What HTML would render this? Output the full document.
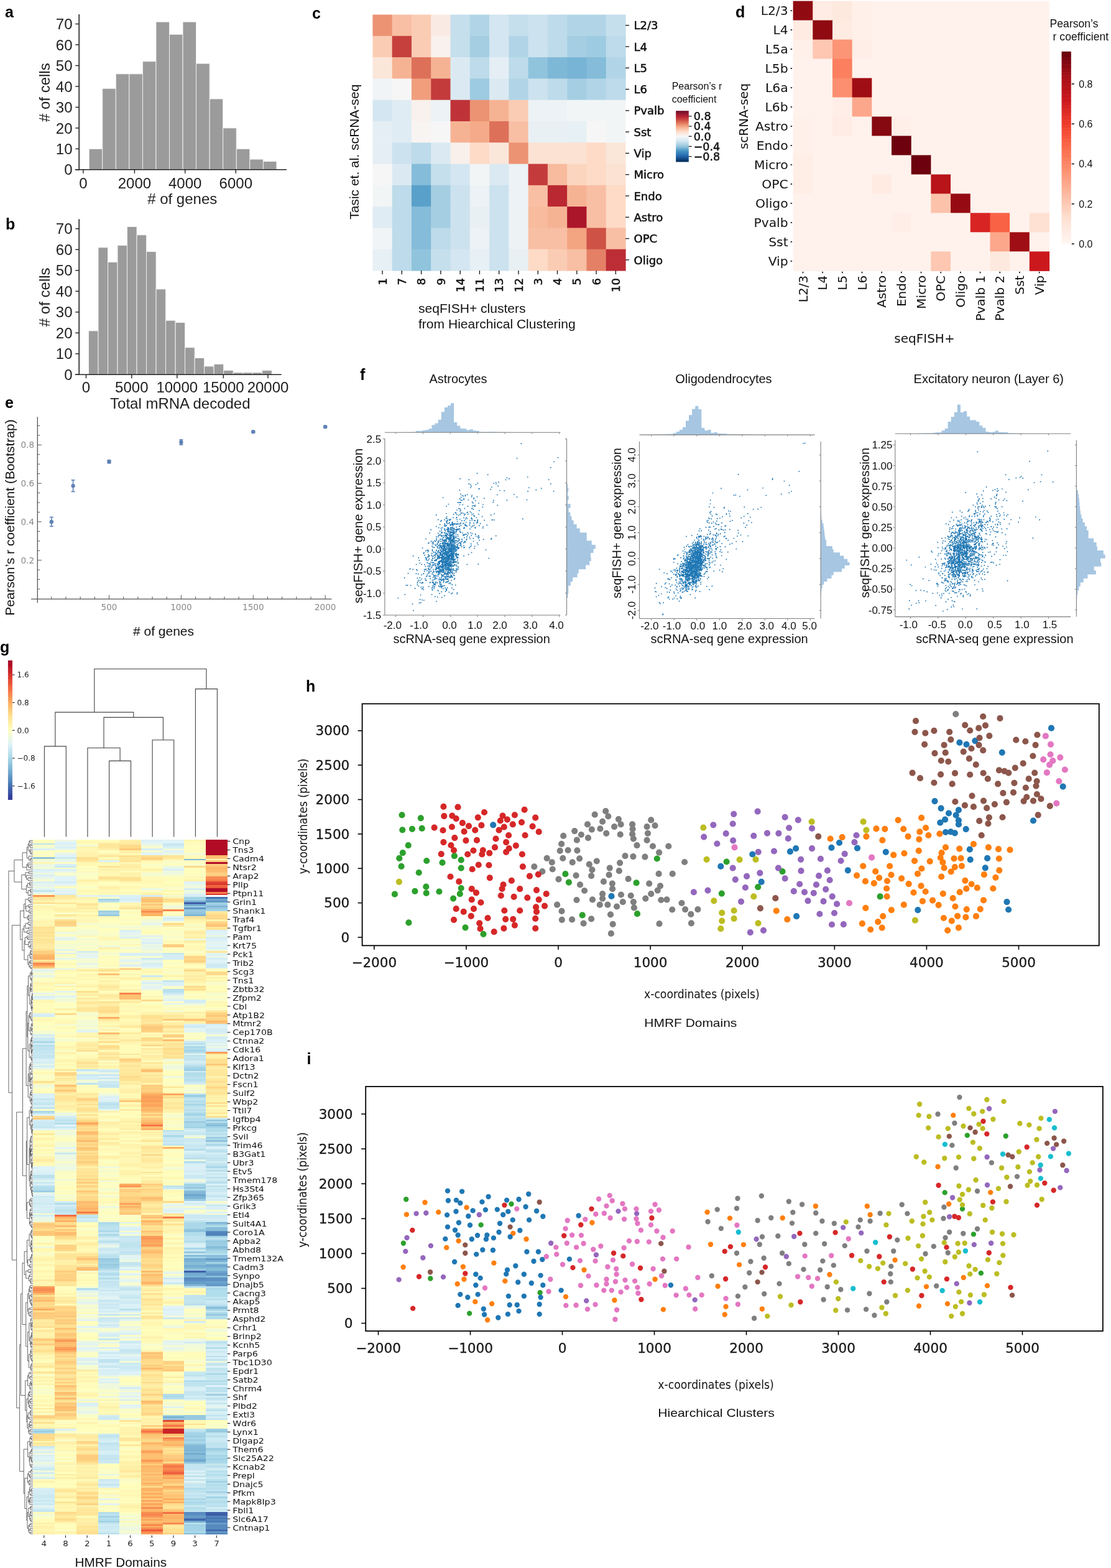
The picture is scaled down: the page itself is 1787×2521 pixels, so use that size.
<!DOCTYPE html>
<html><head><meta charset="utf-8"><title>Figure</title>
<style>html,body{margin:0;padding:0;background:#fff;} svg{display:block;}</style></head>
<body><svg width="1787" height="2521" viewBox="0 0 1787 2521" shape-rendering="auto">
<rect x="0" y="0" width="1787" height="2521" fill="#fff"/>
<text x="8.0" y="27.7" style="font-family:'Liberation Sans',Arial,sans-serif;font-size:25px;font-weight:bold" text-anchor="start" fill="#000">a</text>
<text x="9.0" y="369.0" style="font-family:'Liberation Sans',Arial,sans-serif;font-size:25px;font-weight:bold" text-anchor="start" fill="#000">b</text>
<text x="502.0" y="30.0" style="font-family:'Liberation Sans',Arial,sans-serif;font-size:25px;font-weight:bold" text-anchor="start" fill="#000">c</text>
<text x="1183.0" y="28.0" style="font-family:'Liberation Sans',Arial,sans-serif;font-size:25px;font-weight:bold" text-anchor="start" fill="#000">d</text>
<text x="8.0" y="656.0" style="font-family:'Liberation Sans',Arial,sans-serif;font-size:25px;font-weight:bold" text-anchor="start" fill="#000">e</text>
<text x="579.0" y="611.0" style="font-family:'Liberation Sans',Arial,sans-serif;font-size:25px;font-weight:bold" text-anchor="start" fill="#000">f</text>
<text x="0.0" y="1049.0" style="font-family:'Liberation Sans',Arial,sans-serif;font-size:25px;font-weight:bold" text-anchor="start" fill="#000">g</text>
<text x="492.0" y="1112.0" style="font-family:'Liberation Sans',Arial,sans-serif;font-size:25px;font-weight:bold" text-anchor="start" fill="#000">h</text>
<text x="493.5" y="1711.0" style="font-family:'Liberation Sans',Arial,sans-serif;font-size:25px;font-weight:bold" text-anchor="start" fill="#000">i</text>
<rect x="143.20" y="239.33" width="21.55" height="33.47" fill="#9b9b9b" stroke="#f4f4f4" stroke-width="0.9"/>
<rect x="164.75" y="142.27" width="21.55" height="130.53" fill="#9b9b9b" stroke="#f4f4f4" stroke-width="0.9"/>
<rect x="186.30" y="118.84" width="21.55" height="153.96" fill="#9b9b9b" stroke="#f4f4f4" stroke-width="0.9"/>
<rect x="207.85" y="118.84" width="21.55" height="153.96" fill="#9b9b9b" stroke="#f4f4f4" stroke-width="0.9"/>
<rect x="229.40" y="98.76" width="21.55" height="174.04" fill="#9b9b9b" stroke="#f4f4f4" stroke-width="0.9"/>
<rect x="250.95" y="35.16" width="21.55" height="237.64" fill="#9b9b9b" stroke="#f4f4f4" stroke-width="0.9"/>
<rect x="272.50" y="55.25" width="21.55" height="217.56" fill="#9b9b9b" stroke="#f4f4f4" stroke-width="0.9"/>
<rect x="294.05" y="35.16" width="21.55" height="237.64" fill="#9b9b9b" stroke="#f4f4f4" stroke-width="0.9"/>
<rect x="315.60" y="102.10" width="21.55" height="170.70" fill="#9b9b9b" stroke="#f4f4f4" stroke-width="0.9"/>
<rect x="337.15" y="159.00" width="21.55" height="113.80" fill="#9b9b9b" stroke="#f4f4f4" stroke-width="0.9"/>
<rect x="358.70" y="205.86" width="21.55" height="66.94" fill="#9b9b9b" stroke="#f4f4f4" stroke-width="0.9"/>
<rect x="380.25" y="239.33" width="21.55" height="33.47" fill="#9b9b9b" stroke="#f4f4f4" stroke-width="0.9"/>
<rect x="401.80" y="256.06" width="21.55" height="16.73" fill="#9b9b9b" stroke="#f4f4f4" stroke-width="0.9"/>
<rect x="423.35" y="259.41" width="21.55" height="13.39" fill="#9b9b9b" stroke="#f4f4f4" stroke-width="0.9"/>
<line x1="127.20" y1="23.00" x2="127.20" y2="273.60" stroke="#222" stroke-width="1.6"/>
<line x1="121.00" y1="272.80" x2="460.90" y2="272.80" stroke="#222" stroke-width="1.6"/>
<line x1="121.20" y1="272.80" x2="127.20" y2="272.80" stroke="#222" stroke-width="1.4"/>
<text x="116.5" y="281.4" style="font-family:'Liberation Sans',Arial,sans-serif;font-size:24px;font-weight:normal" text-anchor="end" fill="#1e1e1e">0</text>
<line x1="121.20" y1="239.33" x2="127.20" y2="239.33" stroke="#222" stroke-width="1.4"/>
<text x="116.5" y="247.9" style="font-family:'Liberation Sans',Arial,sans-serif;font-size:24px;font-weight:normal" text-anchor="end" fill="#1e1e1e">10</text>
<line x1="121.20" y1="205.86" x2="127.20" y2="205.86" stroke="#222" stroke-width="1.4"/>
<text x="116.5" y="214.5" style="font-family:'Liberation Sans',Arial,sans-serif;font-size:24px;font-weight:normal" text-anchor="end" fill="#1e1e1e">20</text>
<line x1="121.20" y1="172.39" x2="127.20" y2="172.39" stroke="#222" stroke-width="1.4"/>
<text x="116.5" y="181.0" style="font-family:'Liberation Sans',Arial,sans-serif;font-size:24px;font-weight:normal" text-anchor="end" fill="#1e1e1e">30</text>
<line x1="121.20" y1="138.92" x2="127.20" y2="138.92" stroke="#222" stroke-width="1.4"/>
<text x="116.5" y="147.5" style="font-family:'Liberation Sans',Arial,sans-serif;font-size:24px;font-weight:normal" text-anchor="end" fill="#1e1e1e">40</text>
<line x1="121.20" y1="105.45" x2="127.20" y2="105.45" stroke="#222" stroke-width="1.4"/>
<text x="116.5" y="114.1" style="font-family:'Liberation Sans',Arial,sans-serif;font-size:24px;font-weight:normal" text-anchor="end" fill="#1e1e1e">50</text>
<line x1="121.20" y1="71.98" x2="127.20" y2="71.98" stroke="#222" stroke-width="1.4"/>
<text x="116.5" y="80.6" style="font-family:'Liberation Sans',Arial,sans-serif;font-size:24px;font-weight:normal" text-anchor="end" fill="#1e1e1e">60</text>
<line x1="121.20" y1="38.51" x2="127.20" y2="38.51" stroke="#222" stroke-width="1.4"/>
<text x="116.5" y="47.1" style="font-family:'Liberation Sans',Arial,sans-serif;font-size:24px;font-weight:normal" text-anchor="end" fill="#1e1e1e">70</text>
<line x1="133.90" y1="272.80" x2="133.90" y2="278.80" stroke="#222" stroke-width="1.4"/>
<text x="133.9" y="302.5" style="font-family:'Liberation Sans',Arial,sans-serif;font-size:24px;font-weight:normal" text-anchor="middle" fill="#1e1e1e">0</text>
<line x1="216.40" y1="272.80" x2="216.40" y2="278.80" stroke="#222" stroke-width="1.4"/>
<text x="216.4" y="302.5" style="font-family:'Liberation Sans',Arial,sans-serif;font-size:24px;font-weight:normal" text-anchor="middle" fill="#1e1e1e">2000</text>
<line x1="297.70" y1="272.80" x2="297.70" y2="278.80" stroke="#222" stroke-width="1.4"/>
<text x="297.7" y="302.5" style="font-family:'Liberation Sans',Arial,sans-serif;font-size:24px;font-weight:normal" text-anchor="middle" fill="#1e1e1e">4000</text>
<line x1="379.30" y1="272.80" x2="379.30" y2="278.80" stroke="#222" stroke-width="1.4"/>
<text x="379.3" y="302.5" style="font-family:'Liberation Sans',Arial,sans-serif;font-size:24px;font-weight:normal" text-anchor="middle" fill="#1e1e1e">6000</text>
<text x="80.0" y="148.7" style="font-family:'Liberation Sans',Arial,sans-serif;font-size:24px;font-weight:normal" text-anchor="middle" fill="#1e1e1e" transform="rotate(-90 80.0 148.7)"># of cells</text>
<text x="293.2" y="327.5" style="font-family:'Liberation Sans',Arial,sans-serif;font-size:24px;font-weight:normal" text-anchor="middle" fill="#1e1e1e"># of genes</text>
<rect x="142.50" y="531.93" width="15.51" height="70.37" fill="#9b9b9b" stroke="#f4f4f4" stroke-width="0.9"/>
<rect x="158.01" y="397.89" width="15.51" height="204.41" fill="#9b9b9b" stroke="#f4f4f4" stroke-width="0.9"/>
<rect x="173.52" y="421.35" width="15.51" height="180.95" fill="#9b9b9b" stroke="#f4f4f4" stroke-width="0.9"/>
<rect x="189.03" y="394.54" width="15.51" height="207.76" fill="#9b9b9b" stroke="#f4f4f4" stroke-width="0.9"/>
<rect x="204.54" y="364.38" width="15.51" height="237.92" fill="#9b9b9b" stroke="#f4f4f4" stroke-width="0.9"/>
<rect x="220.05" y="377.78" width="15.51" height="224.52" fill="#9b9b9b" stroke="#f4f4f4" stroke-width="0.9"/>
<rect x="235.56" y="404.59" width="15.51" height="197.71" fill="#9b9b9b" stroke="#f4f4f4" stroke-width="0.9"/>
<rect x="251.07" y="464.91" width="15.51" height="137.39" fill="#9b9b9b" stroke="#f4f4f4" stroke-width="0.9"/>
<rect x="266.58" y="515.17" width="15.51" height="87.13" fill="#9b9b9b" stroke="#f4f4f4" stroke-width="0.9"/>
<rect x="282.09" y="518.52" width="15.51" height="83.78" fill="#9b9b9b" stroke="#f4f4f4" stroke-width="0.9"/>
<rect x="297.60" y="558.74" width="15.51" height="43.56" fill="#9b9b9b" stroke="#f4f4f4" stroke-width="0.9"/>
<rect x="313.11" y="575.49" width="15.51" height="26.81" fill="#9b9b9b" stroke="#f4f4f4" stroke-width="0.9"/>
<rect x="328.62" y="588.90" width="15.51" height="13.40" fill="#9b9b9b" stroke="#f4f4f4" stroke-width="0.9"/>
<rect x="344.13" y="585.54" width="15.51" height="16.75" fill="#9b9b9b" stroke="#f4f4f4" stroke-width="0.9"/>
<rect x="359.64" y="595.60" width="15.51" height="6.70" fill="#9b9b9b" stroke="#f4f4f4" stroke-width="0.9"/>
<rect x="375.15" y="598.95" width="15.51" height="3.35" fill="#9b9b9b" stroke="#f4f4f4" stroke-width="0.9"/>
<rect x="390.66" y="598.95" width="15.51" height="3.35" fill="#9b9b9b" stroke="#f4f4f4" stroke-width="0.9"/>
<rect x="406.17" y="598.95" width="15.51" height="3.35" fill="#9b9b9b" stroke="#f4f4f4" stroke-width="0.9"/>
<rect x="421.68" y="595.60" width="15.51" height="6.70" fill="#9b9b9b" stroke="#f4f4f4" stroke-width="0.9"/>
<line x1="127.20" y1="352.30" x2="127.20" y2="603.10" stroke="#222" stroke-width="1.6"/>
<line x1="121.00" y1="602.30" x2="452.60" y2="602.30" stroke="#222" stroke-width="1.6"/>
<line x1="121.20" y1="602.30" x2="127.20" y2="602.30" stroke="#222" stroke-width="1.4"/>
<text x="116.5" y="610.9" style="font-family:'Liberation Sans',Arial,sans-serif;font-size:24px;font-weight:normal" text-anchor="end" fill="#1e1e1e">0</text>
<line x1="121.20" y1="568.79" x2="127.20" y2="568.79" stroke="#222" stroke-width="1.4"/>
<text x="116.5" y="577.4" style="font-family:'Liberation Sans',Arial,sans-serif;font-size:24px;font-weight:normal" text-anchor="end" fill="#1e1e1e">10</text>
<line x1="121.20" y1="535.28" x2="127.20" y2="535.28" stroke="#222" stroke-width="1.4"/>
<text x="116.5" y="543.9" style="font-family:'Liberation Sans',Arial,sans-serif;font-size:24px;font-weight:normal" text-anchor="end" fill="#1e1e1e">20</text>
<line x1="121.20" y1="501.77" x2="127.20" y2="501.77" stroke="#222" stroke-width="1.4"/>
<text x="116.5" y="510.4" style="font-family:'Liberation Sans',Arial,sans-serif;font-size:24px;font-weight:normal" text-anchor="end" fill="#1e1e1e">30</text>
<line x1="121.20" y1="468.26" x2="127.20" y2="468.26" stroke="#222" stroke-width="1.4"/>
<text x="116.5" y="476.9" style="font-family:'Liberation Sans',Arial,sans-serif;font-size:24px;font-weight:normal" text-anchor="end" fill="#1e1e1e">40</text>
<line x1="121.20" y1="434.75" x2="127.20" y2="434.75" stroke="#222" stroke-width="1.4"/>
<text x="116.5" y="443.3" style="font-family:'Liberation Sans',Arial,sans-serif;font-size:24px;font-weight:normal" text-anchor="end" fill="#1e1e1e">50</text>
<line x1="121.20" y1="401.24" x2="127.20" y2="401.24" stroke="#222" stroke-width="1.4"/>
<text x="116.5" y="409.8" style="font-family:'Liberation Sans',Arial,sans-serif;font-size:24px;font-weight:normal" text-anchor="end" fill="#1e1e1e">60</text>
<line x1="121.20" y1="367.73" x2="127.20" y2="367.73" stroke="#222" stroke-width="1.4"/>
<text x="116.5" y="376.3" style="font-family:'Liberation Sans',Arial,sans-serif;font-size:24px;font-weight:normal" text-anchor="end" fill="#1e1e1e">70</text>
<line x1="138.50" y1="602.30" x2="138.50" y2="608.30" stroke="#222" stroke-width="1.4"/>
<text x="138.5" y="631.0" style="font-family:'Liberation Sans',Arial,sans-serif;font-size:24px;font-weight:normal" text-anchor="middle" fill="#1e1e1e">0</text>
<line x1="211.80" y1="602.30" x2="211.80" y2="608.30" stroke="#222" stroke-width="1.4"/>
<text x="211.8" y="631.0" style="font-family:'Liberation Sans',Arial,sans-serif;font-size:24px;font-weight:normal" text-anchor="middle" fill="#1e1e1e">5000</text>
<line x1="284.80" y1="602.30" x2="284.80" y2="608.30" stroke="#222" stroke-width="1.4"/>
<text x="284.8" y="631.0" style="font-family:'Liberation Sans',Arial,sans-serif;font-size:24px;font-weight:normal" text-anchor="middle" fill="#1e1e1e">10000</text>
<line x1="359.30" y1="602.30" x2="359.30" y2="608.30" stroke="#222" stroke-width="1.4"/>
<text x="359.3" y="631.0" style="font-family:'Liberation Sans',Arial,sans-serif;font-size:24px;font-weight:normal" text-anchor="middle" fill="#1e1e1e">15000</text>
<line x1="431.00" y1="602.30" x2="431.00" y2="608.30" stroke="#222" stroke-width="1.4"/>
<text x="431.0" y="631.0" style="font-family:'Liberation Sans',Arial,sans-serif;font-size:24px;font-weight:normal" text-anchor="middle" fill="#1e1e1e">20000</text>
<text x="80.0" y="477.8" style="font-family:'Liberation Sans',Arial,sans-serif;font-size:24px;font-weight:normal" text-anchor="middle" fill="#1e1e1e" transform="rotate(-90 80.0 477.8)"># of cells</text>
<text x="289.8" y="657.0" style="font-family:'Liberation Sans',Arial,sans-serif;font-size:24px;font-weight:normal" text-anchor="middle" fill="#1e1e1e">Total mRNA decoded</text>
<rect x="599.40" y="23.50" width="31.88" height="34.89" fill="#ec9374"/>
<rect x="630.68" y="23.50" width="31.88" height="34.89" fill="#f8bfa4"/>
<rect x="661.95" y="23.50" width="31.88" height="34.89" fill="#fbccb4"/>
<rect x="693.23" y="23.50" width="31.88" height="34.89" fill="#f9ebe3"/>
<rect x="724.51" y="23.50" width="31.88" height="34.89" fill="#c5dfec"/>
<rect x="755.78" y="23.50" width="31.88" height="34.89" fill="#b1d5e7"/>
<rect x="787.06" y="23.50" width="31.88" height="34.89" fill="#d4e6f1"/>
<rect x="818.34" y="23.50" width="31.88" height="34.89" fill="#c5dfec"/>
<rect x="849.62" y="23.50" width="31.88" height="34.89" fill="#cce2ef"/>
<rect x="880.89" y="23.50" width="31.88" height="34.89" fill="#bddbea"/>
<rect x="912.17" y="23.50" width="31.88" height="34.89" fill="#b1d5e7"/>
<rect x="943.45" y="23.50" width="31.88" height="34.89" fill="#b1d5e7"/>
<rect x="974.72" y="23.50" width="31.88" height="34.89" fill="#c5dfec"/>
<rect x="599.40" y="57.79" width="31.88" height="34.89" fill="#fbccb4"/>
<rect x="630.68" y="57.79" width="31.88" height="34.89" fill="#c6413e"/>
<rect x="661.95" y="57.79" width="31.88" height="34.89" fill="#fbccb4"/>
<rect x="693.23" y="57.79" width="31.88" height="34.89" fill="#f8f1ed"/>
<rect x="724.51" y="57.79" width="31.88" height="34.89" fill="#c5dfec"/>
<rect x="755.78" y="57.79" width="31.88" height="34.89" fill="#a5cee3"/>
<rect x="787.06" y="57.79" width="31.88" height="34.89" fill="#d4e6f1"/>
<rect x="818.34" y="57.79" width="31.88" height="34.89" fill="#b1d5e7"/>
<rect x="849.62" y="57.79" width="31.88" height="34.89" fill="#cce2ef"/>
<rect x="880.89" y="57.79" width="31.88" height="34.89" fill="#bddbea"/>
<rect x="912.17" y="57.79" width="31.88" height="34.89" fill="#a5cee3"/>
<rect x="943.45" y="57.79" width="31.88" height="34.89" fill="#9dcbe1"/>
<rect x="974.72" y="57.79" width="31.88" height="34.89" fill="#bddbea"/>
<rect x="599.40" y="92.08" width="31.88" height="34.89" fill="#fbe6da"/>
<rect x="630.68" y="92.08" width="31.88" height="34.89" fill="#f6b394"/>
<rect x="661.95" y="92.08" width="31.88" height="34.89" fill="#dd7059"/>
<rect x="693.23" y="92.08" width="31.88" height="34.89" fill="#f6b394"/>
<rect x="724.51" y="92.08" width="31.88" height="34.89" fill="#dbeaf2"/>
<rect x="755.78" y="92.08" width="31.88" height="34.89" fill="#bddbea"/>
<rect x="787.06" y="92.08" width="31.88" height="34.89" fill="#e4eef4"/>
<rect x="818.34" y="92.08" width="31.88" height="34.89" fill="#bddbea"/>
<rect x="849.62" y="92.08" width="31.88" height="34.89" fill="#90c4dd"/>
<rect x="880.89" y="92.08" width="31.88" height="34.89" fill="#7eb8d7"/>
<rect x="912.17" y="92.08" width="31.88" height="34.89" fill="#78b4d5"/>
<rect x="943.45" y="92.08" width="31.88" height="34.89" fill="#84bcd9"/>
<rect x="974.72" y="92.08" width="31.88" height="34.89" fill="#b1d5e7"/>
<rect x="599.40" y="126.38" width="31.88" height="34.89" fill="#f0f4f6"/>
<rect x="630.68" y="126.38" width="31.88" height="34.89" fill="#f7f6f6"/>
<rect x="661.95" y="126.38" width="31.88" height="34.89" fill="#f19e7d"/>
<rect x="693.23" y="126.38" width="31.88" height="34.89" fill="#c43b3c"/>
<rect x="724.51" y="126.38" width="31.88" height="34.89" fill="#dbeaf2"/>
<rect x="755.78" y="126.38" width="31.88" height="34.89" fill="#9dcbe1"/>
<rect x="787.06" y="126.38" width="31.88" height="34.89" fill="#dbeaf2"/>
<rect x="818.34" y="126.38" width="31.88" height="34.89" fill="#b1d5e7"/>
<rect x="849.62" y="126.38" width="31.88" height="34.89" fill="#cce2ef"/>
<rect x="880.89" y="126.38" width="31.88" height="34.89" fill="#bddbea"/>
<rect x="912.17" y="126.38" width="31.88" height="34.89" fill="#a5cee3"/>
<rect x="943.45" y="126.38" width="31.88" height="34.89" fill="#b1d5e7"/>
<rect x="974.72" y="126.38" width="31.88" height="34.89" fill="#bddbea"/>
<rect x="599.40" y="160.67" width="31.88" height="34.89" fill="#d4e6f1"/>
<rect x="630.68" y="160.67" width="31.88" height="34.89" fill="#e0ecf3"/>
<rect x="661.95" y="160.67" width="31.88" height="34.89" fill="#f8f1ed"/>
<rect x="693.23" y="160.67" width="31.88" height="34.89" fill="#ecf2f5"/>
<rect x="724.51" y="160.67" width="31.88" height="34.89" fill="#bf3338"/>
<rect x="755.78" y="160.67" width="31.88" height="34.89" fill="#ec9374"/>
<rect x="787.06" y="160.67" width="31.88" height="34.89" fill="#f6b394"/>
<rect x="818.34" y="160.67" width="31.88" height="34.89" fill="#fbccb4"/>
<rect x="849.62" y="160.67" width="31.88" height="34.89" fill="#ecf2f5"/>
<rect x="880.89" y="160.67" width="31.88" height="34.89" fill="#ecf2f5"/>
<rect x="912.17" y="160.67" width="31.88" height="34.89" fill="#f2f5f6"/>
<rect x="943.45" y="160.67" width="31.88" height="34.89" fill="#f2f5f6"/>
<rect x="974.72" y="160.67" width="31.88" height="34.89" fill="#f2f5f6"/>
<rect x="599.40" y="194.96" width="31.88" height="34.89" fill="#e4eef4"/>
<rect x="630.68" y="194.96" width="31.88" height="34.89" fill="#e0ecf3"/>
<rect x="661.95" y="194.96" width="31.88" height="34.89" fill="#f8f4f2"/>
<rect x="693.23" y="194.96" width="31.88" height="34.89" fill="#f7f6f6"/>
<rect x="724.51" y="194.96" width="31.88" height="34.89" fill="#f6b394"/>
<rect x="755.78" y="194.96" width="31.88" height="34.89" fill="#f5aa89"/>
<rect x="787.06" y="194.96" width="31.88" height="34.89" fill="#dd7059"/>
<rect x="818.34" y="194.96" width="31.88" height="34.89" fill="#f8bfa4"/>
<rect x="849.62" y="194.96" width="31.88" height="34.89" fill="#e9f0f4"/>
<rect x="880.89" y="194.96" width="31.88" height="34.89" fill="#e9f0f4"/>
<rect x="912.17" y="194.96" width="31.88" height="34.89" fill="#e7f0f4"/>
<rect x="943.45" y="194.96" width="31.88" height="34.89" fill="#f7f6f6"/>
<rect x="974.72" y="194.96" width="31.88" height="34.89" fill="#f2f5f6"/>
<rect x="599.40" y="229.25" width="31.88" height="34.89" fill="#e4eef4"/>
<rect x="630.68" y="229.25" width="31.88" height="34.89" fill="#cce2ef"/>
<rect x="661.95" y="229.25" width="31.88" height="34.89" fill="#bddbea"/>
<rect x="693.23" y="229.25" width="31.88" height="34.89" fill="#dbeaf2"/>
<rect x="724.51" y="229.25" width="31.88" height="34.89" fill="#f9f0eb"/>
<rect x="755.78" y="229.25" width="31.88" height="34.89" fill="#fddbc7"/>
<rect x="787.06" y="229.25" width="31.88" height="34.89" fill="#fbe6da"/>
<rect x="818.34" y="229.25" width="31.88" height="34.89" fill="#ec9374"/>
<rect x="849.62" y="229.25" width="31.88" height="34.89" fill="#fce2d2"/>
<rect x="880.89" y="229.25" width="31.88" height="34.89" fill="#fce2d2"/>
<rect x="912.17" y="229.25" width="31.88" height="34.89" fill="#fce2d2"/>
<rect x="943.45" y="229.25" width="31.88" height="34.89" fill="#fddbc7"/>
<rect x="974.72" y="229.25" width="31.88" height="34.89" fill="#fbe6da"/>
<rect x="599.40" y="263.54" width="31.88" height="34.89" fill="#f7f6f6"/>
<rect x="630.68" y="263.54" width="31.88" height="34.89" fill="#dbeaf2"/>
<rect x="661.95" y="263.54" width="31.88" height="34.89" fill="#84bcd9"/>
<rect x="693.23" y="263.54" width="31.88" height="34.89" fill="#c5dfec"/>
<rect x="724.51" y="263.54" width="31.88" height="34.89" fill="#d4e6f1"/>
<rect x="755.78" y="263.54" width="31.88" height="34.89" fill="#f2f5f6"/>
<rect x="787.06" y="263.54" width="31.88" height="34.89" fill="#dbeaf2"/>
<rect x="818.34" y="263.54" width="31.88" height="34.89" fill="#ecf2f5"/>
<rect x="849.62" y="263.54" width="31.88" height="34.89" fill="#c43b3c"/>
<rect x="880.89" y="263.54" width="31.88" height="34.89" fill="#f8bb9e"/>
<rect x="912.17" y="263.54" width="31.88" height="34.89" fill="#fcd5bf"/>
<rect x="943.45" y="263.54" width="31.88" height="34.89" fill="#fddbc7"/>
<rect x="974.72" y="263.54" width="31.88" height="34.89" fill="#fce2d2"/>
<rect x="599.40" y="297.83" width="31.88" height="34.89" fill="#f2f5f6"/>
<rect x="630.68" y="297.83" width="31.88" height="34.89" fill="#bddbea"/>
<rect x="661.95" y="297.83" width="31.88" height="34.89" fill="#59a1ca"/>
<rect x="693.23" y="297.83" width="31.88" height="34.89" fill="#a5cee3"/>
<rect x="724.51" y="297.83" width="31.88" height="34.89" fill="#cce2ef"/>
<rect x="755.78" y="297.83" width="31.88" height="34.89" fill="#ecf2f5"/>
<rect x="787.06" y="297.83" width="31.88" height="34.89" fill="#cce2ef"/>
<rect x="818.34" y="297.83" width="31.88" height="34.89" fill="#ecf2f5"/>
<rect x="849.62" y="297.83" width="31.88" height="34.89" fill="#f8bfa4"/>
<rect x="880.89" y="297.83" width="31.88" height="34.89" fill="#ba2832"/>
<rect x="912.17" y="297.83" width="31.88" height="34.89" fill="#f6b394"/>
<rect x="943.45" y="297.83" width="31.88" height="34.89" fill="#f8bfa4"/>
<rect x="974.72" y="297.83" width="31.88" height="34.89" fill="#fddbc7"/>
<rect x="599.40" y="332.12" width="31.88" height="34.89" fill="#e0ecf3"/>
<rect x="630.68" y="332.12" width="31.88" height="34.89" fill="#bddbea"/>
<rect x="661.95" y="332.12" width="31.88" height="34.89" fill="#84bcd9"/>
<rect x="693.23" y="332.12" width="31.88" height="34.89" fill="#a5cee3"/>
<rect x="724.51" y="332.12" width="31.88" height="34.89" fill="#cce2ef"/>
<rect x="755.78" y="332.12" width="31.88" height="34.89" fill="#e9f0f4"/>
<rect x="787.06" y="332.12" width="31.88" height="34.89" fill="#cce2ef"/>
<rect x="818.34" y="332.12" width="31.88" height="34.89" fill="#edf2f5"/>
<rect x="849.62" y="332.12" width="31.88" height="34.89" fill="#f8bb9e"/>
<rect x="880.89" y="332.12" width="31.88" height="34.89" fill="#f6b394"/>
<rect x="912.17" y="332.12" width="31.88" height="34.89" fill="#ab162a"/>
<rect x="943.45" y="332.12" width="31.88" height="34.89" fill="#f8bfa4"/>
<rect x="974.72" y="332.12" width="31.88" height="34.89" fill="#fddbc7"/>
<rect x="599.40" y="366.42" width="31.88" height="34.89" fill="#f0f4f6"/>
<rect x="630.68" y="366.42" width="31.88" height="34.89" fill="#bddbea"/>
<rect x="661.95" y="366.42" width="31.88" height="34.89" fill="#84bcd9"/>
<rect x="693.23" y="366.42" width="31.88" height="34.89" fill="#bddbea"/>
<rect x="724.51" y="366.42" width="31.88" height="34.89" fill="#cce2ef"/>
<rect x="755.78" y="366.42" width="31.88" height="34.89" fill="#ecf2f5"/>
<rect x="787.06" y="366.42" width="31.88" height="34.89" fill="#cce2ef"/>
<rect x="818.34" y="366.42" width="31.88" height="34.89" fill="#edf2f5"/>
<rect x="849.62" y="366.42" width="31.88" height="34.89" fill="#f8bfa4"/>
<rect x="880.89" y="366.42" width="31.88" height="34.89" fill="#f8bfa4"/>
<rect x="912.17" y="366.42" width="31.88" height="34.89" fill="#f3a481"/>
<rect x="943.45" y="366.42" width="31.88" height="34.89" fill="#cf5246"/>
<rect x="974.72" y="366.42" width="31.88" height="34.89" fill="#f8bfa4"/>
<rect x="599.40" y="400.71" width="31.88" height="34.89" fill="#e7f0f4"/>
<rect x="630.68" y="400.71" width="31.88" height="34.89" fill="#bddbea"/>
<rect x="661.95" y="400.71" width="31.88" height="34.89" fill="#90c4dd"/>
<rect x="693.23" y="400.71" width="31.88" height="34.89" fill="#c5dfec"/>
<rect x="724.51" y="400.71" width="31.88" height="34.89" fill="#d4e6f1"/>
<rect x="755.78" y="400.71" width="31.88" height="34.89" fill="#e7f0f4"/>
<rect x="787.06" y="400.71" width="31.88" height="34.89" fill="#cce2ef"/>
<rect x="818.34" y="400.71" width="31.88" height="34.89" fill="#e9f0f4"/>
<rect x="849.62" y="400.71" width="31.88" height="34.89" fill="#fddbc7"/>
<rect x="880.89" y="400.71" width="31.88" height="34.89" fill="#fbccb4"/>
<rect x="912.17" y="400.71" width="31.88" height="34.89" fill="#f8bfa4"/>
<rect x="943.45" y="400.71" width="31.88" height="34.89" fill="#e48066"/>
<rect x="974.72" y="400.71" width="31.88" height="34.89" fill="#bd2d35"/>
<line x1="1006.00" y1="40.65" x2="1012.00" y2="40.65" stroke="#111" stroke-width="1.3"/>
<text x="1019.5" y="47.2" style="font-family:'DejaVu Sans','Liberation Sans',sans-serif;font-size:18px;font-weight:normal" text-anchor="start" fill="#111" stroke="#111" stroke-width="0.55">L2/3</text>
<line x1="1006.00" y1="74.94" x2="1012.00" y2="74.94" stroke="#111" stroke-width="1.3"/>
<text x="1019.5" y="81.5" style="font-family:'DejaVu Sans','Liberation Sans',sans-serif;font-size:18px;font-weight:normal" text-anchor="start" fill="#111" stroke="#111" stroke-width="0.55">L4</text>
<line x1="1006.00" y1="109.23" x2="1012.00" y2="109.23" stroke="#111" stroke-width="1.3"/>
<text x="1019.5" y="115.8" style="font-family:'DejaVu Sans','Liberation Sans',sans-serif;font-size:18px;font-weight:normal" text-anchor="start" fill="#111" stroke="#111" stroke-width="0.55">L5</text>
<line x1="1006.00" y1="143.52" x2="1012.00" y2="143.52" stroke="#111" stroke-width="1.3"/>
<text x="1019.5" y="150.1" style="font-family:'DejaVu Sans','Liberation Sans',sans-serif;font-size:18px;font-weight:normal" text-anchor="start" fill="#111" stroke="#111" stroke-width="0.55">L6</text>
<line x1="1006.00" y1="177.81" x2="1012.00" y2="177.81" stroke="#111" stroke-width="1.3"/>
<text x="1019.5" y="184.4" style="font-family:'DejaVu Sans','Liberation Sans',sans-serif;font-size:18px;font-weight:normal" text-anchor="start" fill="#111" stroke="#111" stroke-width="0.55">Pvalb</text>
<line x1="1006.00" y1="212.10" x2="1012.00" y2="212.10" stroke="#111" stroke-width="1.3"/>
<text x="1019.5" y="218.7" style="font-family:'DejaVu Sans','Liberation Sans',sans-serif;font-size:18px;font-weight:normal" text-anchor="start" fill="#111" stroke="#111" stroke-width="0.55">Sst</text>
<line x1="1006.00" y1="246.40" x2="1012.00" y2="246.40" stroke="#111" stroke-width="1.3"/>
<text x="1019.5" y="253.0" style="font-family:'DejaVu Sans','Liberation Sans',sans-serif;font-size:18px;font-weight:normal" text-anchor="start" fill="#111" stroke="#111" stroke-width="0.55">Vip</text>
<line x1="1006.00" y1="280.69" x2="1012.00" y2="280.69" stroke="#111" stroke-width="1.3"/>
<text x="1019.5" y="287.3" style="font-family:'DejaVu Sans','Liberation Sans',sans-serif;font-size:18px;font-weight:normal" text-anchor="start" fill="#111" stroke="#111" stroke-width="0.55">Micro</text>
<line x1="1006.00" y1="314.98" x2="1012.00" y2="314.98" stroke="#111" stroke-width="1.3"/>
<text x="1019.5" y="321.6" style="font-family:'DejaVu Sans','Liberation Sans',sans-serif;font-size:18px;font-weight:normal" text-anchor="start" fill="#111" stroke="#111" stroke-width="0.55">Endo</text>
<line x1="1006.00" y1="349.27" x2="1012.00" y2="349.27" stroke="#111" stroke-width="1.3"/>
<text x="1019.5" y="355.9" style="font-family:'DejaVu Sans','Liberation Sans',sans-serif;font-size:18px;font-weight:normal" text-anchor="start" fill="#111" stroke="#111" stroke-width="0.55">Astro</text>
<line x1="1006.00" y1="383.56" x2="1012.00" y2="383.56" stroke="#111" stroke-width="1.3"/>
<text x="1019.5" y="390.2" style="font-family:'DejaVu Sans','Liberation Sans',sans-serif;font-size:18px;font-weight:normal" text-anchor="start" fill="#111" stroke="#111" stroke-width="0.55">OPC</text>
<line x1="1006.00" y1="417.85" x2="1012.00" y2="417.85" stroke="#111" stroke-width="1.3"/>
<text x="1019.5" y="424.5" style="font-family:'DejaVu Sans','Liberation Sans',sans-serif;font-size:18px;font-weight:normal" text-anchor="start" fill="#111" stroke="#111" stroke-width="0.55">Oligo</text>
<line x1="615.04" y1="435.00" x2="615.04" y2="441.00" stroke="#111" stroke-width="1.3"/>
<text x="621.6" y="447.0" style="font-family:'DejaVu Sans','Liberation Sans',sans-serif;font-size:18px;font-weight:normal" text-anchor="end" fill="#111" transform="rotate(-90 621.6 447.0)" stroke="#111" stroke-width="0.55">1</text>
<line x1="646.32" y1="435.00" x2="646.32" y2="441.00" stroke="#111" stroke-width="1.3"/>
<text x="652.9" y="447.0" style="font-family:'DejaVu Sans','Liberation Sans',sans-serif;font-size:18px;font-weight:normal" text-anchor="end" fill="#111" transform="rotate(-90 652.9 447.0)" stroke="#111" stroke-width="0.55">7</text>
<line x1="677.59" y1="435.00" x2="677.59" y2="441.00" stroke="#111" stroke-width="1.3"/>
<text x="684.2" y="447.0" style="font-family:'DejaVu Sans','Liberation Sans',sans-serif;font-size:18px;font-weight:normal" text-anchor="end" fill="#111" transform="rotate(-90 684.2 447.0)" stroke="#111" stroke-width="0.55">8</text>
<line x1="708.87" y1="435.00" x2="708.87" y2="441.00" stroke="#111" stroke-width="1.3"/>
<text x="715.5" y="447.0" style="font-family:'DejaVu Sans','Liberation Sans',sans-serif;font-size:18px;font-weight:normal" text-anchor="end" fill="#111" transform="rotate(-90 715.5 447.0)" stroke="#111" stroke-width="0.55">9</text>
<line x1="740.15" y1="435.00" x2="740.15" y2="441.00" stroke="#111" stroke-width="1.3"/>
<text x="746.7" y="447.0" style="font-family:'DejaVu Sans','Liberation Sans',sans-serif;font-size:18px;font-weight:normal" text-anchor="end" fill="#111" transform="rotate(-90 746.7 447.0)" stroke="#111" stroke-width="0.55">14</text>
<line x1="771.42" y1="435.00" x2="771.42" y2="441.00" stroke="#111" stroke-width="1.3"/>
<text x="778.0" y="447.0" style="font-family:'DejaVu Sans','Liberation Sans',sans-serif;font-size:18px;font-weight:normal" text-anchor="end" fill="#111" transform="rotate(-90 778.0 447.0)" stroke="#111" stroke-width="0.55">11</text>
<line x1="802.70" y1="435.00" x2="802.70" y2="441.00" stroke="#111" stroke-width="1.3"/>
<text x="809.3" y="447.0" style="font-family:'DejaVu Sans','Liberation Sans',sans-serif;font-size:18px;font-weight:normal" text-anchor="end" fill="#111" transform="rotate(-90 809.3 447.0)" stroke="#111" stroke-width="0.55">13</text>
<line x1="833.98" y1="435.00" x2="833.98" y2="441.00" stroke="#111" stroke-width="1.3"/>
<text x="840.6" y="447.0" style="font-family:'DejaVu Sans','Liberation Sans',sans-serif;font-size:18px;font-weight:normal" text-anchor="end" fill="#111" transform="rotate(-90 840.6 447.0)" stroke="#111" stroke-width="0.55">12</text>
<line x1="865.25" y1="435.00" x2="865.25" y2="441.00" stroke="#111" stroke-width="1.3"/>
<text x="871.9" y="447.0" style="font-family:'DejaVu Sans','Liberation Sans',sans-serif;font-size:18px;font-weight:normal" text-anchor="end" fill="#111" transform="rotate(-90 871.9 447.0)" stroke="#111" stroke-width="0.55">3</text>
<line x1="896.53" y1="435.00" x2="896.53" y2="441.00" stroke="#111" stroke-width="1.3"/>
<text x="903.1" y="447.0" style="font-family:'DejaVu Sans','Liberation Sans',sans-serif;font-size:18px;font-weight:normal" text-anchor="end" fill="#111" transform="rotate(-90 903.1 447.0)" stroke="#111" stroke-width="0.55">4</text>
<line x1="927.81" y1="435.00" x2="927.81" y2="441.00" stroke="#111" stroke-width="1.3"/>
<text x="934.4" y="447.0" style="font-family:'DejaVu Sans','Liberation Sans',sans-serif;font-size:18px;font-weight:normal" text-anchor="end" fill="#111" transform="rotate(-90 934.4 447.0)" stroke="#111" stroke-width="0.55">5</text>
<line x1="959.08" y1="435.00" x2="959.08" y2="441.00" stroke="#111" stroke-width="1.3"/>
<text x="965.7" y="447.0" style="font-family:'DejaVu Sans','Liberation Sans',sans-serif;font-size:18px;font-weight:normal" text-anchor="end" fill="#111" transform="rotate(-90 965.7 447.0)" stroke="#111" stroke-width="0.55">6</text>
<line x1="990.36" y1="435.00" x2="990.36" y2="441.00" stroke="#111" stroke-width="1.3"/>
<text x="997.0" y="447.0" style="font-family:'DejaVu Sans','Liberation Sans',sans-serif;font-size:18px;font-weight:normal" text-anchor="end" fill="#111" transform="rotate(-90 997.0 447.0)" stroke="#111" stroke-width="0.55">10</text>
<text x="673.0" y="503.0" style="font-family:'Liberation Sans',Arial,sans-serif;font-size:20.5px;font-weight:normal" text-anchor="start" fill="#111" textLength="172.6" lengthAdjust="spacingAndGlyphs">seqFISH+ clusters</text>
<text x="673.0" y="528.0" style="font-family:'Liberation Sans',Arial,sans-serif;font-size:20.5px;font-weight:normal" text-anchor="start" fill="#111" textLength="252.7" lengthAdjust="spacingAndGlyphs">from Hiearchical Clustering</text>
<text x="577.0" y="244.2" style="font-family:'Liberation Sans',Arial,sans-serif;font-size:21px;font-weight:normal" text-anchor="middle" fill="#111" transform="rotate(-90 577.0 244.2)">Tasic et. al. scRNA-seq</text>
<rect x="1087.20" y="178.20" width="20.50" height="1.52" fill="#67001f"/>
<rect x="1087.20" y="179.22" width="20.50" height="1.52" fill="#700320"/>
<rect x="1087.20" y="180.24" width="20.50" height="1.52" fill="#790622"/>
<rect x="1087.20" y="181.26" width="20.50" height="1.52" fill="#810823"/>
<rect x="1087.20" y="182.28" width="20.50" height="1.52" fill="#8a0b25"/>
<rect x="1087.20" y="183.31" width="20.50" height="1.52" fill="#960f27"/>
<rect x="1087.20" y="184.33" width="20.50" height="1.52" fill="#9f1228"/>
<rect x="1087.20" y="185.35" width="20.50" height="1.52" fill="#a81529"/>
<rect x="1087.20" y="186.37" width="20.50" height="1.52" fill="#b1182b"/>
<rect x="1087.20" y="187.39" width="20.50" height="1.52" fill="#b72230"/>
<rect x="1087.20" y="188.41" width="20.50" height="1.52" fill="#bb2a34"/>
<rect x="1087.20" y="189.43" width="20.50" height="1.52" fill="#bf3338"/>
<rect x="1087.20" y="190.45" width="20.50" height="1.52" fill="#c43b3c"/>
<rect x="1087.20" y="191.48" width="20.50" height="1.52" fill="#c94741"/>
<rect x="1087.20" y="192.50" width="20.50" height="1.52" fill="#ce4f45"/>
<rect x="1087.20" y="193.52" width="20.50" height="1.52" fill="#d25849"/>
<rect x="1087.20" y="194.54" width="20.50" height="1.52" fill="#d6604d"/>
<rect x="1087.20" y="195.56" width="20.50" height="1.52" fill="#db6b55"/>
<rect x="1087.20" y="196.58" width="20.50" height="1.52" fill="#de735c"/>
<rect x="1087.20" y="197.60" width="20.50" height="1.52" fill="#e27b62"/>
<rect x="1087.20" y="198.62" width="20.50" height="1.52" fill="#e58368"/>
<rect x="1087.20" y="199.65" width="20.50" height="1.52" fill="#ea8e70"/>
<rect x="1087.20" y="200.67" width="20.50" height="1.52" fill="#ee9677"/>
<rect x="1087.20" y="201.69" width="20.50" height="1.52" fill="#f19e7d"/>
<rect x="1087.20" y="202.71" width="20.50" height="1.52" fill="#f4a683"/>
<rect x="1087.20" y="203.73" width="20.50" height="1.52" fill="#f6af8e"/>
<rect x="1087.20" y="204.75" width="20.50" height="1.52" fill="#f7b596"/>
<rect x="1087.20" y="205.77" width="20.50" height="1.52" fill="#f8bb9e"/>
<rect x="1087.20" y="206.79" width="20.50" height="1.52" fill="#f9c2a7"/>
<rect x="1087.20" y="207.82" width="20.50" height="1.52" fill="#fac8af"/>
<rect x="1087.20" y="208.84" width="20.50" height="1.52" fill="#fbd0b9"/>
<rect x="1087.20" y="209.86" width="20.50" height="1.52" fill="#fcd7c2"/>
<rect x="1087.20" y="210.88" width="20.50" height="1.52" fill="#fddcc9"/>
<rect x="1087.20" y="211.90" width="20.50" height="1.52" fill="#fcdfcf"/>
<rect x="1087.20" y="212.92" width="20.50" height="1.52" fill="#fbe4d6"/>
<rect x="1087.20" y="213.94" width="20.50" height="1.52" fill="#fae7dc"/>
<rect x="1087.20" y="214.96" width="20.50" height="1.52" fill="#faeae1"/>
<rect x="1087.20" y="215.99" width="20.50" height="1.52" fill="#f9eee7"/>
<rect x="1087.20" y="217.01" width="20.50" height="1.52" fill="#f8f2ef"/>
<rect x="1087.20" y="218.03" width="20.50" height="1.52" fill="#f7f5f4"/>
<rect x="1087.20" y="219.05" width="20.50" height="1.52" fill="#f5f6f7"/>
<rect x="1087.20" y="220.07" width="20.50" height="1.52" fill="#f0f4f6"/>
<rect x="1087.20" y="221.09" width="20.50" height="1.52" fill="#eaf1f5"/>
<rect x="1087.20" y="222.11" width="20.50" height="1.52" fill="#e6eff4"/>
<rect x="1087.20" y="223.13" width="20.50" height="1.52" fill="#e1edf3"/>
<rect x="1087.20" y="224.16" width="20.50" height="1.52" fill="#ddebf2"/>
<rect x="1087.20" y="225.18" width="20.50" height="1.52" fill="#d7e8f1"/>
<rect x="1087.20" y="226.20" width="20.50" height="1.52" fill="#d2e6f0"/>
<rect x="1087.20" y="227.22" width="20.50" height="1.52" fill="#cce2ef"/>
<rect x="1087.20" y="228.24" width="20.50" height="1.52" fill="#c5dfec"/>
<rect x="1087.20" y="229.26" width="20.50" height="1.52" fill="#bbdaea"/>
<rect x="1087.20" y="230.28" width="20.50" height="1.52" fill="#b3d6e8"/>
<rect x="1087.20" y="231.30" width="20.50" height="1.52" fill="#acd2e5"/>
<rect x="1087.20" y="232.33" width="20.50" height="1.52" fill="#a5cee3"/>
<rect x="1087.20" y="233.35" width="20.50" height="1.52" fill="#9dcbe1"/>
<rect x="1087.20" y="234.37" width="20.50" height="1.52" fill="#93c6de"/>
<rect x="1087.20" y="235.39" width="20.50" height="1.52" fill="#8ac0db"/>
<rect x="1087.20" y="236.41" width="20.50" height="1.52" fill="#81bad8"/>
<rect x="1087.20" y="237.43" width="20.50" height="1.52" fill="#78b4d5"/>
<rect x="1087.20" y="238.45" width="20.50" height="1.52" fill="#6bacd1"/>
<rect x="1087.20" y="239.47" width="20.50" height="1.52" fill="#62a7ce"/>
<rect x="1087.20" y="240.50" width="20.50" height="1.52" fill="#59a1ca"/>
<rect x="1087.20" y="241.52" width="20.50" height="1.52" fill="#4f9bc7"/>
<rect x="1087.20" y="242.54" width="20.50" height="1.52" fill="#4393c3"/>
<rect x="1087.20" y="243.56" width="20.50" height="1.52" fill="#3f8ec0"/>
<rect x="1087.20" y="244.58" width="20.50" height="1.52" fill="#3b88be"/>
<rect x="1087.20" y="245.60" width="20.50" height="1.52" fill="#3783bb"/>
<rect x="1087.20" y="246.62" width="20.50" height="1.52" fill="#327cb7"/>
<rect x="1087.20" y="247.64" width="20.50" height="1.52" fill="#2e77b5"/>
<rect x="1087.20" y="248.67" width="20.50" height="1.52" fill="#2a71b2"/>
<rect x="1087.20" y="249.69" width="20.50" height="1.52" fill="#266caf"/>
<rect x="1087.20" y="250.71" width="20.50" height="1.52" fill="#2065ab"/>
<rect x="1087.20" y="251.73" width="20.50" height="1.52" fill="#1d5fa2"/>
<rect x="1087.20" y="252.75" width="20.50" height="1.52" fill="#1a5899"/>
<rect x="1087.20" y="253.77" width="20.50" height="1.52" fill="#175290"/>
<rect x="1087.20" y="254.79" width="20.50" height="1.52" fill="#124984"/>
<rect x="1087.20" y="255.81" width="20.50" height="1.52" fill="#0f437b"/>
<rect x="1087.20" y="256.84" width="20.50" height="1.52" fill="#0c3d73"/>
<rect x="1087.20" y="257.86" width="20.50" height="1.52" fill="#08366a"/>
<rect x="1087.20" y="258.88" width="20.50" height="1.52" fill="#053061"/>
<line x1="1107.70" y1="186.80" x2="1112.70" y2="186.80" stroke="#111" stroke-width="1.2"/>
<text x="1115.7" y="193.2" style="font-family:'DejaVu Sans','Liberation Sans',sans-serif;font-size:17.5px;font-weight:normal" text-anchor="start" fill="#111" stroke="#111" stroke-width="0.5">0.8</text>
<line x1="1107.70" y1="203.00" x2="1112.70" y2="203.00" stroke="#111" stroke-width="1.2"/>
<text x="1115.7" y="209.4" style="font-family:'DejaVu Sans','Liberation Sans',sans-serif;font-size:17.5px;font-weight:normal" text-anchor="start" fill="#111" stroke="#111" stroke-width="0.5">0.4</text>
<line x1="1107.70" y1="219.20" x2="1112.70" y2="219.20" stroke="#111" stroke-width="1.2"/>
<text x="1115.7" y="225.6" style="font-family:'DejaVu Sans','Liberation Sans',sans-serif;font-size:17.5px;font-weight:normal" text-anchor="start" fill="#111" stroke="#111" stroke-width="0.5">0.0</text>
<line x1="1107.70" y1="235.40" x2="1112.70" y2="235.40" stroke="#111" stroke-width="1.2"/>
<text x="1115.7" y="241.8" style="font-family:'DejaVu Sans','Liberation Sans',sans-serif;font-size:17.5px;font-weight:normal" text-anchor="start" fill="#111" stroke="#111" stroke-width="0.5">−0.4</text>
<line x1="1107.70" y1="251.60" x2="1112.70" y2="251.60" stroke="#111" stroke-width="1.2"/>
<text x="1115.7" y="258.0" style="font-family:'DejaVu Sans','Liberation Sans',sans-serif;font-size:17.5px;font-weight:normal" text-anchor="start" fill="#111" stroke="#111" stroke-width="0.5">−0.8</text>
<text x="1080.7" y="143.8" style="font-family:'Liberation Sans',Arial,sans-serif;font-size:16px;font-weight:normal" text-anchor="start" fill="#111">Pearson’s r</text>
<text x="1080.7" y="164.9" style="font-family:'Liberation Sans',Arial,sans-serif;font-size:16px;font-weight:normal" text-anchor="start" fill="#111">coefficient</text>
<rect x="1275.60" y="1.60" width="32.28" height="31.58" fill="#900a12"/>
<rect x="1307.28" y="1.60" width="32.28" height="31.58" fill="#ffece4"/>
<rect x="1338.97" y="1.60" width="32.28" height="31.58" fill="#fee9df"/>
<rect x="1370.65" y="1.60" width="32.28" height="31.58" fill="#fff0e9"/>
<rect x="1402.34" y="1.60" width="32.28" height="31.58" fill="#fff2ec"/>
<rect x="1434.02" y="1.60" width="32.28" height="31.58" fill="#fff2ec"/>
<rect x="1465.71" y="1.60" width="32.28" height="31.58" fill="#fff2ec"/>
<rect x="1497.39" y="1.60" width="32.28" height="31.58" fill="#fff2ec"/>
<rect x="1529.08" y="1.60" width="32.28" height="31.58" fill="#fff2ec"/>
<rect x="1560.76" y="1.60" width="32.28" height="31.58" fill="#fff2ec"/>
<rect x="1592.45" y="1.60" width="32.28" height="31.58" fill="#fff2ec"/>
<rect x="1624.13" y="1.60" width="32.28" height="31.58" fill="#fff2ec"/>
<rect x="1655.82" y="1.60" width="32.28" height="31.58" fill="#fff2ec"/>
<rect x="1275.60" y="32.58" width="32.28" height="31.58" fill="#ffebe2"/>
<rect x="1307.28" y="32.58" width="32.28" height="31.58" fill="#900a12"/>
<rect x="1338.97" y="32.58" width="32.28" height="31.58" fill="#ffebe2"/>
<rect x="1370.65" y="32.58" width="32.28" height="31.58" fill="#fff0e9"/>
<rect x="1402.34" y="32.58" width="32.28" height="31.58" fill="#fff2ec"/>
<rect x="1434.02" y="32.58" width="32.28" height="31.58" fill="#fff2ec"/>
<rect x="1465.71" y="32.58" width="32.28" height="31.58" fill="#fff2ec"/>
<rect x="1497.39" y="32.58" width="32.28" height="31.58" fill="#fff2ec"/>
<rect x="1529.08" y="32.58" width="32.28" height="31.58" fill="#fff2ec"/>
<rect x="1560.76" y="32.58" width="32.28" height="31.58" fill="#fff2ec"/>
<rect x="1592.45" y="32.58" width="32.28" height="31.58" fill="#fff2ec"/>
<rect x="1624.13" y="32.58" width="32.28" height="31.58" fill="#fff2ec"/>
<rect x="1655.82" y="32.58" width="32.28" height="31.58" fill="#fff2ec"/>
<rect x="1275.60" y="63.56" width="32.28" height="31.58" fill="#fff0e9"/>
<rect x="1307.28" y="63.56" width="32.28" height="31.58" fill="#fdc7b2"/>
<rect x="1338.97" y="63.56" width="32.28" height="31.58" fill="#fc9576"/>
<rect x="1370.65" y="63.56" width="32.28" height="31.58" fill="#ffeee7"/>
<rect x="1402.34" y="63.56" width="32.28" height="31.58" fill="#fff2ec"/>
<rect x="1434.02" y="63.56" width="32.28" height="31.58" fill="#fff2ec"/>
<rect x="1465.71" y="63.56" width="32.28" height="31.58" fill="#fff2ec"/>
<rect x="1497.39" y="63.56" width="32.28" height="31.58" fill="#fff2ec"/>
<rect x="1529.08" y="63.56" width="32.28" height="31.58" fill="#fff2ec"/>
<rect x="1560.76" y="63.56" width="32.28" height="31.58" fill="#fff2ec"/>
<rect x="1592.45" y="63.56" width="32.28" height="31.58" fill="#fff2ec"/>
<rect x="1624.13" y="63.56" width="32.28" height="31.58" fill="#fff2ec"/>
<rect x="1655.82" y="63.56" width="32.28" height="31.58" fill="#fff2ec"/>
<rect x="1275.60" y="94.54" width="32.28" height="31.58" fill="#fff2ec"/>
<rect x="1307.28" y="94.54" width="32.28" height="31.58" fill="#fff2ec"/>
<rect x="1338.97" y="94.54" width="32.28" height="31.58" fill="#fc7f5f"/>
<rect x="1370.65" y="94.54" width="32.28" height="31.58" fill="#fff2ec"/>
<rect x="1402.34" y="94.54" width="32.28" height="31.58" fill="#fff2ec"/>
<rect x="1434.02" y="94.54" width="32.28" height="31.58" fill="#fff2ec"/>
<rect x="1465.71" y="94.54" width="32.28" height="31.58" fill="#fff2ec"/>
<rect x="1497.39" y="94.54" width="32.28" height="31.58" fill="#fff2ec"/>
<rect x="1529.08" y="94.54" width="32.28" height="31.58" fill="#fff2ec"/>
<rect x="1560.76" y="94.54" width="32.28" height="31.58" fill="#fff2ec"/>
<rect x="1592.45" y="94.54" width="32.28" height="31.58" fill="#fff2ec"/>
<rect x="1624.13" y="94.54" width="32.28" height="31.58" fill="#fff2ec"/>
<rect x="1655.82" y="94.54" width="32.28" height="31.58" fill="#fff2ec"/>
<rect x="1275.60" y="125.51" width="32.28" height="31.58" fill="#fff2ec"/>
<rect x="1307.28" y="125.51" width="32.28" height="31.58" fill="#fff2ec"/>
<rect x="1338.97" y="125.51" width="32.28" height="31.58" fill="#fc8f6f"/>
<rect x="1370.65" y="125.51" width="32.28" height="31.58" fill="#9f0e14"/>
<rect x="1402.34" y="125.51" width="32.28" height="31.58" fill="#fff2ec"/>
<rect x="1434.02" y="125.51" width="32.28" height="31.58" fill="#fff2ec"/>
<rect x="1465.71" y="125.51" width="32.28" height="31.58" fill="#fff2ec"/>
<rect x="1497.39" y="125.51" width="32.28" height="31.58" fill="#fff2ec"/>
<rect x="1529.08" y="125.51" width="32.28" height="31.58" fill="#fff2ec"/>
<rect x="1560.76" y="125.51" width="32.28" height="31.58" fill="#fff2ec"/>
<rect x="1592.45" y="125.51" width="32.28" height="31.58" fill="#fff2ec"/>
<rect x="1624.13" y="125.51" width="32.28" height="31.58" fill="#fff2ec"/>
<rect x="1655.82" y="125.51" width="32.28" height="31.58" fill="#fff2ec"/>
<rect x="1275.60" y="156.49" width="32.28" height="31.58" fill="#fff2ec"/>
<rect x="1307.28" y="156.49" width="32.28" height="31.58" fill="#fff2ec"/>
<rect x="1338.97" y="156.49" width="32.28" height="31.58" fill="#ffeee7"/>
<rect x="1370.65" y="156.49" width="32.28" height="31.58" fill="#fca78b"/>
<rect x="1402.34" y="156.49" width="32.28" height="31.58" fill="#fff2ec"/>
<rect x="1434.02" y="156.49" width="32.28" height="31.58" fill="#fff2ec"/>
<rect x="1465.71" y="156.49" width="32.28" height="31.58" fill="#fff2ec"/>
<rect x="1497.39" y="156.49" width="32.28" height="31.58" fill="#fff2ec"/>
<rect x="1529.08" y="156.49" width="32.28" height="31.58" fill="#fff2ec"/>
<rect x="1560.76" y="156.49" width="32.28" height="31.58" fill="#fff2ec"/>
<rect x="1592.45" y="156.49" width="32.28" height="31.58" fill="#fff2ec"/>
<rect x="1624.13" y="156.49" width="32.28" height="31.58" fill="#fff2ec"/>
<rect x="1655.82" y="156.49" width="32.28" height="31.58" fill="#fff2ec"/>
<rect x="1275.60" y="187.47" width="32.28" height="31.58" fill="#fff0e9"/>
<rect x="1307.28" y="187.47" width="32.28" height="31.58" fill="#fff2ec"/>
<rect x="1338.97" y="187.47" width="32.28" height="31.58" fill="#ffece4"/>
<rect x="1370.65" y="187.47" width="32.28" height="31.58" fill="#fff2ec"/>
<rect x="1402.34" y="187.47" width="32.28" height="31.58" fill="#860811"/>
<rect x="1434.02" y="187.47" width="32.28" height="31.58" fill="#ffefe8"/>
<rect x="1465.71" y="187.47" width="32.28" height="31.58" fill="#fff2ec"/>
<rect x="1497.39" y="187.47" width="32.28" height="31.58" fill="#fff2ec"/>
<rect x="1529.08" y="187.47" width="32.28" height="31.58" fill="#fff2ec"/>
<rect x="1560.76" y="187.47" width="32.28" height="31.58" fill="#fff2ec"/>
<rect x="1592.45" y="187.47" width="32.28" height="31.58" fill="#fff2ec"/>
<rect x="1624.13" y="187.47" width="32.28" height="31.58" fill="#fff2ec"/>
<rect x="1655.82" y="187.47" width="32.28" height="31.58" fill="#fff2ec"/>
<rect x="1275.60" y="218.45" width="32.28" height="31.58" fill="#fff0e9"/>
<rect x="1307.28" y="218.45" width="32.28" height="31.58" fill="#fff2ec"/>
<rect x="1338.97" y="218.45" width="32.28" height="31.58" fill="#fff2ec"/>
<rect x="1370.65" y="218.45" width="32.28" height="31.58" fill="#fff2ec"/>
<rect x="1402.34" y="218.45" width="32.28" height="31.58" fill="#fff2ec"/>
<rect x="1434.02" y="218.45" width="32.28" height="31.58" fill="#6d010e"/>
<rect x="1465.71" y="218.45" width="32.28" height="31.58" fill="#fff2ec"/>
<rect x="1497.39" y="218.45" width="32.28" height="31.58" fill="#fff2ec"/>
<rect x="1529.08" y="218.45" width="32.28" height="31.58" fill="#fff2ec"/>
<rect x="1560.76" y="218.45" width="32.28" height="31.58" fill="#fff2ec"/>
<rect x="1592.45" y="218.45" width="32.28" height="31.58" fill="#fff2ec"/>
<rect x="1624.13" y="218.45" width="32.28" height="31.58" fill="#fff2ec"/>
<rect x="1655.82" y="218.45" width="32.28" height="31.58" fill="#fff2ec"/>
<rect x="1275.60" y="249.43" width="32.28" height="31.58" fill="#ffeee6"/>
<rect x="1307.28" y="249.43" width="32.28" height="31.58" fill="#fff2ec"/>
<rect x="1338.97" y="249.43" width="32.28" height="31.58" fill="#fff2ec"/>
<rect x="1370.65" y="249.43" width="32.28" height="31.58" fill="#fff2ec"/>
<rect x="1402.34" y="249.43" width="32.28" height="31.58" fill="#fff2ec"/>
<rect x="1434.02" y="249.43" width="32.28" height="31.58" fill="#fff2ec"/>
<rect x="1465.71" y="249.43" width="32.28" height="31.58" fill="#6d010e"/>
<rect x="1497.39" y="249.43" width="32.28" height="31.58" fill="#fff2ec"/>
<rect x="1529.08" y="249.43" width="32.28" height="31.58" fill="#fff2ec"/>
<rect x="1560.76" y="249.43" width="32.28" height="31.58" fill="#fff2ec"/>
<rect x="1592.45" y="249.43" width="32.28" height="31.58" fill="#fff2ec"/>
<rect x="1624.13" y="249.43" width="32.28" height="31.58" fill="#fff2ec"/>
<rect x="1655.82" y="249.43" width="32.28" height="31.58" fill="#fff2ec"/>
<rect x="1275.60" y="280.41" width="32.28" height="31.58" fill="#ffeee6"/>
<rect x="1307.28" y="280.41" width="32.28" height="31.58" fill="#fff2ec"/>
<rect x="1338.97" y="280.41" width="32.28" height="31.58" fill="#fff2ec"/>
<rect x="1370.65" y="280.41" width="32.28" height="31.58" fill="#fff2ec"/>
<rect x="1402.34" y="280.41" width="32.28" height="31.58" fill="#ffebe2"/>
<rect x="1434.02" y="280.41" width="32.28" height="31.58" fill="#fff2ec"/>
<rect x="1465.71" y="280.41" width="32.28" height="31.58" fill="#fff2ec"/>
<rect x="1497.39" y="280.41" width="32.28" height="31.58" fill="#b81419"/>
<rect x="1529.08" y="280.41" width="32.28" height="31.58" fill="#fff2ec"/>
<rect x="1560.76" y="280.41" width="32.28" height="31.58" fill="#fff2ec"/>
<rect x="1592.45" y="280.41" width="32.28" height="31.58" fill="#fff2ec"/>
<rect x="1624.13" y="280.41" width="32.28" height="31.58" fill="#fff2ec"/>
<rect x="1655.82" y="280.41" width="32.28" height="31.58" fill="#fff2ec"/>
<rect x="1275.60" y="311.39" width="32.28" height="31.58" fill="#fff2ec"/>
<rect x="1307.28" y="311.39" width="32.28" height="31.58" fill="#fff2ec"/>
<rect x="1338.97" y="311.39" width="32.28" height="31.58" fill="#fff2ec"/>
<rect x="1370.65" y="311.39" width="32.28" height="31.58" fill="#fff2ec"/>
<rect x="1402.34" y="311.39" width="32.28" height="31.58" fill="#fff2ec"/>
<rect x="1434.02" y="311.39" width="32.28" height="31.58" fill="#fff2ec"/>
<rect x="1465.71" y="311.39" width="32.28" height="31.58" fill="#fff2ec"/>
<rect x="1497.39" y="311.39" width="32.28" height="31.58" fill="#fcc2aa"/>
<rect x="1529.08" y="311.39" width="32.28" height="31.58" fill="#960b13"/>
<rect x="1560.76" y="311.39" width="32.28" height="31.58" fill="#fff2ec"/>
<rect x="1592.45" y="311.39" width="32.28" height="31.58" fill="#fff2ec"/>
<rect x="1624.13" y="311.39" width="32.28" height="31.58" fill="#fff2ec"/>
<rect x="1655.82" y="311.39" width="32.28" height="31.58" fill="#fff2ec"/>
<rect x="1275.60" y="342.36" width="32.28" height="31.58" fill="#fff2ec"/>
<rect x="1307.28" y="342.36" width="32.28" height="31.58" fill="#fff2ec"/>
<rect x="1338.97" y="342.36" width="32.28" height="31.58" fill="#fff2ec"/>
<rect x="1370.65" y="342.36" width="32.28" height="31.58" fill="#fff2ec"/>
<rect x="1402.34" y="342.36" width="32.28" height="31.58" fill="#fff2ec"/>
<rect x="1434.02" y="342.36" width="32.28" height="31.58" fill="#ffeee7"/>
<rect x="1465.71" y="342.36" width="32.28" height="31.58" fill="#fff2ec"/>
<rect x="1497.39" y="342.36" width="32.28" height="31.58" fill="#fff2ec"/>
<rect x="1529.08" y="342.36" width="32.28" height="31.58" fill="#fff2ec"/>
<rect x="1560.76" y="342.36" width="32.28" height="31.58" fill="#d82422"/>
<rect x="1592.45" y="342.36" width="32.28" height="31.58" fill="#f96245"/>
<rect x="1624.13" y="342.36" width="32.28" height="31.58" fill="#fff2ec"/>
<rect x="1655.82" y="342.36" width="32.28" height="31.58" fill="#fee1d3"/>
<rect x="1275.60" y="373.34" width="32.28" height="31.58" fill="#fff2ec"/>
<rect x="1307.28" y="373.34" width="32.28" height="31.58" fill="#fff2ec"/>
<rect x="1338.97" y="373.34" width="32.28" height="31.58" fill="#fff2ec"/>
<rect x="1370.65" y="373.34" width="32.28" height="31.58" fill="#fff2ec"/>
<rect x="1402.34" y="373.34" width="32.28" height="31.58" fill="#fff2ec"/>
<rect x="1434.02" y="373.34" width="32.28" height="31.58" fill="#fff2ec"/>
<rect x="1465.71" y="373.34" width="32.28" height="31.58" fill="#fff2ec"/>
<rect x="1497.39" y="373.34" width="32.28" height="31.58" fill="#fff2ec"/>
<rect x="1529.08" y="373.34" width="32.28" height="31.58" fill="#fff2ec"/>
<rect x="1560.76" y="373.34" width="32.28" height="31.58" fill="#fff2ec"/>
<rect x="1592.45" y="373.34" width="32.28" height="31.58" fill="#fca78b"/>
<rect x="1624.13" y="373.34" width="32.28" height="31.58" fill="#9f0e14"/>
<rect x="1655.82" y="373.34" width="32.28" height="31.58" fill="#fff2ec"/>
<rect x="1275.60" y="404.32" width="32.28" height="31.58" fill="#fff2ec"/>
<rect x="1307.28" y="404.32" width="32.28" height="31.58" fill="#fff2ec"/>
<rect x="1338.97" y="404.32" width="32.28" height="31.58" fill="#fff2ec"/>
<rect x="1370.65" y="404.32" width="32.28" height="31.58" fill="#fff2ec"/>
<rect x="1402.34" y="404.32" width="32.28" height="31.58" fill="#fff2ec"/>
<rect x="1434.02" y="404.32" width="32.28" height="31.58" fill="#fff2ec"/>
<rect x="1465.71" y="404.32" width="32.28" height="31.58" fill="#fff2ec"/>
<rect x="1497.39" y="404.32" width="32.28" height="31.58" fill="#fdc7b2"/>
<rect x="1529.08" y="404.32" width="32.28" height="31.58" fill="#fff2ec"/>
<rect x="1560.76" y="404.32" width="32.28" height="31.58" fill="#fff2ec"/>
<rect x="1592.45" y="404.32" width="32.28" height="31.58" fill="#fee9df"/>
<rect x="1624.13" y="404.32" width="32.28" height="31.58" fill="#fff2ec"/>
<rect x="1655.82" y="404.32" width="32.28" height="31.58" fill="#cb181d"/>
<line x1="1271.60" y1="17.09" x2="1274.10" y2="17.09" stroke="#111" stroke-width="1.6"/>
<text x="1267.6" y="24.3" style="font-family:'DejaVu Sans','Liberation Sans',sans-serif;font-size:20.3px;font-weight:normal" text-anchor="end" fill="#111">L2/3</text>
<line x1="1271.60" y1="48.07" x2="1274.10" y2="48.07" stroke="#111" stroke-width="1.6"/>
<text x="1267.6" y="55.3" style="font-family:'DejaVu Sans','Liberation Sans',sans-serif;font-size:20.3px;font-weight:normal" text-anchor="end" fill="#111">L4</text>
<line x1="1271.60" y1="79.05" x2="1274.10" y2="79.05" stroke="#111" stroke-width="1.6"/>
<text x="1267.6" y="86.2" style="font-family:'DejaVu Sans','Liberation Sans',sans-serif;font-size:20.3px;font-weight:normal" text-anchor="end" fill="#111">L5a</text>
<line x1="1271.60" y1="110.02" x2="1274.10" y2="110.02" stroke="#111" stroke-width="1.6"/>
<text x="1267.6" y="117.2" style="font-family:'DejaVu Sans','Liberation Sans',sans-serif;font-size:20.3px;font-weight:normal" text-anchor="end" fill="#111">L5b</text>
<line x1="1271.60" y1="141.00" x2="1274.10" y2="141.00" stroke="#111" stroke-width="1.6"/>
<text x="1267.6" y="148.2" style="font-family:'DejaVu Sans','Liberation Sans',sans-serif;font-size:20.3px;font-weight:normal" text-anchor="end" fill="#111">L6a</text>
<line x1="1271.60" y1="171.98" x2="1274.10" y2="171.98" stroke="#111" stroke-width="1.6"/>
<text x="1267.6" y="179.2" style="font-family:'DejaVu Sans','Liberation Sans',sans-serif;font-size:20.3px;font-weight:normal" text-anchor="end" fill="#111">L6b</text>
<line x1="1271.60" y1="202.96" x2="1274.10" y2="202.96" stroke="#111" stroke-width="1.6"/>
<text x="1267.6" y="210.2" style="font-family:'DejaVu Sans','Liberation Sans',sans-serif;font-size:20.3px;font-weight:normal" text-anchor="end" fill="#111">Astro</text>
<line x1="1271.60" y1="233.94" x2="1274.10" y2="233.94" stroke="#111" stroke-width="1.6"/>
<text x="1267.6" y="241.1" style="font-family:'DejaVu Sans','Liberation Sans',sans-serif;font-size:20.3px;font-weight:normal" text-anchor="end" fill="#111">Endo</text>
<line x1="1271.60" y1="264.92" x2="1274.10" y2="264.92" stroke="#111" stroke-width="1.6"/>
<text x="1267.6" y="272.1" style="font-family:'DejaVu Sans','Liberation Sans',sans-serif;font-size:20.3px;font-weight:normal" text-anchor="end" fill="#111">Micro</text>
<line x1="1271.60" y1="295.90" x2="1274.10" y2="295.90" stroke="#111" stroke-width="1.6"/>
<text x="1267.6" y="303.1" style="font-family:'DejaVu Sans','Liberation Sans',sans-serif;font-size:20.3px;font-weight:normal" text-anchor="end" fill="#111">OPC</text>
<line x1="1271.60" y1="326.88" x2="1274.10" y2="326.88" stroke="#111" stroke-width="1.6"/>
<text x="1267.6" y="334.1" style="font-family:'DejaVu Sans','Liberation Sans',sans-serif;font-size:20.3px;font-weight:normal" text-anchor="end" fill="#111">Oligo</text>
<line x1="1271.60" y1="357.85" x2="1274.10" y2="357.85" stroke="#111" stroke-width="1.6"/>
<text x="1267.6" y="365.1" style="font-family:'DejaVu Sans','Liberation Sans',sans-serif;font-size:20.3px;font-weight:normal" text-anchor="end" fill="#111">Pvalb</text>
<line x1="1271.60" y1="388.83" x2="1274.10" y2="388.83" stroke="#111" stroke-width="1.6"/>
<text x="1267.6" y="396.0" style="font-family:'DejaVu Sans','Liberation Sans',sans-serif;font-size:20.3px;font-weight:normal" text-anchor="end" fill="#111">Sst</text>
<line x1="1271.60" y1="419.81" x2="1274.10" y2="419.81" stroke="#111" stroke-width="1.6"/>
<text x="1267.6" y="427.0" style="font-family:'DejaVu Sans','Liberation Sans',sans-serif;font-size:20.3px;font-weight:normal" text-anchor="end" fill="#111">Vip</text>
<line x1="1291.44" y1="436.80" x2="1291.44" y2="439.30" stroke="#111" stroke-width="1.6"/>
<text x="1298.6" y="442.8" style="font-family:'DejaVu Sans','Liberation Sans',sans-serif;font-size:20px;font-weight:normal" text-anchor="end" fill="#111" transform="rotate(-90 1298.6 442.8)">L2/3</text>
<line x1="1323.13" y1="436.80" x2="1323.13" y2="439.30" stroke="#111" stroke-width="1.6"/>
<text x="1330.3" y="442.8" style="font-family:'DejaVu Sans','Liberation Sans',sans-serif;font-size:20px;font-weight:normal" text-anchor="end" fill="#111" transform="rotate(-90 1330.3 442.8)">L4</text>
<line x1="1354.81" y1="436.80" x2="1354.81" y2="439.30" stroke="#111" stroke-width="1.6"/>
<text x="1362.0" y="442.8" style="font-family:'DejaVu Sans','Liberation Sans',sans-serif;font-size:20px;font-weight:normal" text-anchor="end" fill="#111" transform="rotate(-90 1362.0 442.8)">L5</text>
<line x1="1386.50" y1="436.80" x2="1386.50" y2="439.30" stroke="#111" stroke-width="1.6"/>
<text x="1393.7" y="442.8" style="font-family:'DejaVu Sans','Liberation Sans',sans-serif;font-size:20px;font-weight:normal" text-anchor="end" fill="#111" transform="rotate(-90 1393.7 442.8)">L6</text>
<line x1="1418.18" y1="436.80" x2="1418.18" y2="439.30" stroke="#111" stroke-width="1.6"/>
<text x="1425.4" y="442.8" style="font-family:'DejaVu Sans','Liberation Sans',sans-serif;font-size:20px;font-weight:normal" text-anchor="end" fill="#111" transform="rotate(-90 1425.4 442.8)">Astro</text>
<line x1="1449.87" y1="436.80" x2="1449.87" y2="439.30" stroke="#111" stroke-width="1.6"/>
<text x="1457.1" y="442.8" style="font-family:'DejaVu Sans','Liberation Sans',sans-serif;font-size:20px;font-weight:normal" text-anchor="end" fill="#111" transform="rotate(-90 1457.1 442.8)">Endo</text>
<line x1="1481.55" y1="436.80" x2="1481.55" y2="439.30" stroke="#111" stroke-width="1.6"/>
<text x="1488.8" y="442.8" style="font-family:'DejaVu Sans','Liberation Sans',sans-serif;font-size:20px;font-weight:normal" text-anchor="end" fill="#111" transform="rotate(-90 1488.8 442.8)">Micro</text>
<line x1="1513.23" y1="436.80" x2="1513.23" y2="439.30" stroke="#111" stroke-width="1.6"/>
<text x="1520.4" y="442.8" style="font-family:'DejaVu Sans','Liberation Sans',sans-serif;font-size:20px;font-weight:normal" text-anchor="end" fill="#111" transform="rotate(-90 1520.4 442.8)">OPC</text>
<line x1="1544.92" y1="436.80" x2="1544.92" y2="439.30" stroke="#111" stroke-width="1.6"/>
<text x="1552.1" y="442.8" style="font-family:'DejaVu Sans','Liberation Sans',sans-serif;font-size:20px;font-weight:normal" text-anchor="end" fill="#111" transform="rotate(-90 1552.1 442.8)">Oligo</text>
<line x1="1576.60" y1="436.80" x2="1576.60" y2="439.30" stroke="#111" stroke-width="1.6"/>
<text x="1583.8" y="442.8" style="font-family:'DejaVu Sans','Liberation Sans',sans-serif;font-size:20px;font-weight:normal" text-anchor="end" fill="#111" transform="rotate(-90 1583.8 442.8)">Pvalb 1</text>
<line x1="1608.29" y1="436.80" x2="1608.29" y2="439.30" stroke="#111" stroke-width="1.6"/>
<text x="1615.5" y="442.8" style="font-family:'DejaVu Sans','Liberation Sans',sans-serif;font-size:20px;font-weight:normal" text-anchor="end" fill="#111" transform="rotate(-90 1615.5 442.8)">Pvalb 2</text>
<line x1="1639.97" y1="436.80" x2="1639.97" y2="439.30" stroke="#111" stroke-width="1.6"/>
<text x="1647.2" y="442.8" style="font-family:'DejaVu Sans','Liberation Sans',sans-serif;font-size:20px;font-weight:normal" text-anchor="end" fill="#111" transform="rotate(-90 1647.2 442.8)">Sst</text>
<line x1="1671.66" y1="436.80" x2="1671.66" y2="439.30" stroke="#111" stroke-width="1.6"/>
<text x="1678.9" y="442.8" style="font-family:'DejaVu Sans','Liberation Sans',sans-serif;font-size:20px;font-weight:normal" text-anchor="end" fill="#111" transform="rotate(-90 1678.9 442.8)">Vip</text>
<text x="1487.0" y="551.0" style="font-family:'DejaVu Sans','Liberation Sans',sans-serif;font-size:20px;font-weight:normal" text-anchor="middle" fill="#111">seqFISH+</text>
<text x="1203.0" y="187.0" style="font-family:'DejaVu Sans','Liberation Sans',sans-serif;font-size:20px;font-weight:normal" text-anchor="middle" fill="#111" transform="rotate(-90 1203.0 187.0)">scRNA-seq</text>
<rect x="1707.60" y="82.80" width="15.20" height="3.07" fill="#67000d"/>
<rect x="1707.60" y="85.37" width="15.20" height="3.07" fill="#6b010e"/>
<rect x="1707.60" y="87.94" width="15.20" height="3.07" fill="#6f020e"/>
<rect x="1707.60" y="90.51" width="15.20" height="3.07" fill="#73030f"/>
<rect x="1707.60" y="93.08" width="15.20" height="3.07" fill="#77040f"/>
<rect x="1707.60" y="95.65" width="15.20" height="3.07" fill="#7a0510"/>
<rect x="1707.60" y="98.22" width="15.20" height="3.07" fill="#7e0610"/>
<rect x="1707.60" y="100.80" width="15.20" height="3.07" fill="#840711"/>
<rect x="1707.60" y="103.37" width="15.20" height="3.07" fill="#880811"/>
<rect x="1707.60" y="105.94" width="15.20" height="3.07" fill="#8c0912"/>
<rect x="1707.60" y="108.51" width="15.20" height="3.07" fill="#900a12"/>
<rect x="1707.60" y="111.08" width="15.20" height="3.07" fill="#940b13"/>
<rect x="1707.60" y="113.65" width="15.20" height="3.07" fill="#980c13"/>
<rect x="1707.60" y="116.22" width="15.20" height="3.07" fill="#9c0d14"/>
<rect x="1707.60" y="118.79" width="15.20" height="3.07" fill="#a10e15"/>
<rect x="1707.60" y="121.36" width="15.20" height="3.07" fill="#a50f15"/>
<rect x="1707.60" y="123.93" width="15.20" height="3.07" fill="#a81016"/>
<rect x="1707.60" y="126.50" width="15.20" height="3.07" fill="#aa1016"/>
<rect x="1707.60" y="129.07" width="15.20" height="3.07" fill="#ac1117"/>
<rect x="1707.60" y="131.65" width="15.20" height="3.07" fill="#af1117"/>
<rect x="1707.60" y="134.22" width="15.20" height="3.07" fill="#b21218"/>
<rect x="1707.60" y="136.79" width="15.20" height="3.07" fill="#b51318"/>
<rect x="1707.60" y="139.36" width="15.20" height="3.07" fill="#b71319"/>
<rect x="1707.60" y="141.93" width="15.20" height="3.07" fill="#b91419"/>
<rect x="1707.60" y="144.50" width="15.20" height="3.07" fill="#bc141a"/>
<rect x="1707.60" y="147.07" width="15.20" height="3.07" fill="#be151a"/>
<rect x="1707.60" y="149.64" width="15.20" height="3.07" fill="#c1161b"/>
<rect x="1707.60" y="152.21" width="15.20" height="3.07" fill="#c4161c"/>
<rect x="1707.60" y="154.78" width="15.20" height="3.07" fill="#c7171c"/>
<rect x="1707.60" y="157.35" width="15.20" height="3.07" fill="#c9181d"/>
<rect x="1707.60" y="159.93" width="15.20" height="3.07" fill="#cb181d"/>
<rect x="1707.60" y="162.50" width="15.20" height="3.07" fill="#ce1a1e"/>
<rect x="1707.60" y="165.07" width="15.20" height="3.07" fill="#d01d1f"/>
<rect x="1707.60" y="167.64" width="15.20" height="3.07" fill="#d21f20"/>
<rect x="1707.60" y="170.21" width="15.20" height="3.07" fill="#d52221"/>
<rect x="1707.60" y="172.78" width="15.20" height="3.07" fill="#d82422"/>
<rect x="1707.60" y="175.35" width="15.20" height="3.07" fill="#da2723"/>
<rect x="1707.60" y="177.92" width="15.20" height="3.07" fill="#dc2924"/>
<rect x="1707.60" y="180.49" width="15.20" height="3.07" fill="#de2b25"/>
<rect x="1707.60" y="183.06" width="15.20" height="3.07" fill="#e12d26"/>
<rect x="1707.60" y="185.63" width="15.20" height="3.07" fill="#e43027"/>
<rect x="1707.60" y="188.20" width="15.20" height="3.07" fill="#e63328"/>
<rect x="1707.60" y="190.77" width="15.20" height="3.07" fill="#e93529"/>
<rect x="1707.60" y="193.35" width="15.20" height="3.07" fill="#eb372a"/>
<rect x="1707.60" y="195.92" width="15.20" height="3.07" fill="#ed392b"/>
<rect x="1707.60" y="198.49" width="15.20" height="3.07" fill="#ef3c2c"/>
<rect x="1707.60" y="201.06" width="15.20" height="3.07" fill="#f03f2e"/>
<rect x="1707.60" y="203.63" width="15.20" height="3.07" fill="#f14331"/>
<rect x="1707.60" y="206.20" width="15.20" height="3.07" fill="#f24633"/>
<rect x="1707.60" y="208.77" width="15.20" height="3.07" fill="#f34935"/>
<rect x="1707.60" y="211.34" width="15.20" height="3.07" fill="#f34c37"/>
<rect x="1707.60" y="213.91" width="15.20" height="3.07" fill="#f44f39"/>
<rect x="1707.60" y="216.48" width="15.20" height="3.07" fill="#f5523a"/>
<rect x="1707.60" y="219.05" width="15.20" height="3.07" fill="#f6563d"/>
<rect x="1707.60" y="221.62" width="15.20" height="3.07" fill="#f7593f"/>
<rect x="1707.60" y="224.20" width="15.20" height="3.07" fill="#f75c41"/>
<rect x="1707.60" y="226.77" width="15.20" height="3.07" fill="#f85f43"/>
<rect x="1707.60" y="229.34" width="15.20" height="3.07" fill="#f96245"/>
<rect x="1707.60" y="231.91" width="15.20" height="3.07" fill="#fa6547"/>
<rect x="1707.60" y="234.48" width="15.20" height="3.07" fill="#fa6849"/>
<rect x="1707.60" y="237.05" width="15.20" height="3.07" fill="#fb6c4c"/>
<rect x="1707.60" y="239.62" width="15.20" height="3.07" fill="#fb6e4e"/>
<rect x="1707.60" y="242.19" width="15.20" height="3.07" fill="#fb7151"/>
<rect x="1707.60" y="244.76" width="15.20" height="3.07" fill="#fb7353"/>
<rect x="1707.60" y="247.33" width="15.20" height="3.07" fill="#fb7656"/>
<rect x="1707.60" y="249.90" width="15.20" height="3.07" fill="#fb7858"/>
<rect x="1707.60" y="252.48" width="15.20" height="3.07" fill="#fb7b5b"/>
<rect x="1707.60" y="255.05" width="15.20" height="3.07" fill="#fc7f5f"/>
<rect x="1707.60" y="257.62" width="15.20" height="3.07" fill="#fc8161"/>
<rect x="1707.60" y="260.19" width="15.20" height="3.07" fill="#fc8464"/>
<rect x="1707.60" y="262.76" width="15.20" height="3.07" fill="#fc8666"/>
<rect x="1707.60" y="265.33" width="15.20" height="3.07" fill="#fc8969"/>
<rect x="1707.60" y="267.90" width="15.20" height="3.07" fill="#fc8b6b"/>
<rect x="1707.60" y="270.47" width="15.20" height="3.07" fill="#fc8f6f"/>
<rect x="1707.60" y="273.04" width="15.20" height="3.07" fill="#fc9272"/>
<rect x="1707.60" y="275.61" width="15.20" height="3.07" fill="#fc9474"/>
<rect x="1707.60" y="278.18" width="15.20" height="3.07" fill="#fc9777"/>
<rect x="1707.60" y="280.75" width="15.20" height="3.07" fill="#fc997a"/>
<rect x="1707.60" y="283.32" width="15.20" height="3.07" fill="#fc9c7d"/>
<rect x="1707.60" y="285.90" width="15.20" height="3.07" fill="#fc9e80"/>
<rect x="1707.60" y="288.47" width="15.20" height="3.07" fill="#fca285"/>
<rect x="1707.60" y="291.04" width="15.20" height="3.07" fill="#fca588"/>
<rect x="1707.60" y="293.61" width="15.20" height="3.07" fill="#fca78b"/>
<rect x="1707.60" y="296.18" width="15.20" height="3.07" fill="#fcaa8d"/>
<rect x="1707.60" y="298.75" width="15.20" height="3.07" fill="#fcad90"/>
<rect x="1707.60" y="301.32" width="15.20" height="3.07" fill="#fcaf93"/>
<rect x="1707.60" y="303.89" width="15.20" height="3.07" fill="#fcb398"/>
<rect x="1707.60" y="306.46" width="15.20" height="3.07" fill="#fcb69b"/>
<rect x="1707.60" y="309.03" width="15.20" height="3.07" fill="#fcb89e"/>
<rect x="1707.60" y="311.60" width="15.20" height="3.07" fill="#fcbba1"/>
<rect x="1707.60" y="314.18" width="15.20" height="3.07" fill="#fcbda4"/>
<rect x="1707.60" y="316.75" width="15.20" height="3.07" fill="#fcbfa7"/>
<rect x="1707.60" y="319.32" width="15.20" height="3.07" fill="#fcc2aa"/>
<rect x="1707.60" y="321.89" width="15.20" height="3.07" fill="#fdc5ae"/>
<rect x="1707.60" y="324.46" width="15.20" height="3.07" fill="#fdc7b2"/>
<rect x="1707.60" y="327.03" width="15.20" height="3.07" fill="#fdcab5"/>
<rect x="1707.60" y="329.60" width="15.20" height="3.07" fill="#fdccb8"/>
<rect x="1707.60" y="332.17" width="15.20" height="3.07" fill="#fdcebb"/>
<rect x="1707.60" y="334.74" width="15.20" height="3.07" fill="#fdd1be"/>
<rect x="1707.60" y="337.31" width="15.20" height="3.07" fill="#fdd3c1"/>
<rect x="1707.60" y="339.88" width="15.20" height="3.07" fill="#fdd7c6"/>
<rect x="1707.60" y="342.45" width="15.20" height="3.07" fill="#fed9c9"/>
<rect x="1707.60" y="345.03" width="15.20" height="3.07" fill="#fedbcc"/>
<rect x="1707.60" y="347.60" width="15.20" height="3.07" fill="#fedecf"/>
<rect x="1707.60" y="350.17" width="15.20" height="3.07" fill="#fee0d2"/>
<rect x="1707.60" y="352.74" width="15.20" height="3.07" fill="#fee1d4"/>
<rect x="1707.60" y="355.31" width="15.20" height="3.07" fill="#fee3d7"/>
<rect x="1707.60" y="357.88" width="15.20" height="3.07" fill="#fee5d8"/>
<rect x="1707.60" y="360.45" width="15.20" height="3.07" fill="#fee6da"/>
<rect x="1707.60" y="363.02" width="15.20" height="3.07" fill="#fee7dc"/>
<rect x="1707.60" y="365.59" width="15.20" height="3.07" fill="#fee8de"/>
<rect x="1707.60" y="368.16" width="15.20" height="3.07" fill="#feeae0"/>
<rect x="1707.60" y="370.73" width="15.20" height="3.07" fill="#ffebe2"/>
<rect x="1707.60" y="373.30" width="15.20" height="3.07" fill="#ffede5"/>
<rect x="1707.60" y="375.88" width="15.20" height="3.07" fill="#ffeee7"/>
<rect x="1707.60" y="378.45" width="15.20" height="3.07" fill="#fff0e8"/>
<rect x="1707.60" y="381.02" width="15.20" height="3.07" fill="#fff1ea"/>
<rect x="1707.60" y="383.59" width="15.20" height="3.07" fill="#fff2ec"/>
<rect x="1707.60" y="386.16" width="15.20" height="3.07" fill="#fff4ee"/>
<rect x="1707.60" y="388.73" width="15.20" height="3.07" fill="#fff5f0"/>
<line x1="1723.80" y1="392.10" x2="1727.80" y2="392.10" stroke="#111" stroke-width="1.6"/>
<text x="1735.2" y="397.9" style="font-family:'Liberation Sans',Arial,sans-serif;font-size:16px;font-weight:normal" text-anchor="start" fill="#111">0.0</text>
<line x1="1723.80" y1="327.80" x2="1727.80" y2="327.80" stroke="#111" stroke-width="1.6"/>
<text x="1735.2" y="333.6" style="font-family:'Liberation Sans',Arial,sans-serif;font-size:16px;font-weight:normal" text-anchor="start" fill="#111">0.2</text>
<line x1="1723.80" y1="263.50" x2="1727.80" y2="263.50" stroke="#111" stroke-width="1.6"/>
<text x="1735.2" y="269.3" style="font-family:'Liberation Sans',Arial,sans-serif;font-size:16px;font-weight:normal" text-anchor="start" fill="#111">0.4</text>
<line x1="1723.80" y1="199.20" x2="1727.80" y2="199.20" stroke="#111" stroke-width="1.6"/>
<text x="1735.2" y="205.0" style="font-family:'Liberation Sans',Arial,sans-serif;font-size:16px;font-weight:normal" text-anchor="start" fill="#111">0.6</text>
<line x1="1723.80" y1="134.90" x2="1727.80" y2="134.90" stroke="#111" stroke-width="1.6"/>
<text x="1735.2" y="140.7" style="font-family:'Liberation Sans',Arial,sans-serif;font-size:16px;font-weight:normal" text-anchor="start" fill="#111">0.8</text>
<text x="1688.6" y="43.7" style="font-family:'Liberation Sans',Arial,sans-serif;font-size:17.6px;font-weight:normal" text-anchor="start" fill="#111">Pearson’s</text>
<text x="1693.6" y="65.2" style="font-family:'Liberation Sans',Arial,sans-serif;font-size:17.6px;font-weight:normal" text-anchor="start" fill="#111">r coefficient</text>
<line x1="60.30" y1="670.30" x2="60.30" y2="969.30" stroke="#555" stroke-width="1.3"/>
<line x1="50.00" y1="963.10" x2="533.40" y2="963.10" stroke="#555" stroke-width="1.3"/>
<line x1="82.78" y1="963.10" x2="82.78" y2="959.10" stroke="#555" stroke-width="1.0"/>
<line x1="105.96" y1="963.10" x2="105.96" y2="959.10" stroke="#555" stroke-width="1.0"/>
<line x1="129.14" y1="963.10" x2="129.14" y2="959.10" stroke="#555" stroke-width="1.0"/>
<line x1="152.32" y1="963.10" x2="152.32" y2="959.10" stroke="#555" stroke-width="1.0"/>
<line x1="175.50" y1="963.10" x2="175.50" y2="956.60" stroke="#555" stroke-width="1.0"/>
<line x1="198.68" y1="963.10" x2="198.68" y2="959.10" stroke="#555" stroke-width="1.0"/>
<line x1="221.86" y1="963.10" x2="221.86" y2="959.10" stroke="#555" stroke-width="1.0"/>
<line x1="245.04" y1="963.10" x2="245.04" y2="959.10" stroke="#555" stroke-width="1.0"/>
<line x1="268.22" y1="963.10" x2="268.22" y2="959.10" stroke="#555" stroke-width="1.0"/>
<line x1="291.40" y1="963.10" x2="291.40" y2="956.60" stroke="#555" stroke-width="1.0"/>
<line x1="314.58" y1="963.10" x2="314.58" y2="959.10" stroke="#555" stroke-width="1.0"/>
<line x1="337.76" y1="963.10" x2="337.76" y2="959.10" stroke="#555" stroke-width="1.0"/>
<line x1="360.94" y1="963.10" x2="360.94" y2="959.10" stroke="#555" stroke-width="1.0"/>
<line x1="384.12" y1="963.10" x2="384.12" y2="959.10" stroke="#555" stroke-width="1.0"/>
<line x1="407.30" y1="963.10" x2="407.30" y2="956.60" stroke="#555" stroke-width="1.0"/>
<line x1="430.48" y1="963.10" x2="430.48" y2="959.10" stroke="#555" stroke-width="1.0"/>
<line x1="453.66" y1="963.10" x2="453.66" y2="959.10" stroke="#555" stroke-width="1.0"/>
<line x1="476.84" y1="963.10" x2="476.84" y2="959.10" stroke="#555" stroke-width="1.0"/>
<line x1="500.02" y1="963.10" x2="500.02" y2="959.10" stroke="#555" stroke-width="1.0"/>
<line x1="523.20" y1="963.10" x2="523.20" y2="956.60" stroke="#555" stroke-width="1.0"/>
<text x="175.5" y="981.0" style="font-family:'DejaVu Sans','Liberation Sans',sans-serif;font-size:13.5px;font-weight:normal" text-anchor="middle" fill="#8a8a8a">500</text>
<text x="291.4" y="981.0" style="font-family:'DejaVu Sans','Liberation Sans',sans-serif;font-size:13.5px;font-weight:normal" text-anchor="middle" fill="#8a8a8a">1000</text>
<text x="407.3" y="981.0" style="font-family:'DejaVu Sans','Liberation Sans',sans-serif;font-size:13.5px;font-weight:normal" text-anchor="middle" fill="#8a8a8a">1500</text>
<text x="523.2" y="981.0" style="font-family:'DejaVu Sans','Liberation Sans',sans-serif;font-size:13.5px;font-weight:normal" text-anchor="middle" fill="#8a8a8a">2000</text>
<line x1="60.30" y1="947.05" x2="64.30" y2="947.05" stroke="#555" stroke-width="1.0"/>
<line x1="60.30" y1="931.60" x2="64.30" y2="931.60" stroke="#555" stroke-width="1.0"/>
<line x1="60.30" y1="916.15" x2="64.30" y2="916.15" stroke="#555" stroke-width="1.0"/>
<line x1="60.30" y1="900.70" x2="66.80" y2="900.70" stroke="#555" stroke-width="1.0"/>
<line x1="60.30" y1="885.25" x2="64.30" y2="885.25" stroke="#555" stroke-width="1.0"/>
<line x1="60.30" y1="869.80" x2="64.30" y2="869.80" stroke="#555" stroke-width="1.0"/>
<line x1="60.30" y1="854.35" x2="64.30" y2="854.35" stroke="#555" stroke-width="1.0"/>
<line x1="60.30" y1="838.90" x2="66.80" y2="838.90" stroke="#555" stroke-width="1.0"/>
<line x1="60.30" y1="823.45" x2="64.30" y2="823.45" stroke="#555" stroke-width="1.0"/>
<line x1="60.30" y1="808.00" x2="64.30" y2="808.00" stroke="#555" stroke-width="1.0"/>
<line x1="60.30" y1="792.55" x2="64.30" y2="792.55" stroke="#555" stroke-width="1.0"/>
<line x1="60.30" y1="777.10" x2="66.80" y2="777.10" stroke="#555" stroke-width="1.0"/>
<line x1="60.30" y1="761.65" x2="64.30" y2="761.65" stroke="#555" stroke-width="1.0"/>
<line x1="60.30" y1="746.20" x2="64.30" y2="746.20" stroke="#555" stroke-width="1.0"/>
<line x1="60.30" y1="730.75" x2="64.30" y2="730.75" stroke="#555" stroke-width="1.0"/>
<line x1="60.30" y1="715.30" x2="66.80" y2="715.30" stroke="#555" stroke-width="1.0"/>
<line x1="60.30" y1="699.85" x2="64.30" y2="699.85" stroke="#555" stroke-width="1.0"/>
<line x1="60.30" y1="684.40" x2="64.30" y2="684.40" stroke="#555" stroke-width="1.0"/>
<text x="55.0" y="905.7" style="font-family:'DejaVu Sans','Liberation Sans',sans-serif;font-size:13.5px;font-weight:normal" text-anchor="end" fill="#8a8a8a">0.2</text>
<text x="55.0" y="843.9" style="font-family:'DejaVu Sans','Liberation Sans',sans-serif;font-size:13.5px;font-weight:normal" text-anchor="end" fill="#8a8a8a">0.4</text>
<text x="55.0" y="782.1" style="font-family:'DejaVu Sans','Liberation Sans',sans-serif;font-size:13.5px;font-weight:normal" text-anchor="end" fill="#8a8a8a">0.6</text>
<text x="55.0" y="720.3" style="font-family:'DejaVu Sans','Liberation Sans',sans-serif;font-size:13.5px;font-weight:normal" text-anchor="end" fill="#8a8a8a">0.8</text>
<line x1="82.78" y1="831.48" x2="82.78" y2="846.32" stroke="#5e81b5" stroke-width="1.6"/>
<line x1="79.78" y1="831.48" x2="85.78" y2="831.48" stroke="#5e81b5" stroke-width="1.6"/>
<line x1="79.78" y1="846.32" x2="85.78" y2="846.32" stroke="#5e81b5" stroke-width="1.6"/>
<circle cx="82.8" cy="838.9" r="3.2" fill="#5e81b5"/>
<line x1="117.55" y1="771.85" x2="117.55" y2="790.39" stroke="#5e81b5" stroke-width="1.6"/>
<line x1="114.55" y1="771.85" x2="120.55" y2="771.85" stroke="#5e81b5" stroke-width="1.6"/>
<line x1="114.55" y1="790.39" x2="120.55" y2="790.39" stroke="#5e81b5" stroke-width="1.6"/>
<circle cx="117.6" cy="781.1" r="3.2" fill="#5e81b5"/>
<line x1="175.50" y1="739.71" x2="175.50" y2="744.66" stroke="#5e81b5" stroke-width="1.6"/>
<line x1="172.50" y1="739.71" x2="178.50" y2="739.71" stroke="#5e81b5" stroke-width="1.6"/>
<line x1="172.50" y1="744.66" x2="178.50" y2="744.66" stroke="#5e81b5" stroke-width="1.6"/>
<circle cx="175.5" cy="742.2" r="3.2" fill="#5e81b5"/>
<line x1="291.40" y1="706.96" x2="291.40" y2="714.99" stroke="#5e81b5" stroke-width="1.6"/>
<line x1="288.40" y1="706.96" x2="294.40" y2="706.96" stroke="#5e81b5" stroke-width="1.6"/>
<line x1="288.40" y1="714.99" x2="294.40" y2="714.99" stroke="#5e81b5" stroke-width="1.6"/>
<circle cx="291.4" cy="711.0" r="3.2" fill="#5e81b5"/>
<line x1="407.30" y1="693.05" x2="407.30" y2="695.52" stroke="#5e81b5" stroke-width="1.6"/>
<line x1="404.30" y1="693.05" x2="410.30" y2="693.05" stroke="#5e81b5" stroke-width="1.6"/>
<line x1="404.30" y1="695.52" x2="410.30" y2="695.52" stroke="#5e81b5" stroke-width="1.6"/>
<circle cx="407.3" cy="694.3" r="3.2" fill="#5e81b5"/>
<line x1="523.20" y1="685.02" x2="523.20" y2="687.49" stroke="#5e81b5" stroke-width="1.6"/>
<line x1="520.20" y1="685.02" x2="526.20" y2="685.02" stroke="#5e81b5" stroke-width="1.6"/>
<line x1="520.20" y1="687.49" x2="526.20" y2="687.49" stroke="#5e81b5" stroke-width="1.6"/>
<circle cx="523.2" cy="686.3" r="3.2" fill="#5e81b5"/>
<text x="22.5" y="832.0" style="font-family:'Liberation Sans',Arial,sans-serif;font-size:21px;font-weight:normal" text-anchor="middle" fill="#111" transform="rotate(-90 22.5 832.0)">Pearson’s r coefficient (Bootstrap)</text>
<text x="263.0" y="1022.0" style="font-family:'Liberation Sans',Arial,sans-serif;font-size:21px;font-weight:normal" text-anchor="middle" fill="#111"># of genes</text>
<path d="M638.4,695.2V694.9H643.5V695.2ZM643.5,695.2V694.9H648.6V695.2ZM648.6,695.2V694.8H653.7V695.2ZM653.7,695.2V694.8H658.8V695.2ZM658.8,695.2V694.7H663.9V695.2ZM663.9,695.2V694.6H669.0V695.2ZM669.0,695.2V692.7H674.1V695.2ZM674.1,695.2V693.0H679.2V695.2ZM679.2,695.2V692.1H684.3V695.2ZM684.3,695.2V691.2H689.4V695.2ZM689.4,695.2V689.3H694.5V695.2ZM694.5,695.2V683.3H699.6V695.2ZM699.6,695.2V680.6H704.7V695.2ZM704.7,695.2V674.7H709.8V695.2ZM709.8,695.2V662.3H714.9V695.2ZM714.9,695.2V655.0H720.0V695.2ZM720.0,695.2V651.9H725.0V695.2ZM725.0,695.2V648.2H730.1V695.2ZM730.1,695.2V678.9H735.2V695.2ZM735.2,695.2V684.4H740.3V695.2ZM740.3,695.2V689.0H745.4V695.2ZM745.4,695.2V689.3H750.5V695.2ZM750.5,695.2V691.5H755.6V695.2ZM755.6,695.2V690.3H760.7V695.2ZM760.7,695.2V692.3H765.8V695.2ZM765.8,695.2V692.7H770.9V695.2ZM770.9,695.2V694.3H776.0V695.2ZM776.0,695.2V694.4H781.1V695.2ZM781.1,695.2V694.6H786.2V695.2ZM786.2,695.2V694.3H791.3V695.2ZM791.3,695.2V694.3H796.4V695.2ZM796.4,695.2V694.4H801.5V695.2ZM801.5,695.2V694.6H806.6V695.2ZM806.6,695.2V694.8H811.7V695.2ZM811.7,695.2V694.8H816.8V695.2ZM816.8,695.2V694.8H821.9V695.2ZM821.9,695.2V694.9H827.0V695.2ZM827.0,695.2V694.9H832.1V695.2ZM832.1,695.2V694.9H837.2V695.2ZM837.2,695.2V695.0H842.3V695.2ZM842.3,695.2V695.0H847.4V695.2ZM847.4,695.2V694.8H852.5V695.2ZM852.5,695.2V694.9H857.6V695.2ZM857.6,695.2V695.0H862.7V695.2ZM862.7,695.2V695.0H867.8V695.2ZM867.8,695.2V695.0H872.9V695.2ZM872.9,695.2V695.0H878.0V695.2ZM878.0,695.2V695.1H883.1V695.2ZM883.1,695.2V695.1H888.2V695.2ZM888.2,695.2V695.1H893.3V695.2ZM893.3,695.2V695.1H898.4V695.2Z" fill="#a6c6e2"/>
<line x1="618.90" y1="695.20" x2="901.40" y2="695.20" stroke="#808080" stroke-width="1.1"/>
<line x1="636.60" y1="695.20" x2="636.60" y2="697.70" stroke="#808080" stroke-width="1.0"/>
<line x1="680.45" y1="695.20" x2="680.45" y2="697.70" stroke="#808080" stroke-width="1.0"/>
<line x1="724.30" y1="695.20" x2="724.30" y2="697.70" stroke="#808080" stroke-width="1.0"/>
<line x1="768.15" y1="695.20" x2="768.15" y2="697.70" stroke="#808080" stroke-width="1.0"/>
<line x1="812.00" y1="695.20" x2="812.00" y2="697.70" stroke="#808080" stroke-width="1.0"/>
<line x1="855.85" y1="695.20" x2="855.85" y2="697.70" stroke="#808080" stroke-width="1.0"/>
<line x1="899.70" y1="695.20" x2="899.70" y2="697.70" stroke="#808080" stroke-width="1.0"/>
<path d="M911.5,777.5H913.0V784.0H911.5ZM911.5,784.0H914.3V790.6H911.5ZM911.5,790.6H913.0V797.2H911.5ZM911.5,797.2H914.7V803.7H911.5ZM911.5,803.7H913.0V810.3H911.5ZM911.5,810.3H917.7V816.8H911.5ZM911.5,816.8H914.7V823.4H911.5ZM911.5,823.4H917.3V830.0H911.5ZM911.5,830.0H919.5V836.5H911.5ZM911.5,836.5H922.7V843.1H911.5ZM911.5,843.1H927.6V849.6H911.5ZM911.5,849.6H932.7V856.2H911.5ZM911.5,856.2H943.7V862.7H911.5ZM911.5,862.7H943.7V869.3H911.5ZM911.5,869.3H951.7V875.9H911.5ZM911.5,875.9H957.8V882.4H911.5ZM911.5,882.4H954.6V889.0H911.5ZM911.5,889.0H950.1V895.5H911.5ZM911.5,895.5H950.8V902.1H911.5ZM911.5,902.1H948.2V908.6H911.5ZM911.5,908.6H942.1V915.2H911.5ZM911.5,915.2H930.8V921.8H911.5ZM911.5,921.8H928.6V928.3H911.5ZM911.5,928.3H921.2V934.9H911.5ZM911.5,934.9H917.9V941.4H911.5ZM911.5,941.4H914.3V948.0H911.5ZM911.5,948.0H914.3V954.6H911.5ZM911.5,954.6H913.4V961.1H911.5Z" fill="#a6c6e2"/>
<line x1="911.50" y1="705.00" x2="911.50" y2="989.00" stroke="#808080" stroke-width="1.1"/>
<line x1="909.00" y1="989.05" x2="911.50" y2="989.05" stroke="#808080" stroke-width="1.0"/>
<line x1="909.00" y1="953.60" x2="911.50" y2="953.60" stroke="#808080" stroke-width="1.0"/>
<line x1="909.00" y1="918.15" x2="911.50" y2="918.15" stroke="#808080" stroke-width="1.0"/>
<line x1="909.00" y1="882.70" x2="911.50" y2="882.70" stroke="#808080" stroke-width="1.0"/>
<line x1="909.00" y1="847.25" x2="911.50" y2="847.25" stroke="#808080" stroke-width="1.0"/>
<line x1="909.00" y1="811.80" x2="911.50" y2="811.80" stroke="#808080" stroke-width="1.0"/>
<line x1="909.00" y1="776.35" x2="911.50" y2="776.35" stroke="#808080" stroke-width="1.0"/>
<line x1="909.00" y1="740.90" x2="911.50" y2="740.90" stroke="#808080" stroke-width="1.0"/>
<line x1="909.00" y1="705.45" x2="911.50" y2="705.45" stroke="#808080" stroke-width="1.0"/>
<path d="M725.0,869.2h0M763.1,881.6h0M703.7,959.9h0M763.2,830.0h0M714.0,877.1h0M715.4,856.6h0M732.3,903.0h0M718.8,876.8h0M725.0,861.0h0M681.8,965.1h0M725.4,859.5h0M723.8,851.8h0M713.1,881.1h0M730.9,867.6h0M710.8,879.0h0M717.4,898.0h0M700.4,940.3h0M719.5,912.4h0M709.7,902.2h0M713.6,915.3h0M729.4,857.1h0M711.4,906.4h0M720.5,891.9h0M800.2,812.5h0M769.9,861.3h0M728.6,899.7h0M720.9,852.3h0M709.9,939.5h0M707.5,891.8h0M776.8,811.1h0M721.5,897.2h0M702.0,862.9h0M721.2,865.4h0M729.8,902.3h0M721.6,854.5h0M748.3,845.2h0M689.2,895.2h0M723.4,928.9h0M716.8,899.9h0M693.2,918.3h0M726.0,892.6h0M735.8,915.3h0M720.1,935.3h0M713.2,895.5h0M733.5,864.0h0M723.4,886.0h0M723.4,895.1h0M728.0,919.5h0M704.4,908.7h0M732.5,892.9h0M725.7,902.3h0M731.4,876.0h0M706.7,896.1h0M733.3,869.1h0M706.5,906.7h0M696.7,928.5h0M736.7,880.8h0M739.0,850.1h0M739.6,802.0h0M716.6,900.7h0M713.8,934.7h0M664.9,981.8h0M730.0,901.4h0M726.9,899.6h0M733.5,861.9h0M712.8,902.9h0M705.1,888.9h0M728.0,848.3h0M730.4,878.3h0M768.3,840.1h0M702.3,920.6h0M724.8,865.9h0M741.3,873.4h0M715.1,892.0h0M723.1,914.3h0M680.7,943.9h0M727.9,899.5h0M751.9,861.0h0M733.7,852.3h0M741.0,873.7h0M727.7,892.3h0M713.7,902.2h0M729.6,827.0h0M706.3,905.5h0M732.9,892.2h0M694.2,892.6h0M730.9,907.7h0M708.9,885.6h0M718.6,931.2h0M714.7,845.2h0M727.5,884.7h0M707.0,910.6h0M717.6,923.3h0M660.6,941.4h0M710.0,895.8h0M717.8,909.2h0M696.4,880.0h0M727.6,891.5h0M718.4,888.7h0M727.1,877.1h0M725.9,852.1h0M719.1,899.6h0M740.1,807.8h0M726.2,877.5h0M733.3,864.1h0M716.8,936.5h0M723.5,859.0h0M704.9,904.7h0M862.3,787.7h0M714.1,895.0h0M710.5,943.6h0M697.7,926.0h0M711.4,891.9h0M726.1,851.8h0M729.4,883.9h0M703.4,893.3h0M717.8,898.3h0M718.0,870.3h0M729.5,891.4h0M716.6,881.1h0M722.5,895.5h0M731.3,903.6h0M727.4,907.4h0M715.7,908.4h0M716.6,864.1h0M718.1,813.9h0M701.0,909.6h0M708.0,916.9h0M713.8,881.5h0M713.0,883.2h0M712.1,908.4h0M721.9,841.4h0M776.4,815.2h0M729.0,859.2h0M735.0,875.5h0M726.3,880.9h0M723.5,862.8h0M748.5,843.0h0M729.2,901.1h0M723.4,884.2h0M695.5,944.2h0M720.6,848.9h0M706.4,915.1h0M700.5,915.2h0M723.0,878.8h0M725.5,848.2h0M713.2,895.6h0M729.1,900.2h0M720.2,911.4h0M704.1,896.3h0M770.0,809.1h0M715.1,835.8h0M712.5,864.7h0M735.4,953.0h0M702.0,926.0h0M725.5,876.1h0M707.6,843.2h0M715.2,941.5h0M710.2,907.6h0M740.2,855.5h0M719.0,906.6h0M789.7,866.9h0M729.1,893.7h0M726.1,867.9h0M720.5,915.1h0M711.4,895.4h0M718.7,925.1h0M759.5,834.4h0M708.3,883.9h0M819.0,769.8h0M727.6,881.9h0M718.6,889.5h0M728.0,891.4h0M716.0,888.5h0M717.2,882.4h0M724.7,886.9h0M679.0,936.5h0M720.3,898.5h0M776.7,849.1h0M710.0,886.1h0M727.6,879.1h0M719.4,841.9h0M707.3,903.5h0M747.1,880.3h0M678.5,937.7h0M711.0,893.9h0M885.9,777.7h0M714.3,914.4h0M739.7,850.9h0M720.6,850.1h0M731.7,900.4h0M727.1,899.0h0M718.8,890.9h0M728.6,876.0h0M681.9,888.5h0M716.8,907.3h0M716.3,895.4h0M717.8,910.0h0M703.7,923.4h0M706.4,911.5h0M721.4,915.0h0M714.9,882.6h0M730.7,855.3h0M720.6,901.3h0M737.5,892.2h0M729.0,850.2h0M722.0,893.0h0M710.5,861.4h0M725.9,954.5h0M714.6,897.9h0M697.6,932.2h0M767.4,798.7h0M724.3,866.7h0M729.9,855.6h0M722.7,891.6h0M722.3,865.2h0M681.1,948.1h0M706.6,894.0h0M729.5,885.7h0M723.6,927.8h0M704.2,880.7h0M760.9,808.8h0M700.2,895.2h0M722.6,906.0h0M702.5,899.5h0M727.2,869.0h0M712.4,895.8h0M704.1,913.9h0M687.1,901.6h0M706.0,895.8h0M707.2,910.0h0M721.5,887.3h0M718.1,893.1h0M763.7,878.4h0M764.4,812.5h0M735.1,835.4h0M727.6,895.6h0M735.4,879.8h0M758.2,861.0h0M676.6,956.6h0M703.6,875.4h0M719.6,905.9h0M695.3,901.2h0M724.5,918.4h0M710.6,912.4h0M712.8,883.8h0M709.8,886.2h0M698.8,900.9h0M727.2,873.8h0M726.2,879.2h0M724.8,861.4h0M679.6,881.1h0M716.6,878.5h0M727.4,886.1h0M700.9,929.6h0M716.7,903.8h0M678.4,930.9h0M695.5,874.6h0M707.5,936.8h0M715.9,911.9h0M718.0,915.9h0M741.6,876.5h0M711.4,913.2h0M676.7,968.7h0M731.4,929.8h0M693.1,903.9h0M695.6,948.7h0M770.1,785.9h0M728.6,857.1h0M710.4,924.8h0M702.2,912.3h0M715.2,893.2h0M710.6,933.4h0M736.8,906.0h0M718.5,906.4h0M697.6,908.9h0M753.3,858.2h0M720.9,934.6h0M701.1,899.6h0M703.1,906.5h0M717.4,898.6h0M696.1,920.5h0M725.4,861.0h0M720.2,852.3h0M683.9,930.4h0M732.3,884.3h0M734.7,916.5h0M746.7,859.9h0M728.1,867.1h0M726.4,887.4h0M709.2,890.3h0M675.2,929.0h0M692.1,910.2h0M770.8,820.7h0M728.8,864.4h0M758.5,888.4h0M716.7,897.6h0M727.8,953.5h0M689.4,914.0h0M705.3,914.6h0M711.2,910.9h0M720.2,851.7h0M721.2,879.8h0M722.1,860.4h0M719.2,874.8h0M724.6,844.9h0M771.1,785.9h0M717.2,897.6h0M733.6,880.4h0M693.2,851.8h0M715.7,903.1h0M720.0,888.5h0M721.2,855.0h0M711.4,873.8h0M715.8,904.4h0M756.8,783.9h0M728.4,870.6h0M721.1,853.3h0M690.3,898.4h0M690.7,893.9h0M707.0,917.4h0M700.6,870.5h0M804.1,788.6h0M653.3,941.1h0M719.0,863.6h0M693.2,918.9h0M729.9,878.2h0M689.0,913.9h0M692.2,907.7h0M698.0,892.6h0M711.5,932.0h0M722.7,899.5h0M734.8,827.2h0M712.3,942.3h0M711.9,910.9h0M733.5,858.8h0M727.4,927.4h0M700.0,925.9h0M732.1,898.6h0M730.8,842.5h0M709.3,918.6h0M728.8,866.6h0M706.9,914.8h0M710.1,896.8h0M720.5,915.9h0M721.3,923.4h0M722.6,898.2h0M720.5,921.8h0M706.5,904.2h0M726.0,881.3h0M710.3,887.0h0M746.1,803.2h0M720.6,854.4h0M714.0,920.5h0M705.6,918.8h0M720.5,847.9h0M719.1,891.1h0M724.9,894.4h0M723.7,860.2h0M684.6,932.7h0M730.8,857.8h0M690.1,920.5h0M730.6,849.2h0M732.6,882.4h0M750.8,863.3h0M729.1,856.1h0M706.7,860.8h0M715.8,911.6h0M715.3,902.1h0M728.0,916.8h0M718.8,931.5h0M728.0,894.5h0M705.9,896.6h0M718.9,859.7h0M722.6,897.0h0M717.8,844.7h0M704.2,897.4h0M769.3,907.3h0M725.6,890.7h0M733.7,908.3h0M716.3,853.8h0M759.7,807.1h0M733.0,851.7h0M794.1,777.1h0M705.4,886.8h0M715.0,897.0h0M719.8,897.6h0M720.1,892.6h0M710.0,880.7h0M696.8,937.0h0M719.6,912.9h0M727.8,859.1h0M719.9,906.9h0M815.4,768.1h0M719.0,922.5h0M713.9,899.3h0M735.0,850.6h0M719.8,887.4h0M711.4,891.2h0M713.4,904.1h0M758.2,833.7h0M770.8,868.5h0M728.1,922.2h0M711.8,886.1h0M725.2,927.8h0M708.4,867.3h0M709.8,877.2h0M723.3,915.8h0M716.2,945.2h0M718.3,949.3h0M791.3,836.1h0M706.4,902.8h0M722.8,854.8h0M687.1,904.8h0M695.3,871.9h0M708.4,877.8h0M840.8,834.3h0M729.0,886.8h0M736.4,896.7h0M689.7,921.7h0M727.1,896.4h0M715.4,898.9h0M716.3,859.9h0M725.1,898.8h0M711.8,925.1h0M721.8,903.5h0M711.4,908.2h0M716.8,906.3h0M720.2,893.6h0M701.8,914.8h0M713.1,868.4h0M716.5,870.4h0M717.7,909.8h0M734.2,854.3h0M727.7,849.5h0M724.7,885.6h0M739.2,868.1h0M707.5,889.0h0M694.9,911.6h0M717.2,883.5h0M699.7,931.4h0M724.8,834.9h0M720.2,893.9h0M700.6,892.2h0M726.0,898.8h0M724.3,882.0h0M719.5,944.9h0M749.2,859.2h0M739.6,818.0h0M706.0,876.6h0M709.2,931.3h0M746.0,893.7h0M701.1,877.1h0M729.4,893.2h0M713.3,898.4h0M719.6,863.3h0M724.3,873.5h0M751.6,795.3h0M650.7,929.0h0M709.7,944.1h0M728.6,850.6h0M718.9,857.5h0M710.2,852.0h0M770.7,863.8h0M712.6,915.2h0M725.8,897.5h0M768.8,875.6h0M729.7,867.1h0M727.8,839.4h0M730.1,869.4h0M734.9,891.9h0M712.3,926.0h0M730.0,894.1h0M734.1,843.3h0M741.6,871.3h0M746.0,880.4h0M745.6,841.4h0M697.1,873.8h0M718.7,830.7h0M715.5,861.8h0M741.4,844.8h0M719.8,931.6h0M713.9,902.4h0M675.7,933.3h0M714.6,889.5h0M727.5,904.8h0M675.3,905.4h0M706.4,869.2h0M711.1,893.0h0M723.5,892.6h0M716.8,886.5h0M743.3,804.6h0M707.8,879.2h0M722.5,907.3h0M727.4,847.7h0M752.3,823.4h0M736.4,879.5h0M700.0,888.1h0M733.7,894.4h0M725.1,863.3h0M718.6,838.0h0M683.0,908.0h0M708.8,892.8h0M728.3,893.5h0M699.3,869.4h0M711.7,868.1h0M712.1,931.7h0M726.5,860.0h0M714.9,909.1h0M696.7,936.2h0M717.4,892.8h0M712.1,911.4h0M725.2,856.7h0M710.6,927.1h0M726.4,915.0h0M722.0,910.3h0M741.4,804.0h0M726.9,869.2h0M716.3,918.4h0M720.5,906.2h0M719.3,927.6h0M738.3,880.7h0M704.6,926.3h0M717.9,838.5h0M723.1,840.2h0M716.7,914.3h0M724.1,882.6h0M722.3,877.2h0M719.0,903.2h0M727.4,892.7h0M713.5,879.0h0M723.3,893.1h0M727.1,890.8h0M700.0,906.2h0M710.9,866.8h0M757.9,877.4h0M768.3,835.9h0M838.3,713.2h0M685.6,899.8h0M731.8,884.4h0M758.4,832.6h0M745.9,877.4h0M727.1,877.8h0M728.5,879.0h0M729.3,887.9h0M722.6,881.8h0M735.0,820.1h0M723.7,867.2h0M708.7,942.6h0M695.1,877.9h0M748.0,870.7h0M725.2,909.5h0M708.1,866.5h0M731.8,881.6h0M714.2,869.3h0M725.7,899.4h0M715.2,867.6h0M706.7,906.8h0M705.5,877.9h0M697.3,887.8h0M696.7,935.8h0M694.6,900.9h0M695.7,897.5h0M730.9,881.8h0M720.9,931.5h0M704.6,894.9h0M722.9,894.6h0M723.9,857.2h0M721.9,913.3h0M705.6,877.2h0M716.6,888.7h0M738.8,872.3h0M717.0,916.0h0M720.0,866.2h0M753.4,803.6h0M712.4,918.3h0M728.5,856.4h0M720.1,874.6h0M734.7,852.1h0M717.2,930.3h0M721.8,916.7h0M716.3,878.0h0M739.6,853.7h0M746.8,870.7h0M726.6,843.6h0M801.0,781.5h0M727.4,882.3h0M730.4,880.0h0M741.0,840.8h0M713.6,895.1h0M813.4,771.4h0M716.4,881.6h0M721.5,895.9h0M709.6,910.0h0M732.6,886.0h0M714.3,908.4h0M729.1,883.6h0M708.7,885.2h0M718.8,840.4h0M716.4,931.2h0M714.0,927.1h0M686.8,917.5h0M725.9,883.5h0M762.0,828.9h0M707.4,854.1h0M707.1,943.4h0M719.9,892.8h0M697.6,937.8h0M728.2,889.7h0M715.1,880.6h0M720.3,923.6h0M747.0,864.5h0M737.5,850.6h0M755.3,863.7h0M755.9,850.4h0M723.6,902.9h0M723.1,904.4h0M685.5,896.9h0M699.1,943.5h0M721.9,882.3h0M739.5,811.6h0M716.2,898.1h0M656.5,921.8h0M708.6,914.9h0M729.5,871.4h0M701.4,912.1h0M705.7,848.5h0M713.1,901.4h0M723.2,893.6h0M730.4,870.9h0M707.7,911.7h0M724.8,889.9h0M721.2,879.9h0M718.0,869.5h0M724.6,899.6h0M732.1,877.8h0M708.8,902.2h0M724.5,868.5h0M694.7,889.7h0M721.4,878.1h0M731.4,873.4h0M882.7,771.3h0M717.9,911.7h0M710.4,857.3h0M721.9,874.5h0M716.2,929.0h0M704.6,898.3h0M724.4,919.5h0M734.5,880.3h0M740.9,842.1h0M793.3,807.5h0M717.1,910.4h0M711.4,856.1h0M704.1,919.3h0M717.2,889.9h0M734.0,910.3h0M712.7,897.9h0M737.3,873.9h0M725.5,872.3h0M709.0,838.3h0M727.5,843.1h0M730.5,861.5h0M758.1,781.7h0M704.9,907.9h0M731.8,886.7h0M729.6,901.6h0M711.5,879.4h0M711.4,896.9h0M762.3,800.7h0M717.8,896.4h0M712.3,885.8h0M727.0,840.4h0M703.9,892.9h0M722.3,864.1h0M719.1,909.4h0M722.0,890.1h0M721.7,895.9h0M725.9,871.1h0M715.2,884.7h0M743.3,870.0h0M732.0,869.7h0M756.4,879.0h0M717.5,927.4h0M728.7,881.2h0M718.1,860.4h0M709.8,917.0h0M726.9,855.4h0M759.1,827.6h0M732.2,873.2h0M712.0,882.8h0M708.7,915.6h0M725.8,865.2h0M725.9,916.4h0M739.2,846.2h0M704.2,886.6h0M736.1,900.4h0M715.1,842.3h0M713.9,883.5h0M717.7,866.7h0M848.7,767.1h0M761.0,826.1h0M697.3,904.3h0M710.5,882.7h0M729.6,878.6h0M688.9,873.6h0M688.0,887.4h0M689.3,905.9h0M736.8,842.2h0M710.4,892.4h0M713.0,873.2h0M731.4,873.2h0M713.3,898.2h0M725.4,904.6h0M716.6,906.5h0M713.1,890.8h0M719.6,876.5h0M705.1,950.1h0M696.8,915.4h0M740.1,827.4h0M735.5,878.1h0M717.2,915.8h0M728.9,904.2h0M737.7,817.5h0M719.2,926.2h0M727.1,889.4h0M726.6,861.9h0M694.6,955.9h0M702.1,885.5h0M730.0,916.7h0M729.7,855.2h0M704.7,835.5h0M730.3,909.2h0M730.4,880.6h0M714.1,883.3h0M711.6,907.9h0M701.0,889.6h0M718.6,905.7h0M701.3,916.2h0M721.9,905.6h0M723.5,885.8h0M724.5,872.4h0M695.4,883.9h0M721.0,889.3h0M726.1,908.4h0M704.4,911.8h0M722.8,897.7h0M734.3,885.4h0M705.6,885.1h0M749.9,832.3h0M777.6,867.2h0M728.2,879.8h0M736.4,876.6h0M712.4,905.3h0M728.9,863.0h0M751.4,907.5h0M689.2,915.5h0M734.5,903.2h0M713.3,910.3h0M734.0,891.1h0M726.5,869.1h0M730.6,921.7h0M716.5,873.3h0M715.5,888.8h0M752.3,856.1h0M698.4,926.3h0M700.4,891.9h0M781.5,883.9h0M749.6,845.0h0M704.3,917.7h0M783.2,844.2h0M710.8,897.5h0M744.9,859.7h0M745.7,849.3h0M675.8,936.7h0M673.1,933.0h0M713.5,863.8h0M759.5,858.1h0M732.6,890.2h0M718.4,888.8h0M736.8,906.1h0M714.2,931.7h0M718.9,890.1h0M709.5,911.3h0M769.8,826.8h0M733.9,855.2h0M715.8,875.6h0M712.7,889.3h0M766.2,832.1h0M719.5,894.0h0M708.7,911.9h0M717.6,870.2h0M729.3,916.1h0M729.5,874.7h0M696.3,907.7h0M759.1,796.4h0M725.7,869.5h0M689.6,921.8h0M734.1,832.5h0M777.2,846.9h0M732.2,880.5h0M671.4,937.3h0M719.7,905.7h0M723.9,903.2h0M743.1,824.7h0M724.1,920.3h0M695.7,885.2h0M756.1,866.1h0M762.0,813.0h0M723.0,868.5h0M691.1,857.0h0M735.2,869.6h0M727.9,841.2h0M778.9,801.2h0M667.6,946.0h0M717.5,866.9h0M710.6,942.8h0M695.5,885.7h0M727.4,883.1h0M716.1,903.7h0M685.3,915.0h0M701.4,901.3h0M734.2,847.4h0M724.4,865.2h0M706.0,895.5h0M726.1,889.4h0M699.7,928.2h0M725.1,880.1h0M726.9,945.5h0M659.7,914.4h0M722.5,887.0h0M725.7,924.4h0M728.2,868.7h0M727.9,904.1h0M745.0,797.5h0M729.2,924.6h0M751.2,824.2h0M717.6,887.1h0M681.0,922.6h0M704.9,894.3h0M712.6,912.7h0M689.2,900.4h0M695.2,944.8h0M720.0,902.9h0M710.8,960.5h0M711.9,903.1h0M726.4,897.2h0M738.8,846.0h0M736.6,862.1h0M719.2,858.3h0M725.7,913.1h0M736.0,882.1h0M704.5,949.1h0M705.0,857.4h0M728.9,850.8h0M710.2,886.1h0M705.5,871.8h0M718.0,870.2h0M673.2,942.4h0M718.0,873.5h0M689.3,885.7h0M714.8,873.9h0M705.4,903.0h0M712.1,904.7h0M701.9,846.4h0M715.8,885.9h0M728.4,869.0h0M714.2,927.5h0M754.3,778.0h0M739.3,788.3h0M711.1,917.0h0M687.1,884.5h0M726.0,884.3h0M713.6,878.5h0M714.5,882.4h0M722.5,903.9h0M885.8,751.7h0M713.5,860.9h0M719.4,916.1h0M725.5,909.5h0M728.9,903.8h0M709.2,879.9h0M721.0,899.3h0M721.5,880.8h0M727.4,855.5h0M702.6,930.2h0M701.9,868.2h0M789.2,786.8h0M732.1,883.5h0M732.3,842.2h0M757.2,856.6h0M769.2,865.0h0M719.6,890.8h0M730.1,899.5h0M727.0,877.0h0M720.2,900.2h0M728.3,890.5h0M714.6,870.3h0M740.1,769.8h0M718.4,883.6h0M701.5,909.7h0M669.4,922.2h0M727.4,940.2h0M713.1,917.6h0M764.4,837.2h0M708.0,858.9h0M713.8,924.4h0M802.1,775.3h0M722.6,891.6h0M752.9,826.7h0M727.6,897.7h0M701.9,901.6h0M707.7,938.4h0M715.4,852.0h0M740.4,877.0h0M712.0,892.5h0M717.9,825.6h0M722.1,900.9h0M712.4,925.1h0M732.2,903.0h0M693.5,870.2h0M708.8,902.7h0M730.9,899.1h0M723.1,887.4h0M722.6,888.1h0M715.1,868.7h0M700.0,887.8h0M719.0,880.7h0M815.4,804.3h0M720.8,907.8h0M722.9,917.0h0M831.6,736.8h0M743.0,837.0h0M891.3,742.4h0M764.2,847.8h0M727.8,867.5h0M714.2,921.1h0M726.4,892.0h0M716.0,913.1h0M730.7,925.2h0M701.8,890.8h0M716.5,897.3h0M737.8,865.7h0M715.7,877.2h0M722.4,908.8h0M697.0,871.2h0M711.3,888.7h0M764.8,859.3h0M727.6,842.0h0M717.9,902.2h0M724.8,899.9h0M729.5,877.0h0M733.4,851.4h0M730.2,853.2h0M713.0,942.1h0M711.3,861.4h0M726.3,894.6h0M723.0,874.7h0M720.8,920.2h0M708.4,919.7h0M713.7,885.3h0M725.8,927.4h0M715.6,873.1h0M729.8,894.1h0M684.4,911.1h0M764.8,804.8h0M708.5,911.7h0M723.5,854.5h0M750.7,866.4h0M714.6,878.2h0M705.7,941.9h0M811.1,789.0h0M748.0,826.8h0M721.6,865.8h0M690.2,911.6h0M720.0,837.3h0M710.9,879.6h0M705.2,886.5h0M755.7,842.1h0M723.3,907.8h0M719.8,891.2h0M692.0,906.8h0M719.0,878.2h0M740.2,873.3h0M710.2,903.7h0M711.9,894.4h0M722.1,898.5h0M711.0,920.1h0M723.6,907.0h0M727.9,870.8h0M710.6,879.1h0M719.7,894.5h0M720.6,891.9h0M715.1,879.8h0M708.5,901.6h0M701.7,828.0h0M723.3,883.3h0M755.8,837.1h0M674.5,969.5h0M736.7,870.4h0M767.5,760.9h0M722.6,888.2h0M772.6,841.8h0M726.2,898.3h0M724.8,887.6h0M715.5,897.1h0M717.4,909.2h0M726.2,919.7h0M713.9,916.9h0M728.2,928.2h0M723.1,868.2h0M727.3,887.3h0M758.0,847.4h0M714.8,907.1h0M717.0,868.5h0M713.1,915.0h0M689.8,872.8h0M722.6,860.7h0M728.9,898.7h0M890.6,789.7h0M723.7,870.9h0M718.2,860.3h0M746.0,872.7h0M671.4,940.3h0M709.9,836.8h0M725.5,862.4h0M708.1,877.0h0M716.0,845.7h0M735.5,865.7h0M717.2,902.2h0M713.3,936.1h0M741.8,799.8h0M695.4,936.2h0M736.4,859.6h0M709.9,944.8h0M704.9,912.7h0M722.3,887.6h0M721.0,918.3h0M768.0,838.5h0M729.7,901.2h0M719.0,886.7h0M724.2,916.0h0M714.5,899.8h0M799.8,795.5h0M717.1,857.6h0M740.7,873.4h0M728.7,871.9h0M746.0,801.7h0M716.4,884.0h0M716.3,874.9h0M719.6,882.6h0M734.6,842.3h0M762.0,802.0h0M732.1,884.3h0M717.3,927.8h0M730.4,890.8h0M725.1,855.0h0M722.9,885.4h0M707.2,881.3h0M713.0,884.4h0M729.5,858.1h0M705.4,921.0h0M724.5,872.5h0M731.2,863.6h0M729.8,853.2h0M720.8,854.8h0M711.8,907.6h0M703.3,937.0h0M680.2,936.7h0M684.8,885.5h0M711.1,920.1h0M721.7,920.8h0M719.4,921.1h0M705.9,931.7h0M713.2,877.1h0M719.1,908.2h0M730.2,895.8h0M726.4,856.2h0M688.9,891.6h0M722.9,865.4h0M705.5,919.2h0M737.8,881.9h0M742.4,866.9h0M724.2,843.3h0M729.1,890.2h0M726.7,890.1h0M735.2,955.1h0M710.0,855.3h0M714.4,898.4h0M725.5,926.5h0M768.7,862.5h0M711.9,909.9h0M724.1,870.5h0M722.4,835.2h0M716.3,911.4h0M728.7,878.2h0M701.5,913.2h0M717.0,907.4h0M719.0,878.7h0M762.6,844.2h0M727.8,872.1h0M729.2,891.9h0M897.6,735.7h0M708.1,892.9h0M723.6,866.5h0M694.9,922.6h0M707.4,895.9h0M728.1,842.8h0M730.9,879.8h0M729.6,857.7h0M723.4,886.5h0M730.7,878.7h0M761.4,819.0h0M751.1,845.8h0M730.9,851.3h0M717.9,862.3h0M725.5,856.6h0M711.8,920.2h0M746.9,837.0h0M713.1,899.0h0M795.0,826.1h0M713.0,916.4h0M712.8,874.8h0M712.6,946.5h0M723.9,907.6h0M707.2,901.9h0M710.8,898.8h0M740.9,794.4h0M758.7,798.7h0M703.7,880.4h0M718.5,947.3h0M718.5,880.3h0M734.1,914.2h0M725.5,902.2h0M719.2,891.5h0M730.3,842.0h0M722.8,908.8h0M706.8,934.7h0M730.8,856.8h0M717.8,892.9h0M740.9,874.6h0M725.3,871.3h0M703.2,878.5h0M729.6,877.5h0M722.2,938.2h0M724.1,890.8h0M719.7,888.8h0M728.8,909.9h0M691.5,936.8h0M724.8,869.8h0M756.9,779.3h0M705.9,922.4h0M703.0,889.2h0M719.1,886.6h0M721.3,919.2h0M716.5,898.6h0M720.1,920.7h0M725.5,905.5h0M731.8,872.2h0M689.8,943.0h0M715.0,923.2h0M723.9,876.8h0M678.6,946.9h0M761.4,865.5h0M726.8,889.7h0M720.0,892.9h0M717.0,882.3h0M700.2,915.6h0M692.2,930.2h0M728.5,893.3h0M754.2,771.2h0M730.7,857.9h0M678.1,924.2h0M688.5,884.7h0M721.3,870.8h0M724.9,911.0h0M721.7,851.1h0M736.6,808.0h0M741.2,855.7h0M826.9,795.1h0M714.8,857.0h0M718.8,875.2h0M849.0,790.0h0M726.0,933.3h0M693.5,912.9h0M749.6,839.6h0M723.5,893.8h0M704.7,911.5h0M715.3,869.6h0M722.9,896.9h0M725.3,874.3h0M719.0,935.9h0M730.0,904.8h0M724.9,885.2h0M790.5,865.7h0M735.4,875.6h0M700.1,906.2h0M699.4,901.0h0M738.0,868.7h0M720.5,873.1h0M786.3,897.6h0M715.4,902.3h0M709.1,860.9h0M685.8,926.7h0M728.9,844.7h0M699.2,897.3h0M726.9,889.1h0M724.7,883.0h0M729.5,842.6h0M756.3,822.7h0M710.4,923.5h0M724.5,873.1h0M729.3,864.0h0M708.9,877.2h0M697.9,943.6h0M704.4,891.9h0M757.8,874.5h0M734.3,883.3h0M708.6,909.6h0M671.2,917.1h0M726.5,885.3h0M710.3,897.9h0M709.5,849.2h0M708.8,896.6h0M718.6,918.1h0M716.1,914.4h0M759.8,813.5h0M721.0,927.2h0M748.7,871.9h0M751.4,833.6h0M747.8,843.6h0M723.1,864.7h0M723.6,904.3h0M724.6,901.9h0M678.9,964.6h0M759.5,817.0h0M699.8,875.7h0M721.9,857.1h0M728.8,869.3h0M734.6,883.8h0M720.1,860.0h0M727.1,841.4h0M734.9,895.5h0M729.8,874.7h0M729.6,882.6h0M736.0,891.6h0M696.1,936.8h0M724.7,905.4h0M683.8,915.6h0M704.5,895.4h0M682.7,915.8h0M738.9,842.4h0M711.0,912.9h0M723.6,916.5h0M731.5,908.2h0M729.3,871.9h0M753.6,891.5h0M721.4,927.7h0M725.8,862.0h0M735.9,842.4h0M695.2,904.7h0M719.5,873.9h0M696.3,941.8h0M722.8,920.8h0M710.5,892.8h0M734.7,872.1h0M719.9,893.7h0M707.3,906.3h0M740.1,821.7h0M719.8,854.4h0M677.5,944.0h0M710.5,899.9h0M718.2,865.4h0M680.1,945.9h0M704.1,898.4h0M714.3,896.4h0M710.7,881.7h0M716.7,950.7h0M713.2,901.6h0M711.0,915.2h0M719.1,863.4h0M717.4,892.4h0M728.4,895.8h0M727.4,861.7h0M678.2,907.4h0M708.7,873.6h0M698.6,880.2h0M716.7,873.1h0M716.7,905.5h0M726.3,876.7h0M729.6,874.1h0M740.9,819.9h0M726.9,875.3h0M720.1,886.7h0M850.8,784.1h0M729.9,882.7h0M717.6,914.6h0M709.9,918.8h0M686.1,899.0h0M759.0,817.6h0M725.9,882.0h0M717.5,904.0h0M737.0,914.6h0M725.3,894.4h0M718.8,851.0h0M762.2,841.0h0M741.3,824.9h0M718.2,873.8h0M717.1,903.0h0M701.2,919.0h0M695.0,946.9h0M719.9,930.5h0M707.7,889.0h0M696.7,904.5h0M728.0,881.6h0M768.2,836.9h0M729.1,892.8h0M749.9,858.7h0M736.8,896.4h0M729.8,901.9h0M721.5,905.9h0M718.1,867.3h0M724.8,868.2h0M713.3,918.7h0M704.9,908.9h0M723.1,883.6h0M729.4,900.9h0M720.2,872.6h0M726.1,903.1h0M711.8,903.8h0M640.3,961.6h0M709.7,942.0h0M710.2,939.2h0M720.9,909.2h0M718.1,862.1h0M725.6,870.6h0M707.8,888.1h0M718.1,905.8h0M651.4,955.9h0M727.2,882.2h0M737.6,828.5h0M737.1,912.0h0M737.2,892.4h0M706.4,918.6h0M798.0,778.1h0M720.8,901.6h0M707.5,919.0h0M697.5,887.7h0M697.2,918.2h0M727.6,860.6h0M729.2,905.1h0M734.8,831.8h0M725.4,886.9h0M722.0,884.2h0M707.0,905.4h0M725.6,885.9h0M655.4,941.0h0M727.2,891.4h0M704.9,871.6h0M706.9,954.2h0M746.0,832.4h0M752.6,814.0h0M726.1,887.5h0M710.3,862.4h0M715.2,879.8h0M717.5,891.3h0M699.6,925.1h0M711.8,848.5h0M689.7,892.8h0M784.7,763.3h0M713.1,930.7h0M715.6,851.2h0M711.6,898.3h0M728.7,902.6h0M720.6,885.5h0M729.2,878.8h0M672.3,935.2h0M709.5,932.6h0M723.0,895.1h0M720.2,919.9h0M732.2,877.1h0M698.0,939.7h0M717.2,886.1h0M716.7,901.7h0M721.2,865.1h0M718.4,909.4h0M725.8,917.1h0M698.3,940.6h0M690.8,906.5h0M712.7,800.1h0M699.2,939.4h0M717.9,906.1h0M724.4,848.7h0M694.9,893.9h0M717.5,860.9h0M723.3,879.4h0M720.8,877.2h0M682.7,918.5h0M728.4,909.7h0M727.4,878.6h0M713.8,918.2h0M714.9,878.8h0M729.8,947.7h0M730.6,931.5h0M713.7,898.8h0M725.8,883.4h0M714.9,850.1h0M763.8,813.9h0M743.1,867.1h0M718.6,935.5h0M719.2,834.3h0M722.3,952.1h0M768.5,776.7h0M702.5,914.3h0M721.7,934.1h0M729.1,898.0h0M728.9,863.3h0M690.2,919.6h0M723.5,909.7h0M715.9,891.2h0M711.2,899.6h0M779.0,836.5h0M696.7,894.8h0M728.0,897.4h0M705.9,922.6h0M764.6,858.6h0M720.5,895.9h0M714.9,890.4h0M710.8,924.9h0M722.5,887.6h0M739.6,853.8h0M696.2,898.3h0M725.5,881.8h0M704.6,911.1h0M708.1,940.3h0M736.7,852.0h0M695.6,932.9h0M725.8,899.5h0M689.9,919.0h0M723.6,879.8h0M720.5,905.3h0M703.0,918.9h0M732.2,917.2h0M707.9,877.2h0M716.7,907.1h0M710.3,911.6h0M725.1,938.6h0M714.0,911.6h0M714.0,876.1h0M669.6,907.6h0M746.9,848.5h0M681.5,922.1h0M714.5,881.6h0M726.9,921.1h0M712.6,907.4h0M720.0,875.2h0M715.2,869.7h0M744.1,856.9h0M707.3,929.2h0M674.4,901.0h0M698.1,919.6h0M721.0,882.7h0M724.5,916.6h0M735.2,851.8h0M765.6,779.0h0M715.8,861.5h0M733.2,904.3h0M719.3,906.0h0M718.0,923.3h0M699.9,938.4h0M736.6,911.3h0M713.2,894.2h0M727.0,909.8h0M720.8,893.5h0M870.7,785.2h0M714.1,890.1h0M723.4,871.2h0M731.5,865.3h0M705.6,884.6h0M730.7,888.7h0M721.4,875.8h0M697.5,918.4h0M775.6,830.5h0M716.2,926.9h0M718.7,896.0h0M729.9,879.2h0M767.7,873.0h0M713.7,910.1h0M704.6,870.3h0M726.3,925.9h0M727.8,889.1h0M719.3,837.0h0M725.8,896.4h0M756.0,840.3h0M738.5,867.7h0M723.0,836.4h0M750.1,868.3h0M748.8,834.6h0M729.7,895.7h0M702.2,966.9h0M723.1,894.3h0M724.1,851.5h0M742.5,879.0h0M722.0,864.5h0M723.5,874.3h0M725.4,849.6h0M696.8,923.7h0M690.1,909.6h0M681.5,890.0h0M694.5,900.3h0M710.0,882.4h0M687.0,925.7h0M721.5,894.6h0M723.5,902.6h0M717.7,890.3h0M671.4,929.7h0M724.3,893.9h0M699.8,959.3h0M663.5,971.1h0M730.6,884.3h0M745.7,860.9h0M699.4,929.3h0M725.9,899.3h0M691.7,915.1h0M721.8,866.3h0M721.3,849.8h0M722.6,882.3h0M831.5,799.3h0M722.1,908.7h0M707.9,891.5h0M760.5,845.7h0M712.0,893.9h0M721.6,911.4h0M717.3,867.0h0M734.2,889.5h0M698.0,946.2h0M719.8,892.2h0M716.6,920.8h0M724.7,874.4h0M747.4,817.5h0M709.8,886.1h0M718.1,896.3h0M729.8,903.2h0M705.9,914.2h0M724.5,835.8h0M714.0,870.0h0M721.6,914.1h0M723.9,910.4h0M726.7,876.2h0M718.0,889.8h0M712.3,894.0h0M670.0,915.8h0M722.1,914.6h0M706.7,920.4h0M659.2,914.9h0M719.3,882.8h0M711.3,903.0h0M726.7,886.8h0M714.6,878.6h0M716.9,885.0h0M727.1,900.2h0M729.3,910.3h0M706.4,881.5h0M724.8,915.1h0M758.1,824.6h0M747.4,848.9h0M736.9,890.9h0M711.3,870.4h0M770.8,845.3h0M707.1,898.3h0M715.2,957.7h0M699.9,908.8h0M723.9,936.9h0M729.6,893.9h0M729.9,861.1h0M664.2,915.5h0M797.7,775.6h0M714.0,888.4h0M729.2,867.0h0M754.8,880.7h0M725.9,893.7h0M723.8,857.3h0M723.7,874.8h0M704.2,873.1h0M717.1,882.0h0M733.5,869.2h0M726.1,864.5h0M728.8,865.0h0M725.1,843.9h0M719.2,875.6h0M794.8,835.9h0M711.4,905.8h0M705.7,923.8h0M727.5,877.8h0M708.4,915.6h0M791.0,783.1h0M724.9,869.9h0M702.3,868.1h0M675.6,963.8h0M720.6,865.6h0M688.0,910.1h0M692.4,936.4h0M716.0,909.3h0M717.6,896.0h0M732.2,824.3h0M703.6,896.9h0M735.7,838.6h0M715.8,907.2h0M736.2,850.7h0M702.0,884.4h0M685.9,933.1h0M717.9,905.0h0M707.1,887.9h0M721.7,926.0h0M733.6,878.9h0M743.3,796.6h0M695.1,909.4h0M711.7,885.8h0M712.8,878.4h0M707.8,889.6h0M717.2,896.1h0M690.3,926.2h0M708.9,918.8h0M692.0,926.5h0M718.1,901.1h0M760.1,845.7h0M699.8,901.4h0M741.0,807.8h0M713.5,932.9h0M725.6,868.6h0M735.3,895.2h0M724.9,925.6h0M725.3,907.4h0M729.4,890.1h0M755.5,844.7h0M727.0,878.7h0M718.0,844.9h0M710.3,929.0h0M704.6,863.2h0M724.5,881.8h0M711.2,904.2h0M710.1,951.5h0M744.3,811.4h0M730.1,865.6h0M720.7,914.3h0M739.8,834.6h0M724.3,917.6h0M715.9,888.8h0M726.0,883.9h0M721.0,850.3h0M706.1,912.5h0M711.9,876.8h0M721.0,918.3h0M706.3,906.2h0M748.4,796.3h0M687.3,923.1h0M740.3,807.9h0M792.1,835.6h0M724.5,908.8h0M705.9,914.3h0M731.2,908.0h0M719.4,901.5h0M728.0,847.9h0M713.3,900.7h0M709.2,892.3h0M764.6,849.1h0M698.3,906.6h0M691.1,916.5h0M726.7,895.9h0M727.6,856.4h0M711.7,874.1h0M715.8,843.2h0M728.8,832.3h0M723.9,922.2h0M729.7,862.9h0M718.2,839.5h0M794.0,804.5h0M701.4,900.0h0M727.1,910.9h0M708.8,870.2h0M713.5,918.5h0M710.3,892.4h0M733.2,886.2h0M724.5,873.9h0M714.1,904.0h0M721.9,897.3h0M719.1,864.5h0M724.3,886.1h0M712.9,872.4h0M719.3,905.3h0M715.6,856.4h0M699.2,892.7h0M673.3,896.8h0M722.0,868.2h0M708.7,935.8h0M732.7,940.6h0M683.2,892.8h0M706.3,911.4h0M728.4,891.7h0M699.9,925.2h0M719.9,902.4h0M713.4,886.9h0M714.4,872.0h0M713.1,901.5h0M789.7,828.0h0M714.3,879.1h0M704.6,894.2h0M747.3,859.1h0M701.1,935.6h0M728.9,914.2h0M727.5,852.7h0M730.1,895.7h0M727.9,853.5h0M705.2,907.0h0M684.5,896.5h0M718.7,912.5h0M716.6,922.3h0M711.2,901.0h0M733.6,920.0h0M700.8,937.0h0M721.9,876.3h0M721.9,849.7h0M672.9,922.8h0M733.8,917.8h0M719.5,914.2h0M716.3,887.8h0M709.7,900.8h0M717.6,833.0h0M716.7,846.0h0M724.7,892.4h0M685.2,866.4h0M719.8,912.2h0M720.1,911.9h0M761.6,870.1h0M722.7,912.1h0M726.4,897.3h0M718.6,851.3h0M723.0,896.5h0M797.7,861.5h0M717.1,874.0h0M847.5,803.6h0M724.6,869.5h0M745.7,825.4h0M721.6,867.4h0M734.8,897.2h0M732.8,855.5h0M717.6,947.5h0M713.1,902.1h0M759.2,836.6h0M711.4,873.1h0M725.7,851.1h0M707.8,931.7h0M722.3,900.8h0M718.0,893.9h0M714.6,905.2h0M712.7,886.2h0M766.9,840.8h0M726.8,867.2h0M719.3,898.2h0M721.3,810.6h0M736.8,903.9h0M729.9,886.2h0M702.0,865.8h0M708.1,878.6h0M745.1,841.7h0M724.3,854.5h0M720.1,893.1h0M707.2,896.3h0M703.0,874.7h0M705.4,860.7h0M710.7,926.9h0M723.9,897.6h0M718.6,888.9h0M730.1,857.8h0M715.1,921.8h0M720.2,864.7h0M765.8,862.1h0M687.8,895.5h0M725.5,877.0h0M728.4,844.8h0M707.9,922.4h0M738.7,808.1h0M703.8,907.8h0M733.9,893.5h0M707.5,874.8h0M716.8,913.8h0M715.9,873.2h0M725.0,908.9h0M727.3,910.6h0M685.6,898.9h0M733.5,824.8h0M723.4,873.9h0M748.5,797.4h0M709.1,888.8h0M717.9,897.2h0M762.7,836.6h0M725.5,878.7h0M720.6,874.9h0M717.4,870.8h0M746.8,828.1h0M664.6,893.7h0" stroke="#1f77b4" stroke-width="1.9" stroke-linecap="round" fill="none"/>
<line x1="618.90" y1="705.00" x2="618.90" y2="989.00" stroke="#808080" stroke-width="1.1"/>
<line x1="618.90" y1="989.00" x2="901.40" y2="989.00" stroke="#808080" stroke-width="1.1"/>
<line x1="636.60" y1="989.00" x2="636.60" y2="992.00" stroke="#808080" stroke-width="1.0"/>
<text x="631.3" y="1011.0" style="font-family:'Liberation Sans',Arial,sans-serif;font-size:17px;font-weight:normal" text-anchor="middle" fill="#111">-2.0</text>
<line x1="680.45" y1="989.00" x2="680.45" y2="992.00" stroke="#808080" stroke-width="1.0"/>
<text x="673.9" y="1011.0" style="font-family:'Liberation Sans',Arial,sans-serif;font-size:17px;font-weight:normal" text-anchor="middle" fill="#111">-1.0</text>
<line x1="724.30" y1="989.00" x2="724.30" y2="992.00" stroke="#808080" stroke-width="1.0"/>
<text x="723.0" y="1011.0" style="font-family:'Liberation Sans',Arial,sans-serif;font-size:17px;font-weight:normal" text-anchor="middle" fill="#111">0.0</text>
<line x1="768.15" y1="989.00" x2="768.15" y2="992.00" stroke="#808080" stroke-width="1.0"/>
<text x="764.0" y="1011.0" style="font-family:'Liberation Sans',Arial,sans-serif;font-size:17px;font-weight:normal" text-anchor="middle" fill="#111">1.0</text>
<line x1="812.00" y1="989.00" x2="812.00" y2="992.00" stroke="#808080" stroke-width="1.0"/>
<text x="804.0" y="1011.0" style="font-family:'Liberation Sans',Arial,sans-serif;font-size:17px;font-weight:normal" text-anchor="middle" fill="#111">2.0</text>
<line x1="855.85" y1="989.00" x2="855.85" y2="992.00" stroke="#808080" stroke-width="1.0"/>
<text x="853.0" y="1011.0" style="font-family:'Liberation Sans',Arial,sans-serif;font-size:17px;font-weight:normal" text-anchor="middle" fill="#111">3.0</text>
<line x1="899.70" y1="989.00" x2="899.70" y2="992.00" stroke="#808080" stroke-width="1.0"/>
<text x="895.0" y="1011.0" style="font-family:'Liberation Sans',Arial,sans-serif;font-size:17px;font-weight:normal" text-anchor="middle" fill="#111">4.0</text>
<line x1="615.90" y1="989.05" x2="618.90" y2="989.05" stroke="#808080" stroke-width="1.0"/>
<text x="613.2" y="995.1" style="font-family:'Liberation Sans',Arial,sans-serif;font-size:17px;font-weight:normal" text-anchor="end" fill="#111">-1.5</text>
<line x1="615.90" y1="953.60" x2="618.90" y2="953.60" stroke="#808080" stroke-width="1.0"/>
<text x="613.2" y="959.6" style="font-family:'Liberation Sans',Arial,sans-serif;font-size:17px;font-weight:normal" text-anchor="end" fill="#111">-1.0</text>
<line x1="615.90" y1="918.15" x2="618.90" y2="918.15" stroke="#808080" stroke-width="1.0"/>
<text x="613.2" y="924.2" style="font-family:'Liberation Sans',Arial,sans-serif;font-size:17px;font-weight:normal" text-anchor="end" fill="#111">-0.5</text>
<line x1="615.90" y1="882.70" x2="618.90" y2="882.70" stroke="#808080" stroke-width="1.0"/>
<text x="613.2" y="888.7" style="font-family:'Liberation Sans',Arial,sans-serif;font-size:17px;font-weight:normal" text-anchor="end" fill="#111">0.0</text>
<line x1="615.90" y1="847.25" x2="618.90" y2="847.25" stroke="#808080" stroke-width="1.0"/>
<text x="613.2" y="853.2" style="font-family:'Liberation Sans',Arial,sans-serif;font-size:17px;font-weight:normal" text-anchor="end" fill="#111">0.5</text>
<line x1="615.90" y1="811.80" x2="618.90" y2="811.80" stroke="#808080" stroke-width="1.0"/>
<text x="613.2" y="817.8" style="font-family:'Liberation Sans',Arial,sans-serif;font-size:17px;font-weight:normal" text-anchor="end" fill="#111">1.0</text>
<line x1="615.90" y1="776.35" x2="618.90" y2="776.35" stroke="#808080" stroke-width="1.0"/>
<text x="613.2" y="782.4" style="font-family:'Liberation Sans',Arial,sans-serif;font-size:17px;font-weight:normal" text-anchor="end" fill="#111">1.5</text>
<line x1="615.90" y1="740.90" x2="618.90" y2="740.90" stroke="#808080" stroke-width="1.0"/>
<text x="613.2" y="746.9" style="font-family:'Liberation Sans',Arial,sans-serif;font-size:17px;font-weight:normal" text-anchor="end" fill="#111">2.0</text>
<line x1="615.90" y1="705.45" x2="618.90" y2="705.45" stroke="#808080" stroke-width="1.0"/>
<text x="613.2" y="711.5" style="font-family:'Liberation Sans',Arial,sans-serif;font-size:17px;font-weight:normal" text-anchor="end" fill="#111">2.5</text>
<text x="737.0" y="616.3" style="font-family:'Liberation Sans',Arial,sans-serif;font-size:20px;font-weight:normal" text-anchor="middle" fill="#111" textLength="92.9" lengthAdjust="spacingAndGlyphs">Astrocytes</text>
<text x="758.6" y="1034.3" style="font-family:'Liberation Sans',Arial,sans-serif;font-size:20.5px;font-weight:normal" text-anchor="middle" fill="#111" textLength="252.2" lengthAdjust="spacingAndGlyphs">scRNA-seq gene expression</text>
<text x="582.6" y="845.4" style="font-family:'Liberation Sans',Arial,sans-serif;font-size:20.5px;font-weight:normal" text-anchor="middle" fill="#111" transform="rotate(-90 582.6 845.4)" textLength="249.0" lengthAdjust="spacingAndGlyphs">seqFISH+ gene expression</text>
<path d="M1042.1,699.1V698.9H1047.1V699.1ZM1047.1,699.1V698.9H1052.2V699.1ZM1052.2,699.1V698.7H1057.3V699.1ZM1057.3,699.1V698.6H1062.4V699.1ZM1062.4,699.1V698.5H1067.4V699.1ZM1067.4,699.1V698.2H1072.5V699.1ZM1072.5,699.1V698.1H1077.6V699.1ZM1077.6,699.1V697.7H1082.7V699.1ZM1082.7,699.1V696.2H1087.7V699.1ZM1087.7,699.1V694.0H1092.8V699.1ZM1092.8,699.1V691.0H1097.9V699.1ZM1097.9,699.1V687.1H1103.0V699.1ZM1103.0,699.1V676.4H1108.0V699.1ZM1108.0,699.1V667.2H1113.1V699.1ZM1113.1,699.1V657.4H1118.2V699.1ZM1118.2,699.1V652.8H1123.3V699.1ZM1123.3,699.1V658.1H1128.3V699.1ZM1128.3,699.1V688.0H1133.4V699.1ZM1133.4,699.1V692.2H1138.5V699.1ZM1138.5,699.1V691.0H1143.6V699.1ZM1143.6,699.1V695.9H1148.6V699.1ZM1148.6,699.1V694.9H1153.7V699.1ZM1153.7,699.1V697.1H1158.8V699.1ZM1158.8,699.1V697.2H1163.9V699.1ZM1163.9,699.1V697.2H1169.0V699.1ZM1169.0,699.1V698.2H1174.0V699.1ZM1174.0,699.1V698.2H1179.1V699.1ZM1179.1,699.1V698.2H1184.2V699.1ZM1184.2,699.1V698.5H1189.3V699.1ZM1189.3,699.1V698.6H1194.3V699.1ZM1194.3,699.1V698.6H1199.4V699.1ZM1199.4,699.1V698.7H1204.5V699.1ZM1204.5,699.1V698.8H1209.6V699.1ZM1209.6,699.1V698.8H1214.6V699.1ZM1214.6,699.1V698.9H1219.7V699.1ZM1219.7,699.1V698.9H1224.8V699.1ZM1224.8,699.1V698.9H1229.9V699.1ZM1229.9,699.1V698.9H1234.9V699.1ZM1234.9,699.1V698.9H1240.0V699.1ZM1240.0,699.1V698.9H1245.1V699.1ZM1245.1,699.1V699.0H1250.2V699.1ZM1250.2,699.1V699.0H1255.2V699.1ZM1255.2,699.1V699.0H1260.3V699.1ZM1260.3,699.1V699.0H1265.4V699.1ZM1265.4,699.1V699.0H1270.5V699.1ZM1270.5,699.1V699.0H1275.5V699.1ZM1275.5,699.1V699.0H1280.6V699.1ZM1280.6,699.1V699.0H1285.7V699.1ZM1285.7,699.1V699.0H1290.8V699.1ZM1290.8,699.1V699.0H1295.8V699.1Z" fill="#a6c6e2"/>
<line x1="1028.50" y1="699.10" x2="1310.40" y2="699.10" stroke="#808080" stroke-width="1.1"/>
<line x1="1047.62" y1="699.10" x2="1047.62" y2="701.60" stroke="#808080" stroke-width="1.0"/>
<line x1="1084.16" y1="699.10" x2="1084.16" y2="701.60" stroke="#808080" stroke-width="1.0"/>
<line x1="1120.70" y1="699.10" x2="1120.70" y2="701.60" stroke="#808080" stroke-width="1.0"/>
<line x1="1157.24" y1="699.10" x2="1157.24" y2="701.60" stroke="#808080" stroke-width="1.0"/>
<line x1="1193.78" y1="699.10" x2="1193.78" y2="701.60" stroke="#808080" stroke-width="1.0"/>
<line x1="1230.32" y1="699.10" x2="1230.32" y2="701.60" stroke="#808080" stroke-width="1.0"/>
<line x1="1266.86" y1="699.10" x2="1266.86" y2="701.60" stroke="#808080" stroke-width="1.0"/>
<line x1="1303.40" y1="699.10" x2="1303.40" y2="701.60" stroke="#808080" stroke-width="1.0"/>
<path d="M1320.1,820.9H1320.6V826.1H1320.1ZM1320.1,826.1H1320.9V831.3H1320.1ZM1320.1,831.3H1321.4V836.4H1320.1ZM1320.1,836.4H1322.7V841.6H1320.1ZM1320.1,841.6H1324.6V846.8H1320.1ZM1320.1,846.8H1325.2V852.0H1320.1ZM1320.1,852.0H1325.9V857.2H1320.1ZM1320.1,857.2H1326.5V862.4H1320.1ZM1320.1,862.4H1327.2V867.6H1320.1ZM1320.1,867.6H1329.1V872.8H1320.1ZM1320.1,872.8H1329.1V878.0H1320.1ZM1320.1,878.0H1338.8V883.2H1320.1ZM1320.1,883.2H1340.7V888.3H1320.1ZM1320.1,888.3H1351.0V893.5H1320.1ZM1320.1,893.5H1357.4V898.7H1320.1ZM1320.1,898.7H1363.2V903.9H1320.1ZM1320.1,903.9H1366.4V909.1H1320.1ZM1320.1,909.1H1358.7V914.3H1320.1ZM1320.1,914.3H1354.0V919.5H1320.1ZM1320.1,919.5H1340.7V924.7H1320.1ZM1320.1,924.7H1337.5V929.9H1320.1ZM1320.1,929.9H1330.4V935.1H1320.1ZM1320.1,935.1H1325.2V940.2H1320.1ZM1320.1,940.2H1322.7V945.4H1320.1ZM1320.1,945.4H1321.4V950.6H1320.1ZM1320.1,950.6H1320.9V955.8H1320.1Z" fill="#a6c6e2"/>
<line x1="1320.10" y1="709.80" x2="1320.10" y2="994.50" stroke="#808080" stroke-width="1.1"/>
<line x1="1317.60" y1="981.40" x2="1320.10" y2="981.40" stroke="#808080" stroke-width="1.0"/>
<line x1="1317.60" y1="939.75" x2="1320.10" y2="939.75" stroke="#808080" stroke-width="1.0"/>
<line x1="1317.60" y1="898.10" x2="1320.10" y2="898.10" stroke="#808080" stroke-width="1.0"/>
<line x1="1317.60" y1="856.45" x2="1320.10" y2="856.45" stroke="#808080" stroke-width="1.0"/>
<line x1="1317.60" y1="814.80" x2="1320.10" y2="814.80" stroke="#808080" stroke-width="1.0"/>
<line x1="1317.60" y1="773.15" x2="1320.10" y2="773.15" stroke="#808080" stroke-width="1.0"/>
<line x1="1317.60" y1="731.50" x2="1320.10" y2="731.50" stroke="#808080" stroke-width="1.0"/>
<path d="M1111.5,906.5h0M1110.9,914.8h0M1127.0,888.9h0M1100.0,920.8h0M1118.7,929.3h0M1126.9,896.5h0M1107.4,904.9h0M1094.1,931.0h0M1110.4,903.5h0M1122.4,893.5h0M1119.6,941.0h0M1104.6,907.5h0M1114.8,943.1h0M1124.0,923.0h0M1117.7,909.2h0M1121.5,920.1h0M1167.3,845.5h0M1127.2,880.5h0M1117.5,925.3h0M1105.6,897.8h0M1118.0,876.5h0M1118.2,883.4h0M1139.7,878.4h0M1124.2,927.4h0M1111.1,912.0h0M1147.4,876.1h0M1117.4,911.3h0M1128.3,907.8h0M1102.6,922.4h0M1100.3,909.8h0M1105.5,898.0h0M1136.1,918.4h0M1123.3,904.9h0M1130.7,887.8h0M1121.8,903.4h0M1113.4,918.0h0M1119.6,935.3h0M1118.9,904.4h0M1128.8,908.0h0M1114.8,913.9h0M1140.7,875.7h0M1118.8,921.3h0M1131.7,886.3h0M1121.5,886.4h0M1128.3,889.6h0M1116.7,919.2h0M1118.3,904.1h0M1108.7,903.5h0M1102.6,922.1h0M1088.5,920.8h0M1124.3,925.4h0M1115.5,913.0h0M1142.6,855.0h0M1130.7,879.7h0M1113.2,913.3h0M1170.8,887.6h0M1123.1,866.9h0M1124.4,883.4h0M1116.6,920.0h0M1104.5,913.4h0M1103.2,927.2h0M1104.8,928.2h0M1120.6,924.9h0M1102.3,908.5h0M1083.6,899.3h0M1132.8,879.9h0M1098.6,945.2h0M1114.7,900.8h0M1115.3,933.5h0M1123.1,898.7h0M1120.1,887.4h0M1150.3,869.9h0M1123.5,900.0h0M1119.4,900.1h0M1121.4,903.5h0M1121.9,906.2h0M1166.0,861.9h0M1112.8,927.0h0M1123.4,928.5h0M1121.4,874.5h0M1089.7,893.1h0M1110.6,939.5h0M1145.2,871.1h0M1124.0,888.1h0M1073.3,951.9h0M1108.5,930.6h0M1070.3,944.7h0M1133.3,899.1h0M1098.6,909.6h0M1097.3,934.9h0M1187.6,762.7h0M1114.6,920.1h0M1108.8,887.3h0M1088.7,916.9h0M1118.1,887.6h0M1116.1,914.7h0M1123.2,906.0h0M1063.7,954.6h0M1103.6,899.1h0M1105.8,928.1h0M1113.6,923.5h0M1110.4,916.8h0M1120.8,898.3h0M1112.9,912.3h0M1142.1,905.5h0M1158.8,908.6h0M1093.0,938.3h0M1103.0,937.3h0M1121.0,886.6h0M1126.2,900.3h0M1095.7,914.4h0M1107.4,937.6h0M1114.2,910.5h0M1126.0,893.6h0M1142.9,857.9h0M1137.0,837.6h0M1125.1,909.2h0M1093.1,925.5h0M1174.4,838.2h0M1123.1,926.0h0M1098.6,917.8h0M1108.2,911.5h0M1122.2,898.2h0M1116.0,922.9h0M1115.4,910.1h0M1126.6,878.0h0M1129.6,877.7h0M1120.1,915.1h0M1124.7,874.3h0M1113.9,917.2h0M1177.5,873.7h0M1120.1,886.2h0M1165.9,856.2h0M1090.7,891.9h0M1136.7,887.4h0M1122.1,900.9h0M1126.8,887.0h0M1104.4,913.9h0M1118.6,912.9h0M1111.1,912.5h0M1098.9,923.4h0M1059.3,957.2h0M1142.9,872.3h0M1123.6,927.6h0M1104.8,903.1h0M1109.1,924.6h0M1115.6,912.8h0M1125.9,913.1h0M1099.2,926.2h0M1168.6,865.8h0M1151.5,890.2h0M1108.7,909.2h0M1122.2,900.4h0M1116.5,916.6h0M1125.2,905.1h0M1101.8,916.6h0M1117.0,910.1h0M1119.9,921.5h0M1122.8,901.5h0M1126.6,916.7h0M1138.8,836.6h0M1109.0,909.3h0M1103.1,928.9h0M1116.4,900.3h0M1118.8,918.4h0M1161.1,840.8h0M1125.8,874.2h0M1123.6,880.4h0M1174.0,874.9h0M1112.8,929.7h0M1113.1,919.4h0M1114.9,871.7h0M1109.5,912.9h0M1118.9,901.6h0M1158.8,858.3h0M1106.9,894.0h0M1118.9,889.8h0M1123.3,930.9h0M1122.4,917.0h0M1139.9,852.3h0M1125.1,919.9h0M1137.4,912.3h0M1102.0,942.6h0M1105.7,927.8h0M1097.2,912.9h0M1130.7,877.0h0M1161.0,887.7h0M1075.7,930.7h0M1125.9,922.5h0M1124.6,876.4h0M1142.3,872.4h0M1111.5,914.7h0M1124.1,891.9h0M1110.9,906.8h0M1095.4,962.1h0M1126.1,882.8h0M1090.6,922.1h0M1126.8,926.2h0M1110.3,920.2h0M1115.8,889.3h0M1143.0,879.2h0M1108.3,937.9h0M1116.9,917.2h0M1113.4,922.1h0M1103.1,916.9h0M1117.6,918.9h0M1103.6,918.2h0M1123.6,904.8h0M1122.3,927.7h0M1109.7,907.0h0M1171.2,868.7h0M1116.1,919.8h0M1125.8,887.7h0M1127.0,860.9h0M1110.2,939.8h0M1076.5,938.6h0M1140.2,898.7h0M1154.3,871.6h0M1106.9,925.9h0M1107.8,878.8h0M1117.4,915.6h0M1118.6,908.4h0M1206.8,831.6h0M1162.1,830.8h0M1202.4,787.6h0M1112.2,926.6h0M1123.2,909.9h0M1116.3,902.9h0M1112.5,905.7h0M1094.6,910.2h0M1105.6,919.4h0M1117.7,919.3h0M1099.0,924.1h0M1105.9,931.7h0M1090.9,938.8h0M1119.7,913.3h0M1122.0,898.2h0M1111.9,898.1h0M1121.3,922.3h0M1114.2,919.9h0M1119.5,905.9h0M1146.4,865.0h0M1114.3,914.2h0M1121.8,893.9h0M1111.8,915.7h0M1149.1,874.4h0M1121.4,881.9h0M1106.5,937.4h0M1111.4,885.1h0M1107.0,911.8h0M1106.4,911.2h0M1108.9,939.0h0M1129.8,892.2h0M1116.6,911.4h0M1112.1,925.8h0M1114.3,900.8h0M1110.3,900.8h0M1123.9,881.9h0M1096.5,945.5h0M1112.2,924.7h0M1108.3,891.9h0M1107.2,907.2h0M1124.7,887.4h0M1104.8,926.6h0M1110.1,907.5h0M1097.4,910.7h0M1125.1,920.7h0M1117.2,918.5h0M1123.2,897.9h0M1111.6,889.2h0M1086.1,940.8h0M1111.5,901.0h0M1126.1,913.3h0M1128.5,917.1h0M1115.1,898.5h0M1130.1,912.9h0M1093.7,926.4h0M1121.8,912.3h0M1109.0,905.6h0M1114.1,930.5h0M1108.5,937.5h0M1140.2,873.8h0M1110.2,916.3h0M1153.4,827.4h0M1098.4,909.7h0M1116.9,904.2h0M1114.3,911.9h0M1127.5,878.3h0M1115.1,910.6h0M1121.4,886.5h0M1096.1,902.9h0M1112.0,900.5h0M1127.7,891.8h0M1100.7,914.9h0M1115.8,909.8h0M1109.9,908.9h0M1105.1,932.1h0M1102.5,933.7h0M1124.7,875.2h0M1126.4,901.5h0M1114.9,937.1h0M1117.3,885.0h0M1125.1,878.4h0M1119.2,898.2h0M1140.6,840.8h0M1141.2,897.8h0M1114.0,892.3h0M1118.5,886.0h0M1119.7,909.2h0M1108.4,908.0h0M1117.1,911.9h0M1125.0,904.6h0M1121.6,922.7h0M1122.6,915.6h0M1115.9,916.9h0M1158.2,887.0h0M1125.9,883.8h0M1103.3,910.2h0M1125.8,929.6h0M1140.4,847.5h0M1125.1,925.4h0M1115.5,900.9h0M1117.5,910.4h0M1112.0,910.9h0M1096.7,932.9h0M1114.0,927.5h0M1132.1,868.2h0M1127.1,939.2h0M1119.3,920.3h0M1133.2,872.3h0M1120.2,905.3h0M1112.4,911.5h0M1125.8,914.4h0M1115.5,927.7h0M1141.9,824.2h0M1111.9,915.0h0M1099.2,917.5h0M1126.8,886.9h0M1098.5,951.9h0M1134.6,909.9h0M1115.0,920.6h0M1123.3,898.8h0M1097.1,913.5h0M1120.7,921.8h0M1124.2,905.3h0M1106.1,919.0h0M1119.6,907.5h0M1103.8,893.5h0M1109.9,926.3h0M1114.3,907.6h0M1119.4,944.1h0M1107.6,917.8h0M1103.3,917.7h0M1125.9,888.7h0M1126.0,908.7h0M1115.8,918.2h0M1113.0,931.4h0M1123.4,910.8h0M1117.1,868.6h0M1108.4,943.6h0M1133.9,921.7h0M1105.1,916.6h0M1126.0,915.9h0M1121.0,884.0h0M1119.7,930.5h0M1128.2,871.1h0M1127.6,906.2h0M1136.4,879.6h0M1143.3,826.6h0M1109.5,929.3h0M1107.5,926.8h0M1140.6,908.2h0M1103.0,941.2h0M1112.7,861.0h0M1124.5,887.6h0M1164.5,862.9h0M1129.4,906.5h0M1121.9,859.0h0M1116.8,920.7h0M1208.9,840.1h0M1124.5,876.9h0M1119.3,921.3h0M1077.3,932.0h0M1104.2,926.9h0M1073.0,922.2h0M1142.5,810.1h0M1109.0,905.4h0M1106.2,914.2h0M1119.6,925.6h0M1106.4,875.9h0M1120.2,879.6h0M1157.9,833.1h0M1134.7,867.5h0M1108.2,914.7h0M1140.3,890.2h0M1113.4,894.9h0M1119.3,921.5h0M1109.2,922.9h0M1292.0,713.1h0M1109.0,940.4h0M1124.9,900.3h0M1121.6,908.4h0M1123.6,921.1h0M1102.0,940.5h0M1118.9,909.5h0M1269.3,792.4h0M1121.8,900.7h0M1105.5,942.2h0M1095.1,924.8h0M1108.4,935.9h0M1128.0,911.5h0M1085.9,917.9h0M1088.9,942.8h0M1119.1,914.0h0M1138.1,893.4h0M1116.2,908.3h0M1122.4,889.0h0M1112.0,917.6h0M1108.2,903.9h0M1117.6,928.8h0M1111.4,904.6h0M1115.6,910.5h0M1105.6,916.0h0M1146.2,897.6h0M1122.6,913.0h0M1099.3,917.5h0M1103.3,938.9h0M1129.2,884.2h0M1116.7,915.1h0M1110.1,905.9h0M1084.7,953.9h0M1128.0,925.2h0M1120.8,893.6h0M1128.7,886.1h0M1104.8,918.7h0M1125.5,889.3h0M1133.3,893.8h0M1129.0,886.3h0M1126.9,896.6h0M1117.1,923.6h0M1088.4,913.5h0M1123.0,918.4h0M1084.1,898.0h0M1098.3,926.0h0M1117.9,922.2h0M1102.8,923.2h0M1115.7,907.5h0M1129.5,894.4h0M1103.2,909.9h0M1128.0,907.9h0M1273.0,790.1h0M1092.7,942.3h0M1116.2,900.8h0M1127.2,880.0h0M1125.5,933.2h0M1110.0,911.5h0M1126.3,880.7h0M1113.3,933.8h0M1105.0,889.0h0M1121.5,916.2h0M1119.3,907.2h0M1129.2,905.0h0M1119.9,874.9h0M1099.4,907.3h0M1122.0,900.6h0M1113.7,915.9h0M1127.6,926.2h0M1088.4,936.5h0M1119.3,915.3h0M1125.8,901.7h0M1089.4,962.8h0M1079.1,918.4h0M1138.7,863.3h0M1138.9,893.9h0M1107.2,925.4h0M1148.6,815.8h0M1117.9,926.9h0M1120.8,889.1h0M1114.1,913.4h0M1115.4,880.5h0M1136.6,865.6h0M1120.5,891.3h0M1146.9,869.4h0M1120.5,928.8h0M1147.4,860.0h0M1122.6,929.3h0M1116.9,902.2h0M1121.5,893.3h0M1067.2,969.0h0M1126.6,909.4h0M1103.3,921.7h0M1153.7,872.2h0M1092.5,923.2h0M1124.2,900.4h0M1124.3,915.6h0M1123.0,897.3h0M1100.4,879.8h0M1127.4,907.9h0M1112.0,884.8h0M1112.4,931.1h0M1125.3,910.9h0M1173.2,826.1h0M1100.7,907.0h0M1115.0,882.0h0M1125.4,890.0h0M1112.7,921.2h0M1145.3,866.1h0M1122.7,909.9h0M1096.4,907.4h0M1104.7,907.6h0M1103.4,898.1h0M1117.4,918.5h0M1138.9,880.6h0M1102.7,926.8h0M1104.5,924.2h0M1107.8,917.9h0M1118.3,884.9h0M1113.4,908.0h0M1117.6,887.1h0M1104.0,915.1h0M1129.4,926.6h0M1115.6,931.8h0M1136.1,912.8h0M1083.6,916.5h0M1117.6,906.8h0M1113.6,935.0h0M1129.0,895.1h0M1128.2,902.0h0M1120.5,894.6h0M1103.4,905.2h0M1123.8,896.9h0M1140.1,887.4h0M1125.1,917.8h0M1168.4,825.9h0M1120.2,906.0h0M1110.1,907.3h0M1110.4,920.7h0M1125.0,911.3h0M1125.4,892.1h0M1122.8,888.8h0M1127.7,893.6h0M1116.0,925.5h0M1128.9,902.5h0M1127.0,862.7h0M1109.8,931.5h0M1122.6,908.7h0M1121.7,888.1h0M1105.8,933.1h0M1150.1,901.6h0M1126.2,878.1h0M1107.8,899.0h0M1111.7,941.9h0M1054.1,951.1h0M1152.0,865.1h0M1104.4,941.3h0M1129.8,878.8h0M1121.7,912.2h0M1097.3,925.0h0M1106.6,930.6h0M1109.6,900.5h0M1124.4,886.0h0M1117.1,894.0h0M1104.2,878.2h0M1152.4,862.4h0M1122.1,907.9h0M1092.8,918.5h0M1174.0,829.8h0M1128.3,884.6h0M1114.1,948.1h0M1104.8,902.2h0M1128.0,862.8h0M1099.3,906.2h0M1150.7,841.3h0M1123.9,863.5h0M1127.6,883.0h0M1125.3,863.2h0M1138.1,930.4h0M1118.1,908.1h0M1126.0,923.4h0M1099.7,916.8h0M1123.7,888.9h0M1127.3,901.2h0M1107.9,933.1h0M1098.1,905.5h0M1142.6,878.9h0M1139.7,888.1h0M1100.2,926.7h0M1120.0,894.3h0M1105.8,918.1h0M1104.7,907.0h0M1148.2,918.1h0M1118.4,937.2h0M1126.3,906.7h0M1111.4,917.5h0M1128.1,903.8h0M1126.3,896.8h0M1115.3,886.0h0M1119.2,918.6h0M1109.6,900.9h0M1122.3,905.8h0M1103.0,927.3h0M1117.6,928.2h0M1132.6,903.4h0M1120.6,919.2h0M1122.4,891.9h0M1099.2,894.0h0M1129.3,884.7h0M1122.0,887.6h0M1152.3,882.0h0M1150.4,890.6h0M1147.2,902.4h0M1118.8,918.0h0M1123.5,894.5h0M1102.1,927.8h0M1090.2,916.9h0M1127.1,893.3h0M1126.0,901.2h0M1151.0,867.2h0M1112.7,904.9h0M1123.0,895.0h0M1125.7,895.6h0M1119.9,883.2h0M1130.1,902.7h0M1117.2,927.1h0M1130.0,915.1h0M1130.7,908.8h0M1138.7,897.7h0M1114.3,909.0h0M1142.9,873.8h0M1112.7,924.8h0M1123.2,913.0h0M1180.4,865.6h0M1121.2,917.2h0M1121.0,913.6h0M1117.5,892.3h0M1120.3,880.5h0M1117.7,915.6h0M1124.7,899.1h0M1120.2,886.5h0M1109.1,905.9h0M1103.6,919.0h0M1202.8,825.8h0M1122.1,901.8h0M1105.2,925.7h0M1117.1,896.0h0M1121.2,911.4h0M1112.2,916.9h0M1140.7,903.9h0M1119.7,921.3h0M1126.8,884.6h0M1119.3,914.6h0M1106.8,929.4h0M1147.6,867.1h0M1129.5,883.3h0M1106.4,898.2h0M1120.8,879.7h0M1122.6,916.3h0M1108.4,916.4h0M1114.1,925.0h0M1109.5,923.5h0M1122.4,886.3h0M1114.3,902.3h0M1099.5,915.7h0M1110.7,903.8h0M1107.1,920.4h0M1122.1,880.3h0M1118.6,920.1h0M1115.2,895.9h0M1122.8,909.9h0M1120.3,917.4h0M1109.1,879.4h0M1093.5,931.6h0M1160.9,851.0h0M1106.2,927.5h0M1112.9,921.0h0M1127.8,876.9h0M1199.0,848.0h0M1098.7,920.1h0M1113.8,900.8h0M1130.0,884.5h0M1101.4,905.1h0M1110.4,903.4h0M1122.6,889.8h0M1131.2,888.5h0M1102.9,915.5h0M1116.4,888.1h0M1120.2,938.6h0M1120.5,889.4h0M1122.3,900.9h0M1232.2,796.5h0M1191.5,860.4h0M1103.8,928.7h0M1112.0,900.5h0M1115.5,926.7h0M1098.6,938.0h0M1105.3,932.4h0M1121.6,875.8h0M1203.5,861.6h0M1112.9,910.5h0M1104.0,940.7h0M1121.0,902.1h0M1109.5,899.5h0M1074.4,961.0h0M1100.8,919.7h0M1136.9,875.5h0M1098.0,913.4h0M1118.7,889.8h0M1117.2,874.9h0M1125.2,900.3h0M1118.4,905.7h0M1110.7,923.1h0M1105.2,901.8h0M1109.6,914.3h0M1112.7,903.4h0M1112.1,900.2h0M1110.5,915.4h0M1122.3,905.8h0M1122.8,899.9h0M1094.2,924.6h0M1113.9,909.2h0M1145.5,829.5h0M1151.7,826.5h0M1112.7,891.5h0M1106.8,925.9h0M1111.6,910.6h0M1105.3,917.2h0M1111.5,894.8h0M1145.3,884.5h0M1133.5,897.0h0M1113.9,918.1h0M1120.5,891.3h0M1125.2,890.0h0M1127.8,891.0h0M1127.1,896.3h0M1127.1,862.3h0M1119.5,900.1h0M1106.5,947.2h0M1124.3,924.5h0M1127.0,921.2h0M1103.6,925.7h0M1103.9,943.0h0M1118.6,905.9h0M1115.6,931.7h0M1126.1,900.5h0M1112.6,921.5h0M1119.8,897.0h0M1119.8,903.1h0M1099.1,938.4h0M1111.8,883.0h0M1114.6,927.8h0M1111.6,920.8h0M1100.9,943.9h0M1110.1,897.7h0M1119.9,889.9h0M1112.2,913.3h0M1122.9,942.3h0M1114.7,897.0h0M1116.1,879.5h0M1107.6,929.9h0M1124.4,893.7h0M1093.3,913.3h0M1152.7,858.5h0M1120.2,923.9h0M1152.2,849.9h0M1123.1,912.9h0M1114.8,900.6h0M1116.3,936.7h0M1145.6,892.2h0M1123.0,901.4h0M1115.1,934.7h0M1105.3,934.1h0M1106.7,907.7h0M1114.4,889.1h0M1117.5,893.3h0M1124.6,853.8h0M1101.6,917.9h0M1117.4,926.9h0M1103.1,919.2h0M1110.3,925.3h0M1120.8,943.7h0M1137.8,839.8h0M1105.4,933.8h0M1106.8,931.7h0M1124.4,872.0h0M1120.6,915.3h0M1101.5,935.0h0M1124.0,888.0h0M1159.6,850.8h0M1123.7,932.8h0M1261.4,773.6h0M1124.5,911.7h0M1109.8,901.2h0M1126.0,896.1h0M1118.7,887.7h0M1099.6,946.7h0M1114.4,912.0h0M1151.9,883.8h0M1121.3,934.3h0M1117.1,890.0h0M1127.2,912.8h0M1124.8,896.6h0M1106.5,934.2h0M1115.0,899.2h0M1125.6,887.7h0M1101.3,923.8h0M1120.3,877.9h0M1102.2,936.9h0M1108.4,899.1h0M1128.0,917.2h0M1115.6,893.2h0M1131.6,881.5h0M1123.7,913.9h0M1120.1,879.1h0M1103.3,920.2h0M1117.6,929.8h0M1135.1,897.5h0M1123.1,887.5h0M1097.1,923.9h0M1119.4,890.5h0M1113.1,887.5h0M1114.0,896.4h0M1113.5,901.6h0M1128.0,894.6h0M1119.1,897.8h0M1132.6,870.1h0M1154.2,880.2h0M1141.1,884.6h0M1123.6,888.7h0M1084.0,951.8h0M1053.5,945.2h0M1105.0,917.1h0M1121.7,895.1h0M1112.9,920.8h0M1107.5,918.9h0M1145.4,942.2h0M1116.7,925.4h0M1106.5,899.5h0M1123.1,883.6h0M1186.0,861.9h0M1126.8,931.0h0M1145.7,876.5h0M1102.9,912.8h0M1125.7,882.3h0M1116.9,930.4h0M1113.7,904.0h0M1117.7,902.8h0M1116.8,932.3h0M1124.1,898.3h0M1111.9,924.1h0M1113.9,934.7h0M1116.4,878.3h0M1123.0,914.7h0M1120.6,927.9h0M1090.6,953.3h0M1132.3,862.4h0M1118.8,889.6h0M1103.5,909.8h0M1119.0,919.4h0M1143.6,822.1h0M1137.8,915.3h0M1117.3,894.9h0M1111.0,936.5h0M1157.5,916.8h0M1125.9,883.5h0M1122.7,917.3h0M1117.4,922.5h0M1134.3,894.5h0M1105.2,939.7h0M1131.5,899.8h0M1127.7,903.2h0M1119.4,882.7h0M1117.7,923.4h0M1127.6,903.7h0M1114.3,888.0h0M1116.8,936.1h0M1112.8,894.0h0M1128.0,905.7h0M1107.4,906.0h0M1118.9,906.1h0M1117.9,896.2h0M1196.4,841.0h0M1098.6,935.1h0M1118.5,942.4h0M1111.6,917.1h0M1156.4,843.4h0M1100.6,920.5h0M1139.7,928.0h0M1121.5,894.9h0M1106.8,909.4h0M1115.6,898.0h0M1108.7,918.5h0M1113.5,885.2h0M1131.4,883.9h0M1114.1,909.0h0M1194.5,870.7h0M1142.7,804.2h0M1108.2,923.2h0M1105.2,931.9h0M1127.0,922.1h0M1114.1,929.9h0M1108.8,894.7h0M1145.3,904.2h0M1119.9,905.5h0M1108.5,902.6h0M1121.0,906.5h0M1123.2,918.4h0M1127.9,912.2h0M1116.8,915.1h0M1119.7,888.3h0M1107.5,924.5h0M1128.5,907.2h0M1141.2,865.8h0M1055.7,959.6h0M1127.4,897.8h0M1173.8,851.2h0M1131.6,866.9h0M1126.3,905.3h0M1112.0,919.6h0M1219.2,818.5h0M1113.9,925.3h0M1132.5,923.2h0M1127.4,884.5h0M1120.7,912.5h0M1168.3,899.2h0M1163.2,914.4h0M1113.7,929.6h0M1118.0,898.5h0M1140.9,814.9h0M1113.7,896.6h0M1135.3,919.6h0M1113.1,922.6h0M1109.8,895.7h0M1118.0,903.9h0M1110.7,882.5h0M1114.7,909.2h0M1112.3,941.6h0M1104.3,948.8h0M1116.7,893.2h0M1103.3,927.1h0M1114.2,903.7h0M1115.9,927.2h0M1150.3,860.2h0M1113.2,948.0h0M1120.1,898.7h0M1146.9,871.9h0M1116.9,920.7h0M1112.4,903.4h0M1118.7,918.6h0M1132.4,888.8h0M1110.5,921.1h0M1127.0,914.1h0M1115.0,902.1h0M1120.2,936.5h0M1122.7,872.9h0M1116.4,935.1h0M1106.0,950.7h0M1112.1,907.9h0M1089.5,949.1h0M1137.8,897.9h0M1121.8,927.5h0M1152.8,837.7h0M1112.9,890.6h0M1121.7,921.8h0M1121.8,871.1h0M1107.1,924.0h0M1121.4,904.4h0M1122.7,914.3h0M1115.4,905.0h0M1114.4,903.9h0M1109.5,916.7h0M1097.5,919.9h0M1119.7,903.7h0M1103.6,911.6h0M1094.9,948.9h0M1192.3,832.5h0M1142.3,877.4h0M1113.6,912.0h0M1115.5,910.6h0M1107.0,920.0h0M1196.7,830.1h0M1109.4,884.3h0M1133.0,910.6h0M1125.1,892.6h0M1078.3,948.8h0M1090.2,906.5h0M1116.3,888.7h0M1091.4,922.9h0M1141.9,881.9h0M1167.5,865.6h0M1120.4,922.3h0M1111.5,900.0h0M1111.9,912.2h0M1107.1,942.4h0M1121.9,906.8h0M1104.2,940.8h0M1111.6,936.7h0M1127.3,900.4h0M1138.3,864.4h0M1122.6,908.7h0M1153.8,833.8h0M1128.2,916.1h0M1115.2,913.2h0M1115.8,911.4h0M1103.6,927.7h0M1125.1,862.2h0M1118.9,911.5h0M1135.3,890.7h0M1119.5,919.1h0M1134.4,896.3h0M1125.1,900.5h0M1122.6,894.1h0M1125.7,951.0h0M1124.7,884.1h0M1088.1,923.9h0M1124.8,897.4h0M1102.7,937.5h0M1122.9,932.6h0M1117.5,926.6h0M1127.5,887.8h0M1112.5,901.2h0M1123.3,902.8h0M1127.9,886.9h0M1117.5,923.1h0M1119.1,924.4h0M1117.8,886.5h0M1126.6,881.4h0M1134.5,880.0h0M1122.6,884.9h0M1072.8,946.3h0M1141.6,912.5h0M1120.4,909.4h0M1105.8,899.1h0M1127.8,902.7h0M1115.8,897.2h0M1106.9,906.2h0M1113.8,925.5h0M1123.0,894.0h0M1115.3,907.8h0M1103.4,943.3h0M1093.8,909.9h0M1117.8,924.8h0M1123.3,894.6h0M1117.9,898.6h0M1117.1,920.3h0M1124.9,916.2h0M1122.7,895.5h0M1189.8,797.9h0M1132.2,874.7h0M1150.1,850.5h0M1121.9,894.9h0M1123.5,899.2h0M1294.6,712.4h0M1075.4,959.7h0M1117.4,938.4h0M1126.1,891.7h0M1112.2,915.1h0M1094.7,937.2h0M1122.5,875.3h0M1097.5,947.8h0M1103.2,924.2h0M1096.3,910.3h0M1124.8,904.3h0M1092.4,935.7h0M1143.3,895.6h0M1121.6,910.0h0M1114.7,937.9h0M1107.0,938.2h0M1116.7,896.7h0M1108.9,903.6h0M1135.2,911.7h0M1118.6,902.0h0M1079.9,928.9h0M1149.9,908.1h0M1201.2,844.3h0M1227.0,784.6h0M1111.9,913.0h0M1122.3,907.1h0M1124.6,889.9h0M1098.9,942.0h0M1116.3,935.1h0M1111.3,899.2h0M1130.6,877.3h0M1086.8,923.5h0M1144.8,887.8h0M1082.2,963.4h0M1146.4,792.6h0M1116.9,917.8h0M1104.4,890.9h0M1108.4,919.7h0M1152.1,895.9h0M1104.9,930.9h0M1125.6,878.1h0M1137.4,905.9h0M1110.3,886.1h0M1122.2,902.9h0M1119.6,948.7h0M1151.2,878.2h0M1104.9,908.2h0M1114.1,900.4h0M1121.1,896.2h0M1105.5,922.2h0M1111.3,916.9h0M1126.1,897.7h0M1119.7,915.0h0M1119.3,876.9h0M1136.2,881.1h0M1110.6,910.4h0M1139.7,885.4h0M1110.1,937.2h0M1138.7,865.1h0M1123.7,897.2h0M1123.8,912.8h0M1119.2,919.7h0M1126.6,903.5h0M1111.6,885.9h0M1127.3,894.9h0M1100.3,936.7h0M1121.6,901.1h0M1172.0,821.5h0M1164.7,816.7h0M1109.5,906.3h0M1143.1,887.2h0M1118.4,900.6h0M1113.4,908.3h0M1115.9,929.2h0M1115.7,904.1h0M1116.3,889.2h0M1155.8,859.0h0M1126.9,883.2h0M1104.9,927.2h0M1125.8,909.8h0M1121.7,912.9h0M1224.3,815.6h0M1109.1,912.9h0M1125.4,896.5h0M1120.2,920.5h0M1108.4,888.1h0M1102.5,934.9h0M1142.2,911.6h0M1079.5,918.2h0M1109.5,901.1h0M1114.3,929.6h0M1110.3,911.4h0M1119.7,916.7h0M1105.6,890.7h0M1125.9,894.4h0M1121.0,895.9h0M1122.3,898.2h0M1177.9,836.8h0M1103.6,900.7h0M1113.7,873.9h0M1106.1,902.9h0M1110.5,891.3h0M1118.2,893.9h0M1124.8,892.3h0M1103.9,936.4h0M1126.0,904.8h0M1124.4,909.7h0M1117.9,895.5h0M1138.0,887.4h0M1113.2,945.2h0M1187.6,856.9h0M1168.5,826.9h0M1114.7,913.7h0M1158.6,879.0h0M1124.1,887.8h0M1119.0,880.4h0M1118.9,876.4h0M1125.0,889.1h0M1162.0,919.3h0M1142.5,889.6h0M1159.3,884.0h0M1113.4,898.1h0M1068.2,920.9h0M1107.5,904.0h0M1118.2,935.0h0M1101.8,900.2h0M1118.7,871.8h0M1098.6,908.1h0M1110.1,914.6h0M1111.3,923.0h0M1142.0,876.5h0M1116.6,880.5h0M1098.9,924.2h0M1127.6,898.9h0M1152.7,856.9h0M1125.1,899.3h0M1064.1,943.2h0M1128.9,900.3h0M1109.4,904.8h0M1124.4,906.4h0M1130.7,904.9h0M1126.3,924.8h0M1097.5,918.6h0M1115.2,884.3h0M1104.4,904.6h0M1127.6,876.9h0M1093.5,930.2h0M1114.3,918.7h0M1126.7,908.3h0M1131.7,909.6h0M1115.8,891.9h0M1099.5,898.5h0M1134.2,900.8h0M1108.4,904.3h0M1121.6,923.1h0M1055.4,951.6h0M1110.9,896.5h0M1151.6,893.4h0M1127.9,874.6h0M1128.2,901.8h0M1120.2,897.2h0M1104.2,888.1h0M1109.0,936.5h0M1154.7,843.6h0M1102.8,920.8h0M1120.6,877.0h0M1114.1,907.4h0M1124.4,901.0h0M1106.3,905.5h0M1100.3,889.9h0M1121.9,910.0h0M1113.0,923.5h0M1125.0,910.6h0M1285.3,757.9h0M1104.2,945.1h0M1109.3,930.5h0M1107.9,923.4h0M1116.8,920.4h0M1111.8,912.8h0M1122.8,912.3h0M1115.5,939.9h0M1120.6,865.2h0M1129.4,878.0h0M1131.0,896.7h0M1106.0,924.4h0M1111.1,922.2h0M1119.9,933.7h0M1113.9,927.0h0M1089.4,926.5h0M1123.7,895.7h0M1123.5,877.1h0M1113.8,908.8h0M1098.0,932.4h0M1127.7,881.6h0M1093.1,916.5h0M1094.1,946.6h0M1122.7,912.8h0M1114.3,893.8h0M1197.3,815.3h0M1112.4,908.5h0M1105.0,932.6h0M1111.7,893.3h0M1136.9,942.7h0M1124.1,933.8h0M1061.8,970.5h0M1106.4,903.5h0M1154.6,861.1h0M1122.5,902.4h0M1117.2,927.4h0M1097.4,952.0h0M1111.2,917.7h0M1081.4,920.1h0M1129.1,879.1h0M1148.0,846.5h0M1118.8,933.0h0M1125.9,894.6h0M1104.8,911.5h0M1111.2,878.4h0M1123.2,911.5h0M1128.1,872.9h0M1119.5,929.5h0M1101.7,900.5h0M1147.5,839.1h0M1108.1,930.5h0M1127.6,890.5h0M1131.0,901.5h0M1105.6,911.3h0M1114.3,910.5h0M1120.8,916.5h0M1211.7,818.9h0M1123.4,905.3h0M1113.9,920.7h0M1127.9,909.2h0M1119.5,936.3h0M1102.4,941.3h0M1110.6,906.8h0M1121.7,899.2h0M1123.4,903.6h0M1113.5,887.7h0M1108.4,914.1h0M1096.0,924.5h0M1125.0,890.8h0M1103.5,912.4h0M1127.4,878.2h0M1150.4,869.8h0M1131.2,892.7h0M1121.4,902.6h0M1095.7,930.4h0M1125.6,900.3h0M1184.3,882.6h0M1109.2,887.7h0M1132.0,892.7h0M1121.7,901.8h0M1128.2,892.1h0M1123.4,881.6h0M1109.2,902.3h0M1113.8,881.0h0M1102.1,887.2h0M1101.4,899.7h0M1112.3,919.0h0M1124.5,905.0h0M1117.6,911.4h0M1133.7,898.9h0M1118.7,887.3h0M1139.9,832.6h0M1126.9,888.4h0M1116.4,912.7h0M1098.5,935.5h0M1113.7,887.7h0M1122.2,924.5h0M1100.2,897.0h0M1103.5,940.0h0M1184.2,870.6h0M1129.1,890.4h0M1113.8,903.5h0M1087.0,932.3h0M1109.1,923.2h0M1122.9,904.5h0M1166.4,852.0h0M1086.0,915.7h0M1123.7,862.1h0M1159.9,785.3h0M1165.1,815.6h0M1118.8,899.7h0M1125.7,899.8h0M1124.2,875.7h0M1078.6,943.0h0M1109.7,915.7h0M1152.1,843.3h0M1102.7,908.0h0M1104.0,862.4h0M1123.0,905.0h0M1141.3,866.8h0M1113.4,920.3h0M1119.4,889.0h0M1183.3,795.8h0M1128.8,903.6h0M1074.1,930.7h0M1124.9,900.4h0M1098.7,936.0h0M1157.3,869.7h0M1126.1,914.8h0M1139.5,889.3h0M1122.9,870.1h0M1096.3,961.1h0M1107.4,887.7h0M1102.7,949.3h0M1125.2,895.3h0M1135.5,865.8h0M1116.2,911.8h0M1128.6,908.8h0M1112.3,920.9h0M1117.6,920.1h0M1117.0,881.4h0M1115.7,891.2h0M1087.0,957.9h0M1106.6,944.8h0M1102.4,921.8h0M1121.6,926.2h0M1115.3,875.6h0M1242.4,771.0h0M1122.0,892.0h0M1103.7,947.0h0M1102.4,930.9h0M1128.1,880.7h0M1132.9,908.7h0M1105.7,904.2h0M1118.2,904.8h0M1163.3,852.3h0M1139.6,888.9h0M1097.9,924.1h0M1120.6,925.5h0M1138.1,890.8h0M1121.3,917.6h0M1083.9,923.2h0M1113.8,933.4h0M1110.9,897.7h0M1114.9,891.8h0M1174.9,822.1h0M1124.7,925.6h0M1269.7,780.2h0M1126.4,895.9h0M1166.1,845.5h0M1113.9,916.2h0M1150.8,882.1h0M1118.6,923.7h0M1127.1,915.6h0M1106.6,934.1h0M1135.0,901.5h0M1115.5,910.8h0M1151.3,861.2h0M1109.8,929.1h0M1117.9,889.1h0M1120.0,901.6h0M1137.8,859.4h0M1128.2,853.3h0M1110.3,955.9h0M1118.6,895.8h0M1131.9,889.2h0M1135.8,872.3h0M1126.0,917.1h0M1112.9,912.4h0M1144.1,834.2h0M1117.7,891.9h0M1125.5,892.1h0M1124.2,897.8h0M1124.4,900.3h0M1094.2,911.4h0M1110.6,910.7h0M1128.1,894.0h0M1121.7,880.6h0M1131.0,904.1h0M1127.7,892.6h0M1125.7,901.0h0M1134.3,906.5h0M1145.3,867.5h0M1112.9,926.7h0M1132.3,900.4h0M1166.5,879.2h0M1102.7,912.2h0M1114.1,900.1h0M1122.8,875.0h0M1122.8,874.8h0M1135.0,864.8h0M1069.6,938.9h0M1094.0,909.8h0M1123.5,905.7h0M1109.2,930.1h0M1117.7,886.1h0M1103.5,931.7h0M1160.4,847.1h0M1120.3,879.1h0M1093.4,927.2h0M1139.5,879.0h0M1119.6,903.0h0M1111.0,912.7h0M1102.0,907.9h0M1083.7,904.1h0M1135.5,847.7h0M1100.3,915.8h0M1109.9,924.1h0M1121.8,897.4h0M1097.4,914.4h0M1124.5,923.3h0M1119.9,921.3h0M1118.4,890.0h0M1113.3,902.2h0M1111.2,921.8h0M1124.4,899.0h0M1180.5,796.3h0M1123.3,886.0h0M1140.7,901.3h0M1105.8,924.9h0M1125.0,871.9h0M1112.4,916.6h0M1109.1,920.5h0M1089.2,928.0h0M1151.3,871.9h0M1107.8,910.5h0M1110.0,906.3h0M1117.2,919.3h0M1115.4,901.0h0M1126.7,885.1h0M1098.7,920.6h0M1097.2,926.0h0M1111.5,922.7h0M1135.8,882.8h0M1132.8,913.2h0M1139.6,892.0h0M1119.8,907.5h0M1066.5,988.2h0M1122.9,898.4h0M1113.0,936.1h0M1105.6,931.9h0M1112.0,926.7h0M1126.2,906.5h0M1119.6,909.8h0M1128.2,889.5h0M1120.1,923.8h0M1122.4,910.9h0M1118.9,900.7h0M1124.4,912.0h0M1123.4,915.3h0M1124.8,898.4h0M1113.2,901.2h0M1110.5,905.7h0M1126.5,922.3h0M1122.9,901.8h0M1127.4,900.8h0M1112.6,884.7h0M1080.9,940.4h0M1127.5,904.4h0M1104.9,896.3h0M1126.9,912.2h0M1094.7,907.1h0M1101.2,901.5h0M1100.0,924.6h0M1105.8,913.5h0M1126.2,890.1h0M1085.8,898.5h0M1108.5,911.2h0M1118.6,912.5h0M1122.2,891.6h0M1123.3,899.6h0M1120.6,916.6h0M1103.9,917.5h0M1093.6,920.2h0M1125.4,879.8h0M1108.6,904.5h0M1103.4,909.3h0M1111.4,920.4h0M1102.5,902.3h0M1127.4,909.0h0M1112.5,922.5h0M1120.2,911.8h0M1117.2,919.9h0M1118.5,903.9h0M1144.8,841.2h0M1115.3,907.2h0M1105.8,922.8h0M1126.2,895.0h0M1112.9,918.8h0M1112.3,894.8h0M1123.8,877.0h0M1113.0,914.3h0M1110.1,917.7h0M1117.3,890.2h0M1123.6,863.8h0M1128.0,900.7h0M1115.3,885.8h0M1070.9,937.2h0M1060.6,968.8h0M1099.6,921.2h0M1256.8,794.5h0M1113.8,915.7h0M1118.9,873.2h0M1127.2,936.3h0M1121.3,911.6h0M1106.4,924.8h0M1127.9,910.3h0M1103.1,930.3h0M1113.8,909.2h0M1086.7,925.0h0M1122.6,901.2h0M1125.6,889.3h0M1117.5,909.5h0M1097.3,940.9h0M1117.8,917.9h0M1106.9,895.9h0M1112.8,920.5h0M1122.0,910.2h0M1119.2,899.3h0M1119.2,896.1h0M1115.8,909.4h0M1121.4,890.3h0M1113.6,887.0h0M1118.1,879.7h0M1099.0,919.4h0M1137.6,915.2h0M1113.7,927.4h0M1128.4,914.8h0M1135.1,886.9h0M1118.2,886.4h0M1119.1,897.8h0M1118.3,891.4h0M1125.8,850.3h0M1204.3,837.3h0M1055.7,938.0h0M1135.5,863.3h0M1108.8,924.2h0M1106.4,922.7h0M1125.8,904.7h0M1113.1,878.6h0M1121.2,896.7h0M1104.0,895.2h0M1076.6,963.1h0M1117.9,881.2h0M1107.3,907.6h0M1141.1,948.0h0M1087.5,947.2h0M1100.3,911.5h0M1150.1,875.1h0M1109.2,916.7h0M1118.8,904.5h0M1092.7,924.2h0M1127.3,892.1h0M1123.1,914.7h0M1126.6,885.7h0M1125.1,920.4h0M1120.8,919.9h0M1114.9,936.5h0M1118.8,950.7h0M1125.0,871.7h0M1113.5,881.4h0M1127.1,906.7h0M1103.6,926.0h0M1135.4,874.9h0M1120.8,903.7h0M1106.5,917.1h0M1109.5,932.3h0M1117.3,908.6h0M1093.9,950.4h0M1118.1,910.7h0M1123.1,883.5h0M1118.8,894.6h0M1116.1,904.6h0M1104.4,922.9h0M1124.5,868.9h0M1115.0,913.0h0M1065.9,987.1h0M1128.0,903.6h0M1092.6,966.5h0M1120.7,905.2h0M1120.0,908.7h0M1142.3,823.6h0M1143.1,878.8h0M1116.7,912.9h0M1122.8,905.8h0M1103.0,907.4h0M1119.3,922.8h0M1108.3,927.9h0M1117.5,883.0h0M1114.7,926.2h0M1141.7,858.8h0M1120.6,863.7h0M1131.1,901.5h0M1115.1,876.9h0M1113.9,931.6h0M1156.4,852.0h0M1108.7,891.1h0M1089.4,918.5h0M1108.2,913.7h0M1125.1,901.2h0M1115.0,890.6h0M1128.3,866.1h0M1128.0,916.5h0M1141.8,847.4h0M1105.8,900.2h0M1137.8,918.9h0M1107.9,898.3h0M1117.4,921.5h0M1152.9,896.4h0M1110.7,899.1h0M1121.8,897.4h0M1115.0,901.7h0M1099.8,893.8h0M1121.1,921.5h0M1096.1,918.5h0M1088.7,943.9h0M1114.6,922.2h0M1110.0,888.2h0M1131.5,885.8h0M1113.3,905.3h0M1115.3,895.4h0M1112.6,918.1h0M1135.4,881.8h0M1127.0,904.2h0M1120.2,892.5h0M1107.2,912.6h0M1119.7,888.0h0M1095.9,938.6h0M1099.2,908.1h0M1114.0,894.8h0M1095.9,921.7h0M1096.1,931.9h0M1122.5,918.7h0M1124.2,907.0h0M1108.9,907.2h0M1132.3,901.0h0M1103.1,945.6h0M1114.7,897.8h0M1114.8,899.9h0M1124.1,906.8h0M1118.8,926.4h0M1121.6,912.9h0M1094.6,934.3h0M1108.0,925.4h0M1111.0,909.4h0M1124.7,933.4h0M1130.2,895.5h0M1141.0,907.9h0M1132.6,880.0h0M1126.4,914.4h0M1128.9,899.6h0M1122.0,909.2h0M1094.0,960.8h0M1098.6,885.9h0M1096.5,930.2h0M1125.4,892.8h0M1125.5,898.9h0M1107.5,918.6h0M1108.3,916.3h0M1104.7,950.6h0M1129.5,890.8h0M1123.5,911.0h0M1127.0,903.1h0M1121.7,884.8h0M1120.1,904.2h0M1114.4,876.9h0M1105.4,896.3h0M1119.0,894.9h0M1122.1,895.9h0M1118.4,921.9h0M1101.2,883.1h0M1141.1,833.9h0M1124.6,902.2h0M1118.8,903.3h0M1110.2,936.8h0M1121.5,882.0h0M1120.3,898.3h0M1106.8,909.9h0M1118.5,909.6h0M1120.5,905.3h0M1126.8,902.6h0M1118.8,911.9h0M1124.8,907.1h0M1151.8,872.4h0M1121.4,872.3h0M1060.6,915.4h0M1094.4,958.7h0M1115.8,908.8h0M1114.2,920.0h0M1119.3,915.8h0M1114.0,897.8h0M1118.1,961.4h0M1092.9,914.8h0M1132.5,926.7h0M1119.7,902.5h0M1150.3,887.2h0M1142.4,847.6h0M1160.7,893.4h0M1120.1,923.5h0M1095.0,896.7h0M1114.2,939.1h0M1120.3,932.4h0M1112.0,915.3h0M1087.8,933.1h0M1124.5,879.8h0M1123.8,905.0h0M1103.4,939.5h0M1076.8,952.2h0M1126.3,913.5h0M1128.3,904.9h0M1106.9,908.6h0M1103.7,925.0h0M1109.0,926.1h0M1121.6,893.7h0M1130.4,912.6h0M1129.5,898.6h0M1104.9,913.0h0M1109.3,925.9h0M1122.8,885.4h0M1120.4,909.0h0M1108.6,885.6h0M1114.1,914.7h0M1120.5,913.5h0M1122.4,923.1h0M1127.6,897.6h0M1121.2,893.8h0M1084.3,961.6h0M1108.7,946.7h0M1118.3,928.7h0M1112.0,912.9h0M1187.2,852.8h0M1110.0,930.3h0M1135.3,900.4h0M1105.7,919.2h0M1125.4,894.5h0M1123.3,923.3h0M1242.8,769.4h0M1125.8,908.9h0M1144.5,881.9h0M1135.4,879.0h0M1117.9,914.6h0M1121.2,902.6h0M1100.9,950.6h0M1104.6,907.8h0M1135.0,907.0h0M1107.4,947.4h0M1112.6,915.9h0M1106.1,921.2h0M1126.5,883.5h0M1106.0,909.0h0M1120.1,913.2h0M1103.5,905.0h0M1130.6,882.8h0M1105.0,888.1h0M1121.4,916.4h0M1161.1,873.9h0" stroke="#1f77b4" stroke-width="1.9" stroke-linecap="round" fill="none"/>
<line x1="1028.50" y1="709.80" x2="1028.50" y2="994.50" stroke="#808080" stroke-width="1.1"/>
<line x1="1028.50" y1="994.50" x2="1310.40" y2="994.50" stroke="#808080" stroke-width="1.1"/>
<line x1="1047.62" y1="994.50" x2="1047.62" y2="997.50" stroke="#808080" stroke-width="1.0"/>
<text x="1044.8" y="1011.6" style="font-family:'Liberation Sans',Arial,sans-serif;font-size:17px;font-weight:normal" text-anchor="middle" fill="#111">-2.0</text>
<line x1="1084.16" y1="994.50" x2="1084.16" y2="997.50" stroke="#808080" stroke-width="1.0"/>
<text x="1080.5" y="1011.6" style="font-family:'Liberation Sans',Arial,sans-serif;font-size:17px;font-weight:normal" text-anchor="middle" fill="#111">-1.0</text>
<line x1="1120.70" y1="994.50" x2="1120.70" y2="997.50" stroke="#808080" stroke-width="1.0"/>
<text x="1122.3" y="1011.6" style="font-family:'Liberation Sans',Arial,sans-serif;font-size:17px;font-weight:normal" text-anchor="middle" fill="#111">0.0</text>
<line x1="1157.24" y1="994.50" x2="1157.24" y2="997.50" stroke="#808080" stroke-width="1.0"/>
<text x="1157.3" y="1011.6" style="font-family:'Liberation Sans',Arial,sans-serif;font-size:17px;font-weight:normal" text-anchor="middle" fill="#111">1.0</text>
<line x1="1193.78" y1="994.50" x2="1193.78" y2="997.50" stroke="#808080" stroke-width="1.0"/>
<text x="1197.7" y="1011.6" style="font-family:'Liberation Sans',Arial,sans-serif;font-size:17px;font-weight:normal" text-anchor="middle" fill="#111">2.0</text>
<line x1="1230.32" y1="994.50" x2="1230.32" y2="997.50" stroke="#808080" stroke-width="1.0"/>
<text x="1233.2" y="1011.6" style="font-family:'Liberation Sans',Arial,sans-serif;font-size:17px;font-weight:normal" text-anchor="middle" fill="#111">3.0</text>
<line x1="1266.86" y1="994.50" x2="1266.86" y2="997.50" stroke="#808080" stroke-width="1.0"/>
<text x="1268.8" y="1011.6" style="font-family:'Liberation Sans',Arial,sans-serif;font-size:17px;font-weight:normal" text-anchor="middle" fill="#111">4.0</text>
<line x1="1303.40" y1="994.50" x2="1303.40" y2="997.50" stroke="#808080" stroke-width="1.0"/>
<text x="1302.1" y="1011.6" style="font-family:'Liberation Sans',Arial,sans-serif;font-size:17px;font-weight:normal" text-anchor="middle" fill="#111">5.0</text>
<line x1="1025.50" y1="981.40" x2="1028.50" y2="981.40" stroke="#808080" stroke-width="1.0"/>
<text x="1022.0" y="981.4" style="font-family:'Liberation Sans',Arial,sans-serif;font-size:17px;font-weight:normal" text-anchor="middle" fill="#111" transform="rotate(-90 1022.0 981.4)">-2.0</text>
<line x1="1025.50" y1="939.75" x2="1028.50" y2="939.75" stroke="#808080" stroke-width="1.0"/>
<text x="1022.0" y="939.8" style="font-family:'Liberation Sans',Arial,sans-serif;font-size:17px;font-weight:normal" text-anchor="middle" fill="#111" transform="rotate(-90 1022.0 939.8)">-1.0</text>
<line x1="1025.50" y1="898.10" x2="1028.50" y2="898.10" stroke="#808080" stroke-width="1.0"/>
<text x="1022.0" y="898.1" style="font-family:'Liberation Sans',Arial,sans-serif;font-size:17px;font-weight:normal" text-anchor="middle" fill="#111" transform="rotate(-90 1022.0 898.1)">0.0</text>
<line x1="1025.50" y1="856.45" x2="1028.50" y2="856.45" stroke="#808080" stroke-width="1.0"/>
<text x="1022.0" y="856.5" style="font-family:'Liberation Sans',Arial,sans-serif;font-size:17px;font-weight:normal" text-anchor="middle" fill="#111" transform="rotate(-90 1022.0 856.5)">1.0</text>
<line x1="1025.50" y1="814.80" x2="1028.50" y2="814.80" stroke="#808080" stroke-width="1.0"/>
<text x="1022.0" y="814.8" style="font-family:'Liberation Sans',Arial,sans-serif;font-size:17px;font-weight:normal" text-anchor="middle" fill="#111" transform="rotate(-90 1022.0 814.8)">2.0</text>
<line x1="1025.50" y1="773.15" x2="1028.50" y2="773.15" stroke="#808080" stroke-width="1.0"/>
<text x="1022.0" y="773.2" style="font-family:'Liberation Sans',Arial,sans-serif;font-size:17px;font-weight:normal" text-anchor="middle" fill="#111" transform="rotate(-90 1022.0 773.2)">3.0</text>
<line x1="1025.50" y1="731.50" x2="1028.50" y2="731.50" stroke="#808080" stroke-width="1.0"/>
<text x="1022.0" y="731.5" style="font-family:'Liberation Sans',Arial,sans-serif;font-size:17px;font-weight:normal" text-anchor="middle" fill="#111" transform="rotate(-90 1022.0 731.5)">4.0</text>
<text x="1163.9" y="616.3" style="font-family:'Liberation Sans',Arial,sans-serif;font-size:20px;font-weight:normal" text-anchor="middle" fill="#111" textLength="155.3" lengthAdjust="spacingAndGlyphs">Oligodendrocytes</text>
<text x="1173.1" y="1034.3" style="font-family:'Liberation Sans',Arial,sans-serif;font-size:20.5px;font-weight:normal" text-anchor="middle" fill="#111" textLength="253.2" lengthAdjust="spacingAndGlyphs">scRNA-seq gene expression</text>
<text x="999.0" y="841.0" style="font-family:'Liberation Sans',Arial,sans-serif;font-size:20.5px;font-weight:normal" text-anchor="middle" fill="#111" transform="rotate(-90 999.0 841.0)" textLength="242.0" lengthAdjust="spacingAndGlyphs">seqFISH+ gene expression</text>
<path d="M1453.6,697.3V697.1H1458.7V697.3ZM1458.7,697.3V697.1H1463.8V697.3ZM1463.8,697.3V697.0H1468.8V697.3ZM1468.8,697.3V696.9H1473.9V697.3ZM1473.9,697.3V696.8H1479.0V697.3ZM1479.0,697.3V696.7H1484.1V697.3ZM1484.1,697.3V696.6H1489.1V697.3ZM1489.1,697.3V696.6H1494.2V697.3ZM1494.2,697.3V696.4H1499.3V697.3ZM1499.3,697.3V696.1H1504.3V697.3ZM1504.3,697.3V695.3H1509.4V697.3ZM1509.4,697.3V695.3H1514.5V697.3ZM1514.5,697.3V692.2H1519.6V697.3ZM1519.6,697.3V688.9H1524.6V697.3ZM1524.6,697.3V678.1H1529.7V697.3ZM1529.7,697.3V670.2H1534.8V697.3ZM1534.8,697.3V662.7H1539.9V697.3ZM1539.9,697.3V650.5H1544.9V697.3ZM1544.9,697.3V662.9H1550.0V697.3ZM1550.0,697.3V661.0H1555.1V697.3ZM1555.1,697.3V669.7H1560.1V697.3ZM1560.1,697.3V675.5H1565.2V697.3ZM1565.2,697.3V675.5H1570.3V697.3ZM1570.3,697.3V677.9H1575.4V697.3ZM1575.4,697.3V684.3H1580.4V697.3ZM1580.4,697.3V688.0H1585.5V697.3ZM1585.5,697.3V694.0H1590.6V697.3ZM1590.6,697.3V695.0H1595.7V697.3ZM1595.7,697.3V694.5H1600.7V697.3ZM1600.7,697.3V692.6H1605.8V697.3ZM1605.8,697.3V694.7H1610.9V697.3ZM1610.9,697.3V695.0H1615.9V697.3ZM1615.9,697.3V695.0H1621.0V697.3ZM1621.0,697.3V696.4H1626.1V697.3ZM1626.1,697.3V696.6H1631.2V697.3ZM1631.2,697.3V696.7H1636.2V697.3ZM1636.2,697.3V696.8H1641.3V697.3ZM1641.3,697.3V696.8H1646.4V697.3ZM1646.4,697.3V696.9H1651.5V697.3ZM1651.5,697.3V696.9H1656.5V697.3ZM1656.5,697.3V697.0H1661.6V697.3ZM1661.6,697.3V697.1H1666.7V697.3ZM1666.7,697.3V697.1H1671.8V697.3ZM1671.8,697.3V697.1H1676.8V697.3ZM1676.8,697.3V697.2H1681.9V697.3ZM1681.9,697.3V697.2H1687.0V697.3ZM1687.0,697.3V697.2H1692.0V697.3ZM1692.0,697.3V697.2H1697.1V697.3Z" fill="#a6c6e2"/>
<line x1="1439.80" y1="697.30" x2="1722.30" y2="697.30" stroke="#808080" stroke-width="1.1"/>
<line x1="1464.46" y1="697.30" x2="1464.46" y2="699.80" stroke="#808080" stroke-width="1.0"/>
<line x1="1508.88" y1="697.30" x2="1508.88" y2="699.80" stroke="#808080" stroke-width="1.0"/>
<line x1="1553.30" y1="697.30" x2="1553.30" y2="699.80" stroke="#808080" stroke-width="1.0"/>
<line x1="1597.72" y1="697.30" x2="1597.72" y2="699.80" stroke="#808080" stroke-width="1.0"/>
<line x1="1642.14" y1="697.30" x2="1642.14" y2="699.80" stroke="#808080" stroke-width="1.0"/>
<line x1="1686.56" y1="697.30" x2="1686.56" y2="699.80" stroke="#808080" stroke-width="1.0"/>
<path d="M1731.4,788.3H1734.0V794.7H1731.4ZM1731.4,794.7H1735.0V801.2H1731.4ZM1731.4,801.2H1735.9V807.6H1731.4ZM1731.4,807.6H1736.5V814.1H1731.4ZM1731.4,814.1H1737.2V820.5H1731.4ZM1731.4,820.5H1737.8V826.9H1731.4ZM1731.4,826.9H1739.4V833.4H1731.4ZM1731.4,833.4H1741.7V839.8H1731.4ZM1731.4,839.8H1744.9V846.3H1731.4ZM1731.4,846.3H1748.1V852.7H1731.4ZM1731.4,852.7H1750.7V859.2H1731.4ZM1731.4,859.2H1750.7V865.6H1731.4ZM1731.4,865.6H1759.1V872.1H1731.4ZM1731.4,872.1H1763.6V878.5H1731.4ZM1731.4,878.5H1764.9V884.9H1731.4ZM1731.4,884.9H1774.9V891.4H1731.4ZM1731.4,891.4H1777.7V897.8H1731.4ZM1731.4,897.8H1770.0V904.3H1731.4ZM1731.4,904.3H1771.3V910.7H1731.4ZM1731.4,910.7H1759.7V917.2H1731.4ZM1731.4,917.2H1762.9V923.6H1731.4ZM1731.4,923.6H1749.4V930.1H1731.4ZM1731.4,930.1H1742.7V936.5H1731.4ZM1731.4,936.5H1737.8V942.9H1731.4ZM1731.4,942.9H1735.3V949.4H1731.4ZM1731.4,949.4H1733.3V955.8H1731.4ZM1731.4,955.8H1732.4V962.3H1731.4Z" fill="#a6c6e2"/>
<line x1="1731.40" y1="707.60" x2="1731.40" y2="991.60" stroke="#808080" stroke-width="1.1"/>
<line x1="1728.90" y1="980.55" x2="1731.40" y2="980.55" stroke="#808080" stroke-width="1.0"/>
<line x1="1728.90" y1="947.40" x2="1731.40" y2="947.40" stroke="#808080" stroke-width="1.0"/>
<line x1="1728.90" y1="914.25" x2="1731.40" y2="914.25" stroke="#808080" stroke-width="1.0"/>
<line x1="1728.90" y1="881.10" x2="1731.40" y2="881.10" stroke="#808080" stroke-width="1.0"/>
<line x1="1728.90" y1="847.95" x2="1731.40" y2="847.95" stroke="#808080" stroke-width="1.0"/>
<line x1="1728.90" y1="814.80" x2="1731.40" y2="814.80" stroke="#808080" stroke-width="1.0"/>
<line x1="1728.90" y1="781.65" x2="1731.40" y2="781.65" stroke="#808080" stroke-width="1.0"/>
<line x1="1728.90" y1="748.50" x2="1731.40" y2="748.50" stroke="#808080" stroke-width="1.0"/>
<line x1="1728.90" y1="715.35" x2="1731.40" y2="715.35" stroke="#808080" stroke-width="1.0"/>
<path d="M1526.6,895.7h0M1536.0,910.8h0M1565.6,886.4h0M1554.9,894.1h0M1525.9,910.7h0M1549.9,902.4h0M1548.6,896.7h0M1533.8,893.4h0M1560.3,913.5h0M1529.3,935.2h0M1540.3,924.8h0M1554.1,915.9h0M1545.1,876.1h0M1554.8,914.7h0M1560.4,883.7h0M1601.5,863.3h0M1537.1,878.3h0M1556.0,883.9h0M1560.7,853.4h0M1541.7,895.8h0M1464.1,939.7h0M1613.8,804.5h0M1543.6,931.6h0M1542.4,883.4h0M1578.2,892.2h0M1551.3,884.8h0M1547.3,896.9h0M1568.4,825.8h0M1519.2,906.5h0M1562.8,847.3h0M1544.8,955.1h0M1526.7,901.5h0M1558.1,896.5h0M1589.2,910.7h0M1535.3,867.1h0M1559.3,886.3h0M1544.1,898.5h0M1560.7,956.2h0M1563.5,858.6h0M1536.9,862.1h0M1571.2,863.7h0M1556.2,897.1h0M1555.8,875.0h0M1575.0,875.7h0M1549.1,872.0h0M1569.0,820.6h0M1576.3,898.6h0M1528.4,939.1h0M1571.6,948.0h0M1542.4,859.9h0M1545.0,904.0h0M1534.3,898.9h0M1561.9,897.6h0M1543.4,926.3h0M1576.0,839.5h0M1535.8,953.0h0M1553.9,878.8h0M1543.4,880.8h0M1553.1,863.1h0M1536.8,919.5h0M1532.9,917.1h0M1564.8,923.4h0M1564.3,917.8h0M1554.0,862.5h0M1582.7,816.3h0M1537.1,925.5h0M1574.9,883.8h0M1531.1,876.8h0M1603.4,880.3h0M1556.2,869.2h0M1552.3,895.3h0M1607.0,825.4h0M1569.7,851.6h0M1569.8,882.2h0M1521.4,941.6h0M1543.9,871.1h0M1528.7,902.4h0M1539.2,910.7h0M1538.5,917.8h0M1571.4,908.1h0M1532.9,919.3h0M1541.2,891.5h0M1547.3,864.0h0M1570.6,877.8h0M1605.9,788.6h0M1564.8,915.4h0M1537.1,881.3h0M1552.5,872.9h0M1563.4,830.1h0M1519.7,908.5h0M1558.4,859.3h0M1543.5,897.3h0M1550.3,916.7h0M1559.2,905.8h0M1557.7,902.3h0M1552.6,866.3h0M1551.6,908.3h0M1535.1,897.6h0M1546.0,867.5h0M1530.7,868.7h0M1548.9,864.5h0M1553.2,846.9h0M1570.0,905.3h0M1540.8,907.8h0M1508.3,908.2h0M1553.4,856.8h0M1537.1,883.9h0M1563.8,899.7h0M1540.7,899.9h0M1543.6,936.7h0M1581.8,789.2h0M1542.6,941.0h0M1543.2,887.4h0M1541.0,866.1h0M1549.8,864.8h0M1525.2,948.0h0M1554.6,879.9h0M1585.4,850.0h0M1554.1,893.7h0M1562.4,836.7h0M1599.7,891.3h0M1573.5,915.5h0M1565.1,907.1h0M1573.8,819.8h0M1570.9,868.6h0M1537.6,927.1h0M1545.3,936.3h0M1542.5,908.4h0M1535.4,910.2h0M1552.5,865.4h0M1543.9,909.1h0M1555.2,867.6h0M1551.8,855.5h0M1525.0,948.2h0M1546.5,906.8h0M1541.8,853.3h0M1560.2,894.0h0M1526.3,905.4h0M1533.1,874.8h0M1547.3,911.1h0M1540.5,906.6h0M1557.1,928.3h0M1540.0,881.3h0M1535.5,912.0h0M1587.7,880.2h0M1535.6,967.4h0M1532.5,875.6h0M1535.4,881.0h0M1543.8,914.9h0M1539.0,864.5h0M1554.2,952.0h0M1589.4,823.8h0M1532.8,946.2h0M1544.3,821.4h0M1555.7,955.6h0M1575.6,864.2h0M1693.7,774.9h0M1534.6,879.1h0M1552.4,866.5h0M1578.2,846.7h0M1520.9,916.5h0M1552.8,831.6h0M1533.6,920.5h0M1568.1,869.9h0M1585.7,857.9h0M1551.8,922.0h0M1491.1,951.5h0M1520.2,881.2h0M1540.0,885.1h0M1573.9,874.7h0M1534.9,899.8h0M1556.5,835.0h0M1543.0,902.1h0M1538.8,876.7h0M1561.5,879.5h0M1540.2,915.5h0M1544.5,851.4h0M1568.6,852.3h0M1548.8,859.6h0M1568.6,882.2h0M1553.6,885.6h0M1530.1,898.1h0M1545.6,881.8h0M1579.9,871.5h0M1551.5,903.1h0M1603.9,817.8h0M1462.3,979.0h0M1542.5,907.7h0M1565.5,890.5h0M1558.0,899.2h0M1552.4,921.5h0M1556.6,906.9h0M1577.6,870.9h0M1558.0,895.2h0M1550.2,910.5h0M1552.0,845.2h0M1556.1,922.4h0M1542.4,868.5h0M1556.0,877.6h0M1552.2,925.5h0M1567.6,889.9h0M1545.7,904.2h0M1515.7,879.6h0M1552.9,864.6h0M1573.4,865.6h0M1559.8,915.8h0M1558.3,930.6h0M1542.7,900.4h0M1544.8,931.8h0M1565.1,885.6h0M1527.3,911.8h0M1572.7,798.9h0M1580.2,946.7h0M1602.6,854.6h0M1533.9,889.3h0M1525.6,912.0h0M1576.3,860.4h0M1541.3,875.2h0M1537.3,857.1h0M1541.7,859.9h0M1556.1,906.3h0M1530.2,943.2h0M1545.3,877.1h0M1559.7,854.1h0M1564.2,899.4h0M1498.2,885.9h0M1568.4,876.1h0M1547.8,894.9h0M1547.3,883.4h0M1553.5,926.2h0M1537.0,943.7h0M1579.8,895.2h0M1536.0,932.0h0M1552.3,890.3h0M1533.7,902.6h0M1558.0,954.5h0M1579.2,843.5h0M1579.1,795.8h0M1531.6,966.0h0M1557.2,895.9h0M1575.7,844.9h0M1536.7,953.1h0M1544.7,865.9h0M1560.5,856.3h0M1564.8,893.3h0M1549.3,905.8h0M1559.0,849.1h0M1555.9,856.2h0M1544.1,896.3h0M1560.0,862.3h0M1551.7,888.3h0M1560.9,893.2h0M1545.7,878.6h0M1541.2,909.5h0M1546.2,879.1h0M1580.8,888.3h0M1530.8,917.3h0M1531.6,919.8h0M1498.0,915.1h0M1575.3,814.7h0M1626.1,835.4h0M1539.4,922.5h0M1539.3,883.1h0M1539.7,923.0h0M1552.6,920.5h0M1546.9,899.7h0M1571.4,808.5h0M1536.3,883.2h0M1576.7,844.3h0M1546.3,858.1h0M1567.4,857.5h0M1565.6,891.0h0M1581.1,894.1h0M1547.1,900.9h0M1550.1,881.2h0M1554.3,873.2h0M1533.3,904.7h0M1546.2,933.5h0M1584.3,843.2h0M1585.4,892.9h0M1513.4,918.7h0M1556.6,898.0h0M1542.9,925.7h0M1533.4,944.7h0M1534.0,884.2h0M1567.2,858.5h0M1602.0,814.4h0M1552.0,890.7h0M1540.1,845.7h0M1549.3,873.6h0M1573.7,845.9h0M1562.9,860.1h0M1522.4,911.0h0M1539.7,878.9h0M1575.5,881.3h0M1549.5,876.5h0M1556.6,884.3h0M1567.8,890.3h0M1557.3,871.9h0M1561.8,852.7h0M1551.9,913.0h0M1537.7,912.4h0M1531.3,931.4h0M1642.5,765.9h0M1494.2,933.3h0M1556.7,862.0h0M1578.0,867.0h0M1535.0,878.2h0M1519.8,925.3h0M1544.3,905.9h0M1539.9,882.5h0M1545.4,903.2h0M1546.7,907.7h0M1594.0,846.6h0M1533.1,902.9h0M1593.4,855.2h0M1521.7,842.2h0M1592.6,837.9h0M1540.1,905.3h0M1563.8,920.4h0M1478.3,968.9h0M1550.0,873.9h0M1556.5,877.4h0M1557.4,877.4h0M1566.5,866.5h0M1533.4,923.0h0M1543.5,938.3h0M1550.9,860.6h0M1515.6,906.2h0M1574.9,847.2h0M1542.9,895.2h0M1535.7,879.3h0M1536.6,912.4h0M1557.3,884.8h0M1523.2,911.9h0M1539.0,887.1h0M1544.0,856.9h0M1535.4,882.3h0M1560.6,958.3h0M1553.3,890.0h0M1584.0,870.5h0M1560.6,861.2h0M1542.5,890.8h0M1544.0,911.9h0M1533.5,921.1h0M1539.2,905.5h0M1552.8,906.1h0M1562.4,843.7h0M1543.0,878.3h0M1543.5,892.3h0M1566.5,852.9h0M1604.5,842.8h0M1526.5,910.6h0M1529.7,903.7h0M1566.5,886.1h0M1548.9,922.3h0M1549.3,906.3h0M1559.0,907.7h0M1568.5,864.2h0M1529.1,891.5h0M1601.0,843.3h0M1602.6,908.8h0M1544.8,866.7h0M1547.6,916.4h0M1536.6,903.0h0M1551.3,854.5h0M1536.3,866.0h0M1550.1,860.5h0M1584.0,931.4h0M1545.1,864.9h0M1574.1,935.4h0M1529.9,908.2h0M1576.1,837.7h0M1531.9,894.9h0M1535.2,918.5h0M1560.4,898.1h0M1544.8,918.1h0M1534.5,943.5h0M1528.0,838.5h0M1568.8,852.8h0M1505.1,973.4h0M1519.8,897.4h0M1596.9,838.9h0M1567.7,933.0h0M1543.7,898.6h0M1532.0,895.2h0M1577.2,919.6h0M1565.6,849.3h0M1555.9,907.0h0M1552.1,888.6h0M1551.4,870.3h0M1613.0,878.1h0M1553.1,876.4h0M1526.0,902.2h0M1529.5,870.0h0M1552.8,919.8h0M1565.1,917.7h0M1557.5,837.9h0M1563.1,868.7h0M1544.9,862.7h0M1541.7,888.0h0M1538.4,905.7h0M1543.8,904.5h0M1536.0,894.0h0M1572.2,863.8h0M1531.6,902.4h0M1535.4,900.1h0M1561.7,858.7h0M1541.3,873.0h0M1543.9,850.1h0M1615.8,882.0h0M1575.4,873.4h0M1538.0,870.6h0M1533.0,889.8h0M1546.3,954.0h0M1554.2,875.2h0M1541.9,893.1h0M1550.4,899.6h0M1555.3,894.6h0M1573.7,870.8h0M1539.7,863.6h0M1557.9,863.8h0M1524.4,898.6h0M1525.7,874.0h0M1520.6,882.1h0M1529.0,922.5h0M1566.9,902.9h0M1543.3,917.6h0M1547.9,868.3h0M1547.0,889.0h0M1538.4,862.5h0M1523.0,890.8h0M1534.7,901.8h0M1574.8,865.4h0M1543.5,897.4h0M1546.7,830.0h0M1537.9,912.1h0M1561.5,899.8h0M1564.9,881.7h0M1543.2,855.1h0M1545.8,889.8h0M1544.0,918.8h0M1553.9,899.2h0M1554.9,886.2h0M1555.0,880.5h0M1577.9,850.3h0M1596.4,869.1h0M1520.3,870.3h0M1540.0,876.0h0M1515.3,909.8h0M1543.6,911.1h0M1565.2,860.6h0M1557.4,847.5h0M1553.4,862.1h0M1525.6,905.6h0M1568.4,856.1h0M1553.4,889.4h0M1542.6,895.0h0M1565.3,881.7h0M1517.6,905.8h0M1530.2,901.4h0M1565.4,849.3h0M1524.0,903.5h0M1534.0,899.4h0M1549.6,859.3h0M1560.7,861.1h0M1551.6,855.8h0M1515.5,929.3h0M1536.5,861.3h0M1560.8,879.3h0M1542.6,918.7h0M1538.9,898.1h0M1473.7,969.9h0M1538.9,920.0h0M1587.9,837.9h0M1521.4,881.3h0M1551.7,920.5h0M1583.6,847.7h0M1563.6,884.7h0M1536.6,855.8h0M1558.2,876.6h0M1530.4,884.7h0M1545.2,854.0h0M1538.8,923.1h0M1576.3,835.6h0M1574.7,899.9h0M1570.0,895.7h0M1540.9,885.2h0M1566.6,880.7h0M1618.8,829.4h0M1541.3,903.8h0M1550.3,905.4h0M1532.4,903.2h0M1525.3,927.2h0M1563.0,908.1h0M1520.5,949.0h0M1553.3,889.4h0M1528.7,891.5h0M1555.7,916.4h0M1569.9,887.5h0M1594.1,802.0h0M1543.2,924.6h0M1543.2,892.4h0M1541.2,929.0h0M1560.5,871.4h0M1568.7,887.7h0M1526.6,896.2h0M1544.3,908.0h0M1520.7,946.3h0M1538.5,898.3h0M1563.9,862.3h0M1589.2,919.4h0M1619.1,879.6h0M1526.0,924.5h0M1544.7,902.7h0M1576.9,822.4h0M1546.4,893.2h0M1544.2,918.2h0M1569.9,862.7h0M1572.5,908.0h0M1529.8,917.4h0M1552.9,870.5h0M1534.2,975.4h0M1534.5,885.9h0M1551.4,840.5h0M1538.9,890.0h0M1569.1,925.9h0M1544.2,859.1h0M1533.9,836.3h0M1558.4,869.6h0M1537.1,926.0h0M1526.7,922.9h0M1685.3,725.2h0M1531.0,897.7h0M1532.6,871.3h0M1545.4,878.4h0M1565.3,887.2h0M1525.0,910.2h0M1514.9,865.5h0M1606.1,875.7h0M1550.9,924.7h0M1581.2,845.7h0M1579.8,812.1h0M1562.9,928.2h0M1514.7,885.4h0M1556.0,889.1h0M1528.8,882.7h0M1497.4,907.3h0M1571.8,810.6h0M1539.9,860.4h0M1562.0,838.7h0M1551.6,898.9h0M1566.7,880.1h0M1560.0,856.0h0M1615.1,828.1h0M1548.9,905.5h0M1573.3,866.8h0M1574.6,908.3h0M1554.5,899.3h0M1547.9,979.1h0M1547.0,887.8h0M1556.5,837.5h0M1537.5,878.9h0M1546.0,874.1h0M1556.0,880.4h0M1544.0,912.7h0M1535.4,886.1h0M1526.2,903.6h0M1569.8,879.1h0M1578.9,814.2h0M1573.3,889.8h0M1560.5,878.5h0M1550.4,871.9h0M1519.9,883.4h0M1576.2,898.9h0M1545.8,870.6h0M1555.6,880.5h0M1530.1,960.6h0M1564.9,928.8h0M1534.6,904.4h0M1604.1,785.8h0M1563.8,864.9h0M1551.6,921.8h0M1557.3,894.6h0M1536.7,912.0h0M1548.3,909.1h0M1525.8,920.2h0M1536.2,898.8h0M1535.4,896.2h0M1533.0,913.9h0M1544.7,888.0h0M1522.8,893.2h0M1510.1,920.6h0M1541.0,912.6h0M1634.3,768.4h0M1563.0,892.4h0M1546.9,904.6h0M1534.8,896.9h0M1530.3,832.4h0M1541.1,865.6h0M1558.1,882.3h0M1574.0,919.3h0M1549.0,874.0h0M1574.4,916.3h0M1566.4,840.6h0M1574.5,877.4h0M1540.9,836.7h0M1546.3,912.8h0M1531.0,898.5h0M1551.4,908.6h0M1521.6,951.1h0M1548.4,935.2h0M1530.6,849.9h0M1546.0,852.2h0M1532.8,924.9h0M1466.0,973.1h0M1549.9,849.3h0M1545.1,915.9h0M1550.5,875.5h0M1532.2,846.9h0M1545.6,870.9h0M1543.6,853.4h0M1527.0,897.4h0M1542.5,936.7h0M1558.2,903.3h0M1543.3,938.5h0M1562.6,871.0h0M1566.6,910.7h0M1502.7,916.4h0M1535.4,910.7h0M1536.4,915.2h0M1553.1,872.7h0M1546.8,902.5h0M1553.6,907.3h0M1528.5,876.7h0M1538.6,896.9h0M1532.8,938.2h0M1561.8,849.5h0M1557.3,920.1h0M1543.3,886.8h0M1580.0,931.9h0M1534.0,906.0h0M1507.7,938.4h0M1543.5,901.3h0M1555.3,894.1h0M1597.7,853.1h0M1549.7,866.5h0M1533.3,915.5h0M1553.6,905.1h0M1508.8,880.5h0M1571.9,915.6h0M1540.0,935.2h0M1528.0,905.2h0M1531.8,900.6h0M1572.3,726.2h0M1580.9,849.9h0M1530.8,916.1h0M1675.6,763.4h0M1575.1,877.1h0M1540.1,857.3h0M1522.5,909.4h0M1531.1,909.4h0M1548.1,894.9h0M1535.9,889.6h0M1534.4,873.6h0M1536.6,854.0h0M1578.6,816.1h0M1516.6,882.5h0M1584.0,826.5h0M1548.4,887.8h0M1561.8,907.1h0M1545.0,882.3h0M1595.7,903.8h0M1531.1,868.0h0M1538.6,919.8h0M1547.6,892.5h0M1547.3,894.0h0M1540.1,879.4h0M1541.5,928.4h0M1527.3,881.3h0M1548.5,878.0h0M1574.0,862.9h0M1572.2,911.7h0M1543.5,895.6h0M1616.1,802.1h0M1608.1,907.4h0M1543.2,849.3h0M1528.9,913.9h0M1575.1,922.7h0M1594.2,830.0h0M1558.6,859.7h0M1603.0,796.2h0M1547.3,842.4h0M1551.6,871.3h0M1529.3,882.9h0M1541.7,893.7h0M1581.7,830.8h0M1528.8,913.5h0M1532.2,878.4h0M1516.7,907.4h0M1549.6,921.1h0M1550.3,891.1h0M1550.5,868.7h0M1578.2,882.4h0M1555.3,894.9h0M1559.6,881.8h0M1554.9,907.3h0M1546.4,919.3h0M1529.0,900.0h0M1527.0,927.8h0M1557.9,867.6h0M1536.9,877.9h0M1544.4,857.8h0M1556.7,857.8h0M1554.7,891.8h0M1536.5,885.9h0M1536.1,927.1h0M1534.8,886.8h0M1555.5,897.0h0M1560.9,845.0h0M1532.8,917.6h0M1539.6,890.3h0M1534.1,918.5h0M1553.6,869.0h0M1539.9,877.9h0M1575.7,922.7h0M1538.8,844.1h0M1559.1,868.7h0M1560.0,918.3h0M1592.4,859.7h0M1562.9,926.9h0M1586.9,858.4h0M1550.5,891.3h0M1543.4,882.4h0M1560.5,923.7h0M1542.8,902.8h0M1559.4,836.9h0M1528.5,911.8h0M1556.6,884.5h0M1539.9,862.4h0M1596.9,788.6h0M1525.4,890.6h0M1541.8,914.9h0M1567.6,886.2h0M1542.2,889.9h0M1545.7,890.7h0M1541.6,913.9h0M1525.8,898.6h0M1544.2,876.3h0M1579.4,839.3h0M1570.0,873.8h0M1541.9,918.4h0M1559.2,864.2h0M1566.2,855.0h0M1567.0,902.7h0M1521.5,967.7h0M1531.2,906.0h0M1601.8,807.5h0M1539.4,872.8h0M1567.5,907.6h0M1558.7,848.0h0M1576.5,879.9h0M1528.2,879.1h0M1589.0,848.1h0M1579.9,844.2h0M1536.2,884.8h0M1565.0,884.8h0M1488.4,911.6h0M1571.1,923.9h0M1541.9,904.3h0M1562.1,889.2h0M1570.3,897.8h0M1512.9,889.6h0M1576.1,838.7h0M1527.1,904.4h0M1533.6,925.5h0M1545.2,880.2h0M1538.5,889.5h0M1558.5,866.9h0M1533.5,900.6h0M1555.9,891.2h0M1570.0,839.4h0M1602.7,827.4h0M1543.2,898.9h0M1536.0,945.5h0M1550.2,899.2h0M1555.4,898.5h0M1583.3,919.7h0M1554.6,871.3h0M1548.4,906.6h0M1540.1,885.3h0M1560.2,892.7h0M1560.1,894.7h0M1526.8,954.0h0M1544.4,883.1h0M1533.6,884.7h0M1548.6,916.7h0M1544.1,909.8h0M1531.6,950.1h0M1551.6,899.0h0M1555.3,915.9h0M1544.8,884.4h0M1570.7,880.2h0M1529.0,889.4h0M1520.0,933.2h0M1563.2,926.8h0M1554.5,890.4h0M1563.0,898.1h0M1588.5,920.6h0M1547.6,886.9h0M1570.8,840.0h0M1560.0,871.0h0M1548.4,900.9h0M1549.7,931.5h0M1640.6,767.6h0M1541.0,881.2h0M1548.8,890.1h0M1547.7,884.3h0M1556.1,879.2h0M1522.5,944.6h0M1560.0,876.6h0M1514.7,936.0h0M1543.2,897.0h0M1547.0,857.7h0M1552.5,941.3h0M1553.5,895.7h0M1551.0,881.6h0M1509.7,890.2h0M1540.6,895.8h0M1562.1,904.7h0M1543.2,875.3h0M1572.7,824.1h0M1554.0,934.5h0M1551.4,888.5h0M1555.7,931.9h0M1618.9,871.0h0M1477.5,965.7h0M1532.2,927.4h0M1524.9,963.5h0M1537.0,850.6h0M1507.9,953.4h0M1622.9,771.0h0M1534.0,882.3h0M1546.1,835.8h0M1578.8,835.8h0M1547.0,849.8h0M1535.3,929.5h0M1541.2,896.5h0M1545.6,903.0h0M1542.6,920.7h0M1549.2,881.1h0M1543.7,843.4h0M1527.9,848.5h0M1575.6,873.5h0M1608.9,828.1h0M1553.9,907.8h0M1526.2,889.2h0M1582.8,879.6h0M1542.1,879.6h0M1542.4,901.4h0M1535.2,922.9h0M1588.1,874.8h0M1556.4,885.4h0M1542.6,856.7h0M1540.2,913.9h0M1546.5,869.0h0M1540.4,859.6h0M1558.9,830.7h0M1600.4,787.2h0M1523.2,934.0h0M1572.3,903.9h0M1572.5,901.7h0M1537.8,920.0h0M1611.9,786.1h0M1575.5,834.7h0M1564.5,865.8h0M1527.1,876.9h0M1548.6,884.7h0M1567.5,845.9h0M1551.3,880.7h0M1519.7,905.1h0M1568.3,825.5h0M1542.6,924.1h0M1534.8,884.4h0M1540.6,936.7h0M1529.4,862.7h0M1543.5,898.9h0M1500.4,953.9h0M1673.6,774.5h0M1533.1,905.8h0M1544.1,840.4h0M1540.5,881.9h0M1548.3,931.2h0M1542.8,947.7h0M1579.0,918.2h0M1530.2,917.3h0M1663.5,775.9h0M1543.1,889.8h0M1617.4,859.5h0M1542.7,851.8h0M1526.8,909.8h0M1573.1,805.5h0M1534.0,881.7h0M1564.0,901.1h0M1575.9,891.9h0M1538.2,892.2h0M1540.1,869.5h0M1551.7,906.7h0M1579.1,879.7h0M1574.2,893.5h0M1549.9,876.7h0M1551.4,927.3h0M1567.9,898.7h0M1533.0,896.0h0M1589.5,839.3h0M1574.7,891.5h0M1536.4,879.2h0M1555.9,851.9h0M1561.4,883.6h0M1558.9,881.0h0M1525.0,902.8h0M1520.8,880.4h0M1539.0,905.3h0M1529.5,860.9h0M1547.2,910.7h0M1564.1,853.0h0M1552.0,880.7h0M1581.8,914.9h0M1547.8,848.2h0M1545.5,865.9h0M1532.1,906.0h0M1604.1,789.5h0M1559.9,860.2h0M1620.4,886.9h0M1586.6,783.0h0M1526.8,928.7h0M1550.3,886.0h0M1545.2,915.3h0M1570.2,880.7h0M1520.5,864.8h0M1556.9,838.1h0M1553.7,899.3h0M1541.0,902.4h0M1531.8,946.0h0M1555.7,877.3h0M1523.6,876.6h0M1541.6,917.4h0M1515.3,936.7h0M1541.4,885.3h0M1537.7,912.5h0M1557.3,879.1h0M1556.6,843.2h0M1561.6,868.8h0M1541.6,876.5h0M1567.6,826.8h0M1556.9,877.7h0M1553.4,868.1h0M1567.0,875.7h0M1606.3,839.1h0M1545.3,849.1h0M1602.6,881.4h0M1560.0,879.8h0M1542.0,925.0h0M1546.9,912.8h0M1555.3,919.6h0M1542.3,900.8h0M1580.6,880.3h0M1541.0,860.1h0M1556.1,934.9h0M1572.0,902.6h0M1571.1,919.1h0M1556.0,901.3h0M1560.2,885.0h0M1567.6,871.6h0M1551.3,890.7h0M1549.2,889.2h0M1579.3,815.4h0M1532.0,897.9h0M1534.3,890.2h0M1541.5,924.8h0M1535.1,869.6h0M1615.2,835.0h0M1554.9,887.9h0M1575.6,857.2h0M1552.0,889.8h0M1534.9,923.5h0M1578.7,836.6h0M1579.5,870.0h0M1530.2,912.1h0M1568.9,875.6h0M1552.7,867.7h0M1530.5,857.7h0M1541.1,845.2h0M1561.2,897.9h0M1530.8,920.3h0M1552.7,866.7h0M1550.3,911.7h0M1554.6,855.5h0M1531.6,873.0h0M1572.3,829.8h0M1553.7,865.7h0M1555.5,846.2h0M1556.1,871.7h0M1543.3,899.9h0M1563.5,883.1h0M1542.3,880.3h0M1584.1,881.5h0M1548.1,879.9h0M1538.4,901.6h0M1549.2,907.7h0M1543.5,917.7h0M1600.0,814.6h0M1542.1,916.7h0M1579.5,884.1h0M1513.2,961.1h0M1529.8,906.3h0M1542.5,889.6h0M1564.7,868.3h0M1552.3,861.1h0M1541.7,879.2h0M1541.7,878.3h0M1574.4,802.2h0M1536.6,923.8h0M1566.3,907.2h0M1543.3,912.1h0M1565.1,870.8h0M1573.4,900.3h0M1545.1,881.5h0M1535.3,891.9h0M1536.3,876.6h0M1538.5,903.8h0M1529.2,896.7h0M1548.8,891.0h0M1555.6,878.1h0M1543.3,897.6h0M1604.7,844.0h0M1592.9,835.4h0M1566.3,897.8h0M1567.9,829.9h0M1542.1,855.1h0M1567.0,892.5h0M1519.7,930.5h0M1505.7,916.8h0M1528.4,941.5h0M1541.5,860.6h0M1563.5,880.1h0M1516.6,922.6h0M1541.0,866.3h0M1553.8,851.6h0M1575.0,837.6h0M1553.7,859.0h0M1538.6,939.4h0M1526.7,923.7h0M1549.3,910.7h0M1570.2,917.2h0M1573.3,862.4h0M1558.8,819.2h0M1530.3,936.1h0M1525.0,919.9h0M1522.9,878.5h0M1536.6,905.1h0M1551.5,887.7h0M1532.8,921.1h0M1555.3,876.2h0M1542.7,918.9h0M1568.8,856.1h0M1553.7,872.3h0M1565.3,868.4h0M1535.1,918.6h0M1554.0,891.5h0M1579.8,854.4h0M1508.9,939.7h0M1588.3,843.7h0M1551.7,947.1h0M1665.8,831.1h0M1536.6,901.6h0M1549.7,864.0h0M1557.7,915.2h0M1550.1,926.7h0M1555.2,853.6h0M1574.8,839.2h0M1531.3,931.2h0M1561.1,894.4h0M1545.3,939.8h0M1582.1,828.8h0M1600.4,854.5h0M1545.0,871.5h0M1543.9,920.6h0M1577.3,839.4h0M1594.5,846.8h0M1569.5,867.4h0M1585.0,892.6h0M1596.6,850.2h0M1548.6,856.6h0M1540.6,886.5h0M1520.6,898.9h0M1546.0,881.0h0M1539.7,872.6h0M1564.7,889.7h0M1553.8,890.5h0M1586.5,852.9h0M1555.7,850.2h0M1538.6,891.9h0M1542.6,878.6h0M1549.1,898.7h0M1553.5,921.6h0M1592.4,833.4h0M1557.8,870.7h0M1543.9,900.6h0M1537.1,912.0h0M1550.2,898.0h0M1526.8,890.4h0M1548.7,878.0h0M1578.3,929.5h0M1584.6,903.8h0M1553.7,903.7h0M1553.1,791.9h0M1543.5,897.2h0M1551.2,871.4h0M1545.8,883.2h0M1555.7,920.7h0M1602.9,797.0h0M1567.4,874.6h0M1531.1,924.5h0M1533.8,879.5h0M1556.2,899.1h0M1611.1,850.4h0M1552.3,921.6h0M1572.2,828.2h0M1534.9,881.2h0M1537.1,910.0h0M1618.3,874.1h0M1579.9,917.5h0M1548.2,872.2h0M1571.5,867.5h0M1559.9,918.3h0M1569.5,855.4h0M1554.6,882.7h0M1557.0,885.3h0M1591.8,836.8h0M1549.3,879.0h0M1564.3,857.6h0M1604.1,789.8h0M1515.0,958.1h0M1536.9,881.2h0M1540.5,938.4h0M1554.8,840.7h0M1546.2,903.0h0M1595.0,894.5h0M1533.5,891.3h0M1542.6,910.5h0M1528.3,872.1h0M1531.2,895.5h0M1550.3,832.9h0M1523.7,888.8h0M1592.7,887.5h0M1565.4,812.2h0M1526.8,867.3h0M1568.8,874.9h0M1533.7,919.7h0M1554.0,834.6h0M1535.8,865.0h0M1529.8,869.0h0M1554.6,892.8h0M1577.8,841.7h0M1525.8,927.0h0M1535.4,867.2h0M1549.2,892.0h0M1601.2,810.6h0M1544.1,948.4h0M1578.9,852.3h0M1551.0,905.7h0M1549.4,959.4h0M1569.9,908.1h0M1535.3,887.0h0M1552.5,846.3h0M1517.0,982.6h0M1552.1,922.9h0M1661.4,865.3h0M1526.9,945.0h0M1528.1,914.8h0M1554.6,912.9h0M1590.0,888.1h0M1553.0,926.1h0M1605.5,854.7h0M1542.1,916.9h0M1640.0,832.5h0M1535.1,901.2h0M1567.2,851.3h0M1541.5,888.9h0M1573.2,907.8h0M1514.8,955.2h0M1540.5,902.4h0M1583.2,909.0h0M1570.1,872.8h0M1549.6,959.0h0M1542.6,885.5h0M1591.7,813.1h0M1538.4,831.7h0M1531.2,904.4h0M1520.7,890.6h0M1557.6,909.1h0M1580.8,839.7h0M1530.3,976.0h0M1569.2,903.0h0M1566.7,887.8h0M1535.3,941.2h0M1552.5,861.1h0M1551.0,887.7h0M1524.6,861.9h0M1598.1,847.5h0M1533.1,922.2h0M1534.2,882.0h0M1562.6,893.7h0M1548.5,867.6h0M1567.5,859.7h0M1559.3,902.3h0M1527.2,900.7h0M1547.2,876.2h0M1620.6,933.8h0M1542.1,899.3h0M1531.3,914.0h0M1579.8,866.7h0M1527.6,877.3h0M1543.2,838.0h0M1653.9,787.4h0M1572.7,863.4h0M1534.0,903.5h0M1525.1,866.3h0M1549.7,911.4h0M1558.1,820.8h0M1569.0,814.7h0M1539.9,958.6h0M1548.8,870.8h0M1545.1,875.3h0M1544.0,903.3h0M1559.1,931.5h0M1554.8,877.4h0M1541.2,904.3h0M1569.4,843.3h0M1543.8,876.7h0M1553.1,910.7h0M1569.2,822.4h0M1541.1,844.4h0M1516.8,869.7h0M1466.7,941.6h0M1570.0,848.8h0M1573.9,905.5h0M1560.4,894.6h0M1513.7,961.4h0M1538.6,887.2h0M1599.8,799.2h0M1554.0,865.2h0M1548.4,924.4h0M1608.7,840.3h0M1606.5,803.8h0M1537.5,925.9h0M1564.5,904.8h0M1575.2,802.3h0M1571.2,794.3h0M1583.9,923.8h0M1561.7,886.3h0M1527.7,879.9h0M1541.6,924.0h0M1535.8,937.4h0M1558.1,905.8h0M1551.8,858.4h0M1607.9,829.9h0M1539.2,891.8h0M1533.0,896.1h0M1515.8,922.2h0M1536.2,863.8h0M1578.1,839.2h0M1550.4,910.9h0M1539.0,923.2h0M1553.7,886.9h0M1555.5,909.3h0M1540.3,895.2h0M1504.7,899.2h0M1562.6,878.5h0M1551.2,882.6h0M1527.0,917.4h0M1547.5,912.0h0M1533.9,927.0h0M1542.5,858.7h0M1560.4,902.4h0M1551.5,885.5h0M1544.0,889.8h0M1569.2,863.8h0M1538.9,905.2h0M1558.7,926.2h0M1540.9,838.5h0M1556.4,913.3h0M1551.8,871.3h0M1551.2,917.0h0M1573.2,814.9h0M1566.6,906.4h0M1619.7,850.3h0M1535.0,886.2h0M1619.4,805.0h0M1556.3,838.9h0M1533.9,950.7h0M1473.4,949.4h0M1537.6,867.0h0M1545.1,902.6h0M1555.4,850.4h0M1579.1,845.6h0M1571.6,851.2h0M1583.1,896.6h0M1579.5,867.0h0M1579.5,847.8h0M1621.0,827.2h0M1563.3,886.9h0M1531.5,938.7h0M1552.7,907.0h0M1547.3,823.7h0M1557.0,822.2h0M1539.9,938.2h0M1584.9,814.0h0M1536.7,864.3h0M1549.8,896.8h0M1534.7,880.9h0M1582.8,820.6h0M1578.4,868.1h0M1598.1,904.9h0M1537.6,899.3h0M1543.8,897.8h0M1584.2,903.2h0M1575.7,873.7h0M1524.7,934.2h0M1548.0,905.4h0M1521.0,912.7h0M1574.3,897.8h0M1570.4,824.5h0M1591.9,851.5h0M1568.2,907.0h0M1548.8,908.2h0M1541.8,880.9h0M1557.7,924.0h0M1546.8,884.9h0M1602.2,816.0h0M1546.8,913.6h0M1548.5,879.0h0M1614.0,893.1h0M1535.3,871.4h0M1542.9,926.5h0M1529.0,875.6h0M1582.5,835.6h0M1554.2,877.7h0M1548.7,877.9h0M1577.8,845.7h0M1580.9,806.5h0M1537.6,874.0h0M1531.2,856.0h0M1580.3,922.8h0M1605.0,821.8h0M1552.8,861.4h0M1563.7,917.6h0M1508.3,871.9h0M1549.7,878.7h0M1528.1,863.5h0M1531.8,908.4h0M1520.4,932.1h0M1554.1,889.5h0M1550.5,879.6h0M1545.1,916.9h0M1564.1,853.7h0M1528.4,895.3h0M1536.8,926.0h0M1534.0,885.8h0M1549.5,892.4h0M1567.3,875.3h0M1529.9,912.2h0M1576.1,836.0h0M1542.1,926.4h0M1536.1,893.9h0M1535.4,896.2h0M1567.2,862.7h0M1486.3,949.7h0M1548.4,876.6h0M1544.0,868.5h0M1553.0,917.3h0M1544.9,885.5h0M1525.8,843.4h0M1532.3,913.3h0M1602.4,887.1h0M1551.9,887.8h0M1580.9,950.2h0M1603.5,794.8h0M1553.2,888.2h0M1581.3,882.6h0M1545.5,912.6h0M1540.3,879.9h0M1567.6,879.0h0M1544.5,903.1h0M1534.9,907.1h0M1545.1,848.4h0M1544.0,892.5h0M1602.4,801.3h0M1578.0,865.4h0M1563.9,881.8h0M1576.8,882.1h0M1539.7,922.7h0M1536.7,879.4h0M1542.3,951.2h0M1555.0,881.1h0M1512.2,925.5h0M1525.7,924.2h0M1536.1,868.5h0M1528.9,882.6h0M1536.7,874.1h0M1526.4,863.6h0M1539.9,880.9h0M1545.0,876.2h0M1550.7,889.6h0M1566.7,826.2h0M1544.9,867.8h0M1542.5,914.6h0M1575.6,891.2h0M1507.0,937.6h0M1546.4,911.0h0M1534.2,864.3h0M1504.3,911.2h0M1578.1,851.9h0M1558.9,903.3h0M1546.7,911.7h0M1566.2,844.8h0M1604.1,872.7h0M1550.4,920.9h0M1547.5,947.6h0M1462.8,965.7h0M1596.6,873.7h0M1568.9,897.0h0M1525.8,876.9h0M1548.5,845.6h0M1535.9,916.4h0M1598.0,876.5h0M1541.8,885.5h0M1530.1,884.2h0M1578.6,910.2h0M1540.2,917.5h0M1532.9,856.0h0M1522.0,929.7h0M1534.0,889.6h0M1547.2,863.0h0M1535.1,908.0h0M1556.8,889.1h0M1578.9,876.9h0M1530.2,920.0h0M1515.4,928.6h0M1565.8,922.5h0M1559.1,896.4h0M1576.7,851.3h0M1530.4,882.9h0M1563.5,891.3h0M1536.1,916.1h0M1532.7,849.6h0M1543.8,893.5h0M1573.5,841.0h0M1574.4,896.1h0M1571.5,851.6h0M1538.5,920.0h0M1548.0,904.1h0M1531.7,924.3h0M1538.1,929.7h0M1573.5,861.0h0M1525.4,942.6h0M1581.8,814.3h0M1603.5,830.5h0M1546.0,844.3h0M1552.3,878.8h0M1602.6,836.1h0M1562.9,841.1h0M1566.1,922.4h0M1563.3,835.8h0M1523.3,893.5h0M1567.7,889.8h0M1561.8,900.9h0M1540.9,885.1h0M1523.9,949.1h0M1544.6,844.0h0M1554.0,890.0h0M1541.5,872.8h0M1554.1,881.9h0M1541.9,904.6h0M1561.3,890.3h0M1587.8,821.8h0M1499.3,887.8h0M1555.5,884.0h0M1568.1,861.3h0M1514.2,898.7h0M1549.8,869.1h0M1568.7,862.5h0M1556.5,848.7h0M1539.9,910.9h0M1544.0,917.6h0M1514.7,913.7h0M1548.8,896.5h0M1574.1,804.8h0M1570.8,841.4h0M1563.9,851.5h0M1547.5,873.1h0M1536.3,916.6h0M1538.8,880.4h0M1531.0,894.4h0M1543.1,871.0h0M1484.7,930.5h0M1549.6,897.3h0M1568.9,870.3h0M1542.1,911.0h0M1570.9,896.0h0M1555.1,876.9h0M1567.6,874.5h0M1656.1,741.7h0M1529.6,896.1h0M1542.8,922.5h0M1532.0,862.1h0M1531.1,855.9h0M1562.5,907.3h0M1481.1,948.9h0M1550.6,860.1h0M1581.4,822.9h0M1549.1,926.4h0M1559.6,850.2h0M1532.1,896.4h0M1570.3,864.6h0M1568.3,843.5h0M1551.6,903.5h0M1584.1,880.9h0M1553.5,867.3h0M1553.9,859.9h0M1509.3,911.5h0M1571.8,872.0h0M1540.8,882.3h0M1563.1,849.6h0M1546.6,911.2h0M1532.7,904.5h0M1549.1,859.9h0M1586.9,867.6h0M1558.1,903.1h0M1529.0,898.1h0M1554.1,892.1h0M1580.9,901.4h0M1511.1,957.1h0M1465.8,908.4h0M1573.4,835.0h0M1552.3,848.8h0M1561.9,903.2h0M1541.9,891.5h0M1553.2,889.9h0M1530.0,898.9h0M1526.9,945.0h0M1554.6,852.7h0M1573.4,868.5h0M1553.8,879.9h0M1508.3,942.3h0M1478.5,895.8h0M1565.6,917.9h0M1540.2,845.1h0M1535.6,908.7h0M1536.3,906.9h0M1580.7,801.5h0M1548.1,853.0h0M1533.6,922.2h0M1533.6,922.7h0M1521.9,932.5h0M1597.9,873.8h0M1546.3,877.0h0M1549.8,907.9h0M1523.7,892.9h0M1538.9,855.7h0M1567.8,858.5h0M1570.7,864.8h0M1545.5,918.6h0M1535.2,857.8h0M1605.5,834.7h0M1540.4,932.8h0M1537.5,916.8h0M1533.3,972.8h0M1549.1,876.2h0M1573.0,817.2h0M1553.3,893.9h0M1572.3,896.3h0M1544.1,930.8h0M1555.6,863.0h0M1530.6,910.6h0M1546.5,920.6h0M1543.0,860.5h0M1541.5,884.7h0M1565.6,897.5h0M1539.2,883.3h0M1545.4,908.7h0M1541.1,918.7h0M1580.1,892.4h0M1538.5,871.5h0M1543.0,936.8h0M1563.7,915.3h0M1541.4,872.7h0M1563.7,917.9h0M1617.7,763.2h0M1541.8,903.9h0M1553.2,922.2h0M1506.7,939.1h0M1569.8,880.4h0M1541.3,898.4h0M1551.2,872.9h0M1538.5,892.3h0M1555.3,862.7h0M1545.9,887.6h0M1645.1,805.8h0M1595.8,876.1h0M1550.5,878.2h0M1533.3,878.7h0M1536.7,903.1h0M1550.2,893.5h0M1566.0,882.6h0M1579.1,853.0h0M1577.2,866.6h0M1568.5,895.1h0M1549.5,910.4h0M1555.0,896.3h0M1538.4,843.0h0M1551.8,909.6h0M1543.2,855.0h0M1554.7,942.1h0M1518.8,918.5h0M1527.1,854.8h0M1559.8,878.6h0M1549.5,880.2h0M1536.9,913.5h0M1608.5,899.7h0M1506.4,905.4h0M1591.6,832.8h0M1574.9,902.9h0M1458.1,900.6h0M1576.0,826.5h0M1561.1,867.9h0M1538.8,953.0h0M1555.3,894.6h0M1586.9,839.6h0M1527.4,870.7h0M1543.1,844.9h0M1534.1,857.1h0M1576.8,809.2h0M1531.2,905.1h0M1525.4,907.4h0M1526.1,906.2h0M1573.9,848.8h0M1536.7,866.6h0M1608.9,842.9h0M1517.9,954.2h0M1548.0,921.7h0M1531.8,823.5h0M1532.2,865.2h0M1534.1,912.6h0M1551.8,894.5h0M1535.8,879.2h0M1541.0,886.8h0M1571.8,898.1h0M1550.8,940.2h0M1489.0,966.1h0M1535.5,894.6h0M1554.0,867.5h0M1542.8,885.1h0M1529.7,860.6h0M1526.0,903.3h0M1544.3,885.6h0M1555.7,883.0h0M1546.2,865.3h0M1537.1,913.2h0M1534.1,845.3h0M1543.0,921.4h0M1579.3,900.4h0M1527.2,884.7h0M1524.9,863.3h0M1525.3,934.8h0M1551.5,911.4h0M1510.1,922.8h0M1544.7,872.9h0M1542.6,870.8h0M1549.3,957.2h0M1549.9,896.9h0M1575.1,858.0h0M1540.4,885.9h0M1529.9,892.6h0M1568.8,879.8h0M1536.5,894.8h0M1532.1,950.4h0M1508.8,893.4h0M1604.0,856.0h0M1559.1,887.6h0M1558.8,907.5h0M1527.0,895.9h0M1572.1,918.8h0M1522.9,884.4h0M1564.8,870.4h0M1574.6,882.3h0M1549.2,861.5h0M1531.1,872.1h0M1611.8,856.5h0M1523.1,886.2h0M1537.3,885.4h0M1555.0,866.1h0M1556.0,881.6h0M1534.7,967.1h0M1539.6,903.5h0M1539.9,897.2h0M1611.8,814.8h0M1645.2,768.8h0M1527.5,901.2h0M1571.2,978.9h0M1544.1,876.8h0M1538.7,864.6h0M1547.5,891.5h0M1521.6,886.7h0M1564.7,911.4h0M1561.8,908.5h0M1538.0,906.5h0M1517.5,937.2h0M1561.0,881.4h0M1614.5,824.6h0M1531.2,860.8h0M1618.0,791.4h0M1551.3,855.9h0M1535.8,926.0h0M1568.9,883.2h0M1565.6,857.5h0M1542.8,885.9h0M1553.4,951.3h0M1538.7,898.5h0M1551.4,876.5h0M1535.1,939.2h0M1542.9,906.3h0M1565.5,887.3h0M1569.9,865.8h0M1555.1,852.9h0M1584.6,867.1h0M1567.6,901.2h0M1552.2,847.0h0M1556.9,853.6h0M1529.8,858.1h0M1522.7,908.3h0M1537.3,871.0h0M1568.0,940.1h0M1623.5,842.2h0M1539.1,921.7h0M1618.0,892.8h0M1574.8,913.8h0M1529.8,876.6h0M1551.9,849.0h0M1537.6,910.4h0M1560.2,891.7h0M1542.6,863.3h0M1540.6,913.2h0M1555.0,879.2h0M1543.9,877.1h0M1568.3,845.6h0M1553.5,894.0h0M1523.8,980.0h0M1553.3,892.2h0M1549.8,871.1h0M1585.8,840.2h0M1603.7,848.0h0M1519.8,934.3h0M1567.1,866.3h0M1558.2,879.3h0M1548.3,883.0h0M1525.0,905.8h0M1578.6,864.0h0M1558.3,874.8h0M1555.1,887.4h0M1601.3,809.1h0M1532.1,911.7h0M1544.1,893.1h0M1516.3,873.0h0M1538.4,884.2h0M1672.2,835.7h0M1544.2,873.1h0M1573.8,874.8h0M1571.3,888.2h0M1550.5,876.4h0M1573.4,909.7h0M1539.1,893.4h0M1527.5,851.2h0M1534.8,873.4h0M1526.1,888.3h0M1527.0,881.3h0M1519.6,890.6h0M1524.8,936.0h0M1526.8,916.1h0M1550.7,906.1h0M1543.9,880.4h0M1638.2,839.5h0M1559.4,829.0h0M1587.5,914.4h0M1561.9,909.9h0M1579.0,904.3h0M1593.7,904.2h0" stroke="#1f77b4" stroke-width="1.9" stroke-linecap="round" fill="none"/>
<line x1="1439.80" y1="707.60" x2="1439.80" y2="991.60" stroke="#808080" stroke-width="1.1"/>
<line x1="1439.80" y1="991.60" x2="1722.30" y2="991.60" stroke="#808080" stroke-width="1.1"/>
<line x1="1464.46" y1="991.60" x2="1464.46" y2="994.60" stroke="#808080" stroke-width="1.0"/>
<text x="1461.3" y="1009.6" style="font-family:'Liberation Sans',Arial,sans-serif;font-size:17px;font-weight:normal" text-anchor="middle" fill="#111">-1.0</text>
<line x1="1508.88" y1="991.60" x2="1508.88" y2="994.60" stroke="#808080" stroke-width="1.0"/>
<text x="1507.3" y="1009.6" style="font-family:'Liberation Sans',Arial,sans-serif;font-size:17px;font-weight:normal" text-anchor="middle" fill="#111">-0.5</text>
<line x1="1553.30" y1="991.60" x2="1553.30" y2="994.60" stroke="#808080" stroke-width="1.0"/>
<text x="1552.6" y="1009.6" style="font-family:'Liberation Sans',Arial,sans-serif;font-size:17px;font-weight:normal" text-anchor="middle" fill="#111">0.0</text>
<line x1="1597.72" y1="991.60" x2="1597.72" y2="994.60" stroke="#808080" stroke-width="1.0"/>
<text x="1600.0" y="1009.6" style="font-family:'Liberation Sans',Arial,sans-serif;font-size:17px;font-weight:normal" text-anchor="middle" fill="#111">0.5</text>
<line x1="1642.14" y1="991.60" x2="1642.14" y2="994.60" stroke="#808080" stroke-width="1.0"/>
<text x="1643.8" y="1009.6" style="font-family:'Liberation Sans',Arial,sans-serif;font-size:17px;font-weight:normal" text-anchor="middle" fill="#111">1.0</text>
<line x1="1686.56" y1="991.60" x2="1686.56" y2="994.60" stroke="#808080" stroke-width="1.0"/>
<text x="1688.5" y="1009.6" style="font-family:'Liberation Sans',Arial,sans-serif;font-size:17px;font-weight:normal" text-anchor="middle" fill="#111">1.5</text>
<line x1="1436.80" y1="980.55" x2="1439.80" y2="980.55" stroke="#808080" stroke-width="1.0"/>
<text x="1435.5" y="986.5" style="font-family:'Liberation Sans',Arial,sans-serif;font-size:17px;font-weight:normal" text-anchor="end" fill="#111">-0.75</text>
<line x1="1436.80" y1="947.40" x2="1439.80" y2="947.40" stroke="#808080" stroke-width="1.0"/>
<text x="1435.5" y="953.4" style="font-family:'Liberation Sans',Arial,sans-serif;font-size:17px;font-weight:normal" text-anchor="end" fill="#111">-0.50</text>
<line x1="1436.80" y1="914.25" x2="1439.80" y2="914.25" stroke="#808080" stroke-width="1.0"/>
<text x="1435.5" y="920.2" style="font-family:'Liberation Sans',Arial,sans-serif;font-size:17px;font-weight:normal" text-anchor="end" fill="#111">-0.25</text>
<line x1="1436.80" y1="881.10" x2="1439.80" y2="881.10" stroke="#808080" stroke-width="1.0"/>
<text x="1435.5" y="887.1" style="font-family:'Liberation Sans',Arial,sans-serif;font-size:17px;font-weight:normal" text-anchor="end" fill="#111">0.00</text>
<line x1="1436.80" y1="847.95" x2="1439.80" y2="847.95" stroke="#808080" stroke-width="1.0"/>
<text x="1435.5" y="854.0" style="font-family:'Liberation Sans',Arial,sans-serif;font-size:17px;font-weight:normal" text-anchor="end" fill="#111">0.25</text>
<line x1="1436.80" y1="814.80" x2="1439.80" y2="814.80" stroke="#808080" stroke-width="1.0"/>
<text x="1435.5" y="820.8" style="font-family:'Liberation Sans',Arial,sans-serif;font-size:17px;font-weight:normal" text-anchor="end" fill="#111">0.50</text>
<line x1="1436.80" y1="781.65" x2="1439.80" y2="781.65" stroke="#808080" stroke-width="1.0"/>
<text x="1435.5" y="787.7" style="font-family:'Liberation Sans',Arial,sans-serif;font-size:17px;font-weight:normal" text-anchor="end" fill="#111">0.75</text>
<line x1="1436.80" y1="748.50" x2="1439.80" y2="748.50" stroke="#808080" stroke-width="1.0"/>
<text x="1435.5" y="754.5" style="font-family:'Liberation Sans',Arial,sans-serif;font-size:17px;font-weight:normal" text-anchor="end" fill="#111">1.00</text>
<line x1="1436.80" y1="715.35" x2="1439.80" y2="715.35" stroke="#808080" stroke-width="1.0"/>
<text x="1435.5" y="721.4" style="font-family:'Liberation Sans',Arial,sans-serif;font-size:17px;font-weight:normal" text-anchor="end" fill="#111">1.25</text>
<text x="1590.3" y="616.3" style="font-family:'Liberation Sans',Arial,sans-serif;font-size:20px;font-weight:normal" text-anchor="middle" fill="#111" textLength="241.4" lengthAdjust="spacingAndGlyphs">Excitatory neuron (Layer 6)</text>
<text x="1599.9" y="1034.3" style="font-family:'Liberation Sans',Arial,sans-serif;font-size:20.5px;font-weight:normal" text-anchor="middle" fill="#111" textLength="253.2" lengthAdjust="spacingAndGlyphs">scRNA-seq gene expression</text>
<text x="1398.0" y="840.6" style="font-family:'Liberation Sans',Arial,sans-serif;font-size:20.5px;font-weight:normal" text-anchor="middle" fill="#111" transform="rotate(-90 1398.0 840.6)" textLength="241.3" lengthAdjust="spacingAndGlyphs">seqFISH+ gene expression</text>
<g shape-rendering="crispEdges">
<path fill="#fffebe" d="M53.4 1349.9h34.7v5.6h-34.7zM53.4 1369.5h34.7v2.8h-34.7zM53.4 1375.0h34.7v2.8h-34.7zM53.4 1464.4h34.7v2.8h-34.7zM53.4 1472.8h34.7v2.8h-34.7zM53.4 1573.4h34.7v2.8h-34.7zM53.4 1612.5h34.7v2.8h-34.7zM53.4 1618.1h34.7v2.8h-34.7zM53.4 1643.2h34.7v5.6h-34.7zM53.4 1654.4h34.7v2.8h-34.7zM53.4 1721.5h34.7v2.8h-34.7zM53.4 1752.2h34.7v2.8h-34.7zM53.4 1824.8h34.7v2.8h-34.7zM53.4 1986.9h34.7v5.6h-34.7zM53.4 2000.8h34.7v2.8h-34.7zM53.4 2037.2h34.7v2.8h-34.7zM53.4 2188.0h34.7v2.8h-34.7zM53.4 2202.0h34.7v2.8h-34.7zM53.4 2221.6h34.7v2.8h-34.7zM53.4 2229.9h34.7v2.8h-34.7zM53.4 2241.1h34.7v2.8h-34.7zM53.4 2246.7h34.7v2.8h-34.7zM53.4 2255.1h34.7v2.8h-34.7zM53.4 2260.7h34.7v2.8h-34.7zM53.4 2266.2h34.7v2.8h-34.7zM53.4 2383.6h34.7v8.4h-34.7zM88.1 1366.7h34.7v2.8h-34.7zM88.1 1425.3h34.7v2.8h-34.7zM88.1 1492.4h34.7v2.8h-34.7zM88.1 1545.5h34.7v2.8h-34.7zM88.1 1553.8h34.7v2.8h-34.7zM88.1 1565.0h34.7v5.6h-34.7zM88.1 1587.4h34.7v2.8h-34.7zM88.1 1612.5h34.7v5.6h-34.7zM88.1 1623.7h34.7v2.8h-34.7zM88.1 1634.9h34.7v2.8h-34.7zM88.1 1654.4h34.7v5.6h-34.7zM88.1 1699.1h34.7v2.8h-34.7zM88.1 1707.5h34.7v2.8h-34.7zM88.1 1830.4h34.7v2.8h-34.7zM88.1 1891.9h34.7v2.8h-34.7zM88.1 1900.3h34.7v2.8h-34.7zM88.1 1905.9h34.7v2.8h-34.7zM88.1 1911.4h34.7v2.8h-34.7zM88.1 1917.0h34.7v2.8h-34.7zM88.1 2067.9h34.7v5.6h-34.7zM88.1 2283.0h34.7v2.8h-34.7zM88.1 2291.4h34.7v2.8h-34.7zM88.1 2336.1h34.7v2.8h-34.7zM88.1 2366.8h34.7v2.8h-34.7zM88.1 2380.8h34.7v2.8h-34.7zM88.1 2389.2h34.7v2.8h-34.7zM88.1 2450.6h34.7v5.6h-34.7zM122.8 1355.5h34.7v2.8h-34.7zM122.8 1391.8h34.7v2.8h-34.7zM122.8 1408.6h34.7v2.8h-34.7zM122.8 1422.5h34.7v2.8h-34.7zM122.8 1428.1h34.7v2.8h-34.7zM122.8 1467.2h34.7v2.8h-34.7zM122.8 1486.8h34.7v5.6h-34.7zM122.8 1525.9h34.7v2.8h-34.7zM122.8 1562.2h34.7v2.8h-34.7zM122.8 1576.2h34.7v2.8h-34.7zM122.8 1590.2h34.7v2.8h-34.7zM122.8 1634.9h34.7v2.8h-34.7zM122.8 1651.6h34.7v2.8h-34.7zM122.8 1743.8h34.7v2.8h-34.7zM122.8 1964.5h34.7v5.6h-34.7zM122.8 1992.5h34.7v2.8h-34.7zM122.8 2048.3h34.7v5.6h-34.7zM122.8 2059.5h34.7v2.8h-34.7zM122.8 2065.1h34.7v2.8h-34.7zM122.8 2084.7h34.7v2.8h-34.7zM122.8 2109.8h34.7v2.8h-34.7zM122.8 2123.8h34.7v5.6h-34.7zM122.8 2143.3h34.7v5.6h-34.7zM122.8 2151.7h34.7v2.8h-34.7zM122.8 2179.6h34.7v2.8h-34.7zM122.8 2224.3h34.7v2.8h-34.7zM122.8 2229.9h34.7v5.6h-34.7zM122.8 2246.7h34.7v2.8h-34.7zM122.8 2294.2h34.7v8.4h-34.7zM157.5 1349.9h34.7v2.8h-34.7zM157.5 1366.7h34.7v5.6h-34.7zM157.5 1417.0h34.7v5.6h-34.7zM157.5 1450.5h34.7v5.6h-34.7zM157.5 1475.6h34.7v8.4h-34.7zM157.5 1492.4h34.7v5.6h-34.7zM157.5 1517.5h34.7v2.8h-34.7zM157.5 1528.7h34.7v2.8h-34.7zM157.5 1539.9h34.7v5.6h-34.7zM157.5 1548.3h34.7v2.8h-34.7zM157.5 1593.0h34.7v2.8h-34.7zM157.5 1657.2h34.7v2.8h-34.7zM157.5 1752.2h34.7v2.8h-34.7zM157.5 1791.3h34.7v2.8h-34.7zM157.5 1813.7h34.7v2.8h-34.7zM157.5 1852.8h34.7v5.6h-34.7zM157.5 1864.0h34.7v2.8h-34.7zM157.5 1891.9h34.7v2.8h-34.7zM157.5 1900.3h34.7v2.8h-34.7zM157.5 1905.9h34.7v2.8h-34.7zM157.5 1936.6h34.7v2.8h-34.7zM157.5 1947.8h34.7v5.6h-34.7zM157.5 1958.9h34.7v2.8h-34.7zM157.5 2154.5h34.7v2.8h-34.7zM157.5 2241.1h34.7v2.8h-34.7zM157.5 2283.0h34.7v2.8h-34.7zM157.5 2294.2h34.7v5.6h-34.7zM157.5 2302.6h34.7v2.8h-34.7zM157.5 2352.9h34.7v5.6h-34.7zM157.5 2375.2h34.7v2.8h-34.7zM157.5 2397.6h34.7v2.8h-34.7zM157.5 2405.9h34.7v2.8h-34.7zM157.5 2411.5h34.7v2.8h-34.7zM192.2 1419.7h34.7v2.8h-34.7zM192.2 1430.9h34.7v2.8h-34.7zM192.2 1472.8h34.7v2.8h-34.7zM192.2 1481.2h34.7v2.8h-34.7zM192.2 1509.1h34.7v2.8h-34.7zM192.2 1525.9h34.7v2.8h-34.7zM192.2 1562.2h34.7v2.8h-34.7zM192.2 1576.2h34.7v5.6h-34.7zM192.2 1587.4h34.7v2.8h-34.7zM192.2 1612.5h34.7v2.8h-34.7zM192.2 1654.4h34.7v2.8h-34.7zM192.2 1780.1h34.7v2.8h-34.7zM192.2 1785.7h34.7v2.8h-34.7zM192.2 1794.1h34.7v2.8h-34.7zM192.2 1816.5h34.7v2.8h-34.7zM192.2 1830.4h34.7v2.8h-34.7zM192.2 1836.0h34.7v2.8h-34.7zM192.2 1897.5h34.7v5.6h-34.7zM192.2 1967.3h34.7v2.8h-34.7zM192.2 2042.8h34.7v2.8h-34.7zM192.2 2129.4h34.7v2.8h-34.7zM192.2 2213.2h34.7v5.6h-34.7zM192.2 2224.3h34.7v2.8h-34.7zM192.2 2271.8h34.7v2.8h-34.7zM192.2 2277.4h34.7v2.8h-34.7zM192.2 2291.4h34.7v2.8h-34.7zM192.2 2319.3h34.7v2.8h-34.7zM192.2 2336.1h34.7v2.8h-34.7zM192.2 2344.5h34.7v2.8h-34.7zM192.2 2383.6h34.7v5.6h-34.7zM192.2 2392.0h34.7v2.8h-34.7zM192.2 2408.7h34.7v2.8h-34.7zM192.2 2414.3h34.7v2.8h-34.7zM192.2 2431.1h34.7v2.8h-34.7zM226.9 1391.8h34.7v2.8h-34.7zM226.9 1422.5h34.7v2.8h-34.7zM226.9 1472.8h34.7v2.8h-34.7zM226.9 1565.0h34.7v2.8h-34.7zM226.9 1593.0h34.7v5.6h-34.7zM226.9 1612.5h34.7v2.8h-34.7zM226.9 1827.6h34.7v2.8h-34.7zM226.9 1950.6h34.7v2.8h-34.7zM226.9 2112.6h34.7v2.8h-34.7zM226.9 2137.7h34.7v2.8h-34.7zM226.9 2165.7h34.7v2.8h-34.7zM261.6 1389.0h34.7v2.8h-34.7zM261.6 1408.6h34.7v2.8h-34.7zM261.6 1417.0h34.7v2.8h-34.7zM261.6 1433.7h34.7v2.8h-34.7zM261.6 1492.4h34.7v2.8h-34.7zM261.6 1500.8h34.7v2.8h-34.7zM261.6 1523.1h34.7v2.8h-34.7zM261.6 1528.7h34.7v2.8h-34.7zM261.6 1542.7h34.7v5.6h-34.7zM261.6 1551.1h34.7v2.8h-34.7zM261.6 1570.6h34.7v5.6h-34.7zM261.6 1640.5h34.7v2.8h-34.7zM261.6 1721.5h34.7v5.6h-34.7zM261.6 1735.4h34.7v5.6h-34.7zM261.6 1752.2h34.7v2.8h-34.7zM261.6 1788.5h34.7v2.8h-34.7zM261.6 1841.6h34.7v2.8h-34.7zM261.6 1847.2h34.7v2.8h-34.7zM261.6 1852.8h34.7v2.8h-34.7zM261.6 1858.4h34.7v2.8h-34.7zM261.6 1864.0h34.7v5.6h-34.7zM261.6 1886.3h34.7v5.6h-34.7zM261.6 1903.1h34.7v2.8h-34.7zM261.6 1925.4h34.7v2.8h-34.7zM261.6 1986.9h34.7v2.8h-34.7zM261.6 1992.5h34.7v5.6h-34.7zM261.6 2017.6h34.7v2.8h-34.7zM261.6 2028.8h34.7v11.2h-34.7zM261.6 2067.9h34.7v2.8h-34.7zM261.6 2076.3h34.7v2.8h-34.7zM261.6 2081.9h34.7v2.8h-34.7zM261.6 2095.8h34.7v2.8h-34.7zM261.6 2123.8h34.7v5.6h-34.7zM261.6 2146.1h34.7v8.4h-34.7zM261.6 2174.1h34.7v8.4h-34.7zM261.6 2185.2h34.7v2.8h-34.7zM261.6 2207.6h34.7v2.8h-34.7zM261.6 2216.0h34.7v2.8h-34.7zM261.6 2227.1h34.7v2.8h-34.7zM261.6 2249.5h34.7v2.8h-34.7zM261.6 2263.5h34.7v2.8h-34.7zM296.3 1358.3h34.7v8.4h-34.7zM296.3 1386.2h34.7v2.8h-34.7zM296.3 1394.6h34.7v11.2h-34.7zM296.3 1517.5h34.7v2.8h-34.7zM296.3 1551.1h34.7v5.6h-34.7zM296.3 1595.8h34.7v2.8h-34.7zM296.3 1604.1h34.7v2.8h-34.7zM296.3 1623.7h34.7v2.8h-34.7zM296.3 1668.4h34.7v2.8h-34.7zM296.3 1743.8h34.7v2.8h-34.7zM296.3 2104.2h34.7v2.8h-34.7zM296.3 2140.5h34.7v2.8h-34.7zM296.3 2190.8h34.7v2.8h-34.7zM296.3 2199.2h34.7v5.6h-34.7zM296.3 2252.3h34.7v5.6h-34.7zM296.3 2266.2h34.7v2.8h-34.7zM296.3 2271.8h34.7v2.8h-34.7zM331.0 1556.6h34.7v5.6h-34.7zM331.0 1590.2h34.7v2.8h-34.7zM331.0 1601.3h34.7v2.8h-34.7zM331.0 1618.1h34.7v2.8h-34.7zM331.0 2123.8h34.7v2.8h-34.7zM331.0 2140.5h34.7v2.8h-34.7zM331.0 2148.9h34.7v2.8h-34.7zM331.0 2283.0h34.7v5.6h-34.7z"/>
<path fill="#bfe3ef" d="M53.4 1355.5h34.7v2.8h-34.7zM53.4 1430.9h34.7v2.8h-34.7zM53.4 1682.4h34.7v5.6h-34.7zM53.4 1780.1h34.7v2.8h-34.7zM53.4 1788.5h34.7v2.8h-34.7zM53.4 1891.9h34.7v2.8h-34.7zM88.1 1799.7h34.7v2.8h-34.7zM122.8 1741.0h34.7v2.8h-34.7zM122.8 1956.1h34.7v2.8h-34.7zM157.5 1771.8h34.7v2.8h-34.7zM157.5 1972.9h34.7v2.8h-34.7zM157.5 2059.5h34.7v2.8h-34.7zM157.5 2112.6h34.7v2.8h-34.7zM157.5 2185.2h34.7v5.6h-34.7zM157.5 2308.2h34.7v2.8h-34.7zM157.5 2319.3h34.7v2.8h-34.7zM157.5 2344.5h34.7v2.8h-34.7zM157.5 2433.9h34.7v2.8h-34.7zM192.2 1998.1h34.7v8.4h-34.7zM192.2 2012.0h34.7v2.8h-34.7zM192.2 2031.6h34.7v2.8h-34.7zM192.2 2070.7h34.7v2.8h-34.7zM261.6 1838.8h34.7v2.8h-34.7zM261.6 1905.9h34.7v2.8h-34.7zM296.3 1696.3h34.7v2.8h-34.7zM296.3 1701.9h34.7v2.8h-34.7zM296.3 1732.6h34.7v2.8h-34.7zM296.3 1785.7h34.7v2.8h-34.7zM296.3 1794.1h34.7v2.8h-34.7zM296.3 1961.7h34.7v2.8h-34.7zM296.3 1986.9h34.7v8.4h-34.7zM296.3 2081.9h34.7v8.4h-34.7zM296.3 2093.0h34.7v2.8h-34.7zM296.3 2210.4h34.7v2.8h-34.7zM296.3 2221.6h34.7v5.6h-34.7zM296.3 2352.9h34.7v2.8h-34.7zM296.3 2372.4h34.7v2.8h-34.7zM296.3 2394.8h34.7v5.6h-34.7zM296.3 2403.1h34.7v2.8h-34.7zM296.3 2411.5h34.7v2.8h-34.7zM296.3 2428.3h34.7v2.8h-34.7zM331.0 1802.5h34.7v2.8h-34.7zM331.0 1819.2h34.7v2.8h-34.7zM331.0 1861.2h34.7v2.8h-34.7zM331.0 1872.3h34.7v2.8h-34.7zM331.0 1891.9h34.7v2.8h-34.7zM331.0 1905.9h34.7v2.8h-34.7zM331.0 1922.6h34.7v2.8h-34.7zM331.0 1989.7h34.7v2.8h-34.7zM331.0 2095.8h34.7v2.8h-34.7zM331.0 2185.2h34.7v2.8h-34.7zM331.0 2199.2h34.7v2.8h-34.7zM331.0 2232.7h34.7v2.8h-34.7zM331.0 2246.7h34.7v2.8h-34.7zM331.0 2266.2h34.7v2.8h-34.7zM331.0 2274.6h34.7v2.8h-34.7zM331.0 2302.6h34.7v2.8h-34.7zM331.0 2319.3h34.7v8.4h-34.7zM331.0 2366.8h34.7v2.8h-34.7zM331.0 2372.4h34.7v2.8h-34.7zM331.0 2383.6h34.7v2.8h-34.7zM331.0 2394.8h34.7v2.8h-34.7zM331.0 2400.4h34.7v2.8h-34.7zM331.0 2408.7h34.7v2.8h-34.7zM331.0 2417.1h34.7v2.8h-34.7zM331.0 2425.5h34.7v2.8h-34.7z"/>
<path fill="#fbfdc7" d="M53.4 1358.3h34.7v2.8h-34.7zM53.4 1366.7h34.7v2.8h-34.7zM53.4 1372.2h34.7v2.8h-34.7zM53.4 1380.6h34.7v2.8h-34.7zM53.4 1453.3h34.7v2.8h-34.7zM53.4 1475.6h34.7v2.8h-34.7zM53.4 1576.2h34.7v2.8h-34.7zM53.4 1593.0h34.7v2.8h-34.7zM53.4 1648.8h34.7v5.6h-34.7zM53.4 1718.7h34.7v2.8h-34.7zM53.4 1727.1h34.7v8.4h-34.7zM53.4 1749.4h34.7v2.8h-34.7zM53.4 1782.9h34.7v2.8h-34.7zM53.4 1844.4h34.7v2.8h-34.7zM53.4 1992.5h34.7v5.6h-34.7zM53.4 2210.4h34.7v2.8h-34.7zM53.4 2227.1h34.7v2.8h-34.7zM53.4 2235.5h34.7v2.8h-34.7zM53.4 2271.8h34.7v2.8h-34.7zM53.4 2436.7h34.7v5.6h-34.7zM88.1 1386.2h34.7v2.8h-34.7zM88.1 1394.6h34.7v2.8h-34.7zM88.1 1403.0h34.7v2.8h-34.7zM88.1 1467.2h34.7v2.8h-34.7zM88.1 1500.8h34.7v5.6h-34.7zM88.1 1511.9h34.7v5.6h-34.7zM88.1 1528.7h34.7v2.8h-34.7zM88.1 1542.7h34.7v2.8h-34.7zM88.1 1551.1h34.7v2.8h-34.7zM88.1 1609.7h34.7v2.8h-34.7zM88.1 1618.1h34.7v2.8h-34.7zM88.1 1632.1h34.7v2.8h-34.7zM88.1 1660.0h34.7v2.8h-34.7zM88.1 1668.4h34.7v2.8h-34.7zM88.1 1687.9h34.7v2.8h-34.7zM88.1 1816.5h34.7v2.8h-34.7zM88.1 1827.6h34.7v2.8h-34.7zM88.1 1833.2h34.7v2.8h-34.7zM88.1 1866.7h34.7v2.8h-34.7zM88.1 1886.3h34.7v5.6h-34.7zM88.1 1903.1h34.7v2.8h-34.7zM88.1 1914.2h34.7v2.8h-34.7zM88.1 1922.6h34.7v2.8h-34.7zM88.1 2285.8h34.7v2.8h-34.7zM88.1 2302.6h34.7v2.8h-34.7zM88.1 2333.3h34.7v2.8h-34.7zM88.1 2341.7h34.7v2.8h-34.7zM88.1 2347.3h34.7v2.8h-34.7zM88.1 2355.7h34.7v2.8h-34.7zM88.1 2459.0h34.7v2.8h-34.7zM122.8 1397.4h34.7v2.8h-34.7zM122.8 1405.8h34.7v2.8h-34.7zM122.8 1411.4h34.7v2.8h-34.7zM122.8 1425.3h34.7v2.8h-34.7zM122.8 1492.4h34.7v2.8h-34.7zM122.8 1506.4h34.7v2.8h-34.7zM122.8 1511.9h34.7v2.8h-34.7zM122.8 1520.3h34.7v2.8h-34.7zM122.8 1545.5h34.7v2.8h-34.7zM122.8 1668.4h34.7v5.6h-34.7zM122.8 1690.7h34.7v2.8h-34.7zM122.8 1972.9h34.7v5.6h-34.7zM122.8 1984.1h34.7v2.8h-34.7zM122.8 2098.6h34.7v2.8h-34.7zM122.8 2104.2h34.7v2.8h-34.7zM122.8 2129.4h34.7v2.8h-34.7zM122.8 2140.5h34.7v2.8h-34.7zM122.8 2174.1h34.7v5.6h-34.7zM122.8 2235.5h34.7v2.8h-34.7zM122.8 2274.6h34.7v5.6h-34.7zM122.8 2283.0h34.7v2.8h-34.7zM157.5 1456.1h34.7v2.8h-34.7zM157.5 1461.7h34.7v2.8h-34.7zM157.5 1484.0h34.7v2.8h-34.7zM157.5 1498.0h34.7v8.4h-34.7zM157.5 1511.9h34.7v5.6h-34.7zM157.5 1534.3h34.7v2.8h-34.7zM157.5 1553.8h34.7v2.8h-34.7zM157.5 1704.7h34.7v2.8h-34.7zM157.5 1749.4h34.7v2.8h-34.7zM157.5 1755.0h34.7v2.8h-34.7zM157.5 1788.5h34.7v2.8h-34.7zM157.5 1799.7h34.7v2.8h-34.7zM157.5 1866.7h34.7v2.8h-34.7zM157.5 1877.9h34.7v2.8h-34.7zM157.5 1886.3h34.7v2.8h-34.7zM157.5 1903.1h34.7v2.8h-34.7zM157.5 1908.7h34.7v2.8h-34.7zM157.5 1914.2h34.7v2.8h-34.7zM157.5 1919.8h34.7v2.8h-34.7zM157.5 1933.8h34.7v2.8h-34.7zM157.5 1942.2h34.7v5.6h-34.7zM157.5 1953.4h34.7v5.6h-34.7zM157.5 2162.9h34.7v2.8h-34.7zM157.5 2168.5h34.7v2.8h-34.7zM157.5 2235.5h34.7v2.8h-34.7zM157.5 2246.7h34.7v2.8h-34.7zM157.5 2252.3h34.7v2.8h-34.7zM157.5 2285.8h34.7v2.8h-34.7zM157.5 2361.2h34.7v8.4h-34.7zM157.5 2372.4h34.7v2.8h-34.7zM157.5 2394.8h34.7v2.8h-34.7zM157.5 2414.3h34.7v2.8h-34.7zM157.5 2422.7h34.7v5.6h-34.7zM192.2 1436.5h34.7v2.8h-34.7zM192.2 1461.7h34.7v2.8h-34.7zM192.2 1470.0h34.7v2.8h-34.7zM192.2 1478.4h34.7v2.8h-34.7zM192.2 1492.4h34.7v2.8h-34.7zM192.2 1511.9h34.7v5.6h-34.7zM192.2 1520.3h34.7v2.8h-34.7zM192.2 1528.7h34.7v2.8h-34.7zM192.2 1553.8h34.7v2.8h-34.7zM192.2 1953.4h34.7v8.4h-34.7zM192.2 1978.5h34.7v2.8h-34.7zM192.2 2051.1h34.7v2.8h-34.7zM192.2 2123.8h34.7v2.8h-34.7zM192.2 2146.1h34.7v2.8h-34.7zM192.2 2151.7h34.7v2.8h-34.7zM192.2 2221.6h34.7v2.8h-34.7zM192.2 2235.5h34.7v2.8h-34.7zM192.2 2252.3h34.7v5.6h-34.7zM192.2 2266.2h34.7v2.8h-34.7zM192.2 2327.7h34.7v2.8h-34.7zM192.2 2378.0h34.7v5.6h-34.7zM226.9 1389.0h34.7v2.8h-34.7zM226.9 1430.9h34.7v2.8h-34.7zM226.9 1489.6h34.7v5.6h-34.7zM226.9 1500.8h34.7v2.8h-34.7zM226.9 1598.5h34.7v2.8h-34.7zM226.9 1609.7h34.7v2.8h-34.7zM226.9 2162.9h34.7v2.8h-34.7zM261.6 1383.4h34.7v5.6h-34.7zM261.6 1425.3h34.7v5.6h-34.7zM261.6 1453.3h34.7v2.8h-34.7zM261.6 1467.2h34.7v2.8h-34.7zM261.6 1481.2h34.7v2.8h-34.7zM261.6 1489.6h34.7v2.8h-34.7zM261.6 1495.2h34.7v5.6h-34.7zM261.6 1506.4h34.7v5.6h-34.7zM261.6 1525.9h34.7v2.8h-34.7zM261.6 1548.3h34.7v2.8h-34.7zM261.6 1556.6h34.7v2.8h-34.7zM261.6 1587.4h34.7v2.8h-34.7zM261.6 1609.7h34.7v2.8h-34.7zM261.6 1615.3h34.7v5.6h-34.7zM261.6 1732.6h34.7v2.8h-34.7zM261.6 1741.0h34.7v2.8h-34.7zM261.6 1799.7h34.7v2.8h-34.7zM261.6 1805.3h34.7v2.8h-34.7zM261.6 1810.9h34.7v2.8h-34.7zM261.6 1850.0h34.7v2.8h-34.7zM261.6 1861.2h34.7v2.8h-34.7zM261.6 1869.5h34.7v2.8h-34.7zM261.6 1922.6h34.7v2.8h-34.7zM261.6 1984.1h34.7v2.8h-34.7zM261.6 2000.8h34.7v2.8h-34.7zM261.6 2048.3h34.7v2.8h-34.7zM261.6 2121.0h34.7v2.8h-34.7zM261.6 2143.3h34.7v2.8h-34.7zM261.6 2229.9h34.7v5.6h-34.7zM261.6 2252.3h34.7v2.8h-34.7zM261.6 2271.8h34.7v2.8h-34.7zM296.3 1369.5h34.7v2.8h-34.7zM296.3 1383.4h34.7v2.8h-34.7zM296.3 1405.8h34.7v2.8h-34.7zM296.3 1492.4h34.7v2.8h-34.7zM296.3 1528.7h34.7v2.8h-34.7zM296.3 1598.5h34.7v2.8h-34.7zM296.3 1620.9h34.7v2.8h-34.7zM296.3 1660.0h34.7v8.4h-34.7zM296.3 1755.0h34.7v2.8h-34.7zM296.3 1945.0h34.7v2.8h-34.7zM296.3 2107.0h34.7v5.6h-34.7zM296.3 2115.4h34.7v2.8h-34.7zM296.3 2137.7h34.7v2.8h-34.7zM296.3 2185.2h34.7v2.8h-34.7zM296.3 2257.9h34.7v2.8h-34.7zM331.0 1581.8h34.7v2.8h-34.7zM331.0 1606.9h34.7v2.8h-34.7zM331.0 1620.9h34.7v2.8h-34.7zM331.0 1931.0h34.7v2.8h-34.7zM331.0 2121.0h34.7v2.8h-34.7zM331.0 2129.4h34.7v2.8h-34.7zM331.0 2143.3h34.7v2.8h-34.7zM331.0 2288.6h34.7v8.4h-34.7z"/>
<path fill="#f3fbd4" d="M53.4 1361.1h34.7v2.8h-34.7zM53.4 1657.2h34.7v5.6h-34.7zM53.4 1746.6h34.7v2.8h-34.7zM53.4 2369.6h34.7v2.8h-34.7zM88.1 1517.5h34.7v5.6h-34.7zM88.1 1598.5h34.7v2.8h-34.7zM88.1 1604.1h34.7v2.8h-34.7zM88.1 1671.2h34.7v2.8h-34.7zM88.1 1836.0h34.7v5.6h-34.7zM88.1 1847.2h34.7v2.8h-34.7zM88.1 1880.7h34.7v2.8h-34.7zM88.1 1894.7h34.7v2.8h-34.7zM88.1 1925.4h34.7v2.8h-34.7zM88.1 2299.8h34.7v2.8h-34.7zM122.8 1358.3h34.7v2.8h-34.7zM122.8 1484.0h34.7v2.8h-34.7zM122.8 1495.2h34.7v8.4h-34.7zM122.8 1509.1h34.7v2.8h-34.7zM122.8 1517.5h34.7v2.8h-34.7zM122.8 1542.7h34.7v2.8h-34.7zM122.8 1551.1h34.7v2.8h-34.7zM122.8 1646.0h34.7v2.8h-34.7zM122.8 1724.3h34.7v2.8h-34.7zM122.8 1735.4h34.7v2.8h-34.7zM122.8 2067.9h34.7v2.8h-34.7zM122.8 2079.1h34.7v2.8h-34.7zM122.8 2199.2h34.7v2.8h-34.7zM122.8 2271.8h34.7v2.8h-34.7zM157.5 1880.7h34.7v2.8h-34.7zM157.5 1911.4h34.7v2.8h-34.7zM157.5 2238.3h34.7v2.8h-34.7zM157.5 2403.1h34.7v2.8h-34.7zM192.2 1489.6h34.7v2.8h-34.7zM192.2 1984.1h34.7v2.8h-34.7zM192.2 2115.4h34.7v2.8h-34.7zM192.2 2134.9h34.7v2.8h-34.7zM192.2 2188.0h34.7v2.8h-34.7zM192.2 2263.5h34.7v2.8h-34.7zM192.2 2436.7h34.7v2.8h-34.7zM192.2 2447.8h34.7v2.8h-34.7zM226.9 1403.0h34.7v2.8h-34.7zM226.9 1478.4h34.7v2.8h-34.7zM226.9 1486.8h34.7v2.8h-34.7zM261.6 1439.3h34.7v2.8h-34.7zM261.6 1623.7h34.7v2.8h-34.7zM261.6 1877.9h34.7v2.8h-34.7zM261.6 2162.9h34.7v2.8h-34.7zM261.6 2171.3h34.7v2.8h-34.7zM261.6 2255.1h34.7v2.8h-34.7zM261.6 2266.2h34.7v2.8h-34.7zM296.3 1615.3h34.7v2.8h-34.7zM296.3 2165.7h34.7v5.6h-34.7zM296.3 2269.0h34.7v2.8h-34.7zM331.0 1950.6h34.7v2.8h-34.7z"/>
<path fill="#daf0f6" d="M53.4 1363.9h34.7v2.8h-34.7zM53.4 1397.4h34.7v2.8h-34.7zM53.4 1405.8h34.7v2.8h-34.7zM53.4 1417.0h34.7v2.8h-34.7zM53.4 1601.3h34.7v2.8h-34.7zM53.4 1629.3h34.7v2.8h-34.7zM53.4 1701.9h34.7v5.6h-34.7zM53.4 1757.8h34.7v8.4h-34.7zM53.4 1777.3h34.7v2.8h-34.7zM53.4 1883.5h34.7v5.6h-34.7zM53.4 1903.1h34.7v2.8h-34.7zM53.4 1936.6h34.7v2.8h-34.7zM53.4 1942.2h34.7v2.8h-34.7zM53.4 2327.7h34.7v2.8h-34.7zM53.4 2333.3h34.7v2.8h-34.7zM53.4 2338.9h34.7v2.8h-34.7zM53.4 2347.3h34.7v2.8h-34.7zM53.4 2392.0h34.7v2.8h-34.7zM53.4 2422.7h34.7v2.8h-34.7zM88.1 1355.5h34.7v2.8h-34.7zM88.1 1361.1h34.7v2.8h-34.7zM88.1 1389.0h34.7v2.8h-34.7zM88.1 1397.4h34.7v2.8h-34.7zM88.1 1531.5h34.7v2.8h-34.7zM88.1 1936.6h34.7v2.8h-34.7zM88.1 2297.0h34.7v2.8h-34.7zM122.8 2073.5h34.7v2.8h-34.7zM122.8 2185.2h34.7v2.8h-34.7zM122.8 2190.8h34.7v2.8h-34.7zM122.8 2255.1h34.7v5.6h-34.7zM157.5 1383.4h34.7v2.8h-34.7zM157.5 1439.3h34.7v2.8h-34.7zM157.5 1763.4h34.7v2.8h-34.7zM157.5 1769.0h34.7v2.8h-34.7zM157.5 1989.7h34.7v2.8h-34.7zM157.5 2076.3h34.7v2.8h-34.7zM157.5 2081.9h34.7v2.8h-34.7zM157.5 2087.5h34.7v2.8h-34.7zM157.5 2104.2h34.7v2.8h-34.7zM157.5 2132.2h34.7v2.8h-34.7zM157.5 2143.3h34.7v2.8h-34.7zM157.5 2165.7h34.7v2.8h-34.7zM157.5 2190.8h34.7v2.8h-34.7zM157.5 2204.8h34.7v2.8h-34.7zM157.5 2221.6h34.7v2.8h-34.7zM157.5 2316.5h34.7v2.8h-34.7zM157.5 2333.3h34.7v2.8h-34.7zM157.5 2389.2h34.7v2.8h-34.7zM192.2 1439.3h34.7v5.6h-34.7zM192.2 1495.2h34.7v2.8h-34.7zM192.2 1506.4h34.7v2.8h-34.7zM192.2 1531.5h34.7v5.6h-34.7zM192.2 1551.1h34.7v2.8h-34.7zM192.2 1964.5h34.7v2.8h-34.7zM192.2 1972.9h34.7v5.6h-34.7zM192.2 2040.0h34.7v2.8h-34.7zM192.2 2076.3h34.7v2.8h-34.7zM192.2 2087.5h34.7v2.8h-34.7zM192.2 2095.8h34.7v8.4h-34.7zM192.2 2107.0h34.7v2.8h-34.7zM192.2 2143.3h34.7v2.8h-34.7zM192.2 2154.5h34.7v2.8h-34.7zM192.2 2162.9h34.7v5.6h-34.7zM192.2 2182.4h34.7v2.8h-34.7zM192.2 2207.6h34.7v2.8h-34.7zM226.9 1349.9h34.7v2.8h-34.7zM226.9 1503.6h34.7v2.8h-34.7zM226.9 1514.7h34.7v2.8h-34.7zM226.9 1531.5h34.7v5.6h-34.7zM226.9 1551.1h34.7v2.8h-34.7zM226.9 1579.0h34.7v2.8h-34.7zM261.6 1361.1h34.7v2.8h-34.7zM261.6 1397.4h34.7v2.8h-34.7zM261.6 1579.0h34.7v5.6h-34.7zM261.6 1945.0h34.7v2.8h-34.7zM261.6 2104.2h34.7v2.8h-34.7zM296.3 1436.5h34.7v2.8h-34.7zM296.3 1646.0h34.7v2.8h-34.7zM296.3 1816.5h34.7v2.8h-34.7zM296.3 1850.0h34.7v2.8h-34.7zM296.3 1872.3h34.7v8.4h-34.7zM296.3 1886.3h34.7v2.8h-34.7zM296.3 2000.8h34.7v2.8h-34.7zM296.3 2216.0h34.7v2.8h-34.7zM296.3 2229.9h34.7v5.6h-34.7zM296.3 2364.0h34.7v2.8h-34.7zM331.0 1495.2h34.7v2.8h-34.7zM331.0 1509.1h34.7v2.8h-34.7zM331.0 1523.1h34.7v2.8h-34.7zM331.0 1651.6h34.7v2.8h-34.7zM331.0 1660.0h34.7v2.8h-34.7zM331.0 1671.2h34.7v5.6h-34.7zM331.0 1679.6h34.7v2.8h-34.7zM331.0 1687.9h34.7v2.8h-34.7zM331.0 1883.5h34.7v2.8h-34.7zM331.0 1903.1h34.7v2.8h-34.7zM331.0 1917.0h34.7v2.8h-34.7zM331.0 1925.4h34.7v2.8h-34.7zM331.0 1939.4h34.7v5.6h-34.7zM331.0 2176.9h34.7v2.8h-34.7zM331.0 2182.4h34.7v2.8h-34.7zM331.0 2252.3h34.7v2.8h-34.7zM331.0 2269.0h34.7v2.8h-34.7z"/>
<path fill="#90c3dd" d="M53.4 1377.8h34.7v2.8h-34.7zM296.3 1467.2h34.7v2.8h-34.7zM296.3 1760.6h34.7v2.8h-34.7zM296.3 1908.7h34.7v2.8h-34.7zM296.3 1975.7h34.7v5.6h-34.7zM296.3 2350.1h34.7v2.8h-34.7zM331.0 1833.2h34.7v2.8h-34.7zM331.0 2006.4h34.7v2.8h-34.7zM331.0 2020.4h34.7v2.8h-34.7zM331.0 2112.6h34.7v2.8h-34.7z"/>
<path fill="#f0f9db" d="M53.4 1383.4h34.7v2.8h-34.7zM53.4 1556.6h34.7v2.8h-34.7zM53.4 1562.2h34.7v2.8h-34.7zM53.4 1743.8h34.7v2.8h-34.7zM53.4 1961.7h34.7v2.8h-34.7zM53.4 2330.5h34.7v2.8h-34.7zM53.4 2336.1h34.7v2.8h-34.7zM53.4 2364.0h34.7v2.8h-34.7zM53.4 2433.9h34.7v2.8h-34.7zM88.1 1369.5h34.7v2.8h-34.7zM88.1 1405.8h34.7v2.8h-34.7zM88.1 1606.9h34.7v2.8h-34.7zM88.1 1819.2h34.7v5.6h-34.7zM88.1 1850.0h34.7v2.8h-34.7zM88.1 1864.0h34.7v2.8h-34.7zM88.1 1869.5h34.7v5.6h-34.7zM122.8 1539.9h34.7v2.8h-34.7zM122.8 1553.8h34.7v2.8h-34.7zM122.8 1640.5h34.7v2.8h-34.7zM122.8 1648.8h34.7v2.8h-34.7zM122.8 1738.2h34.7v2.8h-34.7zM122.8 2095.8h34.7v2.8h-34.7zM122.8 2101.4h34.7v2.8h-34.7zM122.8 2118.2h34.7v2.8h-34.7zM122.8 2154.5h34.7v2.8h-34.7zM122.8 2162.9h34.7v2.8h-34.7zM122.8 2193.6h34.7v2.8h-34.7zM122.8 2263.5h34.7v5.6h-34.7zM157.5 1531.5h34.7v2.8h-34.7zM157.5 1757.8h34.7v2.8h-34.7zM157.5 1875.1h34.7v2.8h-34.7zM157.5 1922.6h34.7v2.8h-34.7zM157.5 2115.4h34.7v2.8h-34.7zM157.5 2224.3h34.7v2.8h-34.7zM157.5 2229.9h34.7v2.8h-34.7zM192.2 1523.1h34.7v2.8h-34.7zM192.2 1539.9h34.7v2.8h-34.7zM192.2 1545.5h34.7v5.6h-34.7zM192.2 2053.9h34.7v2.8h-34.7zM192.2 2065.1h34.7v2.8h-34.7zM192.2 2109.8h34.7v2.8h-34.7zM192.2 2126.6h34.7v2.8h-34.7zM192.2 2227.1h34.7v2.8h-34.7zM192.2 2246.7h34.7v2.8h-34.7zM192.2 2453.4h34.7v2.8h-34.7zM192.2 2459.0h34.7v2.8h-34.7zM226.9 1358.3h34.7v2.8h-34.7zM226.9 1481.2h34.7v2.8h-34.7zM226.9 1506.4h34.7v2.8h-34.7zM226.9 1590.2h34.7v2.8h-34.7zM261.6 1363.9h34.7v2.8h-34.7zM261.6 1400.2h34.7v2.8h-34.7zM261.6 1456.1h34.7v2.8h-34.7zM261.6 1601.3h34.7v2.8h-34.7zM261.6 1701.9h34.7v2.8h-34.7zM261.6 1715.9h34.7v2.8h-34.7zM261.6 1933.8h34.7v2.8h-34.7zM261.6 1939.4h34.7v2.8h-34.7zM261.6 2042.8h34.7v2.8h-34.7zM261.6 2084.7h34.7v2.8h-34.7zM261.6 2115.4h34.7v2.8h-34.7zM261.6 2168.5h34.7v2.8h-34.7zM261.6 2224.3h34.7v2.8h-34.7zM296.3 1372.2h34.7v2.8h-34.7zM296.3 1425.3h34.7v2.8h-34.7zM296.3 1430.9h34.7v2.8h-34.7zM296.3 1752.2h34.7v2.8h-34.7zM296.3 2160.1h34.7v5.6h-34.7zM331.0 1503.6h34.7v2.8h-34.7zM331.0 2188.0h34.7v2.8h-34.7z"/>
<path fill="#fff7b3" d="M53.4 1386.2h34.7v2.8h-34.7zM53.4 1458.9h34.7v5.6h-34.7zM53.4 1478.4h34.7v2.8h-34.7zM53.4 1484.0h34.7v2.8h-34.7zM53.4 1581.8h34.7v2.8h-34.7zM53.4 1590.2h34.7v2.8h-34.7zM53.4 1606.9h34.7v5.6h-34.7zM53.4 1626.5h34.7v2.8h-34.7zM53.4 1637.7h34.7v2.8h-34.7zM53.4 1724.3h34.7v2.8h-34.7zM53.4 1741.0h34.7v2.8h-34.7zM53.4 1827.6h34.7v2.8h-34.7zM53.4 1838.8h34.7v2.8h-34.7zM53.4 1847.2h34.7v2.8h-34.7zM53.4 1858.4h34.7v2.8h-34.7zM53.4 2006.4h34.7v5.6h-34.7zM53.4 2020.4h34.7v2.8h-34.7zM53.4 2026.0h34.7v2.8h-34.7zM53.4 2034.4h34.7v2.8h-34.7zM53.4 2051.1h34.7v2.8h-34.7zM53.4 2059.5h34.7v5.6h-34.7zM53.4 2134.9h34.7v2.8h-34.7zM53.4 2207.6h34.7v2.8h-34.7zM53.4 2249.5h34.7v5.6h-34.7zM53.4 2283.0h34.7v2.8h-34.7zM53.4 2288.6h34.7v5.6h-34.7zM53.4 2459.0h34.7v2.8h-34.7zM88.1 1453.3h34.7v2.8h-34.7zM88.1 1464.4h34.7v2.8h-34.7zM88.1 1472.8h34.7v2.8h-34.7zM88.1 1548.3h34.7v2.8h-34.7zM88.1 1559.4h34.7v2.8h-34.7zM88.1 1640.5h34.7v5.6h-34.7zM88.1 1651.6h34.7v2.8h-34.7zM88.1 1665.6h34.7v2.8h-34.7zM88.1 1685.2h34.7v2.8h-34.7zM88.1 1693.5h34.7v2.8h-34.7zM88.1 1701.9h34.7v2.8h-34.7zM88.1 1710.3h34.7v2.8h-34.7zM88.1 1998.1h34.7v2.8h-34.7zM88.1 2012.0h34.7v2.8h-34.7zM88.1 2288.6h34.7v2.8h-34.7zM88.1 2322.1h34.7v5.6h-34.7zM88.1 2344.5h34.7v2.8h-34.7zM88.1 2350.1h34.7v2.8h-34.7zM88.1 2358.4h34.7v8.4h-34.7zM88.1 2400.4h34.7v2.8h-34.7zM88.1 2419.9h34.7v2.8h-34.7zM88.1 2464.6h34.7v2.8h-34.7zM122.8 1352.7h34.7v2.8h-34.7zM122.8 1363.9h34.7v5.6h-34.7zM122.8 1386.2h34.7v5.6h-34.7zM122.8 1417.0h34.7v2.8h-34.7zM122.8 1430.9h34.7v2.8h-34.7zM122.8 1444.9h34.7v2.8h-34.7zM122.8 1461.7h34.7v2.8h-34.7zM122.8 1472.8h34.7v2.8h-34.7zM122.8 1478.4h34.7v5.6h-34.7zM122.8 1503.6h34.7v2.8h-34.7zM122.8 1556.6h34.7v2.8h-34.7zM122.8 1565.0h34.7v5.6h-34.7zM122.8 1573.4h34.7v2.8h-34.7zM122.8 1581.8h34.7v2.8h-34.7zM122.8 1660.0h34.7v5.6h-34.7zM122.8 1699.1h34.7v2.8h-34.7zM122.8 1755.0h34.7v2.8h-34.7zM122.8 1970.1h34.7v2.8h-34.7zM122.8 1995.3h34.7v2.8h-34.7zM122.8 2003.6h34.7v5.6h-34.7zM122.8 2056.7h34.7v2.8h-34.7zM122.8 2207.6h34.7v2.8h-34.7zM122.8 2238.3h34.7v2.8h-34.7zM122.8 2243.9h34.7v2.8h-34.7zM122.8 2280.2h34.7v2.8h-34.7zM122.8 2355.7h34.7v2.8h-34.7zM157.5 1352.7h34.7v2.8h-34.7zM157.5 1386.2h34.7v2.8h-34.7zM157.5 1394.6h34.7v2.8h-34.7zM157.5 1400.2h34.7v8.4h-34.7zM157.5 1433.7h34.7v2.8h-34.7zM157.5 1472.8h34.7v2.8h-34.7zM157.5 1506.4h34.7v5.6h-34.7zM157.5 1562.2h34.7v2.8h-34.7zM157.5 1567.8h34.7v2.8h-34.7zM157.5 1579.0h34.7v2.8h-34.7zM157.5 1595.8h34.7v2.8h-34.7zM157.5 1643.2h34.7v2.8h-34.7zM157.5 1715.9h34.7v2.8h-34.7zM157.5 1794.1h34.7v2.8h-34.7zM157.5 1810.9h34.7v2.8h-34.7zM157.5 1824.8h34.7v2.8h-34.7zM157.5 1847.2h34.7v2.8h-34.7zM157.5 1894.7h34.7v2.8h-34.7zM157.5 1917.0h34.7v2.8h-34.7zM157.5 1931.0h34.7v2.8h-34.7zM157.5 2255.1h34.7v5.6h-34.7zM157.5 2263.5h34.7v5.6h-34.7zM157.5 2271.8h34.7v2.8h-34.7zM157.5 2291.4h34.7v2.8h-34.7zM157.5 2392.0h34.7v2.8h-34.7zM157.5 2400.4h34.7v2.8h-34.7zM192.2 1386.2h34.7v2.8h-34.7zM192.2 1417.0h34.7v2.8h-34.7zM192.2 1425.3h34.7v2.8h-34.7zM192.2 1433.7h34.7v2.8h-34.7zM192.2 1450.5h34.7v5.6h-34.7zM192.2 1517.5h34.7v2.8h-34.7zM192.2 1559.4h34.7v2.8h-34.7zM192.2 1565.0h34.7v2.8h-34.7zM192.2 1584.6h34.7v2.8h-34.7zM192.2 1615.3h34.7v5.6h-34.7zM192.2 1623.7h34.7v2.8h-34.7zM192.2 1640.5h34.7v5.6h-34.7zM192.2 1651.6h34.7v2.8h-34.7zM192.2 1662.8h34.7v2.8h-34.7zM192.2 1668.4h34.7v2.8h-34.7zM192.2 1676.8h34.7v2.8h-34.7zM192.2 1743.8h34.7v5.6h-34.7zM192.2 1760.6h34.7v2.8h-34.7zM192.2 1796.9h34.7v2.8h-34.7zM192.2 1805.3h34.7v2.8h-34.7zM192.2 1822.0h34.7v2.8h-34.7zM192.2 1827.6h34.7v2.8h-34.7zM192.2 1850.0h34.7v2.8h-34.7zM192.2 1861.2h34.7v8.4h-34.7zM192.2 1875.1h34.7v2.8h-34.7zM192.2 1889.1h34.7v2.8h-34.7zM192.2 2285.8h34.7v2.8h-34.7zM192.2 2316.5h34.7v2.8h-34.7zM192.2 2333.3h34.7v2.8h-34.7zM192.2 2338.9h34.7v2.8h-34.7zM192.2 2347.3h34.7v2.8h-34.7zM192.2 2369.6h34.7v2.8h-34.7zM192.2 2375.2h34.7v2.8h-34.7zM192.2 2394.8h34.7v5.6h-34.7zM192.2 2403.1h34.7v2.8h-34.7zM192.2 2417.1h34.7v2.8h-34.7zM192.2 2428.3h34.7v2.8h-34.7zM226.9 1383.4h34.7v2.8h-34.7zM226.9 1414.2h34.7v5.6h-34.7zM226.9 1433.7h34.7v2.8h-34.7zM226.9 1559.4h34.7v5.6h-34.7zM226.9 1570.6h34.7v2.8h-34.7zM226.9 1601.3h34.7v2.8h-34.7zM226.9 1618.1h34.7v2.8h-34.7zM226.9 1662.8h34.7v5.6h-34.7zM226.9 1816.5h34.7v2.8h-34.7zM226.9 1838.8h34.7v2.8h-34.7zM226.9 1877.9h34.7v2.8h-34.7zM226.9 1886.3h34.7v2.8h-34.7zM226.9 1894.7h34.7v2.8h-34.7zM226.9 2076.3h34.7v2.8h-34.7zM226.9 2123.8h34.7v2.8h-34.7zM226.9 2129.4h34.7v2.8h-34.7zM226.9 2140.5h34.7v2.8h-34.7zM226.9 2154.5h34.7v2.8h-34.7zM226.9 2277.4h34.7v2.8h-34.7zM226.9 2288.6h34.7v2.8h-34.7zM261.6 1422.5h34.7v2.8h-34.7zM261.6 1430.9h34.7v2.8h-34.7zM261.6 1464.4h34.7v2.8h-34.7zM261.6 1511.9h34.7v2.8h-34.7zM261.6 1660.0h34.7v2.8h-34.7zM261.6 1668.4h34.7v2.8h-34.7zM261.6 1707.5h34.7v2.8h-34.7zM261.6 1755.0h34.7v2.8h-34.7zM261.6 1872.3h34.7v2.8h-34.7zM261.6 1891.9h34.7v2.8h-34.7zM261.6 1914.2h34.7v2.8h-34.7zM261.6 1972.9h34.7v2.8h-34.7zM261.6 1981.3h34.7v2.8h-34.7zM261.6 2003.6h34.7v2.8h-34.7zM261.6 2009.2h34.7v8.4h-34.7zM261.6 2020.4h34.7v2.8h-34.7zM261.6 2079.1h34.7v2.8h-34.7zM261.6 2090.2h34.7v2.8h-34.7zM261.6 2134.9h34.7v2.8h-34.7zM261.6 2218.8h34.7v2.8h-34.7zM296.3 1349.9h34.7v2.8h-34.7zM296.3 1408.6h34.7v2.8h-34.7zM296.3 1481.2h34.7v2.8h-34.7zM296.3 1489.6h34.7v2.8h-34.7zM296.3 1514.7h34.7v2.8h-34.7zM296.3 1520.3h34.7v8.4h-34.7zM296.3 1534.3h34.7v2.8h-34.7zM296.3 1579.0h34.7v2.8h-34.7zM296.3 1629.3h34.7v2.8h-34.7zM296.3 2073.5h34.7v2.8h-34.7zM296.3 2129.4h34.7v8.4h-34.7zM296.3 2143.3h34.7v2.8h-34.7zM296.3 2148.9h34.7v2.8h-34.7zM296.3 2263.5h34.7v2.8h-34.7zM296.3 2283.0h34.7v5.6h-34.7zM296.3 2294.2h34.7v2.8h-34.7zM331.0 1380.6h34.7v2.8h-34.7zM331.0 1576.2h34.7v2.8h-34.7zM331.0 1593.0h34.7v2.8h-34.7zM331.0 1609.7h34.7v2.8h-34.7zM331.0 1615.3h34.7v2.8h-34.7zM331.0 1774.6h34.7v2.8h-34.7zM331.0 2132.2h34.7v2.8h-34.7z"/>
<path fill="#ecf8e2" d="M53.4 1389.0h34.7v5.6h-34.7zM53.4 1403.0h34.7v2.8h-34.7zM53.4 1411.4h34.7v2.8h-34.7zM53.4 1425.3h34.7v2.8h-34.7zM53.4 1958.9h34.7v2.8h-34.7zM53.4 2003.6h34.7v2.8h-34.7zM53.4 2350.1h34.7v2.8h-34.7zM53.4 2372.4h34.7v2.8h-34.7zM88.1 1349.9h34.7v2.8h-34.7zM88.1 1380.6h34.7v2.8h-34.7zM88.1 1422.5h34.7v2.8h-34.7zM88.1 1498.0h34.7v2.8h-34.7zM88.1 1791.3h34.7v2.8h-34.7zM88.1 1855.6h34.7v8.4h-34.7zM88.1 1875.1h34.7v5.6h-34.7zM122.8 1531.5h34.7v2.8h-34.7zM122.8 1654.4h34.7v2.8h-34.7zM122.8 2087.5h34.7v5.6h-34.7zM122.8 2112.6h34.7v2.8h-34.7zM122.8 2171.3h34.7v2.8h-34.7zM122.8 2188.0h34.7v2.8h-34.7zM122.8 2260.7h34.7v2.8h-34.7zM157.5 1520.3h34.7v2.8h-34.7zM157.5 1724.3h34.7v2.8h-34.7zM157.5 1897.5h34.7v2.8h-34.7zM157.5 1939.4h34.7v2.8h-34.7zM157.5 2148.9h34.7v2.8h-34.7zM157.5 2227.1h34.7v2.8h-34.7zM157.5 2243.9h34.7v2.8h-34.7zM192.2 1503.6h34.7v2.8h-34.7zM192.2 1970.1h34.7v2.8h-34.7zM192.2 2026.0h34.7v2.8h-34.7zM192.2 2045.5h34.7v2.8h-34.7zM192.2 2210.4h34.7v2.8h-34.7zM192.2 2241.1h34.7v2.8h-34.7zM192.2 2280.2h34.7v2.8h-34.7zM192.2 2442.3h34.7v2.8h-34.7zM192.2 2456.2h34.7v2.8h-34.7zM226.9 1428.1h34.7v2.8h-34.7zM226.9 1517.5h34.7v2.8h-34.7zM226.9 1523.1h34.7v5.6h-34.7zM226.9 1545.5h34.7v2.8h-34.7zM226.9 1581.8h34.7v2.8h-34.7zM261.6 1372.2h34.7v2.8h-34.7zM261.6 1391.8h34.7v2.8h-34.7zM261.6 1403.0h34.7v2.8h-34.7zM261.6 1713.1h34.7v2.8h-34.7zM261.6 1729.9h34.7v2.8h-34.7zM261.6 2051.1h34.7v2.8h-34.7zM261.6 2132.2h34.7v2.8h-34.7zM296.3 1422.5h34.7v2.8h-34.7zM296.3 1509.1h34.7v2.8h-34.7zM296.3 1612.5h34.7v2.8h-34.7zM296.3 1671.2h34.7v2.8h-34.7zM296.3 1824.8h34.7v2.8h-34.7zM296.3 1864.0h34.7v2.8h-34.7zM296.3 2098.6h34.7v5.6h-34.7zM296.3 2151.7h34.7v2.8h-34.7zM331.0 1525.9h34.7v2.8h-34.7zM331.0 1682.4h34.7v2.8h-34.7zM331.0 2137.7h34.7v2.8h-34.7z"/>
<path fill="#f7fcce" d="M53.4 1394.6h34.7v2.8h-34.7zM53.4 1414.2h34.7v2.8h-34.7zM53.4 1436.5h34.7v2.8h-34.7zM53.4 1565.0h34.7v2.8h-34.7zM53.4 1570.6h34.7v2.8h-34.7zM53.4 1598.5h34.7v2.8h-34.7zM53.4 1855.6h34.7v2.8h-34.7zM53.4 1950.6h34.7v2.8h-34.7zM53.4 2014.8h34.7v2.8h-34.7zM53.4 2232.7h34.7v2.8h-34.7zM53.4 2238.3h34.7v2.8h-34.7zM88.1 1475.6h34.7v2.8h-34.7zM88.1 1489.6h34.7v2.8h-34.7zM88.1 1523.1h34.7v2.8h-34.7zM88.1 1537.1h34.7v2.8h-34.7zM88.1 1581.8h34.7v2.8h-34.7zM88.1 1595.8h34.7v2.8h-34.7zM88.1 1646.0h34.7v2.8h-34.7zM88.1 1824.8h34.7v2.8h-34.7zM88.1 1841.6h34.7v2.8h-34.7zM88.1 1897.5h34.7v2.8h-34.7zM88.1 1919.8h34.7v2.8h-34.7zM88.1 2313.7h34.7v2.8h-34.7zM122.8 1403.0h34.7v2.8h-34.7zM122.8 1514.7h34.7v2.8h-34.7zM122.8 1523.1h34.7v2.8h-34.7zM122.8 1626.5h34.7v8.4h-34.7zM122.8 1637.7h34.7v2.8h-34.7zM122.8 1643.2h34.7v2.8h-34.7zM122.8 2042.8h34.7v2.8h-34.7zM122.8 2107.0h34.7v2.8h-34.7zM122.8 2115.4h34.7v2.8h-34.7zM122.8 2134.9h34.7v2.8h-34.7zM122.8 2196.4h34.7v2.8h-34.7zM122.8 2302.6h34.7v2.8h-34.7zM157.5 1442.1h34.7v2.8h-34.7zM157.5 1486.8h34.7v5.6h-34.7zM157.5 1651.6h34.7v2.8h-34.7zM157.5 1889.1h34.7v2.8h-34.7zM157.5 1961.7h34.7v2.8h-34.7zM157.5 2134.9h34.7v5.6h-34.7zM157.5 2160.1h34.7v2.8h-34.7zM157.5 2213.2h34.7v2.8h-34.7zM157.5 2232.7h34.7v2.8h-34.7zM192.2 1486.8h34.7v2.8h-34.7zM192.2 1537.1h34.7v2.8h-34.7zM192.2 2062.3h34.7v2.8h-34.7zM192.2 2269.0h34.7v2.8h-34.7zM192.2 2433.9h34.7v2.8h-34.7zM192.2 2450.6h34.7v2.8h-34.7zM192.2 2461.8h34.7v2.8h-34.7zM226.9 1361.1h34.7v2.8h-34.7zM226.9 1366.7h34.7v2.8h-34.7zM226.9 1405.8h34.7v2.8h-34.7zM226.9 1528.7h34.7v2.8h-34.7zM226.9 1537.1h34.7v2.8h-34.7zM226.9 2160.1h34.7v2.8h-34.7zM226.9 2168.5h34.7v2.8h-34.7zM261.6 1405.8h34.7v2.8h-34.7zM261.6 1458.9h34.7v2.8h-34.7zM261.6 1503.6h34.7v2.8h-34.7zM261.6 1562.2h34.7v2.8h-34.7zM261.6 1584.6h34.7v2.8h-34.7zM261.6 1704.7h34.7v2.8h-34.7zM261.6 1710.3h34.7v2.8h-34.7zM261.6 1718.7h34.7v2.8h-34.7zM261.6 1791.3h34.7v5.6h-34.7zM261.6 1808.1h34.7v2.8h-34.7zM261.6 1875.1h34.7v2.8h-34.7zM261.6 1897.5h34.7v2.8h-34.7zM261.6 1911.4h34.7v2.8h-34.7zM261.6 2065.1h34.7v2.8h-34.7zM261.6 2129.4h34.7v2.8h-34.7zM261.6 2257.9h34.7v2.8h-34.7zM261.6 2269.0h34.7v2.8h-34.7zM296.3 1389.0h34.7v2.8h-34.7zM296.3 1486.8h34.7v2.8h-34.7zM296.3 1746.6h34.7v5.6h-34.7zM296.3 1827.6h34.7v2.8h-34.7zM296.3 1897.5h34.7v2.8h-34.7zM296.3 1939.4h34.7v2.8h-34.7zM296.3 1947.8h34.7v2.8h-34.7zM296.3 2112.6h34.7v2.8h-34.7zM296.3 2126.6h34.7v2.8h-34.7zM296.3 2171.3h34.7v2.8h-34.7zM296.3 2188.0h34.7v2.8h-34.7zM296.3 2196.4h34.7v2.8h-34.7zM331.0 1579.0h34.7v2.8h-34.7zM331.0 1595.8h34.7v5.6h-34.7zM331.0 1604.1h34.7v2.8h-34.7zM331.0 1662.8h34.7v2.8h-34.7zM331.0 1945.0h34.7v2.8h-34.7zM331.0 2134.9h34.7v2.8h-34.7zM331.0 2146.1h34.7v2.8h-34.7z"/>
<path fill="#e0f3f8" d="M53.4 1400.2h34.7v2.8h-34.7zM53.4 1604.1h34.7v2.8h-34.7zM53.4 1791.3h34.7v2.8h-34.7zM53.4 1813.7h34.7v2.8h-34.7zM53.4 1875.1h34.7v8.4h-34.7zM53.4 1919.8h34.7v2.8h-34.7zM53.4 2341.7h34.7v2.8h-34.7zM88.1 1352.7h34.7v2.8h-34.7zM88.1 1375.0h34.7v2.8h-34.7zM88.1 1408.6h34.7v8.4h-34.7zM88.1 1419.7h34.7v2.8h-34.7zM88.1 1430.9h34.7v2.8h-34.7zM88.1 1601.3h34.7v2.8h-34.7zM88.1 1808.1h34.7v2.8h-34.7zM88.1 1813.7h34.7v2.8h-34.7zM88.1 1844.4h34.7v2.8h-34.7zM122.8 1657.2h34.7v2.8h-34.7zM122.8 1721.5h34.7v2.8h-34.7zM122.8 2132.2h34.7v2.8h-34.7zM122.8 2165.7h34.7v2.8h-34.7zM122.8 2182.4h34.7v2.8h-34.7zM122.8 2249.5h34.7v2.8h-34.7zM157.5 1729.9h34.7v2.8h-34.7zM157.5 1766.2h34.7v2.8h-34.7zM157.5 2171.3h34.7v2.8h-34.7zM157.5 2176.9h34.7v2.8h-34.7zM157.5 2182.4h34.7v2.8h-34.7zM157.5 2199.2h34.7v2.8h-34.7zM157.5 2216.0h34.7v2.8h-34.7zM157.5 2417.1h34.7v2.8h-34.7zM192.2 1447.7h34.7v2.8h-34.7zM192.2 1542.7h34.7v2.8h-34.7zM192.2 1981.3h34.7v2.8h-34.7zM192.2 2020.4h34.7v2.8h-34.7zM192.2 2048.3h34.7v2.8h-34.7zM192.2 2160.1h34.7v2.8h-34.7zM192.2 2179.6h34.7v2.8h-34.7zM192.2 2204.8h34.7v2.8h-34.7zM192.2 2243.9h34.7v2.8h-34.7zM192.2 2257.9h34.7v2.8h-34.7zM226.9 1352.7h34.7v2.8h-34.7zM226.9 1372.2h34.7v2.8h-34.7zM226.9 1509.1h34.7v2.8h-34.7zM226.9 1584.6h34.7v2.8h-34.7zM261.6 1349.9h34.7v5.6h-34.7zM261.6 1366.7h34.7v2.8h-34.7zM261.6 1472.8h34.7v2.8h-34.7zM261.6 1478.4h34.7v2.8h-34.7zM261.6 1598.5h34.7v2.8h-34.7zM261.6 1606.9h34.7v2.8h-34.7zM261.6 1612.5h34.7v2.8h-34.7zM261.6 1936.6h34.7v2.8h-34.7zM261.6 2045.5h34.7v2.8h-34.7zM261.6 2059.5h34.7v2.8h-34.7zM261.6 2101.4h34.7v2.8h-34.7zM261.6 2107.0h34.7v8.4h-34.7zM261.6 2154.5h34.7v2.8h-34.7zM296.3 1417.0h34.7v2.8h-34.7zM296.3 1651.6h34.7v2.8h-34.7zM296.3 1931.0h34.7v2.8h-34.7zM296.3 1936.6h34.7v2.8h-34.7zM296.3 1942.2h34.7v2.8h-34.7zM296.3 2375.2h34.7v2.8h-34.7zM331.0 1498.0h34.7v5.6h-34.7zM331.0 1511.9h34.7v2.8h-34.7zM331.0 1517.5h34.7v2.8h-34.7zM331.0 1534.3h34.7v2.8h-34.7zM331.0 1542.7h34.7v5.6h-34.7zM331.0 1648.8h34.7v2.8h-34.7zM331.0 1685.2h34.7v2.8h-34.7zM331.0 1844.4h34.7v2.8h-34.7zM331.0 1947.8h34.7v2.8h-34.7zM331.0 2168.5h34.7v2.8h-34.7zM331.0 2196.4h34.7v2.8h-34.7zM331.0 2227.1h34.7v2.8h-34.7z"/>
<path fill="#e4f4f1" d="M53.4 1408.6h34.7v2.8h-34.7zM53.4 1422.5h34.7v2.8h-34.7zM53.4 1428.1h34.7v2.8h-34.7zM53.4 1559.4h34.7v2.8h-34.7zM53.4 2344.5h34.7v2.8h-34.7zM53.4 2355.7h34.7v2.8h-34.7zM53.4 2419.9h34.7v2.8h-34.7zM88.1 1358.3h34.7v2.8h-34.7zM88.1 1372.2h34.7v2.8h-34.7zM88.1 1433.7h34.7v2.8h-34.7zM88.1 1509.1h34.7v2.8h-34.7zM88.1 1525.9h34.7v2.8h-34.7zM88.1 1556.6h34.7v2.8h-34.7zM88.1 1593.0h34.7v2.8h-34.7zM122.8 1439.3h34.7v2.8h-34.7zM122.8 1534.3h34.7v5.6h-34.7zM122.8 1548.3h34.7v2.8h-34.7zM122.8 2093.0h34.7v2.8h-34.7zM122.8 2121.0h34.7v2.8h-34.7zM122.8 2160.1h34.7v2.8h-34.7zM122.8 2168.5h34.7v2.8h-34.7zM122.8 2269.0h34.7v2.8h-34.7zM157.5 2084.7h34.7v2.8h-34.7zM157.5 2109.8h34.7v2.8h-34.7zM157.5 2126.6h34.7v2.8h-34.7zM157.5 2210.4h34.7v2.8h-34.7zM157.5 2408.7h34.7v2.8h-34.7zM192.2 1498.0h34.7v5.6h-34.7zM192.2 2037.2h34.7v2.8h-34.7zM192.2 2056.7h34.7v2.8h-34.7zM192.2 2121.0h34.7v2.8h-34.7zM192.2 2140.5h34.7v2.8h-34.7zM192.2 2260.7h34.7v2.8h-34.7zM226.9 1369.5h34.7v2.8h-34.7zM226.9 1484.0h34.7v2.8h-34.7zM226.9 1511.9h34.7v2.8h-34.7zM226.9 1542.7h34.7v2.8h-34.7zM226.9 1553.8h34.7v2.8h-34.7zM226.9 1587.4h34.7v2.8h-34.7zM261.6 1369.5h34.7v2.8h-34.7zM261.6 1942.2h34.7v2.8h-34.7zM261.6 1947.8h34.7v2.8h-34.7zM261.6 2056.7h34.7v2.8h-34.7zM261.6 2098.6h34.7v2.8h-34.7zM261.6 2157.3h34.7v2.8h-34.7zM261.6 2165.7h34.7v2.8h-34.7zM261.6 2260.7h34.7v2.8h-34.7zM296.3 1654.4h34.7v5.6h-34.7zM296.3 1950.6h34.7v2.8h-34.7zM296.3 2249.5h34.7v2.8h-34.7zM296.3 2369.6h34.7v2.8h-34.7zM296.3 2380.8h34.7v2.8h-34.7zM331.0 1514.7h34.7v2.8h-34.7zM331.0 1520.3h34.7v2.8h-34.7zM331.0 1531.5h34.7v2.8h-34.7zM331.0 2257.9h34.7v5.6h-34.7z"/>
<path fill="#e7f6eb" d="M53.4 1419.7h34.7v2.8h-34.7zM53.4 1433.7h34.7v2.8h-34.7zM53.4 1567.8h34.7v2.8h-34.7zM53.4 1595.8h34.7v2.8h-34.7zM53.4 1665.6h34.7v2.8h-34.7zM53.4 1710.3h34.7v2.8h-34.7zM53.4 1715.9h34.7v2.8h-34.7zM53.4 1897.5h34.7v2.8h-34.7zM53.4 1917.0h34.7v2.8h-34.7zM53.4 1956.1h34.7v2.8h-34.7zM53.4 2352.9h34.7v2.8h-34.7zM88.1 1363.9h34.7v2.8h-34.7zM88.1 1383.4h34.7v2.8h-34.7zM88.1 1400.2h34.7v2.8h-34.7zM88.1 1428.1h34.7v2.8h-34.7zM88.1 1506.4h34.7v2.8h-34.7zM88.1 1539.9h34.7v2.8h-34.7zM88.1 1788.5h34.7v2.8h-34.7zM122.8 2076.3h34.7v2.8h-34.7zM122.8 2081.9h34.7v2.8h-34.7zM122.8 2137.7h34.7v2.8h-34.7zM122.8 2157.3h34.7v2.8h-34.7zM157.5 1735.4h34.7v2.8h-34.7zM157.5 1760.6h34.7v2.8h-34.7zM157.5 1782.9h34.7v2.8h-34.7zM157.5 2000.8h34.7v5.6h-34.7zM157.5 2140.5h34.7v2.8h-34.7zM157.5 2157.3h34.7v2.8h-34.7zM157.5 2218.8h34.7v2.8h-34.7zM157.5 2369.6h34.7v2.8h-34.7zM192.2 2017.6h34.7v2.8h-34.7zM192.2 2023.2h34.7v2.8h-34.7zM192.2 2059.5h34.7v2.8h-34.7zM192.2 2132.2h34.7v2.8h-34.7zM192.2 2137.7h34.7v2.8h-34.7zM192.2 2148.9h34.7v2.8h-34.7zM192.2 2176.9h34.7v2.8h-34.7zM192.2 2232.7h34.7v2.8h-34.7zM192.2 2238.3h34.7v2.8h-34.7zM192.2 2464.6h34.7v2.8h-34.7zM226.9 1355.5h34.7v2.8h-34.7zM226.9 1520.3h34.7v2.8h-34.7zM226.9 1576.2h34.7v2.8h-34.7zM261.6 1394.6h34.7v2.8h-34.7zM261.6 1604.1h34.7v2.8h-34.7zM261.6 2160.1h34.7v2.8h-34.7zM296.3 1419.7h34.7v2.8h-34.7zM296.3 1433.7h34.7v2.8h-34.7zM296.3 1693.5h34.7v2.8h-34.7zM296.3 1894.7h34.7v2.8h-34.7zM296.3 2118.2h34.7v2.8h-34.7zM296.3 2154.5h34.7v2.8h-34.7zM331.0 1537.1h34.7v2.8h-34.7zM331.0 1676.8h34.7v2.8h-34.7zM331.0 1933.8h34.7v2.8h-34.7z"/>
<path fill="#fa9656" d="M53.4 1439.3h34.7v2.8h-34.7zM88.1 2168.5h34.7v2.8h-34.7zM192.2 1905.9h34.7v2.8h-34.7zM226.9 1989.7h34.7v2.8h-34.7zM226.9 2302.6h34.7v2.8h-34.7zM226.9 2347.3h34.7v2.8h-34.7zM226.9 2436.7h34.7v2.8h-34.7zM261.6 2352.9h34.7v2.8h-34.7z"/>
<path fill="#fee496" d="M53.4 1442.1h34.7v2.8h-34.7zM53.4 1492.4h34.7v2.8h-34.7zM53.4 1509.1h34.7v5.6h-34.7zM53.4 2081.9h34.7v2.8h-34.7zM53.4 2168.5h34.7v2.8h-34.7zM53.4 2204.8h34.7v2.8h-34.7zM53.4 2280.2h34.7v2.8h-34.7zM88.1 1755.0h34.7v2.8h-34.7zM88.1 1763.4h34.7v2.8h-34.7zM88.1 1964.5h34.7v2.8h-34.7zM88.1 2014.8h34.7v8.4h-34.7zM88.1 2034.4h34.7v2.8h-34.7zM88.1 2059.5h34.7v2.8h-34.7zM88.1 2202.0h34.7v2.8h-34.7zM88.1 2213.2h34.7v2.8h-34.7zM88.1 2218.8h34.7v2.8h-34.7zM88.1 2224.3h34.7v2.8h-34.7zM88.1 2235.5h34.7v2.8h-34.7zM88.1 2252.3h34.7v2.8h-34.7zM88.1 2394.8h34.7v2.8h-34.7zM88.1 2414.3h34.7v2.8h-34.7zM88.1 2433.9h34.7v2.8h-34.7zM88.1 2439.5h34.7v2.8h-34.7zM122.8 1453.3h34.7v2.8h-34.7zM122.8 1620.9h34.7v2.8h-34.7zM122.8 1780.1h34.7v2.8h-34.7zM122.8 1791.3h34.7v2.8h-34.7zM122.8 1850.0h34.7v2.8h-34.7zM122.8 1891.9h34.7v2.8h-34.7zM122.8 1897.5h34.7v2.8h-34.7zM122.8 1903.1h34.7v2.8h-34.7zM122.8 1908.7h34.7v2.8h-34.7zM122.8 1919.8h34.7v2.8h-34.7zM122.8 2014.8h34.7v2.8h-34.7zM122.8 2028.8h34.7v2.8h-34.7zM122.8 2324.9h34.7v2.8h-34.7zM122.8 2336.1h34.7v2.8h-34.7zM122.8 2414.3h34.7v2.8h-34.7zM122.8 2431.1h34.7v2.8h-34.7zM122.8 2453.4h34.7v2.8h-34.7zM122.8 2459.0h34.7v2.8h-34.7zM157.5 1355.5h34.7v2.8h-34.7zM157.5 1391.8h34.7v2.8h-34.7zM157.5 1408.6h34.7v2.8h-34.7zM157.5 1584.6h34.7v2.8h-34.7zM157.5 1679.6h34.7v2.8h-34.7zM157.5 1685.2h34.7v2.8h-34.7zM157.5 1699.1h34.7v2.8h-34.7zM192.2 1383.4h34.7v2.8h-34.7zM192.2 1414.2h34.7v2.8h-34.7zM192.2 1458.9h34.7v2.8h-34.7zM192.2 1713.1h34.7v2.8h-34.7zM192.2 1732.6h34.7v2.8h-34.7zM192.2 2283.0h34.7v2.8h-34.7zM226.9 1637.7h34.7v2.8h-34.7zM226.9 1707.5h34.7v2.8h-34.7zM226.9 1732.6h34.7v8.4h-34.7zM226.9 1833.2h34.7v2.8h-34.7zM226.9 1844.4h34.7v2.8h-34.7zM226.9 1883.5h34.7v2.8h-34.7zM226.9 1908.7h34.7v2.8h-34.7zM226.9 1970.1h34.7v2.8h-34.7zM226.9 2040.0h34.7v2.8h-34.7zM226.9 2095.8h34.7v2.8h-34.7zM226.9 2115.4h34.7v5.6h-34.7zM226.9 2238.3h34.7v2.8h-34.7zM226.9 2249.5h34.7v2.8h-34.7zM226.9 2257.9h34.7v2.8h-34.7zM261.6 1375.0h34.7v2.8h-34.7zM261.6 1676.8h34.7v2.8h-34.7zM261.6 1687.9h34.7v2.8h-34.7zM261.6 1746.6h34.7v2.8h-34.7zM261.6 1780.1h34.7v2.8h-34.7zM261.6 1950.6h34.7v2.8h-34.7zM261.6 1958.9h34.7v2.8h-34.7zM261.6 2193.6h34.7v2.8h-34.7zM261.6 2327.7h34.7v2.8h-34.7zM261.6 2333.3h34.7v2.8h-34.7zM261.6 2419.9h34.7v5.6h-34.7zM261.6 2450.6h34.7v2.8h-34.7zM261.6 2456.2h34.7v2.8h-34.7zM296.3 1472.8h34.7v2.8h-34.7zM296.3 1587.4h34.7v2.8h-34.7zM331.0 1467.2h34.7v2.8h-34.7zM331.0 1492.4h34.7v2.8h-34.7zM331.0 1707.5h34.7v2.8h-34.7zM331.0 1755.0h34.7v2.8h-34.7zM331.0 1788.5h34.7v2.8h-34.7z"/>
<path fill="#feeba1" d="M53.4 1444.9h34.7v2.8h-34.7zM53.4 1506.4h34.7v2.8h-34.7zM53.4 1517.5h34.7v8.4h-34.7zM53.4 1864.0h34.7v2.8h-34.7zM53.4 2056.7h34.7v2.8h-34.7zM53.4 2121.0h34.7v5.6h-34.7zM53.4 2129.4h34.7v2.8h-34.7zM53.4 2165.7h34.7v2.8h-34.7zM53.4 2174.1h34.7v2.8h-34.7zM53.4 2263.5h34.7v2.8h-34.7zM53.4 2322.1h34.7v2.8h-34.7zM88.1 1442.1h34.7v2.8h-34.7zM88.1 1735.4h34.7v2.8h-34.7zM88.1 1769.0h34.7v2.8h-34.7zM88.1 1777.3h34.7v2.8h-34.7zM88.1 2084.7h34.7v2.8h-34.7zM88.1 2093.0h34.7v2.8h-34.7zM88.1 2308.2h34.7v2.8h-34.7zM88.1 2369.6h34.7v2.8h-34.7zM88.1 2397.6h34.7v2.8h-34.7zM88.1 2405.9h34.7v2.8h-34.7zM88.1 2436.7h34.7v2.8h-34.7zM88.1 2445.1h34.7v2.8h-34.7zM122.8 1458.9h34.7v2.8h-34.7zM122.8 1559.4h34.7v2.8h-34.7zM122.8 1598.5h34.7v2.8h-34.7zM122.8 1604.1h34.7v2.8h-34.7zM122.8 1618.1h34.7v2.8h-34.7zM122.8 1676.8h34.7v2.8h-34.7zM122.8 1685.2h34.7v2.8h-34.7zM122.8 1704.7h34.7v2.8h-34.7zM122.8 1710.3h34.7v2.8h-34.7zM122.8 1771.8h34.7v2.8h-34.7zM122.8 1998.1h34.7v2.8h-34.7zM122.8 2202.0h34.7v2.8h-34.7zM122.8 2308.2h34.7v5.6h-34.7zM122.8 2333.3h34.7v2.8h-34.7zM122.8 2352.9h34.7v2.8h-34.7zM122.8 2375.2h34.7v2.8h-34.7zM122.8 2383.6h34.7v2.8h-34.7zM122.8 2392.0h34.7v2.8h-34.7zM122.8 2411.5h34.7v2.8h-34.7zM122.8 2422.7h34.7v2.8h-34.7zM122.8 2447.8h34.7v2.8h-34.7zM157.5 1556.6h34.7v2.8h-34.7zM157.5 1587.4h34.7v2.8h-34.7zM157.5 1601.3h34.7v2.8h-34.7zM157.5 1615.3h34.7v2.8h-34.7zM157.5 1662.8h34.7v2.8h-34.7zM157.5 1668.4h34.7v2.8h-34.7zM157.5 1690.7h34.7v2.8h-34.7zM157.5 1701.9h34.7v2.8h-34.7zM157.5 1822.0h34.7v2.8h-34.7zM157.5 1830.4h34.7v2.8h-34.7zM157.5 1836.0h34.7v2.8h-34.7zM192.2 1352.7h34.7v5.6h-34.7zM192.2 1391.8h34.7v2.8h-34.7zM192.2 1408.6h34.7v2.8h-34.7zM192.2 1609.7h34.7v2.8h-34.7zM192.2 1660.0h34.7v2.8h-34.7zM192.2 1707.5h34.7v5.6h-34.7zM192.2 1715.9h34.7v2.8h-34.7zM192.2 1721.5h34.7v2.8h-34.7zM192.2 1741.0h34.7v2.8h-34.7zM192.2 1782.9h34.7v2.8h-34.7zM192.2 1802.5h34.7v2.8h-34.7zM192.2 2372.4h34.7v2.8h-34.7zM226.9 1643.2h34.7v2.8h-34.7zM226.9 1676.8h34.7v2.8h-34.7zM226.9 1685.2h34.7v2.8h-34.7zM226.9 1696.3h34.7v2.8h-34.7zM226.9 1729.9h34.7v2.8h-34.7zM226.9 1847.2h34.7v5.6h-34.7zM226.9 1861.2h34.7v2.8h-34.7zM226.9 1866.7h34.7v2.8h-34.7zM226.9 1900.3h34.7v2.8h-34.7zM226.9 2093.0h34.7v2.8h-34.7zM226.9 2109.8h34.7v2.8h-34.7zM226.9 2204.8h34.7v2.8h-34.7zM226.9 2218.8h34.7v2.8h-34.7zM226.9 2224.3h34.7v2.8h-34.7zM226.9 2229.9h34.7v2.8h-34.7zM226.9 2246.7h34.7v2.8h-34.7zM261.6 1486.8h34.7v2.8h-34.7zM261.6 1634.9h34.7v2.8h-34.7zM261.6 1646.0h34.7v2.8h-34.7zM261.6 1674.0h34.7v2.8h-34.7zM261.6 1774.6h34.7v5.6h-34.7zM261.6 1953.4h34.7v2.8h-34.7zM261.6 1961.7h34.7v2.8h-34.7zM261.6 2453.4h34.7v2.8h-34.7zM296.3 1498.0h34.7v2.8h-34.7zM296.3 1511.9h34.7v2.8h-34.7zM296.3 1556.6h34.7v2.8h-34.7zM296.3 1567.8h34.7v2.8h-34.7zM296.3 1573.4h34.7v2.8h-34.7zM296.3 1626.5h34.7v2.8h-34.7zM331.0 1464.4h34.7v2.8h-34.7zM331.0 1623.7h34.7v2.8h-34.7zM331.0 1721.5h34.7v2.8h-34.7zM331.0 1732.6h34.7v2.8h-34.7zM331.0 1741.0h34.7v2.8h-34.7zM331.0 1752.2h34.7v2.8h-34.7z"/>
<path fill="#fff3ad" d="M53.4 1447.7h34.7v2.8h-34.7zM53.4 1456.1h34.7v2.8h-34.7zM53.4 1481.2h34.7v2.8h-34.7zM53.4 1486.8h34.7v2.8h-34.7zM53.4 1579.0h34.7v2.8h-34.7zM53.4 1830.4h34.7v2.8h-34.7zM53.4 1861.2h34.7v2.8h-34.7zM53.4 1866.7h34.7v2.8h-34.7zM53.4 1998.1h34.7v2.8h-34.7zM53.4 2031.6h34.7v2.8h-34.7zM53.4 2042.8h34.7v2.8h-34.7zM53.4 2065.1h34.7v2.8h-34.7zM53.4 2143.3h34.7v5.6h-34.7zM53.4 2176.9h34.7v2.8h-34.7zM53.4 2182.4h34.7v2.8h-34.7zM53.4 2218.8h34.7v2.8h-34.7zM53.4 2224.3h34.7v2.8h-34.7zM53.4 2257.9h34.7v2.8h-34.7zM53.4 2269.0h34.7v2.8h-34.7zM53.4 2294.2h34.7v2.8h-34.7zM53.4 2380.8h34.7v2.8h-34.7zM53.4 2456.2h34.7v2.8h-34.7zM53.4 2461.8h34.7v2.8h-34.7zM88.1 1444.9h34.7v2.8h-34.7zM88.1 1570.6h34.7v2.8h-34.7zM88.1 1579.0h34.7v2.8h-34.7zM88.1 1584.6h34.7v2.8h-34.7zM88.1 1682.4h34.7v2.8h-34.7zM88.1 1690.7h34.7v2.8h-34.7zM88.1 1704.7h34.7v2.8h-34.7zM88.1 1738.2h34.7v2.8h-34.7zM88.1 1771.8h34.7v5.6h-34.7zM88.1 1782.9h34.7v2.8h-34.7zM88.1 1995.3h34.7v2.8h-34.7zM88.1 2026.0h34.7v2.8h-34.7zM88.1 2079.1h34.7v2.8h-34.7zM88.1 2294.2h34.7v2.8h-34.7zM88.1 2311.0h34.7v2.8h-34.7zM88.1 2316.5h34.7v2.8h-34.7zM88.1 2330.5h34.7v2.8h-34.7zM88.1 2352.9h34.7v2.8h-34.7zM88.1 2403.1h34.7v2.8h-34.7zM88.1 2417.1h34.7v2.8h-34.7zM88.1 2422.7h34.7v2.8h-34.7zM88.1 2428.3h34.7v2.8h-34.7zM88.1 2461.8h34.7v2.8h-34.7zM122.8 1361.1h34.7v2.8h-34.7zM122.8 1369.5h34.7v8.4h-34.7zM122.8 1442.1h34.7v2.8h-34.7zM122.8 1464.4h34.7v2.8h-34.7zM122.8 1470.0h34.7v2.8h-34.7zM122.8 1606.9h34.7v2.8h-34.7zM122.8 1615.3h34.7v2.8h-34.7zM122.8 1674.0h34.7v2.8h-34.7zM122.8 1760.6h34.7v2.8h-34.7zM122.8 1794.1h34.7v2.8h-34.7zM122.8 1986.9h34.7v2.8h-34.7zM122.8 2000.8h34.7v2.8h-34.7zM122.8 2012.0h34.7v2.8h-34.7zM122.8 2045.5h34.7v2.8h-34.7zM122.8 2213.2h34.7v2.8h-34.7zM122.8 2218.8h34.7v2.8h-34.7zM122.8 2241.1h34.7v2.8h-34.7zM122.8 2285.8h34.7v2.8h-34.7zM122.8 2313.7h34.7v2.8h-34.7zM122.8 2322.1h34.7v2.8h-34.7zM122.8 2361.2h34.7v2.8h-34.7zM122.8 2366.8h34.7v5.6h-34.7zM122.8 2380.8h34.7v2.8h-34.7zM122.8 2389.2h34.7v2.8h-34.7zM122.8 2419.9h34.7v2.8h-34.7zM157.5 1372.2h34.7v2.8h-34.7zM157.5 1380.6h34.7v2.8h-34.7zM157.5 1428.1h34.7v2.8h-34.7zM157.5 1632.1h34.7v2.8h-34.7zM157.5 1640.5h34.7v2.8h-34.7zM157.5 1648.8h34.7v2.8h-34.7zM157.5 1654.4h34.7v2.8h-34.7zM157.5 1665.6h34.7v2.8h-34.7zM157.5 1671.2h34.7v2.8h-34.7zM157.5 1707.5h34.7v2.8h-34.7zM157.5 1713.1h34.7v2.8h-34.7zM157.5 1808.1h34.7v2.8h-34.7zM157.5 1819.2h34.7v2.8h-34.7zM157.5 1827.6h34.7v2.8h-34.7zM157.5 1861.2h34.7v2.8h-34.7zM157.5 2249.5h34.7v2.8h-34.7zM192.2 1394.6h34.7v5.6h-34.7zM192.2 1405.8h34.7v2.8h-34.7zM192.2 1573.4h34.7v2.8h-34.7zM192.2 1590.2h34.7v5.6h-34.7zM192.2 1646.0h34.7v2.8h-34.7zM192.2 1665.6h34.7v2.8h-34.7zM192.2 1674.0h34.7v2.8h-34.7zM192.2 1699.1h34.7v2.8h-34.7zM192.2 1749.4h34.7v2.8h-34.7zM192.2 1774.6h34.7v2.8h-34.7zM192.2 1799.7h34.7v2.8h-34.7zM192.2 1810.9h34.7v2.8h-34.7zM192.2 1833.2h34.7v2.8h-34.7zM192.2 1838.8h34.7v8.4h-34.7zM192.2 1858.4h34.7v2.8h-34.7zM192.2 1869.5h34.7v2.8h-34.7zM192.2 1880.7h34.7v5.6h-34.7zM192.2 2294.2h34.7v8.4h-34.7zM192.2 2305.4h34.7v2.8h-34.7zM192.2 2341.7h34.7v2.8h-34.7zM192.2 2352.9h34.7v2.8h-34.7zM192.2 2366.8h34.7v2.8h-34.7zM192.2 2422.7h34.7v2.8h-34.7zM226.9 1626.5h34.7v5.6h-34.7zM226.9 1687.9h34.7v2.8h-34.7zM226.9 1701.9h34.7v2.8h-34.7zM226.9 1710.3h34.7v2.8h-34.7zM226.9 1741.0h34.7v2.8h-34.7zM226.9 1822.0h34.7v5.6h-34.7zM226.9 1830.4h34.7v2.8h-34.7zM226.9 1869.5h34.7v5.6h-34.7zM226.9 2067.9h34.7v2.8h-34.7zM226.9 2098.6h34.7v2.8h-34.7zM226.9 2126.6h34.7v2.8h-34.7zM226.9 2283.0h34.7v2.8h-34.7zM261.6 1380.6h34.7v2.8h-34.7zM261.6 1436.5h34.7v2.8h-34.7zM261.6 1567.8h34.7v2.8h-34.7zM261.6 1626.5h34.7v2.8h-34.7zM261.6 1654.4h34.7v2.8h-34.7zM261.6 1785.7h34.7v2.8h-34.7zM261.6 1970.1h34.7v2.8h-34.7zM261.6 1975.7h34.7v5.6h-34.7zM261.6 1989.7h34.7v2.8h-34.7zM261.6 1998.1h34.7v2.8h-34.7zM261.6 2006.4h34.7v2.8h-34.7zM261.6 2070.7h34.7v2.8h-34.7zM261.6 2221.6h34.7v2.8h-34.7zM296.3 1414.2h34.7v2.8h-34.7zM296.3 1478.4h34.7v2.8h-34.7zM296.3 1495.2h34.7v2.8h-34.7zM296.3 1500.8h34.7v5.6h-34.7zM296.3 1548.3h34.7v2.8h-34.7zM296.3 1562.2h34.7v5.6h-34.7zM296.3 1570.6h34.7v2.8h-34.7zM296.3 1632.1h34.7v2.8h-34.7zM296.3 1643.2h34.7v2.8h-34.7zM296.3 2076.3h34.7v2.8h-34.7zM296.3 2121.0h34.7v2.8h-34.7zM296.3 2193.6h34.7v2.8h-34.7zM331.0 1478.4h34.7v2.8h-34.7zM331.0 1696.3h34.7v2.8h-34.7zM331.0 1729.9h34.7v2.8h-34.7zM331.0 1760.6h34.7v2.8h-34.7zM331.0 1766.2h34.7v5.6h-34.7zM331.0 1782.9h34.7v5.6h-34.7z"/>
<path fill="#feda8a" d="M53.4 1450.5h34.7v2.8h-34.7zM53.4 1794.1h34.7v2.8h-34.7zM53.4 1964.5h34.7v2.8h-34.7zM53.4 2093.0h34.7v5.6h-34.7zM53.4 2154.5h34.7v2.8h-34.7zM53.4 2274.6h34.7v2.8h-34.7zM53.4 2305.4h34.7v8.4h-34.7zM88.1 1486.8h34.7v2.8h-34.7zM88.1 1629.3h34.7v2.8h-34.7zM88.1 1727.1h34.7v2.8h-34.7zM88.1 1746.6h34.7v2.8h-34.7zM88.1 1967.3h34.7v2.8h-34.7zM88.1 1978.5h34.7v2.8h-34.7zM88.1 1986.9h34.7v2.8h-34.7zM88.1 2009.2h34.7v2.8h-34.7zM88.1 2045.5h34.7v2.8h-34.7zM88.1 2104.2h34.7v2.8h-34.7zM88.1 2118.2h34.7v2.8h-34.7zM88.1 2137.7h34.7v5.6h-34.7zM88.1 2176.9h34.7v2.8h-34.7zM88.1 2185.2h34.7v2.8h-34.7zM88.1 2207.6h34.7v2.8h-34.7zM88.1 2232.7h34.7v2.8h-34.7zM88.1 2249.5h34.7v2.8h-34.7zM88.1 2277.4h34.7v2.8h-34.7zM88.1 2431.1h34.7v2.8h-34.7zM88.1 2442.3h34.7v2.8h-34.7zM122.8 1707.5h34.7v2.8h-34.7zM122.8 1799.7h34.7v2.8h-34.7zM122.8 1813.7h34.7v2.8h-34.7zM122.8 1824.8h34.7v2.8h-34.7zM122.8 1836.0h34.7v2.8h-34.7zM122.8 1852.8h34.7v2.8h-34.7zM122.8 1864.0h34.7v2.8h-34.7zM122.8 1869.5h34.7v2.8h-34.7zM122.8 1917.0h34.7v2.8h-34.7zM122.8 1922.6h34.7v8.4h-34.7zM122.8 2319.3h34.7v2.8h-34.7zM122.8 2327.7h34.7v2.8h-34.7zM122.8 2400.4h34.7v2.8h-34.7zM157.5 1623.7h34.7v2.8h-34.7zM157.5 1682.4h34.7v2.8h-34.7zM192.2 1358.3h34.7v5.6h-34.7zM192.2 1704.7h34.7v2.8h-34.7zM192.2 1729.9h34.7v2.8h-34.7zM192.2 1917.0h34.7v5.6h-34.7zM226.9 1456.1h34.7v2.8h-34.7zM226.9 1606.9h34.7v2.8h-34.7zM226.9 1646.0h34.7v2.8h-34.7zM226.9 1668.4h34.7v5.6h-34.7zM226.9 1905.9h34.7v2.8h-34.7zM226.9 1914.2h34.7v2.8h-34.7zM226.9 1984.1h34.7v2.8h-34.7zM226.9 2026.0h34.7v2.8h-34.7zM226.9 2037.2h34.7v2.8h-34.7zM226.9 2065.1h34.7v2.8h-34.7zM226.9 2087.5h34.7v2.8h-34.7zM226.9 2185.2h34.7v5.6h-34.7zM226.9 2202.0h34.7v2.8h-34.7zM226.9 2221.6h34.7v2.8h-34.7zM226.9 2263.5h34.7v2.8h-34.7zM226.9 2313.7h34.7v5.6h-34.7zM226.9 2389.2h34.7v2.8h-34.7zM261.6 1444.9h34.7v2.8h-34.7zM261.6 1484.0h34.7v2.8h-34.7zM261.6 1648.8h34.7v2.8h-34.7zM261.6 1685.2h34.7v2.8h-34.7zM261.6 1763.4h34.7v2.8h-34.7zM261.6 1931.0h34.7v2.8h-34.7zM261.6 2330.5h34.7v2.8h-34.7zM261.6 2336.1h34.7v2.8h-34.7zM261.6 2386.4h34.7v2.8h-34.7zM261.6 2394.8h34.7v2.8h-34.7zM261.6 2417.1h34.7v2.8h-34.7zM296.3 1391.8h34.7v2.8h-34.7zM296.3 1539.9h34.7v2.8h-34.7zM296.3 1559.4h34.7v2.8h-34.7zM296.3 1584.6h34.7v2.8h-34.7zM331.0 1470.0h34.7v5.6h-34.7zM331.0 1481.2h34.7v2.8h-34.7zM331.0 1562.2h34.7v5.6h-34.7zM331.0 1626.5h34.7v2.8h-34.7zM331.0 1634.9h34.7v2.8h-34.7z"/>
<path fill="#fffbb9" d="M53.4 1467.2h34.7v5.6h-34.7zM53.4 1584.6h34.7v5.6h-34.7zM53.4 1615.3h34.7v2.8h-34.7zM53.4 1620.9h34.7v5.6h-34.7zM53.4 1634.9h34.7v2.8h-34.7zM53.4 1640.5h34.7v2.8h-34.7zM53.4 1735.4h34.7v2.8h-34.7zM53.4 1755.0h34.7v2.8h-34.7zM53.4 1816.5h34.7v5.6h-34.7zM53.4 1833.2h34.7v5.6h-34.7zM53.4 1850.0h34.7v5.6h-34.7zM53.4 1869.5h34.7v5.6h-34.7zM53.4 2012.0h34.7v2.8h-34.7zM53.4 2017.6h34.7v2.8h-34.7zM53.4 2028.8h34.7v2.8h-34.7zM53.4 2040.0h34.7v2.8h-34.7zM53.4 2045.5h34.7v5.6h-34.7zM53.4 2053.9h34.7v2.8h-34.7zM53.4 2179.6h34.7v2.8h-34.7zM53.4 2185.2h34.7v2.8h-34.7zM53.4 2199.2h34.7v2.8h-34.7zM53.4 2216.0h34.7v2.8h-34.7zM53.4 2243.9h34.7v2.8h-34.7zM53.4 2316.5h34.7v2.8h-34.7zM53.4 2378.0h34.7v2.8h-34.7zM53.4 2431.1h34.7v2.8h-34.7zM53.4 2442.3h34.7v5.6h-34.7zM53.4 2450.6h34.7v2.8h-34.7zM88.1 1447.7h34.7v2.8h-34.7zM88.1 1456.1h34.7v2.8h-34.7zM88.1 1495.2h34.7v2.8h-34.7zM88.1 1534.3h34.7v2.8h-34.7zM88.1 1562.2h34.7v2.8h-34.7zM88.1 1573.4h34.7v5.6h-34.7zM88.1 1590.2h34.7v2.8h-34.7zM88.1 1626.5h34.7v2.8h-34.7zM88.1 1637.7h34.7v2.8h-34.7zM88.1 1648.8h34.7v2.8h-34.7zM88.1 1662.8h34.7v2.8h-34.7zM88.1 1674.0h34.7v8.4h-34.7zM88.1 1696.3h34.7v2.8h-34.7zM88.1 1713.1h34.7v5.6h-34.7zM88.1 1721.5h34.7v2.8h-34.7zM88.1 1785.7h34.7v2.8h-34.7zM88.1 1883.5h34.7v2.8h-34.7zM88.1 1908.7h34.7v2.8h-34.7zM88.1 1928.2h34.7v2.8h-34.7zM88.1 2073.5h34.7v5.6h-34.7zM88.1 2081.9h34.7v2.8h-34.7zM88.1 2095.8h34.7v2.8h-34.7zM88.1 2327.7h34.7v2.8h-34.7zM88.1 2338.9h34.7v2.8h-34.7zM88.1 2372.4h34.7v2.8h-34.7zM88.1 2378.0h34.7v2.8h-34.7zM88.1 2383.6h34.7v5.6h-34.7zM88.1 2408.7h34.7v5.6h-34.7zM88.1 2425.5h34.7v2.8h-34.7zM88.1 2447.8h34.7v2.8h-34.7zM88.1 2456.2h34.7v2.8h-34.7zM122.8 1349.9h34.7v2.8h-34.7zM122.8 1394.6h34.7v2.8h-34.7zM122.8 1400.2h34.7v2.8h-34.7zM122.8 1419.7h34.7v2.8h-34.7zM122.8 1433.7h34.7v5.6h-34.7zM122.8 1447.7h34.7v2.8h-34.7zM122.8 1475.6h34.7v2.8h-34.7zM122.8 1570.6h34.7v2.8h-34.7zM122.8 1579.0h34.7v2.8h-34.7zM122.8 1587.4h34.7v2.8h-34.7zM122.8 1601.3h34.7v2.8h-34.7zM122.8 1693.5h34.7v5.6h-34.7zM122.8 1746.6h34.7v8.4h-34.7zM122.8 1788.5h34.7v2.8h-34.7zM122.8 1978.5h34.7v5.6h-34.7zM122.8 2009.2h34.7v2.8h-34.7zM122.8 2053.9h34.7v2.8h-34.7zM122.8 2062.3h34.7v2.8h-34.7zM122.8 2148.9h34.7v2.8h-34.7zM122.8 2204.8h34.7v2.8h-34.7zM122.8 2210.4h34.7v2.8h-34.7zM122.8 2216.0h34.7v2.8h-34.7zM122.8 2221.6h34.7v2.8h-34.7zM122.8 2227.1h34.7v2.8h-34.7zM122.8 2252.3h34.7v2.8h-34.7zM122.8 2288.6h34.7v5.6h-34.7zM122.8 2378.0h34.7v2.8h-34.7zM122.8 2436.7h34.7v2.8h-34.7zM157.5 1377.8h34.7v2.8h-34.7zM157.5 1389.0h34.7v2.8h-34.7zM157.5 1422.5h34.7v2.8h-34.7zM157.5 1430.9h34.7v2.8h-34.7zM157.5 1436.5h34.7v2.8h-34.7zM157.5 1458.9h34.7v2.8h-34.7zM157.5 1525.9h34.7v2.8h-34.7zM157.5 1537.1h34.7v2.8h-34.7zM157.5 1545.5h34.7v2.8h-34.7zM157.5 1551.1h34.7v2.8h-34.7zM157.5 1573.4h34.7v2.8h-34.7zM157.5 1606.9h34.7v2.8h-34.7zM157.5 1646.0h34.7v2.8h-34.7zM157.5 1676.8h34.7v2.8h-34.7zM157.5 1687.9h34.7v2.8h-34.7zM157.5 1710.3h34.7v2.8h-34.7zM157.5 1796.9h34.7v2.8h-34.7zM157.5 1816.5h34.7v2.8h-34.7zM157.5 1833.2h34.7v2.8h-34.7zM157.5 1841.6h34.7v5.6h-34.7zM157.5 1850.0h34.7v2.8h-34.7zM157.5 1869.5h34.7v5.6h-34.7zM157.5 1883.5h34.7v2.8h-34.7zM157.5 1925.4h34.7v5.6h-34.7zM157.5 2269.0h34.7v2.8h-34.7zM157.5 2288.6h34.7v2.8h-34.7zM157.5 2299.8h34.7v2.8h-34.7zM157.5 2358.4h34.7v2.8h-34.7zM157.5 2419.9h34.7v2.8h-34.7zM157.5 2428.3h34.7v2.8h-34.7zM192.2 1372.2h34.7v2.8h-34.7zM192.2 1400.2h34.7v2.8h-34.7zM192.2 1422.5h34.7v2.8h-34.7zM192.2 1428.1h34.7v2.8h-34.7zM192.2 1464.4h34.7v5.6h-34.7zM192.2 1475.6h34.7v2.8h-34.7zM192.2 1484.0h34.7v2.8h-34.7zM192.2 1567.8h34.7v2.8h-34.7zM192.2 1581.8h34.7v2.8h-34.7zM192.2 1620.9h34.7v2.8h-34.7zM192.2 1626.5h34.7v5.6h-34.7zM192.2 1637.7h34.7v2.8h-34.7zM192.2 1657.2h34.7v2.8h-34.7zM192.2 1679.6h34.7v14.0h-34.7zM192.2 1696.3h34.7v2.8h-34.7zM192.2 1757.8h34.7v2.8h-34.7zM192.2 1763.4h34.7v2.8h-34.7zM192.2 1771.8h34.7v2.8h-34.7zM192.2 1788.5h34.7v5.6h-34.7zM192.2 1824.8h34.7v2.8h-34.7zM192.2 1847.2h34.7v2.8h-34.7zM192.2 1855.6h34.7v2.8h-34.7zM192.2 1877.9h34.7v2.8h-34.7zM192.2 1891.9h34.7v5.6h-34.7zM192.2 1961.7h34.7v2.8h-34.7zM192.2 2218.8h34.7v2.8h-34.7zM192.2 2274.6h34.7v2.8h-34.7zM192.2 2288.6h34.7v2.8h-34.7zM192.2 2308.2h34.7v2.8h-34.7zM192.2 2324.9h34.7v2.8h-34.7zM192.2 2330.5h34.7v2.8h-34.7zM192.2 2389.2h34.7v2.8h-34.7zM192.2 2400.4h34.7v2.8h-34.7zM192.2 2405.9h34.7v2.8h-34.7zM192.2 2411.5h34.7v2.8h-34.7zM192.2 2425.5h34.7v2.8h-34.7zM192.2 2439.5h34.7v2.8h-34.7zM192.2 2445.1h34.7v2.8h-34.7zM226.9 1386.2h34.7v2.8h-34.7zM226.9 1394.6h34.7v2.8h-34.7zM226.9 1400.2h34.7v2.8h-34.7zM226.9 1408.6h34.7v5.6h-34.7zM226.9 1419.7h34.7v2.8h-34.7zM226.9 1425.3h34.7v2.8h-34.7zM226.9 1475.6h34.7v2.8h-34.7zM226.9 1495.2h34.7v5.6h-34.7zM226.9 1556.6h34.7v2.8h-34.7zM226.9 1573.4h34.7v2.8h-34.7zM226.9 1604.1h34.7v2.8h-34.7zM226.9 1615.3h34.7v2.8h-34.7zM226.9 1620.9h34.7v5.6h-34.7zM226.9 1660.0h34.7v2.8h-34.7zM226.9 1682.4h34.7v2.8h-34.7zM226.9 1693.5h34.7v2.8h-34.7zM226.9 1704.7h34.7v2.8h-34.7zM226.9 1836.0h34.7v2.8h-34.7zM226.9 1880.7h34.7v2.8h-34.7zM226.9 1889.1h34.7v2.8h-34.7zM226.9 2107.0h34.7v2.8h-34.7zM226.9 2121.0h34.7v2.8h-34.7zM226.9 2132.2h34.7v5.6h-34.7zM226.9 2143.3h34.7v5.6h-34.7zM226.9 2151.7h34.7v2.8h-34.7zM226.9 2157.3h34.7v2.8h-34.7zM261.6 1411.4h34.7v5.6h-34.7zM261.6 1419.7h34.7v2.8h-34.7zM261.6 1450.5h34.7v2.8h-34.7zM261.6 1470.0h34.7v2.8h-34.7zM261.6 1514.7h34.7v2.8h-34.7zM261.6 1553.8h34.7v2.8h-34.7zM261.6 1559.4h34.7v2.8h-34.7zM261.6 1565.0h34.7v2.8h-34.7zM261.6 1620.9h34.7v2.8h-34.7zM261.6 1727.1h34.7v2.8h-34.7zM261.6 1743.8h34.7v2.8h-34.7zM261.6 1749.4h34.7v2.8h-34.7zM261.6 1796.9h34.7v2.8h-34.7zM261.6 1802.5h34.7v2.8h-34.7zM261.6 1813.7h34.7v2.8h-34.7zM261.6 1855.6h34.7v2.8h-34.7zM261.6 1880.7h34.7v5.6h-34.7zM261.6 1894.7h34.7v2.8h-34.7zM261.6 1900.3h34.7v2.8h-34.7zM261.6 1917.0h34.7v5.6h-34.7zM261.6 1928.2h34.7v2.8h-34.7zM261.6 1964.5h34.7v2.8h-34.7zM261.6 2023.2h34.7v5.6h-34.7zM261.6 2040.0h34.7v2.8h-34.7zM261.6 2073.5h34.7v2.8h-34.7zM261.6 2087.5h34.7v2.8h-34.7zM261.6 2137.7h34.7v5.6h-34.7zM261.6 2182.4h34.7v2.8h-34.7zM261.6 2204.8h34.7v2.8h-34.7zM261.6 2210.4h34.7v2.8h-34.7zM261.6 2235.5h34.7v5.6h-34.7zM296.3 1352.7h34.7v5.6h-34.7zM296.3 1366.7h34.7v2.8h-34.7zM296.3 1375.0h34.7v5.6h-34.7zM296.3 1411.4h34.7v2.8h-34.7zM296.3 1484.0h34.7v2.8h-34.7zM296.3 1531.5h34.7v2.8h-34.7zM296.3 1581.8h34.7v2.8h-34.7zM296.3 1593.0h34.7v2.8h-34.7zM296.3 1601.3h34.7v2.8h-34.7zM296.3 1618.1h34.7v2.8h-34.7zM296.3 2070.7h34.7v2.8h-34.7zM296.3 2079.1h34.7v2.8h-34.7zM296.3 2146.1h34.7v2.8h-34.7zM296.3 2174.1h34.7v11.2h-34.7zM296.3 2260.7h34.7v2.8h-34.7zM296.3 2291.4h34.7v2.8h-34.7zM331.0 1567.8h34.7v2.8h-34.7zM331.0 1573.4h34.7v2.8h-34.7zM331.0 1584.6h34.7v5.6h-34.7zM331.0 1612.5h34.7v2.8h-34.7zM331.0 1780.1h34.7v2.8h-34.7zM331.0 1791.3h34.7v2.8h-34.7zM331.0 2126.6h34.7v2.8h-34.7zM331.0 2151.7h34.7v2.8h-34.7z"/>
<path fill="#fee090" d="M53.4 1489.6h34.7v2.8h-34.7zM53.4 1498.0h34.7v2.8h-34.7zM53.4 1503.6h34.7v2.8h-34.7zM53.4 1525.9h34.7v2.8h-34.7zM53.4 1738.2h34.7v2.8h-34.7zM53.4 1975.7h34.7v2.8h-34.7zM53.4 2098.6h34.7v2.8h-34.7zM53.4 2107.0h34.7v2.8h-34.7zM53.4 2132.2h34.7v2.8h-34.7zM53.4 2157.3h34.7v2.8h-34.7zM53.4 2171.3h34.7v2.8h-34.7zM53.4 2285.8h34.7v2.8h-34.7zM53.4 2313.7h34.7v2.8h-34.7zM88.1 1450.5h34.7v2.8h-34.7zM88.1 1478.4h34.7v2.8h-34.7zM88.1 1749.4h34.7v2.8h-34.7zM88.1 1989.7h34.7v2.8h-34.7zM88.1 2040.0h34.7v2.8h-34.7zM88.1 2098.6h34.7v2.8h-34.7zM88.1 2129.4h34.7v5.6h-34.7zM88.1 2182.4h34.7v2.8h-34.7zM88.1 2193.6h34.7v5.6h-34.7zM88.1 2243.9h34.7v2.8h-34.7zM88.1 2269.0h34.7v2.8h-34.7zM88.1 2280.2h34.7v2.8h-34.7zM122.8 1377.8h34.7v5.6h-34.7zM122.8 1593.0h34.7v2.8h-34.7zM122.8 1687.9h34.7v2.8h-34.7zM122.8 1769.0h34.7v2.8h-34.7zM122.8 1774.6h34.7v2.8h-34.7zM122.8 1782.9h34.7v2.8h-34.7zM122.8 1810.9h34.7v2.8h-34.7zM122.8 1816.5h34.7v2.8h-34.7zM122.8 1841.6h34.7v2.8h-34.7zM122.8 1855.6h34.7v2.8h-34.7zM122.8 1872.3h34.7v2.8h-34.7zM122.8 1883.5h34.7v2.8h-34.7zM122.8 1889.1h34.7v2.8h-34.7zM122.8 2026.0h34.7v2.8h-34.7zM122.8 2330.5h34.7v2.8h-34.7zM122.8 2350.1h34.7v2.8h-34.7zM122.8 2397.6h34.7v2.8h-34.7zM122.8 2408.7h34.7v2.8h-34.7zM122.8 2461.8h34.7v5.6h-34.7zM157.5 1411.4h34.7v2.8h-34.7zM157.5 1559.4h34.7v2.8h-34.7zM157.5 1609.7h34.7v2.8h-34.7zM157.5 1618.1h34.7v5.6h-34.7zM157.5 1626.5h34.7v2.8h-34.7zM157.5 1674.0h34.7v2.8h-34.7zM157.5 1693.5h34.7v2.8h-34.7zM192.2 1375.0h34.7v2.8h-34.7zM192.2 1411.4h34.7v2.8h-34.7zM192.2 1735.4h34.7v2.8h-34.7zM226.9 1375.0h34.7v2.8h-34.7zM226.9 1450.5h34.7v2.8h-34.7zM226.9 1632.1h34.7v5.6h-34.7zM226.9 1788.5h34.7v2.8h-34.7zM226.9 1794.1h34.7v2.8h-34.7zM226.9 1917.0h34.7v5.6h-34.7zM226.9 1931.0h34.7v2.8h-34.7zM226.9 1942.2h34.7v2.8h-34.7zM226.9 1958.9h34.7v2.8h-34.7zM226.9 1972.9h34.7v5.6h-34.7zM226.9 2023.2h34.7v2.8h-34.7zM226.9 2028.8h34.7v2.8h-34.7zM226.9 2045.5h34.7v2.8h-34.7zM226.9 2079.1h34.7v2.8h-34.7zM226.9 2190.8h34.7v2.8h-34.7zM226.9 2210.4h34.7v2.8h-34.7zM226.9 2232.7h34.7v2.8h-34.7zM226.9 2260.7h34.7v2.8h-34.7zM226.9 2266.2h34.7v5.6h-34.7zM261.6 1447.7h34.7v2.8h-34.7zM261.6 1690.7h34.7v5.6h-34.7zM261.6 1699.1h34.7v2.8h-34.7zM261.6 1967.3h34.7v2.8h-34.7zM261.6 2350.1h34.7v2.8h-34.7zM261.6 2459.0h34.7v5.6h-34.7zM296.3 1590.2h34.7v2.8h-34.7zM296.3 2288.6h34.7v2.8h-34.7zM331.0 1701.9h34.7v5.6h-34.7zM331.0 1738.2h34.7v2.8h-34.7zM331.0 1749.4h34.7v2.8h-34.7zM331.0 1771.8h34.7v2.8h-34.7zM331.0 1794.1h34.7v2.8h-34.7z"/>
<path fill="#fee79b" d="M53.4 1495.2h34.7v2.8h-34.7zM53.4 1500.8h34.7v2.8h-34.7zM53.4 1514.7h34.7v2.8h-34.7zM53.4 1542.7h34.7v2.8h-34.7zM53.4 1822.0h34.7v2.8h-34.7zM53.4 2126.6h34.7v2.8h-34.7zM53.4 2137.7h34.7v2.8h-34.7zM53.4 2162.9h34.7v2.8h-34.7zM53.4 2196.4h34.7v2.8h-34.7zM53.4 2319.3h34.7v2.8h-34.7zM88.1 1439.3h34.7v2.8h-34.7zM88.1 1470.0h34.7v2.8h-34.7zM88.1 1718.7h34.7v2.8h-34.7zM88.1 1732.6h34.7v2.8h-34.7zM88.1 1760.6h34.7v2.8h-34.7zM88.1 1766.2h34.7v2.8h-34.7zM88.1 1972.9h34.7v2.8h-34.7zM88.1 2023.2h34.7v2.8h-34.7zM88.1 2037.2h34.7v2.8h-34.7zM88.1 2062.3h34.7v5.6h-34.7zM88.1 2090.2h34.7v2.8h-34.7zM88.1 2210.4h34.7v2.8h-34.7zM88.1 2305.4h34.7v2.8h-34.7zM122.8 1383.4h34.7v2.8h-34.7zM122.8 1609.7h34.7v5.6h-34.7zM122.8 1623.7h34.7v2.8h-34.7zM122.8 1679.6h34.7v2.8h-34.7zM122.8 1713.1h34.7v2.8h-34.7zM122.8 1757.8h34.7v2.8h-34.7zM122.8 1763.4h34.7v2.8h-34.7zM122.8 1785.7h34.7v2.8h-34.7zM122.8 1796.9h34.7v2.8h-34.7zM122.8 1877.9h34.7v5.6h-34.7zM122.8 1886.3h34.7v2.8h-34.7zM122.8 1911.4h34.7v2.8h-34.7zM122.8 2017.6h34.7v2.8h-34.7zM122.8 2034.4h34.7v2.8h-34.7zM122.8 2386.4h34.7v2.8h-34.7zM122.8 2403.1h34.7v2.8h-34.7zM122.8 2425.5h34.7v5.6h-34.7zM122.8 2433.9h34.7v2.8h-34.7zM122.8 2456.2h34.7v2.8h-34.7zM157.5 1358.3h34.7v5.6h-34.7zM157.5 1375.0h34.7v2.8h-34.7zM157.5 1598.5h34.7v2.8h-34.7zM157.5 1637.7h34.7v2.8h-34.7zM192.2 1377.8h34.7v5.6h-34.7zM192.2 1648.8h34.7v2.8h-34.7zM192.2 1671.2h34.7v2.8h-34.7zM192.2 1693.5h34.7v2.8h-34.7zM192.2 1718.7h34.7v2.8h-34.7zM192.2 1724.3h34.7v5.6h-34.7zM192.2 1766.2h34.7v2.8h-34.7zM192.2 1908.7h34.7v2.8h-34.7zM192.2 2311.0h34.7v5.6h-34.7zM192.2 2322.1h34.7v2.8h-34.7zM192.2 2364.0h34.7v2.8h-34.7zM226.9 1640.5h34.7v2.8h-34.7zM226.9 1715.9h34.7v2.8h-34.7zM226.9 1727.1h34.7v2.8h-34.7zM226.9 1841.6h34.7v2.8h-34.7zM226.9 1864.0h34.7v2.8h-34.7zM226.9 1897.5h34.7v2.8h-34.7zM226.9 1933.8h34.7v2.8h-34.7zM226.9 1939.4h34.7v2.8h-34.7zM226.9 1945.0h34.7v5.6h-34.7zM226.9 2073.5h34.7v2.8h-34.7zM226.9 2090.2h34.7v2.8h-34.7zM226.9 2207.6h34.7v2.8h-34.7zM226.9 2213.2h34.7v5.6h-34.7zM226.9 2235.5h34.7v2.8h-34.7zM226.9 2243.9h34.7v2.8h-34.7zM226.9 2274.6h34.7v2.8h-34.7zM226.9 2294.2h34.7v2.8h-34.7zM261.6 1377.8h34.7v2.8h-34.7zM261.6 1632.1h34.7v2.8h-34.7zM261.6 1651.6h34.7v2.8h-34.7zM261.6 1657.2h34.7v2.8h-34.7zM261.6 1679.6h34.7v5.6h-34.7zM261.6 1696.3h34.7v2.8h-34.7zM261.6 1760.6h34.7v2.8h-34.7zM261.6 1771.8h34.7v2.8h-34.7zM296.3 1475.6h34.7v2.8h-34.7zM296.3 1640.5h34.7v2.8h-34.7zM331.0 1489.6h34.7v2.8h-34.7zM331.0 1528.7h34.7v2.8h-34.7zM331.0 1693.5h34.7v2.8h-34.7zM331.0 1713.1h34.7v2.8h-34.7zM331.0 1718.7h34.7v2.8h-34.7zM331.0 1724.3h34.7v5.6h-34.7zM331.0 1735.4h34.7v2.8h-34.7zM331.0 1743.8h34.7v2.8h-34.7zM331.0 1757.8h34.7v2.8h-34.7zM331.0 1777.3h34.7v2.8h-34.7z"/>
<path fill="#fecc7e" d="M53.4 1528.7h34.7v2.8h-34.7zM53.4 1545.5h34.7v2.8h-34.7zM53.4 1796.9h34.7v2.8h-34.7zM53.4 1970.1h34.7v2.8h-34.7zM53.4 2101.4h34.7v2.8h-34.7zM53.4 2112.6h34.7v8.4h-34.7zM53.4 2160.1h34.7v2.8h-34.7zM53.4 2277.4h34.7v2.8h-34.7zM88.1 2042.8h34.7v2.8h-34.7zM88.1 2056.7h34.7v2.8h-34.7zM88.1 2109.8h34.7v2.8h-34.7zM88.1 2121.0h34.7v2.8h-34.7zM88.1 2174.1h34.7v2.8h-34.7zM88.1 2179.6h34.7v2.8h-34.7zM88.1 2188.0h34.7v2.8h-34.7zM88.1 2221.6h34.7v2.8h-34.7zM88.1 2257.9h34.7v2.8h-34.7zM88.1 2271.8h34.7v5.6h-34.7zM122.8 1766.2h34.7v2.8h-34.7zM122.8 1808.1h34.7v2.8h-34.7zM122.8 1866.7h34.7v2.8h-34.7zM122.8 1900.3h34.7v2.8h-34.7zM122.8 2338.9h34.7v8.4h-34.7zM192.2 1701.9h34.7v2.8h-34.7zM192.2 1914.2h34.7v2.8h-34.7zM192.2 1925.4h34.7v2.8h-34.7zM192.2 1931.0h34.7v2.8h-34.7zM192.2 1947.8h34.7v2.8h-34.7zM226.9 1442.1h34.7v2.8h-34.7zM226.9 1458.9h34.7v2.8h-34.7zM226.9 1648.8h34.7v2.8h-34.7zM226.9 1654.4h34.7v2.8h-34.7zM226.9 1743.8h34.7v2.8h-34.7zM226.9 1749.4h34.7v2.8h-34.7zM226.9 1796.9h34.7v2.8h-34.7zM226.9 1903.1h34.7v2.8h-34.7zM226.9 1953.4h34.7v2.8h-34.7zM226.9 2014.8h34.7v2.8h-34.7zM226.9 2053.9h34.7v5.6h-34.7zM226.9 2176.9h34.7v2.8h-34.7zM226.9 2193.6h34.7v2.8h-34.7zM226.9 2311.0h34.7v2.8h-34.7zM226.9 2324.9h34.7v5.6h-34.7zM226.9 2352.9h34.7v2.8h-34.7zM226.9 2408.7h34.7v2.8h-34.7zM261.6 1520.3h34.7v2.8h-34.7zM261.6 1665.6h34.7v2.8h-34.7zM261.6 2338.9h34.7v5.6h-34.7zM261.6 2383.6h34.7v2.8h-34.7zM261.6 2397.6h34.7v5.6h-34.7zM261.6 2411.5h34.7v2.8h-34.7zM261.6 2425.5h34.7v2.8h-34.7zM261.6 2464.6h34.7v2.8h-34.7zM331.0 1383.4h34.7v2.8h-34.7zM331.0 1389.0h34.7v2.8h-34.7zM331.0 1405.8h34.7v2.8h-34.7zM331.0 1484.0h34.7v2.8h-34.7z"/>
<path fill="#fed283" d="M53.4 1531.5h34.7v2.8h-34.7zM53.4 1972.9h34.7v2.8h-34.7zM88.1 1481.2h34.7v5.6h-34.7zM88.1 1724.3h34.7v2.8h-34.7zM88.1 2000.8h34.7v8.4h-34.7zM88.1 2048.3h34.7v8.4h-34.7zM88.1 2101.4h34.7v2.8h-34.7zM88.1 2107.0h34.7v2.8h-34.7zM88.1 2112.6h34.7v2.8h-34.7zM88.1 2123.8h34.7v2.8h-34.7zM88.1 2148.9h34.7v2.8h-34.7zM88.1 2190.8h34.7v2.8h-34.7zM88.1 2199.2h34.7v2.8h-34.7zM88.1 2204.8h34.7v2.8h-34.7zM88.1 2216.0h34.7v2.8h-34.7zM88.1 2229.9h34.7v2.8h-34.7zM122.8 1827.6h34.7v5.6h-34.7zM122.8 1838.8h34.7v2.8h-34.7zM122.8 1858.4h34.7v5.6h-34.7zM122.8 1894.7h34.7v2.8h-34.7zM122.8 1905.9h34.7v2.8h-34.7zM122.8 2020.4h34.7v2.8h-34.7zM122.8 2316.5h34.7v2.8h-34.7zM122.8 2347.3h34.7v2.8h-34.7zM122.8 2405.9h34.7v2.8h-34.7zM122.8 2417.1h34.7v2.8h-34.7zM192.2 1911.4h34.7v2.8h-34.7zM192.2 1922.6h34.7v2.8h-34.7zM192.2 1928.2h34.7v2.8h-34.7zM192.2 1945.0h34.7v2.8h-34.7zM226.9 1377.8h34.7v5.6h-34.7zM226.9 1657.2h34.7v2.8h-34.7zM226.9 1679.6h34.7v2.8h-34.7zM226.9 1746.6h34.7v2.8h-34.7zM226.9 1752.2h34.7v2.8h-34.7zM226.9 1855.6h34.7v2.8h-34.7zM226.9 1911.4h34.7v2.8h-34.7zM226.9 1922.6h34.7v2.8h-34.7zM226.9 1981.3h34.7v2.8h-34.7zM226.9 2006.4h34.7v2.8h-34.7zM226.9 2017.6h34.7v5.6h-34.7zM226.9 2031.6h34.7v5.6h-34.7zM226.9 2196.4h34.7v2.8h-34.7zM226.9 2241.1h34.7v2.8h-34.7zM226.9 2271.8h34.7v2.8h-34.7zM226.9 2291.4h34.7v2.8h-34.7zM261.6 1517.5h34.7v2.8h-34.7zM261.6 1662.8h34.7v2.8h-34.7zM261.6 2188.0h34.7v5.6h-34.7zM261.6 2196.4h34.7v5.6h-34.7zM261.6 2308.2h34.7v2.8h-34.7zM261.6 2324.9h34.7v2.8h-34.7zM296.3 1537.1h34.7v2.8h-34.7zM296.3 1542.7h34.7v5.6h-34.7zM331.0 1403.0h34.7v2.8h-34.7zM331.0 1475.6h34.7v2.8h-34.7zM331.0 1629.3h34.7v2.8h-34.7zM331.0 1637.7h34.7v2.8h-34.7zM331.0 1746.6h34.7v2.8h-34.7z"/>
<path fill="#fdbb6d" d="M53.4 1534.3h34.7v2.8h-34.7zM53.4 2079.1h34.7v2.8h-34.7zM53.4 2090.2h34.7v2.8h-34.7zM88.1 1970.1h34.7v2.8h-34.7zM88.1 1981.3h34.7v2.8h-34.7zM88.1 2157.3h34.7v2.8h-34.7zM88.1 2162.9h34.7v2.8h-34.7zM88.1 2238.3h34.7v2.8h-34.7zM88.1 2246.7h34.7v2.8h-34.7zM88.1 2260.7h34.7v2.8h-34.7zM122.8 1819.2h34.7v2.8h-34.7zM122.8 1833.2h34.7v2.8h-34.7zM122.8 1931.0h34.7v2.8h-34.7zM122.8 1939.4h34.7v2.8h-34.7zM122.8 1945.0h34.7v2.8h-34.7zM122.8 2040.0h34.7v2.8h-34.7zM157.5 1660.0h34.7v2.8h-34.7zM226.9 1780.1h34.7v2.8h-34.7zM226.9 1802.5h34.7v2.8h-34.7zM226.9 1925.4h34.7v2.8h-34.7zM226.9 2012.0h34.7v2.8h-34.7zM226.9 2042.8h34.7v2.8h-34.7zM226.9 2048.3h34.7v2.8h-34.7zM226.9 2059.5h34.7v2.8h-34.7zM226.9 2199.2h34.7v2.8h-34.7zM226.9 2252.3h34.7v2.8h-34.7zM226.9 2336.1h34.7v2.8h-34.7zM226.9 2344.5h34.7v2.8h-34.7zM226.9 2358.4h34.7v8.4h-34.7zM226.9 2378.0h34.7v2.8h-34.7zM226.9 2419.9h34.7v2.8h-34.7zM226.9 2425.5h34.7v2.8h-34.7zM226.9 2439.5h34.7v2.8h-34.7zM261.6 1671.2h34.7v2.8h-34.7zM261.6 2305.4h34.7v2.8h-34.7zM261.6 2319.3h34.7v2.8h-34.7zM261.6 2392.0h34.7v2.8h-34.7zM261.6 2433.9h34.7v2.8h-34.7zM261.6 2442.3h34.7v5.6h-34.7zM331.0 1375.0h34.7v2.8h-34.7zM331.0 1397.4h34.7v2.8h-34.7zM331.0 1640.5h34.7v2.8h-34.7z"/>
<path fill="#fdb366" d="M53.4 1537.1h34.7v5.6h-34.7zM88.1 1956.1h34.7v2.8h-34.7zM88.1 1961.7h34.7v2.8h-34.7zM88.1 2171.3h34.7v2.8h-34.7zM122.8 1942.2h34.7v2.8h-34.7zM192.2 1939.4h34.7v2.8h-34.7zM226.9 1467.2h34.7v5.6h-34.7zM226.9 1782.9h34.7v2.8h-34.7zM226.9 1813.7h34.7v2.8h-34.7zM226.9 1961.7h34.7v2.8h-34.7zM226.9 2062.3h34.7v2.8h-34.7zM226.9 2319.3h34.7v2.8h-34.7zM226.9 2330.5h34.7v2.8h-34.7zM226.9 2350.1h34.7v2.8h-34.7zM226.9 2355.7h34.7v2.8h-34.7zM226.9 2369.6h34.7v2.8h-34.7zM226.9 2392.0h34.7v5.6h-34.7zM226.9 2428.3h34.7v2.8h-34.7zM261.6 1844.4h34.7v2.8h-34.7zM261.6 2285.8h34.7v2.8h-34.7zM261.6 2322.1h34.7v2.8h-34.7zM261.6 2372.4h34.7v2.8h-34.7zM261.6 2414.3h34.7v2.8h-34.7zM261.6 2436.7h34.7v5.6h-34.7zM331.0 1394.6h34.7v2.8h-34.7z"/>
<path fill="#f7844e" d="M53.4 1548.3h34.7v2.8h-34.7zM192.2 1595.8h34.7v2.8h-34.7zM226.9 1464.4h34.7v2.8h-34.7zM226.9 2433.9h34.7v2.8h-34.7zM261.6 1461.7h34.7v2.8h-34.7zM261.6 2311.0h34.7v2.8h-34.7zM261.6 2358.4h34.7v2.8h-34.7z"/>
<path fill="#fca55d" d="M53.4 1551.1h34.7v2.8h-34.7zM122.8 1805.3h34.7v2.8h-34.7zM192.2 1933.8h34.7v2.8h-34.7zM226.9 1760.6h34.7v2.8h-34.7zM226.9 1766.2h34.7v2.8h-34.7zM226.9 1774.6h34.7v5.6h-34.7zM226.9 1992.5h34.7v5.6h-34.7zM226.9 2417.1h34.7v2.8h-34.7zM226.9 2442.3h34.7v2.8h-34.7zM226.9 2464.6h34.7v2.8h-34.7zM261.6 1757.8h34.7v2.8h-34.7zM261.6 2313.7h34.7v2.8h-34.7zM261.6 2375.2h34.7v2.8h-34.7z"/>
<path fill="#fdc778" d="M53.4 1553.8h34.7v2.8h-34.7zM53.4 1967.3h34.7v2.8h-34.7zM53.4 1978.5h34.7v8.4h-34.7zM53.4 2084.7h34.7v5.6h-34.7zM53.4 2109.8h34.7v2.8h-34.7zM53.4 2151.7h34.7v2.8h-34.7zM88.1 1752.2h34.7v2.8h-34.7zM88.1 1958.9h34.7v2.8h-34.7zM88.1 1975.7h34.7v2.8h-34.7zM88.1 2115.4h34.7v2.8h-34.7zM88.1 2126.6h34.7v2.8h-34.7zM88.1 2143.3h34.7v5.6h-34.7zM88.1 2241.1h34.7v2.8h-34.7zM88.1 2255.1h34.7v2.8h-34.7zM122.8 1802.5h34.7v2.8h-34.7zM122.8 1844.4h34.7v5.6h-34.7zM122.8 1914.2h34.7v2.8h-34.7zM192.2 1363.9h34.7v2.8h-34.7zM192.2 1769.0h34.7v2.8h-34.7zM192.2 1936.6h34.7v2.8h-34.7zM192.2 1942.2h34.7v2.8h-34.7zM226.9 1453.3h34.7v2.8h-34.7zM226.9 1651.6h34.7v2.8h-34.7zM226.9 1755.0h34.7v2.8h-34.7zM226.9 1791.3h34.7v2.8h-34.7zM226.9 1928.2h34.7v2.8h-34.7zM226.9 1964.5h34.7v5.6h-34.7zM226.9 2003.6h34.7v2.8h-34.7zM226.9 2051.1h34.7v2.8h-34.7zM226.9 2179.6h34.7v5.6h-34.7zM226.9 2255.1h34.7v2.8h-34.7zM226.9 2308.2h34.7v2.8h-34.7zM226.9 2322.1h34.7v2.8h-34.7zM226.9 2366.8h34.7v2.8h-34.7zM226.9 2372.4h34.7v2.8h-34.7zM226.9 2380.8h34.7v2.8h-34.7zM226.9 2397.6h34.7v2.8h-34.7zM261.6 1637.7h34.7v2.8h-34.7zM261.6 2202.0h34.7v2.8h-34.7zM261.6 2378.0h34.7v2.8h-34.7zM261.6 2405.9h34.7v2.8h-34.7zM331.0 1377.8h34.7v2.8h-34.7zM331.0 1632.1h34.7v2.8h-34.7zM331.0 1710.3h34.7v2.8h-34.7z"/>
<path fill="#d4edf4" d="M53.4 1632.1h34.7v2.8h-34.7zM53.4 1662.8h34.7v2.8h-34.7zM53.4 1676.8h34.7v2.8h-34.7zM53.4 1707.5h34.7v2.8h-34.7zM53.4 1713.1h34.7v2.8h-34.7zM53.4 1769.0h34.7v2.8h-34.7zM53.4 1799.7h34.7v2.8h-34.7zM53.4 1894.7h34.7v2.8h-34.7zM53.4 1925.4h34.7v8.4h-34.7zM53.4 1939.4h34.7v2.8h-34.7zM53.4 1945.0h34.7v5.6h-34.7zM53.4 1953.4h34.7v2.8h-34.7zM53.4 2358.4h34.7v2.8h-34.7zM53.4 2366.8h34.7v2.8h-34.7zM53.4 2375.2h34.7v2.8h-34.7zM53.4 2394.8h34.7v8.4h-34.7zM53.4 2408.7h34.7v2.8h-34.7zM53.4 2414.3h34.7v2.8h-34.7zM88.1 1417.0h34.7v2.8h-34.7zM88.1 1436.5h34.7v2.8h-34.7zM88.1 1794.1h34.7v2.8h-34.7zM88.1 1931.0h34.7v2.8h-34.7zM122.8 1528.7h34.7v2.8h-34.7zM122.8 1729.9h34.7v5.6h-34.7zM122.8 1958.9h34.7v2.8h-34.7zM157.5 1718.7h34.7v2.8h-34.7zM157.5 1998.1h34.7v2.8h-34.7zM157.5 2012.0h34.7v2.8h-34.7zM157.5 2070.7h34.7v2.8h-34.7zM157.5 2079.1h34.7v2.8h-34.7zM157.5 2093.0h34.7v2.8h-34.7zM157.5 2098.6h34.7v2.8h-34.7zM157.5 2107.0h34.7v2.8h-34.7zM157.5 2123.8h34.7v2.8h-34.7zM157.5 2146.1h34.7v2.8h-34.7zM157.5 2179.6h34.7v2.8h-34.7zM157.5 2193.6h34.7v2.8h-34.7zM157.5 2202.0h34.7v2.8h-34.7zM157.5 2207.6h34.7v2.8h-34.7zM157.5 2274.6h34.7v2.8h-34.7zM157.5 2313.7h34.7v2.8h-34.7zM157.5 2336.1h34.7v2.8h-34.7zM157.5 2380.8h34.7v5.6h-34.7zM157.5 2450.6h34.7v2.8h-34.7zM157.5 2459.0h34.7v2.8h-34.7zM192.2 1444.9h34.7v2.8h-34.7zM192.2 2079.1h34.7v2.8h-34.7zM192.2 2090.2h34.7v2.8h-34.7zM192.2 2185.2h34.7v2.8h-34.7zM192.2 2193.6h34.7v2.8h-34.7zM192.2 2202.0h34.7v2.8h-34.7zM192.2 2229.9h34.7v2.8h-34.7zM192.2 2249.5h34.7v2.8h-34.7zM226.9 1363.9h34.7v2.8h-34.7zM226.9 1439.3h34.7v2.8h-34.7zM226.9 1548.3h34.7v2.8h-34.7zM261.6 1534.3h34.7v8.4h-34.7zM261.6 2053.9h34.7v2.8h-34.7zM296.3 1428.1h34.7v2.8h-34.7zM296.3 1439.3h34.7v2.8h-34.7zM296.3 1606.9h34.7v5.6h-34.7zM296.3 1679.6h34.7v2.8h-34.7zM296.3 1704.7h34.7v5.6h-34.7zM296.3 1721.5h34.7v2.8h-34.7zM296.3 1741.0h34.7v2.8h-34.7zM296.3 1836.0h34.7v2.8h-34.7zM296.3 1852.8h34.7v2.8h-34.7zM296.3 1869.5h34.7v2.8h-34.7zM296.3 1880.7h34.7v5.6h-34.7zM296.3 1900.3h34.7v2.8h-34.7zM296.3 1933.8h34.7v2.8h-34.7zM296.3 1958.9h34.7v2.8h-34.7zM296.3 1998.1h34.7v2.8h-34.7zM296.3 2003.6h34.7v2.8h-34.7zM296.3 2123.8h34.7v2.8h-34.7zM296.3 2157.3h34.7v2.8h-34.7zM296.3 2213.2h34.7v2.8h-34.7zM296.3 2243.9h34.7v2.8h-34.7zM331.0 1506.4h34.7v2.8h-34.7zM331.0 1539.9h34.7v2.8h-34.7zM331.0 1548.3h34.7v2.8h-34.7zM331.0 1553.8h34.7v2.8h-34.7zM331.0 1646.0h34.7v2.8h-34.7zM331.0 1654.4h34.7v5.6h-34.7zM331.0 1665.6h34.7v5.6h-34.7zM331.0 1852.8h34.7v2.8h-34.7zM331.0 1866.7h34.7v2.8h-34.7zM331.0 1889.1h34.7v2.8h-34.7zM331.0 1894.7h34.7v2.8h-34.7zM331.0 1908.7h34.7v2.8h-34.7zM331.0 1928.2h34.7v2.8h-34.7zM331.0 1958.9h34.7v2.8h-34.7zM331.0 2154.5h34.7v2.8h-34.7zM331.0 2162.9h34.7v2.8h-34.7zM331.0 2174.1h34.7v2.8h-34.7zM331.0 2238.3h34.7v2.8h-34.7zM331.0 2243.9h34.7v2.8h-34.7zM331.0 2271.8h34.7v2.8h-34.7zM331.0 2277.4h34.7v2.8h-34.7zM331.0 2361.2h34.7v2.8h-34.7zM331.0 2422.7h34.7v2.8h-34.7z"/>
<path fill="#cbe9f2" d="M53.4 1668.4h34.7v5.6h-34.7zM53.4 1693.5h34.7v2.8h-34.7zM53.4 1802.5h34.7v8.4h-34.7zM53.4 1900.3h34.7v2.8h-34.7zM53.4 1922.6h34.7v2.8h-34.7zM53.4 1933.8h34.7v2.8h-34.7zM53.4 2324.9h34.7v2.8h-34.7zM53.4 2361.2h34.7v2.8h-34.7zM53.4 2403.1h34.7v5.6h-34.7zM53.4 2417.1h34.7v2.8h-34.7zM53.4 2425.5h34.7v2.8h-34.7zM88.1 1377.8h34.7v2.8h-34.7zM88.1 1391.8h34.7v2.8h-34.7zM88.1 1796.9h34.7v2.8h-34.7zM88.1 1802.5h34.7v2.8h-34.7zM88.1 1810.9h34.7v2.8h-34.7zM88.1 1852.8h34.7v2.8h-34.7zM88.1 1939.4h34.7v2.8h-34.7zM88.1 1950.6h34.7v2.8h-34.7zM122.8 1727.1h34.7v2.8h-34.7zM122.8 1961.7h34.7v2.8h-34.7zM157.5 1721.5h34.7v2.8h-34.7zM157.5 1727.1h34.7v2.8h-34.7zM157.5 1738.2h34.7v5.6h-34.7zM157.5 1981.3h34.7v2.8h-34.7zM157.5 1992.5h34.7v2.8h-34.7zM157.5 2006.4h34.7v5.6h-34.7zM157.5 2042.8h34.7v2.8h-34.7zM157.5 2051.1h34.7v2.8h-34.7zM157.5 2056.7h34.7v2.8h-34.7zM157.5 2067.9h34.7v2.8h-34.7zM157.5 2095.8h34.7v2.8h-34.7zM157.5 2101.4h34.7v2.8h-34.7zM157.5 2118.2h34.7v5.6h-34.7zM157.5 2129.4h34.7v2.8h-34.7zM157.5 2174.1h34.7v2.8h-34.7zM157.5 2277.4h34.7v5.6h-34.7zM157.5 2305.4h34.7v2.8h-34.7zM157.5 2311.0h34.7v2.8h-34.7zM157.5 2324.9h34.7v8.4h-34.7zM157.5 2347.3h34.7v5.6h-34.7zM157.5 2378.0h34.7v2.8h-34.7zM157.5 2453.4h34.7v5.6h-34.7zM157.5 2461.8h34.7v2.8h-34.7zM192.2 1989.7h34.7v5.6h-34.7zM192.2 2009.2h34.7v2.8h-34.7zM192.2 2034.4h34.7v2.8h-34.7zM192.2 2067.9h34.7v2.8h-34.7zM192.2 2073.5h34.7v2.8h-34.7zM192.2 2081.9h34.7v2.8h-34.7zM192.2 2093.0h34.7v2.8h-34.7zM192.2 2112.6h34.7v2.8h-34.7zM192.2 2118.2h34.7v2.8h-34.7zM192.2 2157.3h34.7v2.8h-34.7zM192.2 2174.1h34.7v2.8h-34.7zM192.2 2190.8h34.7v2.8h-34.7zM192.2 2196.4h34.7v5.6h-34.7zM226.9 1539.9h34.7v2.8h-34.7zM226.9 1567.8h34.7v2.8h-34.7zM261.6 1358.3h34.7v2.8h-34.7zM261.6 1475.6h34.7v2.8h-34.7zM261.6 1595.8h34.7v2.8h-34.7zM261.6 1819.2h34.7v5.6h-34.7zM261.6 1830.4h34.7v2.8h-34.7zM261.6 1836.0h34.7v2.8h-34.7zM261.6 1908.7h34.7v2.8h-34.7zM261.6 2062.3h34.7v2.8h-34.7zM261.6 2118.2h34.7v2.8h-34.7zM296.3 1648.8h34.7v2.8h-34.7zM296.3 1674.0h34.7v2.8h-34.7zM296.3 1813.7h34.7v2.8h-34.7zM296.3 1819.2h34.7v2.8h-34.7zM296.3 1830.4h34.7v5.6h-34.7zM296.3 1838.8h34.7v2.8h-34.7zM296.3 1844.4h34.7v2.8h-34.7zM296.3 1889.1h34.7v5.6h-34.7zM296.3 1953.4h34.7v5.6h-34.7zM296.3 2009.2h34.7v2.8h-34.7zM296.3 2204.8h34.7v2.8h-34.7zM296.3 2235.5h34.7v2.8h-34.7zM296.3 2246.7h34.7v2.8h-34.7zM296.3 2366.8h34.7v2.8h-34.7zM296.3 2383.6h34.7v2.8h-34.7zM296.3 2389.2h34.7v2.8h-34.7zM296.3 2400.4h34.7v2.8h-34.7zM296.3 2419.9h34.7v2.8h-34.7zM331.0 1551.1h34.7v2.8h-34.7zM331.0 1796.9h34.7v2.8h-34.7zM331.0 1858.4h34.7v2.8h-34.7zM331.0 1877.9h34.7v2.8h-34.7zM331.0 1886.3h34.7v2.8h-34.7zM331.0 1914.2h34.7v2.8h-34.7zM331.0 1919.8h34.7v2.8h-34.7zM331.0 1953.4h34.7v5.6h-34.7zM331.0 1961.7h34.7v2.8h-34.7zM331.0 2090.2h34.7v5.6h-34.7zM331.0 2160.1h34.7v2.8h-34.7zM331.0 2171.3h34.7v2.8h-34.7zM331.0 2204.8h34.7v2.8h-34.7zM331.0 2216.0h34.7v2.8h-34.7zM331.0 2249.5h34.7v2.8h-34.7zM331.0 2263.5h34.7v2.8h-34.7zM331.0 2311.0h34.7v8.4h-34.7zM331.0 2375.2h34.7v2.8h-34.7zM331.0 2403.1h34.7v2.8h-34.7zM331.0 2428.3h34.7v2.8h-34.7z"/>
<path fill="#aad8e9" d="M53.4 1674.0h34.7v2.8h-34.7zM53.4 1785.7h34.7v2.8h-34.7zM157.5 1467.2h34.7v2.8h-34.7zM157.5 1964.5h34.7v2.8h-34.7zM157.5 1978.5h34.7v2.8h-34.7zM157.5 1984.1h34.7v2.8h-34.7zM261.6 1824.8h34.7v2.8h-34.7zM261.6 2243.9h34.7v2.8h-34.7zM296.3 1682.4h34.7v2.8h-34.7zM296.3 1788.5h34.7v2.8h-34.7zM296.3 1805.3h34.7v5.6h-34.7zM296.3 1964.5h34.7v11.2h-34.7zM296.3 2006.4h34.7v2.8h-34.7zM296.3 2311.0h34.7v2.8h-34.7zM296.3 2316.5h34.7v2.8h-34.7zM296.3 2408.7h34.7v2.8h-34.7zM296.3 2414.3h34.7v2.8h-34.7zM296.3 2461.8h34.7v2.8h-34.7zM331.0 1816.5h34.7v2.8h-34.7zM331.0 1830.4h34.7v2.8h-34.7zM331.0 1838.8h34.7v2.8h-34.7zM331.0 1875.1h34.7v2.8h-34.7zM331.0 2012.0h34.7v2.8h-34.7zM331.0 2070.7h34.7v2.8h-34.7zM331.0 2098.6h34.7v2.8h-34.7zM331.0 2109.8h34.7v2.8h-34.7zM331.0 2341.7h34.7v2.8h-34.7zM331.0 2347.3h34.7v5.6h-34.7z"/>
<path fill="#b2ddeb" d="M53.4 1679.6h34.7v2.8h-34.7zM53.4 1908.7h34.7v5.6h-34.7zM53.4 2297.0h34.7v2.8h-34.7zM53.4 2302.6h34.7v2.8h-34.7zM88.1 1805.3h34.7v2.8h-34.7zM88.1 1933.8h34.7v2.8h-34.7zM122.8 2070.7h34.7v2.8h-34.7zM157.5 1967.3h34.7v2.8h-34.7zM157.5 2045.5h34.7v5.6h-34.7zM157.5 2053.9h34.7v2.8h-34.7zM157.5 2431.1h34.7v2.8h-34.7zM157.5 2442.3h34.7v2.8h-34.7zM261.6 2241.1h34.7v2.8h-34.7zM296.3 1685.2h34.7v2.8h-34.7zM296.3 1713.1h34.7v2.8h-34.7zM296.3 1724.3h34.7v5.6h-34.7zM296.3 1735.4h34.7v2.8h-34.7zM296.3 1763.4h34.7v2.8h-34.7zM296.3 1769.0h34.7v2.8h-34.7zM296.3 1796.9h34.7v5.6h-34.7zM296.3 1847.2h34.7v2.8h-34.7zM296.3 1866.7h34.7v2.8h-34.7zM296.3 1911.4h34.7v2.8h-34.7zM296.3 1981.3h34.7v5.6h-34.7zM296.3 1995.3h34.7v2.8h-34.7zM296.3 2218.8h34.7v2.8h-34.7zM296.3 2392.0h34.7v2.8h-34.7zM296.3 2417.1h34.7v2.8h-34.7zM296.3 2422.7h34.7v2.8h-34.7zM331.0 1813.7h34.7v2.8h-34.7zM331.0 1970.1h34.7v2.8h-34.7zM331.0 2073.5h34.7v11.2h-34.7zM331.0 2087.5h34.7v2.8h-34.7zM331.0 2115.4h34.7v5.6h-34.7zM331.0 2165.7h34.7v2.8h-34.7zM331.0 2218.8h34.7v2.8h-34.7zM331.0 2333.3h34.7v2.8h-34.7zM331.0 2369.6h34.7v2.8h-34.7zM331.0 2386.4h34.7v2.8h-34.7zM331.0 2414.3h34.7v2.8h-34.7z"/>
<path fill="#c5e6f0" d="M53.4 1687.9h34.7v5.6h-34.7zM53.4 1696.3h34.7v5.6h-34.7zM53.4 1766.2h34.7v2.8h-34.7zM53.4 1771.8h34.7v5.6h-34.7zM53.4 1810.9h34.7v2.8h-34.7zM53.4 2411.5h34.7v2.8h-34.7zM53.4 2428.3h34.7v2.8h-34.7zM88.1 1942.2h34.7v2.8h-34.7zM88.1 1947.8h34.7v2.8h-34.7zM122.8 1718.7h34.7v2.8h-34.7zM122.8 1953.4h34.7v2.8h-34.7zM157.5 1732.6h34.7v2.8h-34.7zM157.5 1743.8h34.7v5.6h-34.7zM157.5 1777.3h34.7v5.6h-34.7zM157.5 1986.9h34.7v2.8h-34.7zM157.5 2014.8h34.7v2.8h-34.7zM157.5 2062.3h34.7v5.6h-34.7zM157.5 2073.5h34.7v2.8h-34.7zM157.5 2090.2h34.7v2.8h-34.7zM157.5 2151.7h34.7v2.8h-34.7zM157.5 2196.4h34.7v2.8h-34.7zM157.5 2322.1h34.7v2.8h-34.7zM157.5 2338.9h34.7v5.6h-34.7zM157.5 2386.4h34.7v2.8h-34.7zM157.5 2447.8h34.7v2.8h-34.7zM192.2 1986.9h34.7v2.8h-34.7zM192.2 1995.3h34.7v2.8h-34.7zM192.2 2006.4h34.7v2.8h-34.7zM192.2 2014.8h34.7v2.8h-34.7zM192.2 2028.8h34.7v2.8h-34.7zM192.2 2084.7h34.7v2.8h-34.7zM192.2 2168.5h34.7v5.6h-34.7zM261.6 1355.5h34.7v2.8h-34.7zM261.6 1531.5h34.7v2.8h-34.7zM261.6 1576.2h34.7v2.8h-34.7zM261.6 1827.6h34.7v2.8h-34.7zM261.6 1833.2h34.7v2.8h-34.7zM296.3 1699.1h34.7v2.8h-34.7zM296.3 1710.3h34.7v2.8h-34.7zM296.3 1738.2h34.7v2.8h-34.7zM296.3 1766.2h34.7v2.8h-34.7zM296.3 1780.1h34.7v2.8h-34.7zM296.3 1822.0h34.7v2.8h-34.7zM296.3 1841.6h34.7v2.8h-34.7zM296.3 1855.6h34.7v5.6h-34.7zM296.3 2014.8h34.7v2.8h-34.7zM296.3 2067.9h34.7v2.8h-34.7zM296.3 2090.2h34.7v2.8h-34.7zM296.3 2207.6h34.7v2.8h-34.7zM296.3 2227.1h34.7v2.8h-34.7zM296.3 2238.3h34.7v5.6h-34.7zM296.3 2297.0h34.7v2.8h-34.7zM296.3 2355.7h34.7v8.4h-34.7zM296.3 2378.0h34.7v2.8h-34.7zM296.3 2386.4h34.7v2.8h-34.7zM296.3 2405.9h34.7v2.8h-34.7zM331.0 1824.8h34.7v2.8h-34.7zM331.0 1836.0h34.7v2.8h-34.7zM331.0 1841.6h34.7v2.8h-34.7zM331.0 1847.2h34.7v2.8h-34.7zM331.0 1855.6h34.7v2.8h-34.7zM331.0 1864.0h34.7v2.8h-34.7zM331.0 1869.5h34.7v2.8h-34.7zM331.0 1897.5h34.7v2.8h-34.7zM331.0 1911.4h34.7v2.8h-34.7zM331.0 1936.6h34.7v2.8h-34.7zM331.0 2084.7h34.7v2.8h-34.7zM331.0 2107.0h34.7v2.8h-34.7zM331.0 2190.8h34.7v5.6h-34.7zM331.0 2202.0h34.7v2.8h-34.7zM331.0 2210.4h34.7v5.6h-34.7zM331.0 2221.6h34.7v2.8h-34.7zM331.0 2255.1h34.7v2.8h-34.7zM331.0 2280.2h34.7v2.8h-34.7zM331.0 2305.4h34.7v2.8h-34.7zM331.0 2352.9h34.7v2.8h-34.7zM331.0 2358.4h34.7v2.8h-34.7z"/>
<path fill="#fff0a8" d="M53.4 1841.6h34.7v2.8h-34.7zM53.4 2023.2h34.7v2.8h-34.7zM53.4 2140.5h34.7v2.8h-34.7zM53.4 2148.9h34.7v2.8h-34.7zM53.4 2190.8h34.7v5.6h-34.7zM53.4 2213.2h34.7v2.8h-34.7zM53.4 2447.8h34.7v2.8h-34.7zM53.4 2453.4h34.7v2.8h-34.7zM53.4 2464.6h34.7v2.8h-34.7zM88.1 1458.9h34.7v5.6h-34.7zM88.1 1620.9h34.7v2.8h-34.7zM88.1 1729.9h34.7v2.8h-34.7zM88.1 1741.0h34.7v2.8h-34.7zM88.1 1757.8h34.7v2.8h-34.7zM88.1 1780.1h34.7v2.8h-34.7zM88.1 1992.5h34.7v2.8h-34.7zM88.1 2028.8h34.7v5.6h-34.7zM88.1 2087.5h34.7v2.8h-34.7zM88.1 2319.3h34.7v2.8h-34.7zM88.1 2375.2h34.7v2.8h-34.7zM88.1 2392.0h34.7v2.8h-34.7zM122.8 1414.2h34.7v2.8h-34.7zM122.8 1450.5h34.7v2.8h-34.7zM122.8 1456.1h34.7v2.8h-34.7zM122.8 1584.6h34.7v2.8h-34.7zM122.8 1595.8h34.7v2.8h-34.7zM122.8 1665.6h34.7v2.8h-34.7zM122.8 1682.4h34.7v2.8h-34.7zM122.8 1701.9h34.7v2.8h-34.7zM122.8 1715.9h34.7v2.8h-34.7zM122.8 1777.3h34.7v2.8h-34.7zM122.8 1875.1h34.7v2.8h-34.7zM122.8 1989.7h34.7v2.8h-34.7zM122.8 2031.6h34.7v2.8h-34.7zM122.8 2305.4h34.7v2.8h-34.7zM122.8 2358.4h34.7v2.8h-34.7zM122.8 2364.0h34.7v2.8h-34.7zM122.8 2372.4h34.7v2.8h-34.7zM122.8 2394.8h34.7v2.8h-34.7zM122.8 2439.5h34.7v8.4h-34.7zM122.8 2450.6h34.7v2.8h-34.7zM157.5 1363.9h34.7v2.8h-34.7zM157.5 1397.4h34.7v2.8h-34.7zM157.5 1414.2h34.7v2.8h-34.7zM157.5 1425.3h34.7v2.8h-34.7zM157.5 1523.1h34.7v2.8h-34.7zM157.5 1570.6h34.7v2.8h-34.7zM157.5 1576.2h34.7v2.8h-34.7zM157.5 1581.8h34.7v2.8h-34.7zM157.5 1590.2h34.7v2.8h-34.7zM157.5 1604.1h34.7v2.8h-34.7zM157.5 1612.5h34.7v2.8h-34.7zM157.5 1629.3h34.7v2.8h-34.7zM157.5 1696.3h34.7v2.8h-34.7zM157.5 1785.7h34.7v2.8h-34.7zM157.5 1802.5h34.7v5.6h-34.7zM157.5 1838.8h34.7v2.8h-34.7zM157.5 1858.4h34.7v2.8h-34.7zM157.5 2260.7h34.7v2.8h-34.7zM192.2 1349.9h34.7v2.8h-34.7zM192.2 1366.7h34.7v5.6h-34.7zM192.2 1389.0h34.7v2.8h-34.7zM192.2 1403.0h34.7v2.8h-34.7zM192.2 1456.1h34.7v2.8h-34.7zM192.2 1570.6h34.7v2.8h-34.7zM192.2 1606.9h34.7v2.8h-34.7zM192.2 1632.1h34.7v5.6h-34.7zM192.2 1738.2h34.7v2.8h-34.7zM192.2 1752.2h34.7v5.6h-34.7zM192.2 1777.3h34.7v2.8h-34.7zM192.2 1808.1h34.7v2.8h-34.7zM192.2 1813.7h34.7v2.8h-34.7zM192.2 1819.2h34.7v2.8h-34.7zM192.2 1852.8h34.7v2.8h-34.7zM192.2 1872.3h34.7v2.8h-34.7zM192.2 1886.3h34.7v2.8h-34.7zM192.2 2302.6h34.7v2.8h-34.7zM192.2 2350.1h34.7v2.8h-34.7zM192.2 2355.7h34.7v8.4h-34.7zM192.2 2419.9h34.7v2.8h-34.7zM226.9 1397.4h34.7v2.8h-34.7zM226.9 1436.5h34.7v2.8h-34.7zM226.9 1674.0h34.7v2.8h-34.7zM226.9 1690.7h34.7v2.8h-34.7zM226.9 1699.1h34.7v2.8h-34.7zM226.9 1713.1h34.7v2.8h-34.7zM226.9 1724.3h34.7v2.8h-34.7zM226.9 1819.2h34.7v2.8h-34.7zM226.9 1852.8h34.7v2.8h-34.7zM226.9 1858.4h34.7v2.8h-34.7zM226.9 1875.1h34.7v2.8h-34.7zM226.9 1891.9h34.7v2.8h-34.7zM226.9 1936.6h34.7v2.8h-34.7zM226.9 2070.7h34.7v2.8h-34.7zM226.9 2081.9h34.7v5.6h-34.7zM226.9 2101.4h34.7v5.6h-34.7zM226.9 2148.9h34.7v2.8h-34.7zM226.9 2171.3h34.7v2.8h-34.7zM226.9 2227.1h34.7v2.8h-34.7zM226.9 2280.2h34.7v2.8h-34.7zM226.9 2285.8h34.7v2.8h-34.7zM261.6 1442.1h34.7v2.8h-34.7zM261.6 1629.3h34.7v2.8h-34.7zM261.6 1643.2h34.7v2.8h-34.7zM261.6 1766.2h34.7v5.6h-34.7zM261.6 1782.9h34.7v2.8h-34.7zM261.6 2093.0h34.7v2.8h-34.7zM261.6 2213.2h34.7v2.8h-34.7zM296.3 1506.4h34.7v2.8h-34.7zM296.3 1576.2h34.7v2.8h-34.7zM296.3 1634.9h34.7v2.8h-34.7zM331.0 1570.6h34.7v2.8h-34.7zM331.0 1699.1h34.7v2.8h-34.7zM331.0 1715.9h34.7v2.8h-34.7zM331.0 1763.4h34.7v2.8h-34.7z"/>
<path fill="#b9e0ed" d="M53.4 1889.1h34.7v2.8h-34.7zM53.4 1905.9h34.7v2.8h-34.7zM88.1 1945.0h34.7v2.8h-34.7zM157.5 1447.7h34.7v2.8h-34.7zM157.5 1774.6h34.7v2.8h-34.7zM157.5 1970.1h34.7v2.8h-34.7zM157.5 1975.7h34.7v2.8h-34.7zM157.5 1995.3h34.7v2.8h-34.7zM157.5 2017.6h34.7v5.6h-34.7zM157.5 2040.0h34.7v2.8h-34.7zM157.5 2439.5h34.7v2.8h-34.7zM157.5 2464.6h34.7v2.8h-34.7zM192.2 2104.2h34.7v2.8h-34.7zM261.6 1590.2h34.7v5.6h-34.7zM261.6 1816.5h34.7v2.8h-34.7zM261.6 2246.7h34.7v2.8h-34.7zM296.3 1676.8h34.7v2.8h-34.7zM296.3 1690.7h34.7v2.8h-34.7zM296.3 1729.9h34.7v2.8h-34.7zM296.3 1757.8h34.7v2.8h-34.7zM296.3 1771.8h34.7v2.8h-34.7zM296.3 1777.3h34.7v2.8h-34.7zM296.3 1782.9h34.7v2.8h-34.7zM296.3 1861.2h34.7v2.8h-34.7zM296.3 2095.8h34.7v2.8h-34.7zM296.3 2299.8h34.7v2.8h-34.7zM296.3 2425.5h34.7v2.8h-34.7zM296.3 2447.8h34.7v2.8h-34.7zM331.0 1822.0h34.7v2.8h-34.7zM331.0 1850.0h34.7v2.8h-34.7zM331.0 1880.7h34.7v2.8h-34.7zM331.0 1900.3h34.7v2.8h-34.7zM331.0 2014.8h34.7v2.8h-34.7zM331.0 2067.9h34.7v2.8h-34.7zM331.0 2157.3h34.7v2.8h-34.7zM331.0 2179.6h34.7v2.8h-34.7zM331.0 2224.3h34.7v2.8h-34.7zM331.0 2229.9h34.7v2.8h-34.7zM331.0 2235.5h34.7v2.8h-34.7zM331.0 2308.2h34.7v2.8h-34.7zM331.0 2336.1h34.7v2.8h-34.7zM331.0 2355.7h34.7v2.8h-34.7zM331.0 2364.0h34.7v2.8h-34.7zM331.0 2378.0h34.7v2.8h-34.7zM331.0 2389.2h34.7v5.6h-34.7zM331.0 2411.5h34.7v2.8h-34.7zM331.0 2419.9h34.7v2.8h-34.7z"/>
<path fill="#9dcee3" d="M53.4 1914.2h34.7v2.8h-34.7zM53.4 2299.8h34.7v2.8h-34.7zM157.5 1464.4h34.7v2.8h-34.7zM157.5 2026.0h34.7v2.8h-34.7zM157.5 2034.4h34.7v2.8h-34.7zM296.3 1718.7h34.7v2.8h-34.7zM296.3 1928.2h34.7v2.8h-34.7zM296.3 2308.2h34.7v2.8h-34.7zM296.3 2313.7h34.7v2.8h-34.7zM296.3 2450.6h34.7v2.8h-34.7zM331.0 1453.3h34.7v2.8h-34.7zM331.0 1998.1h34.7v5.6h-34.7zM331.0 2241.1h34.7v2.8h-34.7zM331.0 2297.0h34.7v2.8h-34.7zM331.0 2327.7h34.7v2.8h-34.7zM331.0 2344.5h34.7v2.8h-34.7zM331.0 2397.6h34.7v2.8h-34.7z"/>
<path fill="#fb9d59" d="M53.4 2067.9h34.7v2.8h-34.7zM53.4 2076.3h34.7v2.8h-34.7zM88.1 2165.7h34.7v2.8h-34.7zM226.9 1763.4h34.7v2.8h-34.7zM226.9 1769.0h34.7v2.8h-34.7zM226.9 1986.9h34.7v2.8h-34.7zM226.9 2000.8h34.7v2.8h-34.7zM226.9 2297.0h34.7v2.8h-34.7zM226.9 2333.3h34.7v2.8h-34.7zM226.9 2411.5h34.7v2.8h-34.7zM261.6 2288.6h34.7v2.8h-34.7zM331.0 1690.7h34.7v2.8h-34.7z"/>
<path fill="#f88c51" d="M53.4 2070.7h34.7v5.6h-34.7zM88.1 2154.5h34.7v2.8h-34.7zM226.9 2422.7h34.7v2.8h-34.7zM226.9 2431.1h34.7v2.8h-34.7zM226.9 2456.2h34.7v2.8h-34.7zM226.9 2461.8h34.7v2.8h-34.7zM261.6 2361.2h34.7v2.8h-34.7zM261.6 2369.6h34.7v2.8h-34.7zM261.6 2447.8h34.7v2.8h-34.7zM331.0 1408.6h34.7v5.6h-34.7z"/>
<path fill="#fdad60" d="M53.4 2104.2h34.7v2.8h-34.7zM88.1 2151.7h34.7v2.8h-34.7zM157.5 1634.9h34.7v2.8h-34.7zM192.2 1903.1h34.7v2.8h-34.7zM226.9 1461.7h34.7v2.8h-34.7zM226.9 1757.8h34.7v2.8h-34.7zM226.9 1771.8h34.7v2.8h-34.7zM226.9 1805.3h34.7v2.8h-34.7zM226.9 1998.1h34.7v2.8h-34.7zM226.9 2383.6h34.7v2.8h-34.7zM226.9 2400.4h34.7v2.8h-34.7zM226.9 2405.9h34.7v2.8h-34.7zM226.9 2447.8h34.7v2.8h-34.7zM226.9 2453.4h34.7v2.8h-34.7zM261.6 2294.2h34.7v2.8h-34.7zM261.6 2389.2h34.7v2.8h-34.7zM261.6 2408.7h34.7v2.8h-34.7z"/>
<path fill="#fdc173" d="M88.1 1743.8h34.7v2.8h-34.7zM88.1 1984.1h34.7v2.8h-34.7zM88.1 2134.9h34.7v2.8h-34.7zM88.1 2160.1h34.7v2.8h-34.7zM88.1 2227.1h34.7v2.8h-34.7zM88.1 2263.5h34.7v5.6h-34.7zM122.8 1822.0h34.7v2.8h-34.7zM122.8 1933.8h34.7v5.6h-34.7zM122.8 1950.6h34.7v2.8h-34.7zM122.8 2023.2h34.7v2.8h-34.7zM122.8 2037.2h34.7v2.8h-34.7zM157.5 1565.0h34.7v2.8h-34.7zM192.2 1556.6h34.7v2.8h-34.7zM192.2 1598.5h34.7v8.4h-34.7zM192.2 1950.6h34.7v2.8h-34.7zM226.9 1444.9h34.7v5.6h-34.7zM226.9 1718.7h34.7v5.6h-34.7zM226.9 1785.7h34.7v2.8h-34.7zM226.9 1799.7h34.7v2.8h-34.7zM226.9 1810.9h34.7v2.8h-34.7zM226.9 1956.1h34.7v2.8h-34.7zM226.9 1978.5h34.7v2.8h-34.7zM226.9 2009.2h34.7v2.8h-34.7zM226.9 2174.1h34.7v2.8h-34.7zM226.9 2305.4h34.7v2.8h-34.7zM226.9 2338.9h34.7v5.6h-34.7zM226.9 2375.2h34.7v2.8h-34.7zM226.9 2386.4h34.7v2.8h-34.7zM226.9 2403.1h34.7v2.8h-34.7zM226.9 2414.3h34.7v2.8h-34.7zM226.9 2445.1h34.7v2.8h-34.7zM261.6 2316.5h34.7v2.8h-34.7zM261.6 2344.5h34.7v5.6h-34.7zM261.6 2380.8h34.7v2.8h-34.7zM261.6 2403.1h34.7v2.8h-34.7zM261.6 2428.3h34.7v2.8h-34.7zM296.3 1637.7h34.7v2.8h-34.7zM331.0 1391.8h34.7v2.8h-34.7zM331.0 1400.2h34.7v2.8h-34.7zM331.0 1486.8h34.7v2.8h-34.7zM331.0 1643.2h34.7v2.8h-34.7z"/>
<path fill="#f46d43" d="M88.1 1953.4h34.7v2.8h-34.7zM261.6 2431.1h34.7v2.8h-34.7zM331.0 1422.5h34.7v2.8h-34.7z"/>
<path fill="#f67c4a" d="M122.8 1947.8h34.7v2.8h-34.7zM226.9 2450.6h34.7v2.8h-34.7zM261.6 1956.1h34.7v2.8h-34.7zM331.0 1414.2h34.7v2.8h-34.7zM331.0 1433.7h34.7v2.8h-34.7z"/>
<path fill="#a3d3e6" d="M157.5 1444.9h34.7v2.8h-34.7zM157.5 2028.8h34.7v2.8h-34.7zM157.5 2037.2h34.7v2.8h-34.7zM157.5 2436.7h34.7v2.8h-34.7zM157.5 2445.1h34.7v2.8h-34.7zM261.6 2274.6h34.7v2.8h-34.7zM296.3 1442.1h34.7v5.6h-34.7zM296.3 1687.9h34.7v2.8h-34.7zM296.3 1715.9h34.7v2.8h-34.7zM296.3 1774.6h34.7v2.8h-34.7zM296.3 1791.3h34.7v2.8h-34.7zM296.3 1810.9h34.7v2.8h-34.7zM296.3 1903.1h34.7v5.6h-34.7zM296.3 2020.4h34.7v2.8h-34.7zM296.3 2302.6h34.7v5.6h-34.7zM296.3 2319.3h34.7v2.8h-34.7zM296.3 2453.4h34.7v8.4h-34.7zM331.0 1450.5h34.7v2.8h-34.7zM331.0 1461.7h34.7v2.8h-34.7zM331.0 1810.9h34.7v2.8h-34.7zM331.0 1986.9h34.7v2.8h-34.7zM331.0 1992.5h34.7v2.8h-34.7zM331.0 2009.2h34.7v2.8h-34.7zM331.0 2028.8h34.7v2.8h-34.7zM331.0 2104.2h34.7v2.8h-34.7zM331.0 2207.6h34.7v2.8h-34.7zM331.0 2330.5h34.7v2.8h-34.7zM331.0 2338.9h34.7v2.8h-34.7zM331.0 2380.8h34.7v2.8h-34.7zM331.0 2405.9h34.7v2.8h-34.7z"/>
<path fill="#97c9e0" d="M157.5 1470.0h34.7v2.8h-34.7zM157.5 2023.2h34.7v2.8h-34.7zM157.5 2031.6h34.7v2.8h-34.7zM261.6 2280.2h34.7v2.8h-34.7zM296.3 1456.1h34.7v2.8h-34.7zM296.3 1461.7h34.7v5.6h-34.7zM296.3 1802.5h34.7v2.8h-34.7zM296.3 2012.0h34.7v2.8h-34.7zM296.3 2040.0h34.7v2.8h-34.7zM296.3 2274.6h34.7v8.4h-34.7zM331.0 1458.9h34.7v2.8h-34.7zM331.0 1799.7h34.7v2.8h-34.7zM331.0 1805.3h34.7v2.8h-34.7zM331.0 1827.6h34.7v2.8h-34.7zM331.0 1967.3h34.7v2.8h-34.7zM331.0 1995.3h34.7v2.8h-34.7zM331.0 2299.8h34.7v2.8h-34.7z"/>
<path fill="#f57547" d="M226.9 1808.1h34.7v2.8h-34.7zM226.9 2299.8h34.7v2.8h-34.7zM261.6 2291.4h34.7v2.8h-34.7zM261.6 2355.7h34.7v2.8h-34.7zM261.6 2364.0h34.7v2.8h-34.7z"/>
<path fill="#ec5c3b" d="M226.9 2459.0h34.7v2.8h-34.7zM261.6 2366.8h34.7v2.8h-34.7zM331.0 1425.3h34.7v2.8h-34.7z"/>
<path fill="#7ab2d4" d="M261.6 2277.4h34.7v2.8h-34.7zM296.3 1922.6h34.7v2.8h-34.7zM296.3 2017.6h34.7v2.8h-34.7zM296.3 2026.0h34.7v2.8h-34.7zM296.3 2051.1h34.7v2.8h-34.7zM296.3 2330.5h34.7v2.8h-34.7zM296.3 2344.5h34.7v2.8h-34.7zM331.0 2026.0h34.7v2.8h-34.7zM331.0 2031.6h34.7v2.8h-34.7z"/>
<path fill="#e24731" d="M261.6 2283.0h34.7v2.8h-34.7zM331.0 1417.0h34.7v2.8h-34.7z"/>
<path fill="#ca2427" d="M261.6 2297.0h34.7v8.4h-34.7z"/>
<path fill="#81b7d7" d="M296.3 1380.6h34.7v2.8h-34.7zM296.3 1470.0h34.7v2.8h-34.7zM296.3 1917.0h34.7v2.8h-34.7zM296.3 1925.4h34.7v2.8h-34.7zM296.3 2037.2h34.7v2.8h-34.7zM296.3 2065.1h34.7v2.8h-34.7zM296.3 2324.9h34.7v5.6h-34.7zM331.0 1456.1h34.7v2.8h-34.7zM331.0 2003.6h34.7v2.8h-34.7zM331.0 2017.6h34.7v2.8h-34.7zM331.0 2037.2h34.7v2.8h-34.7z"/>
<path fill="#74add1" d="M296.3 1447.7h34.7v2.8h-34.7zM296.3 2023.2h34.7v2.8h-34.7zM296.3 2034.4h34.7v2.8h-34.7zM296.3 2048.3h34.7v2.8h-34.7zM296.3 2336.1h34.7v2.8h-34.7zM296.3 2445.1h34.7v2.8h-34.7zM331.0 1964.5h34.7v2.8h-34.7z"/>
<path fill="#36459c" d="M296.3 1450.5h34.7v2.8h-34.7z"/>
<path fill="#679ec9" d="M296.3 1453.3h34.7v2.8h-34.7zM296.3 2059.5h34.7v5.6h-34.7zM296.3 2436.7h34.7v2.8h-34.7zM331.0 2023.2h34.7v2.8h-34.7zM331.0 2062.3h34.7v2.8h-34.7zM331.0 2447.8h34.7v2.8h-34.7z"/>
<path fill="#6297c6" d="M296.3 1458.9h34.7v2.8h-34.7zM331.0 1447.7h34.7v2.8h-34.7zM331.0 2045.5h34.7v5.6h-34.7zM331.0 2065.1h34.7v2.8h-34.7zM331.0 2461.8h34.7v2.8h-34.7z"/>
<path fill="#87bdd9" d="M296.3 1914.2h34.7v2.8h-34.7zM296.3 2028.8h34.7v5.6h-34.7zM296.3 2322.1h34.7v2.8h-34.7zM296.3 2333.3h34.7v2.8h-34.7zM296.3 2338.9h34.7v5.6h-34.7zM296.3 2464.6h34.7v2.8h-34.7zM331.0 1808.1h34.7v2.8h-34.7zM331.0 1972.9h34.7v5.6h-34.7zM331.0 2040.0h34.7v2.8h-34.7zM331.0 2051.1h34.7v2.8h-34.7zM331.0 2101.4h34.7v2.8h-34.7z"/>
<path fill="#6ea6ce" d="M296.3 1919.8h34.7v2.8h-34.7zM296.3 2045.5h34.7v2.8h-34.7zM296.3 2347.3h34.7v2.8h-34.7zM331.0 1444.9h34.7v2.8h-34.7zM331.0 2034.4h34.7v2.8h-34.7zM331.0 2042.8h34.7v2.8h-34.7zM331.0 2059.5h34.7v2.8h-34.7z"/>
<path fill="#3e5ea8" d="M296.3 2042.8h34.7v2.8h-34.7zM331.0 2431.1h34.7v5.6h-34.7z"/>
<path fill="#578abf" d="M296.3 2053.9h34.7v2.8h-34.7zM296.3 2431.1h34.7v2.8h-34.7zM296.3 2439.5h34.7v2.8h-34.7zM331.0 2450.6h34.7v8.4h-34.7z"/>
<path fill="#5c90c2" d="M296.3 2056.7h34.7v2.8h-34.7zM296.3 2433.9h34.7v2.8h-34.7zM331.0 1978.5h34.7v2.8h-34.7zM331.0 2053.9h34.7v5.6h-34.7z"/>
<path fill="#4065ac" d="M296.3 2442.3h34.7v2.8h-34.7z"/>
<path fill="#b10b26" d="M331.0 1349.9h34.7v25.1h-34.7zM331.0 1386.2h34.7v2.8h-34.7zM331.0 1428.1h34.7v5.6h-34.7z"/>
<path fill="#da362a" d="M331.0 1419.7h34.7v2.8h-34.7z"/>
<path fill="#dd3d2d" d="M331.0 1436.5h34.7v2.8h-34.7z"/>
<path fill="#ffffff" d="M331.0 1439.3h34.7v2.8h-34.7z"/>
<path fill="#4574b3" d="M331.0 1442.1h34.7v2.8h-34.7zM331.0 2439.5h34.7v2.8h-34.7z"/>
<path fill="#5183bb" d="M331.0 1981.3h34.7v5.6h-34.7zM331.0 2436.7h34.7v2.8h-34.7zM331.0 2442.3h34.7v2.8h-34.7zM331.0 2464.6h34.7v2.8h-34.7z"/>
<path fill="#4a7ab7" d="M331.0 2445.1h34.7v2.8h-34.7z"/>
<path fill="#426cb0" d="M331.0 2459.0h34.7v2.8h-34.7z"/>
</g>
<line x1="365.70" y1="1352.50" x2="370.20" y2="1352.50" stroke="#222" stroke-width="1.1"/>
<text x="374.2" y="1357.1" style="font-family:'DejaVu Sans','Liberation Sans',sans-serif;font-size:12.3px;font-weight:normal" text-anchor="start" fill="#111" textLength="27.9" lengthAdjust="spacingAndGlyphs">Cnp</text>
<line x1="365.70" y1="1366.47" x2="370.20" y2="1366.47" stroke="#222" stroke-width="1.1"/>
<text x="374.2" y="1371.1" style="font-family:'DejaVu Sans','Liberation Sans',sans-serif;font-size:12.3px;font-weight:normal" text-anchor="start" fill="#111" textLength="34.1" lengthAdjust="spacingAndGlyphs">Tns3</text>
<line x1="365.70" y1="1380.43" x2="370.20" y2="1380.43" stroke="#222" stroke-width="1.1"/>
<text x="374.2" y="1385.0" style="font-family:'DejaVu Sans','Liberation Sans',sans-serif;font-size:12.3px;font-weight:normal" text-anchor="start" fill="#111" textLength="50.5" lengthAdjust="spacingAndGlyphs">Cadm4</text>
<line x1="365.70" y1="1394.40" x2="370.20" y2="1394.40" stroke="#222" stroke-width="1.1"/>
<text x="374.2" y="1399.0" style="font-family:'DejaVu Sans','Liberation Sans',sans-serif;font-size:12.3px;font-weight:normal" text-anchor="start" fill="#111" textLength="38.5" lengthAdjust="spacingAndGlyphs">Ntsr2</text>
<line x1="365.70" y1="1408.37" x2="370.20" y2="1408.37" stroke="#222" stroke-width="1.1"/>
<text x="374.2" y="1413.0" style="font-family:'DejaVu Sans','Liberation Sans',sans-serif;font-size:12.3px;font-weight:normal" text-anchor="start" fill="#111" textLength="42.3" lengthAdjust="spacingAndGlyphs">Arap2</text>
<line x1="365.70" y1="1422.34" x2="370.20" y2="1422.34" stroke="#222" stroke-width="1.1"/>
<text x="374.2" y="1426.9" style="font-family:'DejaVu Sans','Liberation Sans',sans-serif;font-size:12.3px;font-weight:normal" text-anchor="start" fill="#111" textLength="25.5" lengthAdjust="spacingAndGlyphs">Pllp</text>
<line x1="365.70" y1="1436.31" x2="370.20" y2="1436.31" stroke="#222" stroke-width="1.1"/>
<text x="374.2" y="1440.9" style="font-family:'DejaVu Sans','Liberation Sans',sans-serif;font-size:12.3px;font-weight:normal" text-anchor="start" fill="#111" textLength="50.2" lengthAdjust="spacingAndGlyphs">Ptpn11</text>
<line x1="365.70" y1="1450.28" x2="370.20" y2="1450.28" stroke="#222" stroke-width="1.1"/>
<text x="374.2" y="1454.9" style="font-family:'DejaVu Sans','Liberation Sans',sans-serif;font-size:12.3px;font-weight:normal" text-anchor="start" fill="#111" textLength="38.8" lengthAdjust="spacingAndGlyphs">Grin1</text>
<line x1="365.70" y1="1464.25" x2="370.20" y2="1464.25" stroke="#222" stroke-width="1.1"/>
<text x="374.2" y="1468.8" style="font-family:'DejaVu Sans','Liberation Sans',sans-serif;font-size:12.3px;font-weight:normal" text-anchor="start" fill="#111" textLength="53.0" lengthAdjust="spacingAndGlyphs">Shank1</text>
<line x1="365.70" y1="1478.22" x2="370.20" y2="1478.22" stroke="#222" stroke-width="1.1"/>
<text x="374.2" y="1482.8" style="font-family:'DejaVu Sans','Liberation Sans',sans-serif;font-size:12.3px;font-weight:normal" text-anchor="start" fill="#111" textLength="35.2" lengthAdjust="spacingAndGlyphs">Traf4</text>
<line x1="365.70" y1="1492.18" x2="370.20" y2="1492.18" stroke="#222" stroke-width="1.1"/>
<text x="374.2" y="1496.8" style="font-family:'DejaVu Sans','Liberation Sans',sans-serif;font-size:12.3px;font-weight:normal" text-anchor="start" fill="#111" textLength="46.6" lengthAdjust="spacingAndGlyphs">Tgfbr1</text>
<line x1="365.70" y1="1506.15" x2="370.20" y2="1506.15" stroke="#222" stroke-width="1.1"/>
<text x="374.2" y="1510.8" style="font-family:'DejaVu Sans','Liberation Sans',sans-serif;font-size:12.3px;font-weight:normal" text-anchor="start" fill="#111" textLength="30.5" lengthAdjust="spacingAndGlyphs">Pam</text>
<line x1="365.70" y1="1520.12" x2="370.20" y2="1520.12" stroke="#222" stroke-width="1.1"/>
<text x="374.2" y="1524.7" style="font-family:'DejaVu Sans','Liberation Sans',sans-serif;font-size:12.3px;font-weight:normal" text-anchor="start" fill="#111" textLength="38.8" lengthAdjust="spacingAndGlyphs">Krt75</text>
<line x1="365.70" y1="1534.09" x2="370.20" y2="1534.09" stroke="#222" stroke-width="1.1"/>
<text x="374.2" y="1538.7" style="font-family:'DejaVu Sans','Liberation Sans',sans-serif;font-size:12.3px;font-weight:normal" text-anchor="start" fill="#111" textLength="33.6" lengthAdjust="spacingAndGlyphs">Pck1</text>
<line x1="365.70" y1="1548.06" x2="370.20" y2="1548.06" stroke="#222" stroke-width="1.1"/>
<text x="374.2" y="1552.7" style="font-family:'DejaVu Sans','Liberation Sans',sans-serif;font-size:12.3px;font-weight:normal" text-anchor="start" fill="#111" textLength="34.4" lengthAdjust="spacingAndGlyphs">Trib2</text>
<line x1="365.70" y1="1562.03" x2="370.20" y2="1562.03" stroke="#222" stroke-width="1.1"/>
<text x="374.2" y="1566.6" style="font-family:'DejaVu Sans','Liberation Sans',sans-serif;font-size:12.3px;font-weight:normal" text-anchor="start" fill="#111" textLength="34.9" lengthAdjust="spacingAndGlyphs">Scg3</text>
<line x1="365.70" y1="1576.00" x2="370.20" y2="1576.00" stroke="#222" stroke-width="1.1"/>
<text x="374.2" y="1580.6" style="font-family:'DejaVu Sans','Liberation Sans',sans-serif;font-size:12.3px;font-weight:normal" text-anchor="start" fill="#111" textLength="34.1" lengthAdjust="spacingAndGlyphs">Tns1</text>
<line x1="365.70" y1="1589.97" x2="370.20" y2="1589.97" stroke="#222" stroke-width="1.1"/>
<text x="374.2" y="1594.6" style="font-family:'DejaVu Sans','Liberation Sans',sans-serif;font-size:12.3px;font-weight:normal" text-anchor="start" fill="#111" textLength="51.4" lengthAdjust="spacingAndGlyphs">Zbtb32</text>
<line x1="365.70" y1="1603.93" x2="370.20" y2="1603.93" stroke="#222" stroke-width="1.1"/>
<text x="374.2" y="1608.5" style="font-family:'DejaVu Sans','Liberation Sans',sans-serif;font-size:12.3px;font-weight:normal" text-anchor="start" fill="#111" textLength="46.6" lengthAdjust="spacingAndGlyphs">Zfpm2</text>
<line x1="365.70" y1="1617.90" x2="370.20" y2="1617.90" stroke="#222" stroke-width="1.1"/>
<text x="374.2" y="1622.5" style="font-family:'DejaVu Sans','Liberation Sans',sans-serif;font-size:12.3px;font-weight:normal" text-anchor="start" fill="#111" textLength="22.9" lengthAdjust="spacingAndGlyphs">Cbl</text>
<line x1="365.70" y1="1631.87" x2="370.20" y2="1631.87" stroke="#222" stroke-width="1.1"/>
<text x="374.2" y="1636.5" style="font-family:'DejaVu Sans','Liberation Sans',sans-serif;font-size:12.3px;font-weight:normal" text-anchor="start" fill="#111" textLength="51.9" lengthAdjust="spacingAndGlyphs">Atp1B2</text>
<line x1="365.70" y1="1645.84" x2="370.20" y2="1645.84" stroke="#222" stroke-width="1.1"/>
<text x="374.2" y="1650.4" style="font-family:'DejaVu Sans','Liberation Sans',sans-serif;font-size:12.3px;font-weight:normal" text-anchor="start" fill="#111" textLength="46.5" lengthAdjust="spacingAndGlyphs">Mtmr2</text>
<line x1="365.70" y1="1659.81" x2="370.20" y2="1659.81" stroke="#222" stroke-width="1.1"/>
<text x="374.2" y="1664.4" style="font-family:'DejaVu Sans','Liberation Sans',sans-serif;font-size:12.3px;font-weight:normal" text-anchor="start" fill="#111" textLength="64.5" lengthAdjust="spacingAndGlyphs">Cep170B</text>
<line x1="365.70" y1="1673.78" x2="370.20" y2="1673.78" stroke="#222" stroke-width="1.1"/>
<text x="374.2" y="1678.4" style="font-family:'DejaVu Sans','Liberation Sans',sans-serif;font-size:12.3px;font-weight:normal" text-anchor="start" fill="#111" textLength="51.2" lengthAdjust="spacingAndGlyphs">Ctnna2</text>
<line x1="365.70" y1="1687.75" x2="370.20" y2="1687.75" stroke="#222" stroke-width="1.1"/>
<text x="374.2" y="1692.3" style="font-family:'DejaVu Sans','Liberation Sans',sans-serif;font-size:12.3px;font-weight:normal" text-anchor="start" fill="#111" textLength="45.2" lengthAdjust="spacingAndGlyphs">Cdk16</text>
<line x1="365.70" y1="1701.72" x2="370.20" y2="1701.72" stroke="#222" stroke-width="1.1"/>
<text x="374.2" y="1706.3" style="font-family:'DejaVu Sans','Liberation Sans',sans-serif;font-size:12.3px;font-weight:normal" text-anchor="start" fill="#111" textLength="50.7" lengthAdjust="spacingAndGlyphs">Adora1</text>
<line x1="365.70" y1="1715.68" x2="370.20" y2="1715.68" stroke="#222" stroke-width="1.1"/>
<text x="374.2" y="1720.3" style="font-family:'DejaVu Sans','Liberation Sans',sans-serif;font-size:12.3px;font-weight:normal" text-anchor="start" fill="#111" textLength="36.3" lengthAdjust="spacingAndGlyphs">Klf13</text>
<line x1="365.70" y1="1729.65" x2="370.20" y2="1729.65" stroke="#222" stroke-width="1.1"/>
<text x="374.2" y="1734.3" style="font-family:'DejaVu Sans','Liberation Sans',sans-serif;font-size:12.3px;font-weight:normal" text-anchor="start" fill="#111" textLength="42.3" lengthAdjust="spacingAndGlyphs">Dctn2</text>
<line x1="365.70" y1="1743.62" x2="370.20" y2="1743.62" stroke="#222" stroke-width="1.1"/>
<text x="374.2" y="1748.2" style="font-family:'DejaVu Sans','Liberation Sans',sans-serif;font-size:12.3px;font-weight:normal" text-anchor="start" fill="#111" textLength="41.4" lengthAdjust="spacingAndGlyphs">Fscn1</text>
<line x1="365.70" y1="1757.59" x2="370.20" y2="1757.59" stroke="#222" stroke-width="1.1"/>
<text x="374.2" y="1762.2" style="font-family:'DejaVu Sans','Liberation Sans',sans-serif;font-size:12.3px;font-weight:normal" text-anchor="start" fill="#111" textLength="36.0" lengthAdjust="spacingAndGlyphs">Sulf2</text>
<line x1="365.70" y1="1771.56" x2="370.20" y2="1771.56" stroke="#222" stroke-width="1.1"/>
<text x="374.2" y="1776.2" style="font-family:'DejaVu Sans','Liberation Sans',sans-serif;font-size:12.3px;font-weight:normal" text-anchor="start" fill="#111" textLength="41.1" lengthAdjust="spacingAndGlyphs">Wbp2</text>
<line x1="365.70" y1="1785.53" x2="370.20" y2="1785.53" stroke="#222" stroke-width="1.1"/>
<text x="374.2" y="1790.1" style="font-family:'DejaVu Sans','Liberation Sans',sans-serif;font-size:12.3px;font-weight:normal" text-anchor="start" fill="#111" textLength="31.2" lengthAdjust="spacingAndGlyphs">Ttll7</text>
<line x1="365.70" y1="1799.50" x2="370.20" y2="1799.50" stroke="#222" stroke-width="1.1"/>
<text x="374.2" y="1804.1" style="font-family:'DejaVu Sans','Liberation Sans',sans-serif;font-size:12.3px;font-weight:normal" text-anchor="start" fill="#111" textLength="45.3" lengthAdjust="spacingAndGlyphs">Igfbp4</text>
<line x1="365.70" y1="1813.47" x2="370.20" y2="1813.47" stroke="#222" stroke-width="1.1"/>
<text x="374.2" y="1818.1" style="font-family:'DejaVu Sans','Liberation Sans',sans-serif;font-size:12.3px;font-weight:normal" text-anchor="start" fill="#111" textLength="39.2" lengthAdjust="spacingAndGlyphs">Prkcg</text>
<line x1="365.70" y1="1827.43" x2="370.20" y2="1827.43" stroke="#222" stroke-width="1.1"/>
<text x="374.2" y="1832.0" style="font-family:'DejaVu Sans','Liberation Sans',sans-serif;font-size:12.3px;font-weight:normal" text-anchor="start" fill="#111" textLength="25.3" lengthAdjust="spacingAndGlyphs">Svil</text>
<line x1="365.70" y1="1841.40" x2="370.20" y2="1841.40" stroke="#222" stroke-width="1.1"/>
<text x="374.2" y="1846.0" style="font-family:'DejaVu Sans','Liberation Sans',sans-serif;font-size:12.3px;font-weight:normal" text-anchor="start" fill="#111" textLength="48.3" lengthAdjust="spacingAndGlyphs">Trim46</text>
<line x1="365.70" y1="1855.37" x2="370.20" y2="1855.37" stroke="#222" stroke-width="1.1"/>
<text x="374.2" y="1860.0" style="font-family:'DejaVu Sans','Liberation Sans',sans-serif;font-size:12.3px;font-weight:normal" text-anchor="start" fill="#111" textLength="53.1" lengthAdjust="spacingAndGlyphs">B3Gat1</text>
<line x1="365.70" y1="1869.34" x2="370.20" y2="1869.34" stroke="#222" stroke-width="1.1"/>
<text x="374.2" y="1873.9" style="font-family:'DejaVu Sans','Liberation Sans',sans-serif;font-size:12.3px;font-weight:normal" text-anchor="start" fill="#111" textLength="34.3" lengthAdjust="spacingAndGlyphs">Ubr3</text>
<line x1="365.70" y1="1883.31" x2="370.20" y2="1883.31" stroke="#222" stroke-width="1.1"/>
<text x="374.2" y="1887.9" style="font-family:'DejaVu Sans','Liberation Sans',sans-serif;font-size:12.3px;font-weight:normal" text-anchor="start" fill="#111" textLength="32.0" lengthAdjust="spacingAndGlyphs">Etv5</text>
<line x1="365.70" y1="1897.28" x2="370.20" y2="1897.28" stroke="#222" stroke-width="1.1"/>
<text x="374.2" y="1901.9" style="font-family:'DejaVu Sans','Liberation Sans',sans-serif;font-size:12.3px;font-weight:normal" text-anchor="start" fill="#111" textLength="72.2" lengthAdjust="spacingAndGlyphs">Tmem178</text>
<line x1="365.70" y1="1911.25" x2="370.20" y2="1911.25" stroke="#222" stroke-width="1.1"/>
<text x="374.2" y="1915.8" style="font-family:'DejaVu Sans','Liberation Sans',sans-serif;font-size:12.3px;font-weight:normal" text-anchor="start" fill="#111" textLength="50.7" lengthAdjust="spacingAndGlyphs">Hs3St4</text>
<line x1="365.70" y1="1925.22" x2="370.20" y2="1925.22" stroke="#222" stroke-width="1.1"/>
<text x="374.2" y="1929.8" style="font-family:'DejaVu Sans','Liberation Sans',sans-serif;font-size:12.3px;font-weight:normal" text-anchor="start" fill="#111" textLength="50.8" lengthAdjust="spacingAndGlyphs">Zfp365</text>
<line x1="365.70" y1="1939.18" x2="370.20" y2="1939.18" stroke="#222" stroke-width="1.1"/>
<text x="374.2" y="1943.8" style="font-family:'DejaVu Sans','Liberation Sans',sans-serif;font-size:12.3px;font-weight:normal" text-anchor="start" fill="#111" textLength="38.0" lengthAdjust="spacingAndGlyphs">Grik3</text>
<line x1="365.70" y1="1953.15" x2="370.20" y2="1953.15" stroke="#222" stroke-width="1.1"/>
<text x="374.2" y="1957.8" style="font-family:'DejaVu Sans','Liberation Sans',sans-serif;font-size:12.3px;font-weight:normal" text-anchor="start" fill="#111" textLength="27.5" lengthAdjust="spacingAndGlyphs">Etl4</text>
<line x1="365.70" y1="1967.12" x2="370.20" y2="1967.12" stroke="#222" stroke-width="1.1"/>
<text x="374.2" y="1971.7" style="font-family:'DejaVu Sans','Liberation Sans',sans-serif;font-size:12.3px;font-weight:normal" text-anchor="start" fill="#111" textLength="55.3" lengthAdjust="spacingAndGlyphs">Sult4A1</text>
<line x1="365.70" y1="1981.09" x2="370.20" y2="1981.09" stroke="#222" stroke-width="1.1"/>
<text x="374.2" y="1985.7" style="font-family:'DejaVu Sans','Liberation Sans',sans-serif;font-size:12.3px;font-weight:normal" text-anchor="start" fill="#111" textLength="51.6" lengthAdjust="spacingAndGlyphs">Coro1A</text>
<line x1="365.70" y1="1995.06" x2="370.20" y2="1995.06" stroke="#222" stroke-width="1.1"/>
<text x="374.2" y="1999.7" style="font-family:'DejaVu Sans','Liberation Sans',sans-serif;font-size:12.3px;font-weight:normal" text-anchor="start" fill="#111" textLength="45.5" lengthAdjust="spacingAndGlyphs">Apba2</text>
<line x1="365.70" y1="2009.03" x2="370.20" y2="2009.03" stroke="#222" stroke-width="1.1"/>
<text x="374.2" y="2013.6" style="font-family:'DejaVu Sans','Liberation Sans',sans-serif;font-size:12.3px;font-weight:normal" text-anchor="start" fill="#111" textLength="45.8" lengthAdjust="spacingAndGlyphs">Abhd8</text>
<line x1="365.70" y1="2023.00" x2="370.20" y2="2023.00" stroke="#222" stroke-width="1.1"/>
<text x="374.2" y="2027.6" style="font-family:'DejaVu Sans','Liberation Sans',sans-serif;font-size:12.3px;font-weight:normal" text-anchor="start" fill="#111" textLength="81.9" lengthAdjust="spacingAndGlyphs">Tmem132A</text>
<line x1="365.70" y1="2036.97" x2="370.20" y2="2036.97" stroke="#222" stroke-width="1.1"/>
<text x="374.2" y="2041.6" style="font-family:'DejaVu Sans','Liberation Sans',sans-serif;font-size:12.3px;font-weight:normal" text-anchor="start" fill="#111" textLength="50.5" lengthAdjust="spacingAndGlyphs">Cadm3</text>
<line x1="365.70" y1="2050.93" x2="370.20" y2="2050.93" stroke="#222" stroke-width="1.1"/>
<text x="374.2" y="2055.5" style="font-family:'DejaVu Sans','Liberation Sans',sans-serif;font-size:12.3px;font-weight:normal" text-anchor="start" fill="#111" textLength="44.1" lengthAdjust="spacingAndGlyphs">Synpo</text>
<line x1="365.70" y1="2064.90" x2="370.20" y2="2064.90" stroke="#222" stroke-width="1.1"/>
<text x="374.2" y="2069.5" style="font-family:'DejaVu Sans','Liberation Sans',sans-serif;font-size:12.3px;font-weight:normal" text-anchor="start" fill="#111" textLength="50.6" lengthAdjust="spacingAndGlyphs">Dnajb5</text>
<line x1="365.70" y1="2078.87" x2="370.20" y2="2078.87" stroke="#222" stroke-width="1.1"/>
<text x="374.2" y="2083.5" style="font-family:'DejaVu Sans','Liberation Sans',sans-serif;font-size:12.3px;font-weight:normal" text-anchor="start" fill="#111" textLength="53.5" lengthAdjust="spacingAndGlyphs">Cacng3</text>
<line x1="365.70" y1="2092.84" x2="370.20" y2="2092.84" stroke="#222" stroke-width="1.1"/>
<text x="374.2" y="2097.4" style="font-family:'DejaVu Sans','Liberation Sans',sans-serif;font-size:12.3px;font-weight:normal" text-anchor="start" fill="#111" textLength="44.4" lengthAdjust="spacingAndGlyphs">Akap5</text>
<line x1="365.70" y1="2106.81" x2="370.20" y2="2106.81" stroke="#222" stroke-width="1.1"/>
<text x="374.2" y="2111.4" style="font-family:'DejaVu Sans','Liberation Sans',sans-serif;font-size:12.3px;font-weight:normal" text-anchor="start" fill="#111" textLength="42.3" lengthAdjust="spacingAndGlyphs">Prmt8</text>
<line x1="365.70" y1="2120.78" x2="370.20" y2="2120.78" stroke="#222" stroke-width="1.1"/>
<text x="374.2" y="2125.4" style="font-family:'DejaVu Sans','Liberation Sans',sans-serif;font-size:12.3px;font-weight:normal" text-anchor="start" fill="#111" textLength="53.2" lengthAdjust="spacingAndGlyphs">Asphd2</text>
<line x1="365.70" y1="2134.75" x2="370.20" y2="2134.75" stroke="#222" stroke-width="1.1"/>
<text x="374.2" y="2139.3" style="font-family:'DejaVu Sans','Liberation Sans',sans-serif;font-size:12.3px;font-weight:normal" text-anchor="start" fill="#111" textLength="39.4" lengthAdjust="spacingAndGlyphs">Crhr1</text>
<line x1="365.70" y1="2148.72" x2="370.20" y2="2148.72" stroke="#222" stroke-width="1.1"/>
<text x="374.2" y="2153.3" style="font-family:'DejaVu Sans','Liberation Sans',sans-serif;font-size:12.3px;font-weight:normal" text-anchor="start" fill="#111" textLength="46.6" lengthAdjust="spacingAndGlyphs">Brinp2</text>
<line x1="365.70" y1="2162.68" x2="370.20" y2="2162.68" stroke="#222" stroke-width="1.1"/>
<text x="374.2" y="2167.3" style="font-family:'DejaVu Sans','Liberation Sans',sans-serif;font-size:12.3px;font-weight:normal" text-anchor="start" fill="#111" textLength="44.2" lengthAdjust="spacingAndGlyphs">Kcnh5</text>
<line x1="365.70" y1="2176.65" x2="370.20" y2="2176.65" stroke="#222" stroke-width="1.1"/>
<text x="374.2" y="2181.3" style="font-family:'DejaVu Sans','Liberation Sans',sans-serif;font-size:12.3px;font-weight:normal" text-anchor="start" fill="#111" textLength="40.5" lengthAdjust="spacingAndGlyphs">Parp6</text>
<line x1="365.70" y1="2190.62" x2="370.20" y2="2190.62" stroke="#222" stroke-width="1.1"/>
<text x="374.2" y="2195.2" style="font-family:'DejaVu Sans','Liberation Sans',sans-serif;font-size:12.3px;font-weight:normal" text-anchor="start" fill="#111" textLength="63.5" lengthAdjust="spacingAndGlyphs">Tbc1D30</text>
<line x1="365.70" y1="2204.59" x2="370.20" y2="2204.59" stroke="#222" stroke-width="1.1"/>
<text x="374.2" y="2209.2" style="font-family:'DejaVu Sans','Liberation Sans',sans-serif;font-size:12.3px;font-weight:normal" text-anchor="start" fill="#111" textLength="41.9" lengthAdjust="spacingAndGlyphs">Epdr1</text>
<line x1="365.70" y1="2218.56" x2="370.20" y2="2218.56" stroke="#222" stroke-width="1.1"/>
<text x="374.2" y="2223.2" style="font-family:'DejaVu Sans','Liberation Sans',sans-serif;font-size:12.3px;font-weight:normal" text-anchor="start" fill="#111" textLength="41.3" lengthAdjust="spacingAndGlyphs">Satb2</text>
<line x1="365.70" y1="2232.53" x2="370.20" y2="2232.53" stroke="#222" stroke-width="1.1"/>
<text x="374.2" y="2237.1" style="font-family:'DejaVu Sans','Liberation Sans',sans-serif;font-size:12.3px;font-weight:normal" text-anchor="start" fill="#111" textLength="47.4" lengthAdjust="spacingAndGlyphs">Chrm4</text>
<line x1="365.70" y1="2246.50" x2="370.20" y2="2246.50" stroke="#222" stroke-width="1.1"/>
<text x="374.2" y="2251.1" style="font-family:'DejaVu Sans','Liberation Sans',sans-serif;font-size:12.3px;font-weight:normal" text-anchor="start" fill="#111" textLength="23.0" lengthAdjust="spacingAndGlyphs">Shf</text>
<line x1="365.70" y1="2260.47" x2="370.20" y2="2260.47" stroke="#222" stroke-width="1.1"/>
<text x="374.2" y="2265.1" style="font-family:'DejaVu Sans','Liberation Sans',sans-serif;font-size:12.3px;font-weight:normal" text-anchor="start" fill="#111" textLength="39.6" lengthAdjust="spacingAndGlyphs">Plbd2</text>
<line x1="365.70" y1="2274.43" x2="370.20" y2="2274.43" stroke="#222" stroke-width="1.1"/>
<text x="374.2" y="2279.0" style="font-family:'DejaVu Sans','Liberation Sans',sans-serif;font-size:12.3px;font-weight:normal" text-anchor="start" fill="#111" textLength="35.9" lengthAdjust="spacingAndGlyphs">Extl3</text>
<line x1="365.70" y1="2288.40" x2="370.20" y2="2288.40" stroke="#222" stroke-width="1.1"/>
<text x="374.2" y="2293.0" style="font-family:'DejaVu Sans','Liberation Sans',sans-serif;font-size:12.3px;font-weight:normal" text-anchor="start" fill="#111" textLength="37.9" lengthAdjust="spacingAndGlyphs">Wdr6</text>
<line x1="365.70" y1="2302.37" x2="370.20" y2="2302.37" stroke="#222" stroke-width="1.1"/>
<text x="374.2" y="2307.0" style="font-family:'DejaVu Sans','Liberation Sans',sans-serif;font-size:12.3px;font-weight:normal" text-anchor="start" fill="#111" textLength="41.5" lengthAdjust="spacingAndGlyphs">Lynx1</text>
<line x1="365.70" y1="2316.34" x2="370.20" y2="2316.34" stroke="#222" stroke-width="1.1"/>
<text x="374.2" y="2320.9" style="font-family:'DejaVu Sans','Liberation Sans',sans-serif;font-size:12.3px;font-weight:normal" text-anchor="start" fill="#111" textLength="50.6" lengthAdjust="spacingAndGlyphs">Dlgap2</text>
<line x1="365.70" y1="2330.31" x2="370.20" y2="2330.31" stroke="#222" stroke-width="1.1"/>
<text x="374.2" y="2334.9" style="font-family:'DejaVu Sans','Liberation Sans',sans-serif;font-size:12.3px;font-weight:normal" text-anchor="start" fill="#111" textLength="49.3" lengthAdjust="spacingAndGlyphs">Them6</text>
<line x1="365.70" y1="2344.28" x2="370.20" y2="2344.28" stroke="#222" stroke-width="1.1"/>
<text x="374.2" y="2348.9" style="font-family:'DejaVu Sans','Liberation Sans',sans-serif;font-size:12.3px;font-weight:normal" text-anchor="start" fill="#111" textLength="66.6" lengthAdjust="spacingAndGlyphs">Slc25A22</text>
<line x1="365.70" y1="2358.25" x2="370.20" y2="2358.25" stroke="#222" stroke-width="1.1"/>
<text x="374.2" y="2362.8" style="font-family:'DejaVu Sans','Liberation Sans',sans-serif;font-size:12.3px;font-weight:normal" text-anchor="start" fill="#111" textLength="52.9" lengthAdjust="spacingAndGlyphs">Kcnab2</text>
<line x1="365.70" y1="2372.22" x2="370.20" y2="2372.22" stroke="#222" stroke-width="1.1"/>
<text x="374.2" y="2376.8" style="font-family:'DejaVu Sans','Liberation Sans',sans-serif;font-size:12.3px;font-weight:normal" text-anchor="start" fill="#111" textLength="35.5" lengthAdjust="spacingAndGlyphs">Prepl</text>
<line x1="365.70" y1="2386.18" x2="370.20" y2="2386.18" stroke="#222" stroke-width="1.1"/>
<text x="374.2" y="2390.8" style="font-family:'DejaVu Sans','Liberation Sans',sans-serif;font-size:12.3px;font-weight:normal" text-anchor="start" fill="#111" textLength="49.4" lengthAdjust="spacingAndGlyphs">Dnajc5</text>
<line x1="365.70" y1="2400.15" x2="370.20" y2="2400.15" stroke="#222" stroke-width="1.1"/>
<text x="374.2" y="2404.8" style="font-family:'DejaVu Sans','Liberation Sans',sans-serif;font-size:12.3px;font-weight:normal" text-anchor="start" fill="#111" textLength="35.6" lengthAdjust="spacingAndGlyphs">Pfkm</text>
<line x1="365.70" y1="2414.12" x2="370.20" y2="2414.12" stroke="#222" stroke-width="1.1"/>
<text x="374.2" y="2418.7" style="font-family:'DejaVu Sans','Liberation Sans',sans-serif;font-size:12.3px;font-weight:normal" text-anchor="start" fill="#111" textLength="69.5" lengthAdjust="spacingAndGlyphs">Mapk8Ip3</text>
<line x1="365.70" y1="2428.09" x2="370.20" y2="2428.09" stroke="#222" stroke-width="1.1"/>
<text x="374.2" y="2432.7" style="font-family:'DejaVu Sans','Liberation Sans',sans-serif;font-size:12.3px;font-weight:normal" text-anchor="start" fill="#111" textLength="34.1" lengthAdjust="spacingAndGlyphs">Fbll1</text>
<line x1="365.70" y1="2442.06" x2="370.20" y2="2442.06" stroke="#222" stroke-width="1.1"/>
<text x="374.2" y="2446.7" style="font-family:'DejaVu Sans','Liberation Sans',sans-serif;font-size:12.3px;font-weight:normal" text-anchor="start" fill="#111" textLength="57.6" lengthAdjust="spacingAndGlyphs">Slc6A17</text>
<line x1="365.70" y1="2456.03" x2="370.20" y2="2456.03" stroke="#222" stroke-width="1.1"/>
<text x="374.2" y="2460.6" style="font-family:'DejaVu Sans','Liberation Sans',sans-serif;font-size:12.3px;font-weight:normal" text-anchor="start" fill="#111" textLength="60.2" lengthAdjust="spacingAndGlyphs">Cntnap1</text>
<line x1="70.75" y1="2468.40" x2="70.75" y2="2472.40" stroke="#222" stroke-width="1.1"/>
<text x="70.8" y="2486.4" style="font-family:'DejaVu Sans','Liberation Sans',sans-serif;font-size:12.5px;font-weight:normal" text-anchor="middle" fill="#222" textLength="8.5" lengthAdjust="spacingAndGlyphs">4</text>
<line x1="105.45" y1="2468.40" x2="105.45" y2="2472.40" stroke="#222" stroke-width="1.1"/>
<text x="105.5" y="2486.4" style="font-family:'DejaVu Sans','Liberation Sans',sans-serif;font-size:12.5px;font-weight:normal" text-anchor="middle" fill="#222" textLength="8.5" lengthAdjust="spacingAndGlyphs">8</text>
<line x1="140.15" y1="2468.40" x2="140.15" y2="2472.40" stroke="#222" stroke-width="1.1"/>
<text x="140.2" y="2486.4" style="font-family:'DejaVu Sans','Liberation Sans',sans-serif;font-size:12.5px;font-weight:normal" text-anchor="middle" fill="#222" textLength="8.5" lengthAdjust="spacingAndGlyphs">2</text>
<line x1="174.85" y1="2468.40" x2="174.85" y2="2472.40" stroke="#222" stroke-width="1.1"/>
<text x="174.9" y="2486.4" style="font-family:'DejaVu Sans','Liberation Sans',sans-serif;font-size:12.5px;font-weight:normal" text-anchor="middle" fill="#222" textLength="8.5" lengthAdjust="spacingAndGlyphs">1</text>
<line x1="209.55" y1="2468.40" x2="209.55" y2="2472.40" stroke="#222" stroke-width="1.1"/>
<text x="209.6" y="2486.4" style="font-family:'DejaVu Sans','Liberation Sans',sans-serif;font-size:12.5px;font-weight:normal" text-anchor="middle" fill="#222" textLength="8.5" lengthAdjust="spacingAndGlyphs">6</text>
<line x1="244.25" y1="2468.40" x2="244.25" y2="2472.40" stroke="#222" stroke-width="1.1"/>
<text x="244.3" y="2486.4" style="font-family:'DejaVu Sans','Liberation Sans',sans-serif;font-size:12.5px;font-weight:normal" text-anchor="middle" fill="#222" textLength="8.5" lengthAdjust="spacingAndGlyphs">5</text>
<line x1="278.95" y1="2468.40" x2="278.95" y2="2472.40" stroke="#222" stroke-width="1.1"/>
<text x="278.9" y="2486.4" style="font-family:'DejaVu Sans','Liberation Sans',sans-serif;font-size:12.5px;font-weight:normal" text-anchor="middle" fill="#222" textLength="8.5" lengthAdjust="spacingAndGlyphs">9</text>
<line x1="313.65" y1="2468.40" x2="313.65" y2="2472.40" stroke="#222" stroke-width="1.1"/>
<text x="313.6" y="2486.4" style="font-family:'DejaVu Sans','Liberation Sans',sans-serif;font-size:12.5px;font-weight:normal" text-anchor="middle" fill="#222" textLength="8.5" lengthAdjust="spacingAndGlyphs">3</text>
<line x1="348.35" y1="2468.40" x2="348.35" y2="2472.40" stroke="#222" stroke-width="1.1"/>
<text x="348.4" y="2486.4" style="font-family:'DejaVu Sans','Liberation Sans',sans-serif;font-size:12.5px;font-weight:normal" text-anchor="middle" fill="#222" textLength="8.5" lengthAdjust="spacingAndGlyphs">7</text>
<text x="194.3" y="2519.0" style="font-family:'Liberation Sans',Arial,sans-serif;font-size:20px;font-weight:normal" text-anchor="middle" fill="#111" textLength="147.5" lengthAdjust="spacingAndGlyphs">HMRF Domains</text>
<rect x="12.90" y="1061.80" width="7.00" height="2.74" fill="#a50026"/>
<rect x="12.90" y="1064.04" width="7.00" height="2.74" fill="#a90426"/>
<rect x="12.90" y="1066.27" width="7.00" height="2.74" fill="#af0926"/>
<rect x="12.90" y="1068.51" width="7.00" height="2.74" fill="#b30d26"/>
<rect x="12.90" y="1070.75" width="7.00" height="2.74" fill="#b91326"/>
<rect x="12.90" y="1072.98" width="7.00" height="2.74" fill="#bd1726"/>
<rect x="12.90" y="1075.22" width="7.00" height="2.74" fill="#c21c27"/>
<rect x="12.90" y="1077.46" width="7.00" height="2.74" fill="#c82227"/>
<rect x="12.90" y="1079.70" width="7.00" height="2.74" fill="#cc2627"/>
<rect x="12.90" y="1081.93" width="7.00" height="2.74" fill="#d22b27"/>
<rect x="12.90" y="1084.17" width="7.00" height="2.74" fill="#d62f27"/>
<rect x="12.90" y="1086.41" width="7.00" height="2.74" fill="#da362a"/>
<rect x="12.90" y="1088.64" width="7.00" height="2.74" fill="#dd3d2d"/>
<rect x="12.90" y="1090.88" width="7.00" height="2.74" fill="#e0422f"/>
<rect x="12.90" y="1093.12" width="7.00" height="2.74" fill="#e34933"/>
<rect x="12.90" y="1095.36" width="7.00" height="2.74" fill="#e54e35"/>
<rect x="12.90" y="1097.59" width="7.00" height="2.74" fill="#e95538"/>
<rect x="12.90" y="1099.83" width="7.00" height="2.74" fill="#eb5a3a"/>
<rect x="12.90" y="1102.07" width="7.00" height="2.74" fill="#ee613e"/>
<rect x="12.90" y="1104.30" width="7.00" height="2.74" fill="#f26841"/>
<rect x="12.90" y="1106.54" width="7.00" height="2.74" fill="#f46d43"/>
<rect x="12.90" y="1108.78" width="7.00" height="2.74" fill="#f57547"/>
<rect x="12.90" y="1111.01" width="7.00" height="2.74" fill="#f67a49"/>
<rect x="12.90" y="1113.25" width="7.00" height="2.74" fill="#f7814c"/>
<rect x="12.90" y="1115.49" width="7.00" height="2.74" fill="#f88950"/>
<rect x="12.90" y="1117.72" width="7.00" height="2.74" fill="#f98e52"/>
<rect x="12.90" y="1119.96" width="7.00" height="2.74" fill="#fa9656"/>
<rect x="12.90" y="1122.20" width="7.00" height="2.74" fill="#fa9b58"/>
<rect x="12.90" y="1124.44" width="7.00" height="2.74" fill="#fba35c"/>
<rect x="12.90" y="1126.67" width="7.00" height="2.74" fill="#fca85e"/>
<rect x="12.90" y="1128.91" width="7.00" height="2.74" fill="#fdaf62"/>
<rect x="12.90" y="1131.15" width="7.00" height="2.74" fill="#fdb567"/>
<rect x="12.90" y="1133.38" width="7.00" height="2.74" fill="#fdb96b"/>
<rect x="12.90" y="1135.62" width="7.00" height="2.74" fill="#fdbf71"/>
<rect x="12.90" y="1137.86" width="7.00" height="2.74" fill="#fdc374"/>
<rect x="12.90" y="1140.10" width="7.00" height="2.74" fill="#fec87a"/>
<rect x="12.90" y="1142.33" width="7.00" height="2.74" fill="#fece7f"/>
<rect x="12.90" y="1144.57" width="7.00" height="2.74" fill="#fed283"/>
<rect x="12.90" y="1146.81" width="7.00" height="2.74" fill="#fed889"/>
<rect x="12.90" y="1149.04" width="7.00" height="2.74" fill="#fedc8c"/>
<rect x="12.90" y="1151.28" width="7.00" height="2.74" fill="#fee192"/>
<rect x="12.90" y="1153.52" width="7.00" height="2.74" fill="#fee597"/>
<rect x="12.90" y="1155.75" width="7.00" height="2.74" fill="#fee79b"/>
<rect x="12.90" y="1157.99" width="7.00" height="2.74" fill="#feeba1"/>
<rect x="12.90" y="1160.23" width="7.00" height="2.74" fill="#feeda4"/>
<rect x="12.90" y="1162.46" width="7.00" height="2.74" fill="#fff1aa"/>
<rect x="12.90" y="1164.70" width="7.00" height="2.74" fill="#fff3ad"/>
<rect x="12.90" y="1166.94" width="7.00" height="2.74" fill="#fff7b3"/>
<rect x="12.90" y="1169.18" width="7.00" height="2.74" fill="#fffbb9"/>
<rect x="12.90" y="1171.41" width="7.00" height="2.74" fill="#fffdbc"/>
<rect x="12.90" y="1173.65" width="7.00" height="2.74" fill="#fdfec2"/>
<rect x="12.90" y="1175.89" width="7.00" height="2.74" fill="#fbfdc7"/>
<rect x="12.90" y="1178.12" width="7.00" height="2.74" fill="#f7fcce"/>
<rect x="12.90" y="1180.36" width="7.00" height="2.74" fill="#f3fbd4"/>
<rect x="12.90" y="1182.60" width="7.00" height="2.74" fill="#f1fad9"/>
<rect x="12.90" y="1184.84" width="7.00" height="2.74" fill="#edf8df"/>
<rect x="12.90" y="1187.07" width="7.00" height="2.74" fill="#ebf7e4"/>
<rect x="12.90" y="1189.31" width="7.00" height="2.74" fill="#e7f6eb"/>
<rect x="12.90" y="1191.55" width="7.00" height="2.74" fill="#e5f5ef"/>
<rect x="12.90" y="1193.78" width="7.00" height="2.74" fill="#e1f3f6"/>
<rect x="12.90" y="1196.02" width="7.00" height="2.74" fill="#dcf1f7"/>
<rect x="12.90" y="1198.26" width="7.00" height="2.74" fill="#d8eff6"/>
<rect x="12.90" y="1200.49" width="7.00" height="2.74" fill="#d1ecf4"/>
<rect x="12.90" y="1202.73" width="7.00" height="2.74" fill="#cdeaf3"/>
<rect x="12.90" y="1204.97" width="7.00" height="2.74" fill="#c7e7f1"/>
<rect x="12.90" y="1207.20" width="7.00" height="2.74" fill="#c1e4ef"/>
<rect x="12.90" y="1209.44" width="7.00" height="2.74" fill="#bde2ee"/>
<rect x="12.90" y="1211.68" width="7.00" height="2.74" fill="#b6dfec"/>
<rect x="12.90" y="1213.92" width="7.00" height="2.74" fill="#b2ddeb"/>
<rect x="12.90" y="1216.15" width="7.00" height="2.74" fill="#acdae9"/>
<rect x="12.90" y="1218.39" width="7.00" height="2.74" fill="#a6d5e7"/>
<rect x="12.90" y="1220.63" width="7.00" height="2.74" fill="#a1d1e5"/>
<rect x="12.90" y="1222.86" width="7.00" height="2.74" fill="#9bcce2"/>
<rect x="12.90" y="1225.10" width="7.00" height="2.74" fill="#97c9e0"/>
<rect x="12.90" y="1227.34" width="7.00" height="2.74" fill="#90c3dd"/>
<rect x="12.90" y="1229.58" width="7.00" height="2.74" fill="#8cc0db"/>
<rect x="12.90" y="1231.81" width="7.00" height="2.74" fill="#85bbd9"/>
<rect x="12.90" y="1234.05" width="7.00" height="2.74" fill="#7fb6d6"/>
<rect x="12.90" y="1236.29" width="7.00" height="2.74" fill="#7ab2d4"/>
<rect x="12.90" y="1238.52" width="7.00" height="2.74" fill="#74add1"/>
<rect x="12.90" y="1240.76" width="7.00" height="2.74" fill="#70a9cf"/>
<rect x="12.90" y="1243.00" width="7.00" height="2.74" fill="#6ba2cb"/>
<rect x="12.90" y="1245.23" width="7.00" height="2.74" fill="#659bc8"/>
<rect x="12.90" y="1247.47" width="7.00" height="2.74" fill="#6297c6"/>
<rect x="12.90" y="1249.71" width="7.00" height="2.74" fill="#5c90c2"/>
<rect x="12.90" y="1251.94" width="7.00" height="2.74" fill="#588cc0"/>
<rect x="12.90" y="1254.18" width="7.00" height="2.74" fill="#5385bd"/>
<rect x="12.90" y="1256.42" width="7.00" height="2.74" fill="#4f81ba"/>
<rect x="12.90" y="1258.66" width="7.00" height="2.74" fill="#4a7ab7"/>
<rect x="12.90" y="1260.89" width="7.00" height="2.74" fill="#4574b3"/>
<rect x="12.90" y="1263.13" width="7.00" height="2.74" fill="#436fb1"/>
<rect x="12.90" y="1265.37" width="7.00" height="2.74" fill="#4167ad"/>
<rect x="12.90" y="1267.60" width="7.00" height="2.74" fill="#3f62ab"/>
<rect x="12.90" y="1269.84" width="7.00" height="2.74" fill="#3d5ba7"/>
<rect x="12.90" y="1272.08" width="7.00" height="2.74" fill="#3a54a4"/>
<rect x="12.90" y="1274.32" width="7.00" height="2.74" fill="#394fa1"/>
<rect x="12.90" y="1276.55" width="7.00" height="2.74" fill="#36479e"/>
<rect x="12.90" y="1278.79" width="7.00" height="2.74" fill="#35429b"/>
<rect x="12.90" y="1281.03" width="7.00" height="2.74" fill="#333b97"/>
<rect x="12.90" y="1283.26" width="7.00" height="2.74" fill="#313695"/>
<line x1="19.90" y1="1084.90" x2="23.50" y2="1084.90" stroke="#222" stroke-width="1.1"/>
<text x="27.5" y="1089.2" style="font-family:'DejaVu Sans','Liberation Sans',sans-serif;font-size:12px;font-weight:normal" text-anchor="start" fill="#222">1.6</text>
<line x1="19.90" y1="1129.60" x2="23.50" y2="1129.60" stroke="#222" stroke-width="1.1"/>
<text x="27.5" y="1133.9" style="font-family:'DejaVu Sans','Liberation Sans',sans-serif;font-size:12px;font-weight:normal" text-anchor="start" fill="#222">0.8</text>
<line x1="19.90" y1="1174.30" x2="23.50" y2="1174.30" stroke="#222" stroke-width="1.1"/>
<text x="27.5" y="1178.6" style="font-family:'DejaVu Sans','Liberation Sans',sans-serif;font-size:12px;font-weight:normal" text-anchor="start" fill="#222">0.0</text>
<line x1="19.90" y1="1219.00" x2="23.50" y2="1219.00" stroke="#222" stroke-width="1.1"/>
<text x="27.5" y="1223.3" style="font-family:'DejaVu Sans','Liberation Sans',sans-serif;font-size:12px;font-weight:normal" text-anchor="start" fill="#222">−0.8</text>
<line x1="19.90" y1="1263.70" x2="23.50" y2="1263.70" stroke="#222" stroke-width="1.1"/>
<text x="27.5" y="1268.0" style="font-family:'DejaVu Sans','Liberation Sans',sans-serif;font-size:12px;font-weight:normal" text-anchor="start" fill="#222">−1.6</text>
<path d="M71.4,1345.5V1199.9H106.3V1345.5" fill="none" stroke="#444" stroke-width="1.1"/>
<path d="M175.6,1345.5V1223.4H210.5V1345.5" fill="none" stroke="#444" stroke-width="1.1"/>
<path d="M140.9,1345.5V1202.5H193.1V1223.4" fill="none" stroke="#444" stroke-width="1.1"/>
<path d="M245.1,1345.5V1189.8H279.7V1345.5" fill="none" stroke="#444" stroke-width="1.1"/>
<path d="M167.0,1202.5V1153.4H262.4V1189.8" fill="none" stroke="#444" stroke-width="1.1"/>
<path d="M88.8,1199.9V1145.1H214.8V1153.4" fill="none" stroke="#444" stroke-width="1.1"/>
<path d="M314.4,1345.5V1107.6H349.4V1345.5" fill="none" stroke="#444" stroke-width="1.1"/>
<path d="M151.8,1145.1V1075.5H331.9V1107.6" fill="none" stroke="#444" stroke-width="1.1"/>
<path d="M52.9,1351.3H47.8V1354.1H52.9M52.9,1356.9H49.9V1359.7H52.9M49.9,1358.3H48.1V1362.5H52.9M47.8,1352.7H46.9V1360.4H48.1M52.9,1370.9H50.1V1373.6H52.9M52.9,1368.1H48.6V1372.2H50.1M52.9,1365.3H48.0V1370.2H48.6M46.9,1356.5H45.3V1367.7H48.0M52.9,1379.2H50.3V1382.0H52.9M50.3,1380.6H48.7V1384.8H52.9M52.9,1376.4H46.2V1382.7H48.7M45.3,1362.1H43.2V1379.6H46.2M52.9,1393.2H48.6V1396.0H52.9M52.9,1390.4H45.4V1394.6H48.6M52.9,1387.6H44.8V1392.5H45.4M44.8,1390.1H42.8V1398.8H52.9M43.2,1370.9H36.1V1394.4H42.8M52.9,1401.6H46.1V1404.4H52.9M52.9,1410.0H48.4V1412.8H52.9M48.4,1411.4H44.9V1415.6H52.9M52.9,1407.2H42.5V1413.5H44.9M46.1,1403.0H40.8V1410.3H42.5M52.9,1421.1H48.0V1423.9H52.9M52.9,1418.3H47.4V1422.5H48.0M47.4,1420.4H44.2V1426.7H52.9M52.9,1432.3H49.1V1435.1H52.9M52.9,1429.5H48.5V1433.7H49.1M52.9,1437.9H48.4V1440.7H52.9M48.5,1431.6H45.2V1439.3H48.4M44.2,1423.6H42.3V1435.5H45.2M40.8,1406.6H34.8V1429.5H42.3M36.1,1382.6H22.9V1418.1H34.8M52.9,1449.1H49.0V1451.9H52.9M52.9,1446.3H47.9V1450.5H49.0M52.9,1443.5H45.6V1448.4H47.9M52.9,1457.5H47.4V1460.3H52.9M52.9,1454.7H45.9V1458.9H47.4M52.9,1465.8H48.6V1468.6H52.9M52.9,1463.0H46.7V1467.2H48.6M45.9,1456.8H41.8V1465.1H46.7M45.6,1445.9H40.9V1461.0H41.8M52.9,1471.4H45.5V1474.2H52.9M52.9,1477.0H45.7V1479.8H52.9M45.5,1472.8H44.7V1478.4H45.7M40.9,1453.4H38.4V1475.6H44.7M52.9,1485.4H47.8V1488.2H52.9M52.9,1482.6H45.2V1486.8H47.8M52.9,1491.0H45.7V1493.8H52.9M45.2,1484.7H40.9V1492.4H45.7M52.9,1499.4H46.3V1502.2H52.9M52.9,1496.6H43.5V1500.8H46.3M40.9,1488.5H38.5V1498.7H43.5M52.9,1507.7H44.9V1510.5H52.9M52.9,1505.0H43.3V1509.1H44.9M52.9,1513.3H47.3V1516.1H52.9M52.9,1518.9H49.0V1521.7H52.9M49.0,1520.3H48.1V1524.5H52.9M47.3,1514.7H45.8V1522.4H48.1M43.3,1507.0H40.2V1518.6H45.8M52.9,1527.3H49.6V1530.1H52.9M52.9,1532.9H50.7V1535.7H52.9M49.6,1528.7H49.1V1534.3H50.7M52.9,1538.5H48.9V1541.3H52.9M49.1,1531.5H48.2V1539.9H48.9M52.9,1546.9H48.9V1549.7H52.9M52.9,1544.1H48.3V1548.3H48.9M52.9,1555.2H50.3V1558.0H52.9M52.9,1552.4H48.4V1556.6H50.3M48.3,1546.2H46.7V1554.5H48.4M48.2,1535.7H44.8V1550.4H46.7M40.2,1512.8H39.0V1543.0H44.8M38.5,1493.6H35.8V1527.9H39.0M38.4,1464.5H32.6V1510.8H35.8M52.9,1563.6H51.7V1566.4H52.9M51.7,1565.0H50.8V1569.2H52.9M52.9,1560.8H50.3V1567.1H50.8M52.9,1574.8H50.6V1577.6H52.9M52.9,1572.0H50.3V1576.2H50.6M50.3,1564.0H48.4V1574.1H50.3M52.9,1583.2H50.0V1586.0H52.9M52.9,1580.4H49.6V1584.6H50.0M52.9,1588.8H50.5V1591.6H52.9M50.5,1590.2H49.5V1594.4H52.9M49.6,1582.5H49.0V1592.3H49.5M52.9,1597.1H51.7V1599.9H52.9M52.9,1605.5H52.4V1608.3H52.9M52.9,1602.7H51.9V1606.9H52.4M51.7,1598.5H51.6V1604.8H51.9M52.9,1611.1H51.3V1613.9H52.9M51.6,1601.7H50.7V1612.5H51.3M52.9,1619.5H52.0V1622.3H52.9M52.9,1616.7H51.4V1620.9H52.0M51.4,1618.8H50.8V1625.1H52.9M50.7,1607.1H50.0V1621.9H50.8M49.0,1587.4H47.8V1614.5H50.0M48.4,1569.0H45.5V1600.9H47.8M52.9,1627.9H48.8V1630.7H52.9M52.9,1639.1H51.1V1641.8H52.9M52.9,1636.3H49.9V1640.5H51.1M52.9,1633.5H49.0V1638.4H49.9M48.8,1629.3H47.6V1635.9H49.0M52.9,1647.4H52.0V1650.2H52.9M52.9,1644.6H51.4V1648.8H52.0M52.9,1653.0H51.6V1655.8H52.9M51.6,1654.4H51.0V1658.6H52.9M51.4,1646.7H50.1V1656.5H51.0M52.9,1661.4H50.4V1664.2H52.9M50.1,1651.6H48.8V1662.8H50.4M47.6,1632.6H46.2V1657.2H48.8M52.9,1667.0H51.1V1669.8H52.9M52.9,1672.6H50.9V1675.4H52.9M51.1,1668.4H50.5V1674.0H50.9M52.9,1681.0H51.7V1683.8H52.9M52.9,1678.2H51.1V1682.4H51.7M52.9,1686.5H51.9V1689.3H52.9M51.9,1687.9H51.4V1692.1H52.9M51.4,1690.0H50.5V1694.9H52.9M51.1,1680.3H50.1V1692.5H50.5M50.5,1671.2H49.4V1686.4H50.1M52.9,1703.3H51.0V1706.1H52.9M52.9,1700.5H50.8V1704.7H51.0M52.9,1697.7H49.7V1702.6H50.8M49.4,1678.8H47.1V1700.2H49.7M46.2,1644.9H44.7V1689.5H47.1M45.5,1585.0H43.9V1667.2H44.7M52.9,1711.7H49.6V1714.5H52.9M52.9,1708.9H48.8V1713.1H49.6M52.9,1717.3H49.4V1720.1H52.9M48.8,1711.0H48.0V1718.7H49.4M52.9,1725.7H51.2V1728.5H52.9M52.9,1722.9H49.9V1727.1H51.2M52.9,1731.2H51.5V1734.0H52.9M51.5,1732.6H50.6V1736.8H52.9M50.6,1734.7H49.0V1739.6H52.9M49.9,1725.0H48.6V1737.2H49.0M52.9,1742.4H50.1V1745.2H52.9M52.9,1748.0H49.6V1750.8H52.9M50.1,1743.8H48.7V1749.4H49.6M48.6,1731.1H48.1V1746.6H48.7M48.0,1714.8H46.9V1738.8H48.1M52.9,1753.6H49.8V1756.4H52.9M52.9,1759.2H50.6V1762.0H52.9M49.8,1755.0H49.5V1760.6H50.6M52.9,1767.6H51.3V1770.4H52.9M52.9,1764.8H50.4V1769.0H51.3M52.9,1773.2H50.4V1775.9H52.9M50.4,1766.9H49.9V1774.6H50.4M49.5,1757.8H48.2V1770.7H49.9M46.9,1726.8H45.2V1764.2H48.2M43.9,1626.1H42.1V1745.5H45.2M52.9,1778.7H49.9V1781.5H52.9M52.9,1787.1H51.9V1789.9H52.9M52.9,1784.3H51.3V1788.5H51.9M52.9,1792.7H51.2V1795.5H52.9M51.3,1786.4H50.6V1794.1H51.2M49.9,1780.1H49.5V1790.3H50.6M52.9,1798.3H51.4V1801.1H52.9M51.4,1799.7H51.0V1803.9H52.9M52.9,1806.7H52.0V1809.5H52.9M52.0,1808.1H51.4V1812.3H52.9M52.9,1815.1H52.1V1817.9H52.9M52.1,1816.5H51.7V1820.6H52.9M51.7,1818.6H51.3V1823.4H52.9M51.4,1810.2H50.9V1821.0H51.3M51.0,1801.8H49.4V1815.6H50.9M49.5,1785.2H47.2V1808.7H49.4M52.9,1826.2H50.8V1829.0H52.9M50.8,1827.6H49.5V1831.8H52.9M52.9,1834.6H50.1V1837.4H52.9M49.5,1829.7H49.1V1836.0H50.1M52.9,1840.2H50.0V1843.0H52.9M52.9,1845.8H51.2V1848.6H52.9M51.2,1847.2H50.4V1851.4H52.9M52.9,1854.2H51.4V1857.0H52.9M51.4,1855.6H50.4V1859.8H52.9M50.4,1849.3H49.4V1857.7H50.4M50.0,1841.6H49.0V1853.5H49.4M52.9,1862.6H50.7V1865.3H52.9M52.9,1868.1H52.2V1870.9H52.9M52.2,1869.5H51.9V1873.7H52.9M51.9,1871.6H51.6V1876.5H52.9M51.6,1874.1H51.3V1879.3H52.9M50.7,1864.0H50.4V1876.7H51.3M49.0,1847.5H48.6V1870.3H50.4M49.1,1832.9H48.1V1858.9H48.6M52.9,1882.1H50.3V1884.9H52.9M52.9,1887.7H50.5V1890.5H52.9M50.3,1883.5H49.8V1889.1H50.5M52.9,1893.3H49.6V1896.1H52.9M49.8,1886.3H49.3V1894.7H49.6M52.9,1901.7H51.4V1904.5H52.9M52.9,1898.9H50.4V1903.1H51.4M52.9,1907.3H51.4V1910.0H52.9M52.9,1912.8H51.9V1915.6H52.9M52.9,1921.2H52.2V1924.0H52.9M52.9,1918.4H51.7V1922.6H52.2M51.9,1914.2H51.3V1920.5H51.7M51.4,1908.7H50.3V1917.4H51.3M50.4,1901.0H49.0V1913.0H50.3M49.3,1890.5H48.2V1907.0H49.0M48.1,1845.9H47.0V1898.7H48.2M47.2,1796.9H43.6V1872.3H47.0M52.9,1929.6H49.9V1932.4H52.9M52.9,1926.8H49.2V1931.0H49.9M52.9,1938.0H49.6V1940.8H52.9M52.9,1935.2H48.6V1939.4H49.6M49.2,1928.9H47.5V1937.3H48.6M52.9,1943.6H49.4V1946.4H52.9M52.9,1952.0H51.4V1954.7H52.9M52.9,1949.2H50.4V1953.4H51.4M52.9,1957.5H50.4V1960.3H52.9M50.4,1951.3H49.9V1958.9H50.4M49.4,1945.0H48.3V1955.1H49.9M52.9,1963.1H49.6V1965.9H52.9M52.9,1971.5H51.0V1974.3H52.9M52.9,1968.7H50.3V1972.9H51.0M49.6,1964.5H48.4V1970.8H50.3M48.3,1950.0H47.4V1967.7H48.4M47.5,1933.1H43.3V1958.9H47.4M43.6,1834.6H42.3V1946.0H43.3M42.1,1685.8H36.5V1890.3H42.3M52.9,1977.1H51.1V1979.9H52.9M51.1,1978.5H50.2V1982.7H52.9M52.9,1988.3H51.3V1991.1H52.9M52.9,1985.5H50.6V1989.7H51.3M50.2,1980.6H49.4V1987.6H50.6M52.9,1993.9H50.4V1996.7H52.9M52.9,1999.4H50.7V2002.2H52.9M50.4,1995.3H50.1V2000.8H50.7M52.9,2005.0H50.7V2007.8H52.9M52.9,2010.6H51.3V2013.4H52.9M50.7,2006.4H50.4V2012.0H51.3M50.1,1998.1H49.5V2009.2H50.4M49.4,1984.1H47.0V2003.6H49.5M52.9,2016.2H51.1V2019.0H52.9M51.1,2017.6H50.7V2021.8H52.9M50.7,2019.7H50.0V2024.6H52.9M52.9,2027.4H49.5V2030.2H52.9M50.0,2022.1H48.3V2028.8H49.5M52.9,2035.8H48.7V2038.6H52.9M52.9,2033.0H47.5V2037.2H48.7M48.3,2025.5H44.7V2035.1H47.5M47.0,1993.9H43.5V2030.3H44.7M52.9,2044.1H48.4V2046.9H52.9M52.9,2041.4H45.1V2045.5H48.4M52.9,2049.7H47.5V2052.5H52.9M52.9,2055.3H49.7V2058.1H52.9M52.9,2060.9H49.4V2063.7H52.9M49.7,2056.7H48.8V2062.3H49.4M47.5,2051.1H46.4V2059.5H48.8M45.1,2043.4H41.7V2055.3H46.4M43.5,2012.1H39.2V2049.4H41.7M52.9,2069.3H50.5V2072.1H52.9M52.9,2066.5H48.8V2070.7H50.5M52.9,2074.9H49.0V2077.7H52.9M48.8,2068.6H47.7V2076.3H49.0M52.9,2083.3H50.9V2086.1H52.9M52.9,2080.5H50.0V2084.7H50.9M52.9,2088.8H49.9V2091.6H52.9M52.9,2097.2H51.0V2100.0H52.9M52.9,2094.4H50.5V2098.6H51.0M49.9,2090.2H49.1V2096.5H50.5M50.0,2082.6H47.9V2093.4H49.1M47.7,2072.4H46.4V2088.0H47.9M52.9,2102.8H47.7V2105.6H52.9M52.9,2108.4H49.4V2111.2H52.9M52.9,2114.0H48.5V2116.8H52.9M49.4,2109.8H46.9V2115.4H48.5M47.7,2104.2H45.2V2112.6H46.9M46.4,2080.2H44.5V2108.4H45.2M52.9,2119.6H49.8V2122.4H52.9M52.9,2125.2H51.5V2128.0H52.9M52.9,2130.8H51.5V2133.5H52.9M51.5,2126.6H51.2V2132.2H51.5M52.9,2136.3H50.9V2139.1H52.9M51.2,2129.4H49.9V2137.7H50.9M49.8,2121.0H49.3V2133.5H49.9M52.9,2141.9H51.0V2144.7H52.9M52.9,2147.5H51.1V2150.3H52.9M51.0,2143.3H50.8V2148.9H51.1M50.8,2146.1H50.0V2153.1H52.9M52.9,2158.7H51.3V2161.5H52.9M52.9,2155.9H50.4V2160.1H51.3M52.9,2164.3H50.0V2167.1H52.9M50.4,2158.0H49.7V2165.7H50.0M50.0,2149.6H48.4V2161.8H49.7M49.3,2127.3H46.9V2155.7H48.4M52.9,2172.7H49.8V2175.5H52.9M52.9,2169.9H49.4V2174.1H49.8M52.9,2178.2H51.0V2181.0H52.9M52.9,2186.6H51.7V2189.4H52.9M52.9,2183.8H50.9V2188.0H51.7M51.0,2179.6H49.6V2185.9H50.9M49.4,2172.0H49.0V2182.8H49.6M52.9,2192.2H50.7V2195.0H52.9M50.7,2193.6H49.9V2197.8H52.9M52.9,2200.6H49.9V2203.4H52.9M49.9,2195.7H49.3V2202.0H49.9M49.0,2177.4H46.4V2198.9H49.3M46.9,2141.5H44.5V2188.1H46.4M44.5,2094.3H41.7V2164.8H44.5M39.2,2030.7H36.0V2129.6H41.7M52.9,2206.2H48.2V2209.0H52.9M52.9,2211.8H50.1V2214.6H52.9M50.1,2213.2H48.0V2217.4H52.9M48.2,2207.6H46.2V2215.3H48.0M52.9,2222.9H50.8V2225.7H52.9M50.8,2224.3H50.3V2228.5H52.9M52.9,2220.2H49.4V2226.4H50.3M52.9,2231.3H48.4V2234.1H52.9M49.4,2223.3H47.9V2232.7H48.4M46.2,2211.4H44.6V2228.0H47.9M52.9,2236.9H47.5V2239.7H52.9M52.9,2242.5H47.5V2245.3H52.9M47.5,2238.3H46.2V2243.9H47.5M52.9,2248.1H50.1V2250.9H52.9M52.9,2253.7H48.9V2256.5H52.9M50.1,2249.5H48.1V2255.1H48.9M52.9,2262.1H49.0V2264.9H52.9M52.9,2259.3H47.3V2263.5H49.0M48.1,2252.3H46.3V2261.4H47.3M46.2,2241.1H45.3V2256.8H46.3M52.9,2267.6H49.2V2270.4H52.9M52.9,2273.2H49.0V2276.0H52.9M49.2,2269.0H48.4V2274.6H49.0M52.9,2278.8H46.5V2281.6H52.9M48.4,2271.8H45.1V2280.2H46.5M52.9,2284.4H49.1V2287.2H52.9M52.9,2290.0H49.9V2292.8H52.9M49.9,2291.4H48.1V2295.6H52.9M49.1,2285.8H47.6V2293.5H48.1M52.9,2298.4H48.3V2301.2H52.9M52.9,2304.0H48.7V2306.8H52.9M48.3,2299.8H46.8V2305.4H48.7M47.6,2289.6H45.8V2302.6H46.8M45.1,2276.0H43.9V2296.1H45.8M45.3,2249.0H42.9V2286.1H43.9M44.6,2219.7H40.7V2267.5H42.9M36.0,2080.1H33.5V2243.6H40.7M52.9,2312.3H50.7V2315.1H52.9M52.9,2309.6H49.5V2313.7H50.7M52.9,2317.9H50.4V2320.7H52.9M50.4,2319.3H49.0V2323.5H52.9M49.0,2321.4H48.5V2326.3H52.9M49.5,2311.6H47.9V2323.9H48.5M52.9,2329.1H51.0V2331.9H52.9M51.0,2330.5H50.7V2334.7H52.9M50.7,2332.6H49.2V2337.5H52.9M52.9,2348.7H51.5V2351.5H52.9M52.9,2345.9H50.5V2350.1H51.5M52.9,2343.1H50.2V2348.0H50.5M52.9,2340.3H49.4V2345.5H50.2M52.9,2357.0H50.1V2359.8H52.9M52.9,2354.3H49.7V2358.4H50.1M49.4,2342.9H47.9V2356.3H49.7M49.2,2335.0H47.1V2349.6H47.9M47.9,2317.8H44.6V2342.3H47.1M52.9,2362.6H50.6V2365.4H52.9M50.6,2364.0H49.2V2368.2H52.9M52.9,2373.8H48.5V2376.6H52.9M52.9,2371.0H47.7V2375.2H48.5M49.2,2366.1H46.3V2373.1H47.7M52.9,2379.4H47.8V2382.2H52.9M52.9,2385.0H47.7V2387.8H52.9M47.8,2380.8H46.2V2386.4H47.7M46.3,2369.6H44.4V2383.6H46.2M52.9,2393.4H50.4V2396.2H52.9M50.4,2394.8H50.0V2399.0H52.9M52.9,2390.6H48.0V2396.9H50.0M52.9,2401.7H49.6V2404.5H52.9M48.0,2393.7H47.5V2403.1H49.6M52.9,2407.3H48.5V2410.1H52.9M52.9,2412.9H48.2V2415.7H52.9M48.5,2408.7H47.6V2414.3H48.2M47.6,2411.5H46.9V2418.5H52.9M47.5,2398.4H45.5V2415.0H46.9M52.9,2421.3H49.7V2424.1H52.9M49.7,2422.7H48.8V2426.9H52.9M52.9,2429.7H49.2V2432.5H52.9M52.9,2435.3H50.4V2438.1H52.9M49.2,2431.1H48.6V2436.7H50.4M52.9,2443.7H49.9V2446.4H52.9M52.9,2440.9H48.4V2445.1H49.9M48.6,2433.9H47.9V2443.0H48.4M48.8,2424.8H45.7V2438.4H47.9M52.9,2449.2H49.3V2452.0H52.9M49.3,2450.6H47.4V2454.8H52.9M52.9,2457.6H48.2V2460.4H52.9M52.9,2463.2H48.9V2466.0H52.9M48.2,2459.0H46.8V2464.6H48.9M47.4,2452.7H45.8V2461.8H46.8M45.7,2431.6H44.0V2457.3H45.8M45.5,2406.7H42.9V2444.4H44.0M44.4,2376.6H39.9V2425.6H42.9M44.6,2330.0H38.2V2401.1H39.9M33.5,2161.9H31.6V2365.6H38.2M36.5,1788.1H26.7V2263.7H31.6M32.6,1487.6H19.4V2025.9H26.7M22.9,1400.4H13.9V1756.8H19.4" fill="none" stroke="#444" stroke-width="0.8"/>
<rect x="582.6" y="1131.5" width="1185.2" height="388.8" fill="none" stroke="#000" stroke-width="1.8"/>
<line x1="601.80" y1="1520.30" x2="601.80" y2="1526.80" stroke="#000" stroke-width="1.6"/>
<text x="601.8" y="1555.0" style="font-family:'DejaVu Sans','Liberation Sans',sans-serif;font-size:21.5px;font-weight:normal" text-anchor="middle" fill="#1a1a1a" stroke="#1a1a1a" stroke-width="0.35">−2000</text>
<line x1="749.90" y1="1520.30" x2="749.90" y2="1526.80" stroke="#000" stroke-width="1.6"/>
<text x="749.9" y="1555.0" style="font-family:'DejaVu Sans','Liberation Sans',sans-serif;font-size:21.5px;font-weight:normal" text-anchor="middle" fill="#1a1a1a" stroke="#1a1a1a" stroke-width="0.35">−1000</text>
<line x1="898.00" y1="1520.30" x2="898.00" y2="1526.80" stroke="#000" stroke-width="1.6"/>
<text x="898.0" y="1555.0" style="font-family:'DejaVu Sans','Liberation Sans',sans-serif;font-size:21.5px;font-weight:normal" text-anchor="middle" fill="#1a1a1a" stroke="#1a1a1a" stroke-width="0.35">0</text>
<line x1="1046.10" y1="1520.30" x2="1046.10" y2="1526.80" stroke="#000" stroke-width="1.6"/>
<text x="1046.1" y="1555.0" style="font-family:'DejaVu Sans','Liberation Sans',sans-serif;font-size:21.5px;font-weight:normal" text-anchor="middle" fill="#1a1a1a" stroke="#1a1a1a" stroke-width="0.35">1000</text>
<line x1="1194.20" y1="1520.30" x2="1194.20" y2="1526.80" stroke="#000" stroke-width="1.6"/>
<text x="1194.2" y="1555.0" style="font-family:'DejaVu Sans','Liberation Sans',sans-serif;font-size:21.5px;font-weight:normal" text-anchor="middle" fill="#1a1a1a" stroke="#1a1a1a" stroke-width="0.35">2000</text>
<line x1="1342.30" y1="1520.30" x2="1342.30" y2="1526.80" stroke="#000" stroke-width="1.6"/>
<text x="1342.3" y="1555.0" style="font-family:'DejaVu Sans','Liberation Sans',sans-serif;font-size:21.5px;font-weight:normal" text-anchor="middle" fill="#1a1a1a" stroke="#1a1a1a" stroke-width="0.35">3000</text>
<line x1="1490.40" y1="1520.30" x2="1490.40" y2="1526.80" stroke="#000" stroke-width="1.6"/>
<text x="1490.4" y="1555.0" style="font-family:'DejaVu Sans','Liberation Sans',sans-serif;font-size:21.5px;font-weight:normal" text-anchor="middle" fill="#1a1a1a" stroke="#1a1a1a" stroke-width="0.35">4000</text>
<line x1="1638.50" y1="1520.30" x2="1638.50" y2="1526.80" stroke="#000" stroke-width="1.6"/>
<text x="1638.5" y="1555.0" style="font-family:'DejaVu Sans','Liberation Sans',sans-serif;font-size:21.5px;font-weight:normal" text-anchor="middle" fill="#1a1a1a" stroke="#1a1a1a" stroke-width="0.35">5000</text>
<line x1="575.60" y1="1507.00" x2="582.60" y2="1507.00" stroke="#000" stroke-width="1.6"/>
<text x="562.3" y="1514.6" style="font-family:'DejaVu Sans','Liberation Sans',sans-serif;font-size:21.5px;font-weight:normal" text-anchor="end" fill="#1a1a1a" stroke="#1a1a1a" stroke-width="0.35">0</text>
<line x1="575.60" y1="1451.63" x2="582.60" y2="1451.63" stroke="#000" stroke-width="1.6"/>
<text x="562.3" y="1459.2" style="font-family:'DejaVu Sans','Liberation Sans',sans-serif;font-size:21.5px;font-weight:normal" text-anchor="end" fill="#1a1a1a" stroke="#1a1a1a" stroke-width="0.35">500</text>
<line x1="575.60" y1="1396.27" x2="582.60" y2="1396.27" stroke="#000" stroke-width="1.6"/>
<text x="562.3" y="1403.9" style="font-family:'DejaVu Sans','Liberation Sans',sans-serif;font-size:21.5px;font-weight:normal" text-anchor="end" fill="#1a1a1a" stroke="#1a1a1a" stroke-width="0.35">1000</text>
<line x1="575.60" y1="1340.90" x2="582.60" y2="1340.90" stroke="#000" stroke-width="1.6"/>
<text x="562.3" y="1348.5" style="font-family:'DejaVu Sans','Liberation Sans',sans-serif;font-size:21.5px;font-weight:normal" text-anchor="end" fill="#1a1a1a" stroke="#1a1a1a" stroke-width="0.35">1500</text>
<line x1="575.60" y1="1285.54" x2="582.60" y2="1285.54" stroke="#000" stroke-width="1.6"/>
<text x="562.3" y="1293.1" style="font-family:'DejaVu Sans','Liberation Sans',sans-serif;font-size:21.5px;font-weight:normal" text-anchor="end" fill="#1a1a1a" stroke="#1a1a1a" stroke-width="0.35">2000</text>
<line x1="575.60" y1="1230.17" x2="582.60" y2="1230.17" stroke="#000" stroke-width="1.6"/>
<text x="562.3" y="1237.8" style="font-family:'DejaVu Sans','Liberation Sans',sans-serif;font-size:21.5px;font-weight:normal" text-anchor="end" fill="#1a1a1a" stroke="#1a1a1a" stroke-width="0.35">2500</text>
<line x1="575.60" y1="1174.81" x2="582.60" y2="1174.81" stroke="#000" stroke-width="1.6"/>
<text x="562.3" y="1182.4" style="font-family:'DejaVu Sans','Liberation Sans',sans-serif;font-size:21.5px;font-weight:normal" text-anchor="end" fill="#1a1a1a" stroke="#1a1a1a" stroke-width="0.35">3000</text>
<text x="494.5" y="1312.4" style="font-family:'DejaVu Sans','Liberation Sans',sans-serif;font-size:19px;font-weight:normal" text-anchor="middle" fill="#111" transform="rotate(-90 494.5 1312.4)" textLength="185.5" lengthAdjust="spacingAndGlyphs">y-coordinates (pixels)</text>
<text x="1128.9" y="1604.7" style="font-family:'DejaVu Sans','Liberation Sans',sans-serif;font-size:19px;font-weight:normal" text-anchor="middle" fill="#111" textLength="185.8" lengthAdjust="spacingAndGlyphs">x-coordinates (pixels)</text>
<text x="1110.8" y="1651.3" style="font-family:'Liberation Sans',Arial,sans-serif;font-size:19px;font-weight:normal" text-anchor="middle" fill="#111" textLength="149.0" lengthAdjust="spacingAndGlyphs">HMRF Domains</text>
<path d="M646.5,1310.3h0M676.8,1315.3h0M647.3,1334.3h0M663.0,1332.8h0M678.7,1331.9h0M656.7,1359.2h0M647.8,1371.2h0M642.3,1379.9h0M686.2,1384.0h0M645.6,1392.9h0M711.5,1386.9h0M730.9,1376.2h0M741.7,1382.7h0M741.7,1395.6h0M673.7,1403.0h0M685.3,1425.7h0M667.4,1432.9h0M685.7,1435.9h0M706.4,1433.5h0M634.9,1437.7h0M741.7,1428.0h0M739.8,1437.2h0M729.1,1444.6h0M657.4,1483.4h0M748.5,1491.3h0M777.5,1501.8h0M909.4,1405.2h0M914.9,1418.7h0M1056.8,1380.5h0M1023.6,1419.3h0M936.7,1471.4h0M1025.0,1469.2h0M1168.6,1385.5h0M1160.8,1436.6h0M1258.5,1401.2h0M1219.2,1426.1h0M1415.6,1441.4h0" stroke="#2ca02c" stroke-width="10.2" stroke-linecap="round" fill="none"/>
<path d="M641.9,1417.8h0M1131.3,1330.6h0M1136.6,1381.8h0M1148.3,1448.3h0M1161.2,1467.7h0M1161.2,1480.6h0M1159.3,1493.2h0M1180.6,1464.0h0M1180.6,1476.9h0M1305.6,1321.2h0M1388.6,1321.2h0M1393.4,1334.7h0M1215.5,1381.8h0M1212.3,1441.4h0M1219.5,1484.3h0M1471.9,1479.7h0M1189.6,1382.1h0" stroke="#bcbd22" stroke-width="10.2" stroke-linecap="round" fill="none"/>
<path d="M793.2,1326.3h0M983.5,1440.9h0M1159.3,1392.9h0M1210.3,1373.5h0M1270.9,1369.2h0M1280.1,1364.2h0M1337.4,1362.9h0M1350.0,1355.0h0M1379.0,1363.7h0M1424.8,1369.8h0M1363.8,1399.3h0M1224.7,1417.8h0M1281.1,1473.2h0M1476.3,1463.1h0M1503.5,1288.1h0M1513.6,1299.6h0M1526.0,1307.5h0M1541.9,1302.3h0M1537.7,1310.6h0M1520.1,1317.7h0M1512.3,1322.7h0M1541.9,1319.0h0M1541.9,1325.4h0M1553.7,1333.2h0M1521.0,1338.0h0M1529.3,1337.4h0M1535.8,1339.3h0M1662.0,1319.5h0M1559.8,1365.7h0M1560.7,1382.1h0M1588.1,1379.9h0M1584.8,1395.3h0M1619.5,1450.1h0M1622.1,1462.5h0M1543.4,1193.9h0M1554.5,1196.8h0M1568.4,1191.1h0M1611.8,1209.8h0M1691.0,1170.7h0M1709.7,1264.6h0" stroke="#1f77b4" stroke-width="10.2" stroke-linecap="round" fill="none"/>
<path d="M879.7,1379.9h0M859.3,1393.4h0M872.3,1401.2h0M974.2,1304.2h0M978.3,1312.5h0M956.7,1309.7h0M969.1,1320.8h0M994.9,1317.1h0M998.6,1325.4h0M945.0,1325.4h0M951.9,1333.7h0M965.4,1332.4h0M975.2,1339.8h0M988.1,1329.1h0M997.7,1341.7h0M924.2,1336.1h0M934.9,1342.0h0M946.0,1347.2h0M927.9,1350.7h0M906.2,1343.9h0M903.1,1356.8h0M900.7,1367.9h0M913.6,1367.0h0M928.4,1367.4h0M905.3,1379.9h0M932.1,1380.3h0M920.7,1386.4h0M887.8,1386.4h0M888.7,1397.5h0M1017.1,1325.4h0M1017.6,1332.8h0M1017.1,1341.1h0M1018.9,1348.5h0M1024.5,1359.2h0M1040.6,1329.1h0M1042.0,1339.8h0M1040.6,1350.9h0M1047.2,1318.4h0M1053.5,1327.3h0M1050.0,1360.5h0M1075.3,1360.5h0M1060.1,1370.7h0M1005.5,1376.2h0M1018.4,1377.1h0M1037.4,1377.7h0M997.1,1387.3h0M995.8,1400.2h0M959.8,1384.5h0M947.8,1389.7h0M952.4,1398.4h0M951.1,1408.2h0M980.7,1395.6h0M979.6,1406.7h0M970.9,1417.4h0M984.8,1420.6h0M985.1,1429.2h0M926.6,1407.6h0M898.5,1413.7h0M933.0,1422.4h0M940.1,1432.0h0M1010.6,1413.2h0M1044.2,1420.6h0M1062.0,1424.3h0M1057.7,1431.6h0M1047.2,1437.2h0M1038.3,1444.6h0M1059.6,1404.9h0M1081.7,1404.9h0M1101.1,1386.0h0M969.1,1437.2h0M969.1,1444.6h0M999.0,1438.5h0M1014.7,1440.0h0M1018.9,1450.1h0M1019.9,1459.4h0M1001.8,1450.1h0M992.1,1457.5h0M977.4,1454.7h0M964.8,1454.7h0M953.0,1446.4h0M927.5,1447.0h0M896.1,1454.7h0M903.5,1464.9h0M903.8,1478.8h0M920.1,1478.4h0M938.6,1484.7h0M951.1,1477.3h0M982.0,1470.4h0M985.7,1485.8h0M982.9,1500.9h0M1063.3,1447.0h0M1072.5,1446.4h0M1081.2,1462.5h0M1096.5,1452.0h0M1102.1,1462.1h0M1111.3,1469.9h0M1122.4,1462.1h0M1111.9,1484.3h0M1060.5,1485.2h0M1537.3,1148.1h0" stroke="#7f7f7f" stroke-width="10.2" stroke-linecap="round" fill="none"/>
<path d="M713.4,1296.8h0M736.5,1297.7h0M779.0,1306.0h0M843.6,1301.8h0M714.3,1312.1h0M727.3,1311.6h0M733.7,1316.2h0M768.8,1314.3h0M808.5,1311.6h0M827.9,1310.3h0M861.2,1314.7h0M743.9,1323.2h0M754.0,1328.2h0M774.4,1326.9h0M804.8,1319.5h0M815.9,1317.7h0M824.8,1325.4h0M839.0,1322.1h0M856.6,1328.7h0M698.6,1330.6h0M712.5,1335.0h0M726.9,1329.5h0M746.6,1336.9h0M764.2,1334.7h0M802.6,1334.7h0M810.8,1329.7h0M866.7,1337.4h0M844.6,1343.0h0M731.3,1347.2h0M749.4,1351.3h0M767.0,1350.9h0M797.5,1348.5h0M818.1,1343.0h0M713.4,1354.1h0M725.4,1359.0h0M730.0,1367.0h0M761.4,1367.5h0M776.8,1367.0h0M796.0,1362.4h0M814.1,1354.1h0M829.8,1359.6h0M818.7,1364.2h0M814.1,1369.8h0M775.3,1373.5h0M787.3,1371.6h0M752.2,1373.5h0M709.7,1373.1h0M839.9,1373.5h0M769.7,1390.5h0M786.4,1391.0h0M759.6,1397.5h0M840.9,1393.4h0M851.9,1408.6h0M865.8,1405.8h0M724.5,1409.5h0M738.3,1417.4h0M787.8,1411.3h0M822.8,1415.9h0M809.5,1422.4h0M807.6,1428.9h0M836.2,1429.2h0M863.0,1431.1h0M878.7,1437.2h0M758.7,1429.2h0M766.0,1435.3h0M805.8,1440.0h0M826.6,1441.8h0M848.3,1443.3h0M866.7,1446.4h0M758.7,1446.4h0M773.4,1451.0h0M862.1,1458.4h0M876.0,1456.6h0M733.7,1461.2h0M745.7,1465.8h0M762.0,1461.2h0M757.7,1472.8h0M811.3,1464.0h0M836.2,1464.0h0M863.0,1465.8h0M730.0,1478.8h0M784.5,1476.0h0M813.2,1477.8h0M825.2,1477.8h0M861.2,1476.9h0M771.2,1484.3h0M827.9,1487.6h0M772.5,1493.2h0M810.4,1492.6h0M794.7,1498.2h0M861.2,1492.6h0" stroke="#d62728" stroke-width="10.2" stroke-linecap="round" fill="none"/>
<path d="M1147.3,1326.3h0M1132.2,1345.7h0M1153.4,1356.5h0M1167.7,1340.2h0M1178.7,1324.5h0M1180.2,1308.8h0M1179.1,1351.3h0M1178.7,1395.6h0M1182.8,1414.1h0M1115.9,1434.4h0M1138.5,1431.6h0M1218.6,1304.7h0M1262.6,1313.8h0M1283.8,1318.4h0M1269.1,1331.0h0M1306.0,1331.9h0M1212.3,1343.9h0M1234.0,1339.6h0M1252.4,1339.8h0M1267.8,1348.1h0M1219.7,1369.8h0M1245.0,1368.5h0M1306.0,1364.2h0M1377.5,1343.0h0M1374.4,1354.1h0M1358.7,1372.9h0M1352.6,1384.0h0M1288.1,1381.8h0M1319.9,1380.8h0M1251.9,1395.6h0M1288.5,1400.2h0M1330.9,1399.7h0M1317.1,1408.2h0M1334.6,1415.0h0M1222.3,1403.6h0M1201.1,1408.9h0M1262.6,1412.3h0M1198.9,1427.0h0M1286.2,1421.5h0M1313.0,1422.4h0M1328.2,1429.8h0M1276.8,1432.9h0M1294.0,1434.4h0M1308.8,1435.9h0M1338.7,1441.4h0M1299.5,1448.3h0M1324.5,1449.2h0M1346.1,1453.4h0M1192.0,1449.6h0M1318.4,1469.5h0M1342.0,1468.0h0M1338.0,1486.5h0M1356.8,1486.1h0M1206.8,1499.1h0M1228.0,1495.8h0" stroke="#9467bd" stroke-width="10.2" stroke-linecap="round" fill="none"/>
<path d="M1181.5,1362.4h0M1402.1,1378.6h0M1366.0,1452.0h0M1699.3,1291.6h0M1681.8,1183.4h0M1690.0,1196.8h0M1689.6,1213.0h0M1705.3,1217.8h0M1678.2,1221.2h0M1693.3,1223.2h0M1688.1,1229.6h0M1683.9,1242.2h0M1712.9,1237.5h0M1703.4,1256.0h0" stroke="#e377c2" stroke-width="10.2" stroke-linecap="round" fill="none"/>
<path d="M1316.2,1344.8h0M1247.3,1444.2h0M1222.9,1460.3h0M1563.5,1279.6h0M1613.4,1275.2h0M1630.0,1274.1h0M1536.4,1289.0h0M1551.9,1294.9h0M1565.9,1297.2h0M1582.0,1287.6h0M1587.2,1299.2h0M1599.9,1293.1h0M1618.9,1289.8h0M1651.3,1281.5h0M1646.6,1288.1h0M1667.9,1277.0h0M1662.0,1287.6h0M1674.4,1284.4h0M1688.8,1295.9h0M1669.7,1310.3h0M1575.2,1319.9h0M1590.9,1314.3h0M1589.4,1324.1h0M1612.5,1314.0h0M1578.7,1343.0h0M1473.0,1159.2h0M1471.5,1176.8h0M1488.3,1178.7h0M1502.4,1174.9h0M1527.2,1176.8h0M1487.1,1196.8h0M1529.3,1189.2h0M1518.6,1197.8h0M1552.2,1165.9h0M1560.2,1174.5h0M1574.2,1170.7h0M1585.0,1166.3h0M1581.2,1152.0h0M1608.5,1154.8h0M1575.5,1186.3h0M1591.3,1183.1h0M1562.5,1203.5h0M1574.5,1197.8h0M1581.2,1206.4h0M1549.7,1208.6h0M1503.5,1211.1h0M1520.7,1210.2h0M1558.9,1219.7h0M1569.8,1229.3h0M1513.8,1223.0h0M1525.3,1224.5h0M1467.6,1242.6h0M1480.0,1251.2h0M1513.1,1245.1h0M1536.0,1243.2h0M1560.2,1245.5h0M1581.6,1243.0h0M1588.8,1252.2h0M1502.4,1258.5h0M1531.6,1260.4h0M1605.1,1260.4h0M1607.0,1238.4h0M1615.6,1239.8h0M1622.3,1242.6h0M1632.8,1234.6h0M1645.7,1227.4h0M1631.4,1258.8h0M1654.7,1252.2h0M1664.2,1242.6h0M1667.7,1256.0h0M1666.5,1263.6h0M1649.9,1266.5h0M1634.3,1189.7h0M1649.4,1192.0h0M1668.4,1181.5h0M1665.6,1197.8h0M1661.4,1215.5h0" stroke="#8c564b" stroke-width="10.2" stroke-linecap="round" fill="none"/>
<path d="M1335.6,1348.5h0M1354.6,1346.1h0M1393.4,1344.8h0M1409.5,1332.4h0M1423.3,1332.8h0M1444.6,1318.6h0M1482.1,1314.9h0M1453.2,1332.8h0M1460.6,1344.8h0M1479.3,1337.4h0M1478.4,1349.4h0M1419.3,1350.9h0M1437.2,1374.7h0M1454.4,1372.0h0M1477.8,1367.9h0M1471.0,1384.2h0M1388.2,1392.5h0M1431.1,1392.5h0M1408.2,1401.2h0M1482.4,1396.5h0M1378.1,1407.6h0M1414.1,1411.3h0M1433.5,1406.7h0M1450.1,1412.3h0M1476.0,1404.9h0M1391.9,1416.9h0M1405.8,1420.2h0M1427.0,1416.5h0M1461.7,1421.1h0M1481.5,1424.3h0M1426.1,1428.5h0M1469.5,1435.0h0M1426.6,1441.4h0M1483.9,1448.8h0M1453.8,1454.7h0M1392.3,1459.9h0M1433.8,1463.1h0M1248.7,1464.5h0M1266.3,1478.2h0M1420.2,1473.2h0M1412.2,1482.1h0M1386.9,1484.9h0M1400.2,1494.5h0M1418.7,1491.7h0M1489.1,1331.0h0M1493.3,1343.0h0M1511.4,1340.6h0M1521.0,1362.4h0M1543.2,1364.6h0M1565.9,1357.2h0M1589.9,1362.4h0M1606.0,1365.1h0M1624.5,1366.4h0M1514.6,1371.2h0M1512.7,1379.0h0M1534.5,1380.3h0M1545.6,1379.9h0M1495.7,1384.9h0M1516.4,1386.4h0M1518.6,1395.3h0M1535.8,1394.1h0M1546.9,1392.3h0M1529.7,1401.5h0M1606.9,1380.5h0M1607.3,1399.3h0M1582.9,1406.2h0M1601.4,1410.8h0M1514.2,1409.5h0M1552.4,1415.9h0M1562.6,1421.5h0M1571.8,1427.4h0M1554.3,1428.9h0M1597.3,1428.5h0M1488.7,1433.5h0M1516.8,1436.8h0M1543.7,1434.4h0M1532.7,1444.2h0M1500.1,1447.7h0M1509.6,1455.1h0M1582.0,1447.4h0M1536.4,1457.5h0M1554.8,1462.1h0M1576.8,1461.6h0M1517.9,1476.0h0M1540.1,1472.8h0M1553.4,1474.7h0M1570.0,1473.2h0M1530.8,1480.6h0M1541.9,1491.7h0M1524.2,1495.8h0" stroke="#ff7f0e" stroke-width="10.2" stroke-linecap="round" fill="none"/>
<rect x="588.2" y="1746.9" width="1185.7" height="393.1" fill="none" stroke="#000" stroke-width="1.8"/>
<line x1="608.50" y1="2140.00" x2="608.50" y2="2146.50" stroke="#000" stroke-width="1.6"/>
<text x="608.5" y="2175.0" style="font-family:'DejaVu Sans','Liberation Sans',sans-serif;font-size:21.5px;font-weight:normal" text-anchor="middle" fill="#1a1a1a" stroke="#1a1a1a" stroke-width="0.35">−2000</text>
<line x1="756.50" y1="2140.00" x2="756.50" y2="2146.50" stroke="#000" stroke-width="1.6"/>
<text x="756.5" y="2175.0" style="font-family:'DejaVu Sans','Liberation Sans',sans-serif;font-size:21.5px;font-weight:normal" text-anchor="middle" fill="#1a1a1a" stroke="#1a1a1a" stroke-width="0.35">−1000</text>
<line x1="904.50" y1="2140.00" x2="904.50" y2="2146.50" stroke="#000" stroke-width="1.6"/>
<text x="904.5" y="2175.0" style="font-family:'DejaVu Sans','Liberation Sans',sans-serif;font-size:21.5px;font-weight:normal" text-anchor="middle" fill="#1a1a1a" stroke="#1a1a1a" stroke-width="0.35">0</text>
<line x1="1052.50" y1="2140.00" x2="1052.50" y2="2146.50" stroke="#000" stroke-width="1.6"/>
<text x="1052.5" y="2175.0" style="font-family:'DejaVu Sans','Liberation Sans',sans-serif;font-size:21.5px;font-weight:normal" text-anchor="middle" fill="#1a1a1a" stroke="#1a1a1a" stroke-width="0.35">1000</text>
<line x1="1200.50" y1="2140.00" x2="1200.50" y2="2146.50" stroke="#000" stroke-width="1.6"/>
<text x="1200.5" y="2175.0" style="font-family:'DejaVu Sans','Liberation Sans',sans-serif;font-size:21.5px;font-weight:normal" text-anchor="middle" fill="#1a1a1a" stroke="#1a1a1a" stroke-width="0.35">2000</text>
<line x1="1348.50" y1="2140.00" x2="1348.50" y2="2146.50" stroke="#000" stroke-width="1.6"/>
<text x="1348.5" y="2175.0" style="font-family:'DejaVu Sans','Liberation Sans',sans-serif;font-size:21.5px;font-weight:normal" text-anchor="middle" fill="#1a1a1a" stroke="#1a1a1a" stroke-width="0.35">3000</text>
<line x1="1496.50" y1="2140.00" x2="1496.50" y2="2146.50" stroke="#000" stroke-width="1.6"/>
<text x="1496.5" y="2175.0" style="font-family:'DejaVu Sans','Liberation Sans',sans-serif;font-size:21.5px;font-weight:normal" text-anchor="middle" fill="#1a1a1a" stroke="#1a1a1a" stroke-width="0.35">4000</text>
<line x1="1644.50" y1="2140.00" x2="1644.50" y2="2146.50" stroke="#000" stroke-width="1.6"/>
<text x="1644.5" y="2175.0" style="font-family:'DejaVu Sans','Liberation Sans',sans-serif;font-size:21.5px;font-weight:normal" text-anchor="middle" fill="#1a1a1a" stroke="#1a1a1a" stroke-width="0.35">5000</text>
<line x1="581.20" y1="2127.50" x2="588.20" y2="2127.50" stroke="#000" stroke-width="1.6"/>
<text x="567.4" y="2135.1" style="font-family:'DejaVu Sans','Liberation Sans',sans-serif;font-size:21.5px;font-weight:normal" text-anchor="end" fill="#1a1a1a" stroke="#1a1a1a" stroke-width="0.35">0</text>
<line x1="581.20" y1="2071.43" x2="588.20" y2="2071.43" stroke="#000" stroke-width="1.6"/>
<text x="567.4" y="2079.0" style="font-family:'DejaVu Sans','Liberation Sans',sans-serif;font-size:21.5px;font-weight:normal" text-anchor="end" fill="#1a1a1a" stroke="#1a1a1a" stroke-width="0.35">500</text>
<line x1="581.20" y1="2015.37" x2="588.20" y2="2015.37" stroke="#000" stroke-width="1.6"/>
<text x="567.4" y="2023.0" style="font-family:'DejaVu Sans','Liberation Sans',sans-serif;font-size:21.5px;font-weight:normal" text-anchor="end" fill="#1a1a1a" stroke="#1a1a1a" stroke-width="0.35">1000</text>
<line x1="581.20" y1="1959.31" x2="588.20" y2="1959.31" stroke="#000" stroke-width="1.6"/>
<text x="567.4" y="1966.9" style="font-family:'DejaVu Sans','Liberation Sans',sans-serif;font-size:21.5px;font-weight:normal" text-anchor="end" fill="#1a1a1a" stroke="#1a1a1a" stroke-width="0.35">1500</text>
<line x1="581.20" y1="1903.24" x2="588.20" y2="1903.24" stroke="#000" stroke-width="1.6"/>
<text x="567.4" y="1910.8" style="font-family:'DejaVu Sans','Liberation Sans',sans-serif;font-size:21.5px;font-weight:normal" text-anchor="end" fill="#1a1a1a" stroke="#1a1a1a" stroke-width="0.35">2000</text>
<line x1="581.20" y1="1847.17" x2="588.20" y2="1847.17" stroke="#000" stroke-width="1.6"/>
<text x="567.4" y="1854.8" style="font-family:'DejaVu Sans','Liberation Sans',sans-serif;font-size:21.5px;font-weight:normal" text-anchor="end" fill="#1a1a1a" stroke="#1a1a1a" stroke-width="0.35">2500</text>
<line x1="581.20" y1="1791.11" x2="588.20" y2="1791.11" stroke="#000" stroke-width="1.6"/>
<text x="567.4" y="1798.7" style="font-family:'DejaVu Sans','Liberation Sans',sans-serif;font-size:21.5px;font-weight:normal" text-anchor="end" fill="#1a1a1a" stroke="#1a1a1a" stroke-width="0.35">3000</text>
<text x="493.0" y="1913.0" style="font-family:'DejaVu Sans','Liberation Sans',sans-serif;font-size:19px;font-weight:normal" text-anchor="middle" fill="#111" transform="rotate(-90 493.0 1913.0)" textLength="185.5" lengthAdjust="spacingAndGlyphs">y-coordinates (pixels)</text>
<text x="1151.5" y="2233.3" style="font-family:'DejaVu Sans','Liberation Sans',sans-serif;font-size:19px;font-weight:normal" text-anchor="middle" fill="#111" textLength="186.5" lengthAdjust="spacingAndGlyphs">x-coordinates (pixels)</text>
<text x="1152.0" y="2278.3" style="font-family:'Liberation Sans',Arial,sans-serif;font-size:19px;font-weight:normal" text-anchor="middle" fill="#111" textLength="187.5" lengthAdjust="spacingAndGlyphs">Hiearchical Clusters</text>
<path d="M653.2,1928.3h0M648.9,1998.8h0M692.3,2055.5h0M755.1,2111.6h0M822.5,1935.8h0M773.6,1969.4h0M868.6,2078.3h0M1577.9,2046.9h0M1519.7,1917.4h0M1548.0,1943.6h0M1565.9,1984.4h0M1555.8,1825.4h0M1617.8,1826.5h0" stroke="#2ca02c" stroke-width="8.4" stroke-linecap="round" fill="none"/>
<path d="M683.5,1933.3h0M653.9,1952.6h0M718.2,2005.9h0M737.6,1995.1h0M746.4,2056.8h0M735.7,2064.3h0M784.1,2122.3h0M648.6,2037.2h0M750.5,1941.4h0M705.2,1948.9h0M825.3,1982.9h0M846.5,1992.3h0M744.9,2036.8h0M794.4,2030.6h0M812.3,2059.6h0M764.3,2092.9h0M791.1,2096.1h0M952.4,1965.7h0M939.5,2041.8h0M1053.6,2056.8h0M910.0,2084.9h0M988.4,2090.5h0M1066.9,2105.4h0M1137.6,1948.9h0M1143.0,2000.7h0M1154.6,2068.0h0M1167.5,2100.8h0M1165.7,2113.5h0M1174.0,1958.6h0M1189.1,2033.4h0M1258.7,1958.2h0M1334.4,2049.3h0M1311.9,1939.3h0M1394.8,1939.3h0M1399.6,1953.0h0M1225.8,2104.5h0M1478.0,2099.8h0M1195.9,2001.1h0M1439.6,2025.9h0M1490.0,2068.6h0M1549.8,2054.0h0M1588.0,2067.1h0M1524.0,2096.1h0M1526.2,1935.8h0M1593.2,1917.1h0M1533.3,1793.1h0M1508.5,1875.8h0" stroke="#ff7f0e" stroke-width="8.4" stroke-linecap="round" fill="none"/>
<path d="M669.6,1951.1h0M685.3,1950.2h0M654.5,1990.0h0M692.9,2002.9h0M652.3,2011.9h0M680.3,2022.2h0M713.0,2053.1h0M641.6,2057.4h0M886.2,1998.8h0M770.8,1953.0h0M994.5,1947.4h0M1024.1,1951.1h0M958.9,2017.5h0M1117.7,2089.9h0M943.2,2091.4h0M1216.6,1992.3h0M1277.2,1988.0h0M1356.2,1973.6h0M1385.2,1982.4h0M1264.8,2020.3h0M1538.7,2063.9h0M1559.4,2094.8h0M1532.1,1925.5h0M1527.1,1956.3h0M1566.8,2001.1h0M1594.1,1998.8h0M1588.0,1905.3h0M1705.3,1909.4h0M1591.1,1782.5h0M1587.6,1860.2h0M1672.5,1881.0h0M1696.9,1786.9h0M1715.6,1882.0h0M1694.1,1846.6h0" stroke="#9467bd" stroke-width="8.4" stroke-linecap="round" fill="none"/>
<path d="M663.3,1977.9h0M674.0,2052.5h0M748.3,2047.5h0M664.1,2103.6h0M811.4,1937.6h0M951.5,1943.6h0M934.3,1969.3h0M907.2,1986.7h0M1048.4,1958.2h0M1002.3,2019.4h0M987.1,2014.7h0M921.4,2038.1h0M1030.0,2038.7h0M1031.4,2089.2h0M1174.9,2004.4h0M1167.1,2056.2h0M1165.7,2011.9h0M1286.4,1982.9h0M1343.6,1981.6h0M1430.9,1988.5h0M1370.0,2018.5h0M1231.0,2037.2h0M1287.3,2093.3h0M1482.4,2083.0h0M1421.7,2061.1h0M1414.3,2020.3h0M1467.9,2040.5h0M1522.5,2005.4h0M1522.9,2056.4h0M1509.6,1905.8h0M1535.4,1955.8h0M1541.9,1957.7h0M1668.0,1937.6h0M1590.8,2014.3h0M1625.5,2069.9h0M1680.3,1902.1h0M1694.7,1913.7h0M1596.9,1932.4h0M1581.5,1802.8h0M1587.3,1823.1h0M1651.7,1844.3h0" stroke="#d62728" stroke-width="8.4" stroke-linecap="round" fill="none"/>
<path d="M748.3,2001.6h0M748.3,2014.7h0M692.0,2045.2h0M867.7,1932.8h0M820.6,1972.6h0M1068.4,2043.7h0M1063.2,1999.4h0M1218.6,2061.1h0M1225.5,2045.6h0M1628.1,2082.4h0M1625.0,1907.5h0M1568.6,1820.2h0M1526.8,1826.9h0M1621.6,1856.9h0M1628.3,1859.8h0M1560.5,1813.4h0M1695.6,1829.8h0M1711.2,1834.7h0M1684.2,1838.1h0M1699.2,1840.1h0M1709.3,1873.3h0" stroke="#8c564b" stroke-width="8.4" stroke-linecap="round" fill="none"/>
<path d="M799.8,1944.6h0M865.9,2012.5h0M720.0,1914.6h0M743.1,1915.6h0M785.6,1924.0h0M850.2,1919.7h0M720.9,1930.2h0M733.9,1929.6h0M740.3,1934.3h0M775.4,1932.4h0M815.1,1929.6h0M834.5,1928.3h0M760.6,1946.4h0M780.9,1945.1h0M845.6,1940.3h0M863.1,1947.0h0M719.1,1953.4h0M733.5,1947.7h0M753.3,1955.2h0M809.2,1953.0h0M817.3,1947.9h0M873.3,1955.8h0M851.1,1961.4h0M737.9,1965.7h0M756.0,1969.8h0M804.0,1967.0h0M824.7,1961.4h0M720.0,1972.6h0M732.0,1977.7h0M736.6,1985.7h0M768.0,1986.3h0M783.3,1985.7h0M802.5,1981.0h0M836.3,1978.2h0M820.6,1988.5h0M781.9,1992.3h0M793.9,1990.4h0M758.8,1992.3h0M716.3,1991.9h0M776.3,2009.5h0M792.9,2010.0h0M766.2,2016.6h0M847.4,2012.5h0M858.5,2027.8h0M872.3,2025.0h0M731.1,2028.7h0M829.3,2035.3h0M816.0,2041.8h0M814.2,2048.4h0M842.8,2048.8h0M869.6,2050.6h0M765.3,2048.8h0M772.6,2054.9h0M833.2,2061.5h0M854.8,2063.0h0M873.3,2066.2h0M765.3,2066.2h0M740.3,2081.1h0M752.3,2085.8h0M768.6,2081.1h0M817.9,2083.9h0M842.8,2083.9h0M869.6,2085.8h0M736.6,2098.9h0M819.7,2098.0h0M831.7,2098.0h0M867.7,2097.0h0M777.8,2104.5h0M834.5,2107.9h0M779.1,2113.5h0M816.9,2112.9h0M801.3,2118.5h0M867.7,2112.9h0M930.6,1954.5h0M902.6,2074.6h0M1078.9,2066.2h0M915.9,2024.4h0" stroke="#1f77b4" stroke-width="8.4" stroke-linecap="round" fill="none"/>
<path d="M878.8,2020.3h0M831.3,1943.6h0M885.3,2056.8h0M780.0,2070.8h0M882.5,2076.5h0M980.7,1922.1h0M984.7,1930.5h0M963.1,1927.7h0M975.5,1938.9h0M1001.4,1935.2h0M1005.0,1943.6h0M958.3,1952.0h0M971.8,1950.7h0M981.6,1958.2h0M1004.1,1960.1h0M941.4,1960.5h0M912.7,1962.3h0M909.6,1975.4h0M920.1,1985.7h0M934.9,1986.1h0M911.8,1998.8h0M938.6,1999.2h0M927.1,2005.4h0M894.3,2005.4h0M895.2,2016.6h0M1023.5,1943.6h0M1023.5,1959.5h0M1025.4,1967.0h0M1030.9,1977.9h0M1047.0,1947.4h0M1047.0,1969.4h0M1053.6,1936.5h0M1059.9,1945.5h0M1056.4,1979.2h0M1081.7,1979.2h0M1066.5,1989.5h0M1011.9,1995.1h0M1024.8,1996.0h0M1043.8,1996.6h0M1003.6,2006.3h0M966.3,2003.5h0M954.3,2008.7h0M957.6,2027.4h0M986.0,2025.9h0M977.4,2036.8h0M991.2,2040.0h0M991.6,2048.8h0M933.0,2026.9h0M905.0,2033.0h0M946.5,2051.6h0M1017.0,2032.5h0M1050.6,2040.0h0M1064.1,2051.2h0M1044.7,2064.3h0M1066.0,2024.1h0M1088.1,2024.1h0M1107.5,2005.0h0M975.5,2056.8h0M975.5,2064.3h0M1005.4,2058.1h0M1021.1,2059.6h0M1025.4,2069.9h0M1026.3,2079.3h0M1008.2,2069.9h0M998.6,2077.4h0M983.8,2074.6h0M971.3,2074.6h0M959.4,2066.2h0M934.0,2066.7h0M910.3,2098.9h0M926.6,2098.5h0M945.0,2104.9h0M957.6,2097.4h0M992.1,2106.0h0M989.4,2121.3h0M1069.7,2066.7h0M1087.6,2082.4h0M1102.9,2071.8h0M1108.4,2082.1h0M1128.7,2082.1h0M1118.2,2104.5h0M989.9,2060.5h0M1167.5,2087.7h0M1186.9,2097.0h0M1185.4,1969.8h0M1122.3,2054.0h0M1364.8,1991.7h0M1294.7,2019.4h0M1337.2,2018.8h0M1283.1,2052.5h0M1300.2,2054.0h0M1315.0,2055.5h0M1305.8,2068.0h0" stroke="#e377c2" stroke-width="8.4" stroke-linecap="round" fill="none"/>
<path d="M1186.9,2083.9h0M1153.7,1944.6h0M1138.5,1964.2h0M1159.8,1975.1h0M1185.0,1942.7h0M1186.5,1926.8h0M1185.0,2014.7h0M1144.8,2051.2h0M1224.9,1922.7h0M1268.8,1931.8h0M1290.1,1936.5h0M1275.3,1949.2h0M1312.2,1950.2h0M1218.6,1962.3h0M1240.2,1958.0h0M1274.0,1966.6h0M1226.0,1988.5h0M1251.3,1987.2h0M1312.2,1982.9h0M1383.7,1961.4h0M1380.5,1972.6h0M1358.8,2002.9h0M1294.3,2000.7h0M1326.1,1999.7h0M1258.1,2014.7h0M1323.3,2027.4h0M1340.8,2034.4h0M1228.6,2022.8h0M1207.4,2028.2h0M1268.8,2031.6h0M1205.2,2046.5h0M1292.5,2040.9h0M1319.2,2041.8h0M1330.7,2069.0h0M1352.3,2073.3h0M1198.3,2069.3h0M1324.6,2089.5h0M1363.0,2106.4h0M1213.1,2119.5h0M1221.8,2000.7h0M1322.4,1963.3h0M1253.5,2063.9h0M1229.2,2080.2h0M1341.8,1967.0h0M1399.6,1963.3h0M1415.6,1950.7h0M1450.7,1936.7h0M1459.4,1951.1h0M1443.3,1993.6h0M1394.4,2011.5h0M1437.2,2011.5h0M1488.5,2015.7h0M1433.2,2035.9h0M1432.2,2048.0h0M1432.8,2061.1h0M1398.4,2079.8h0M1426.3,2093.3h0M1393.1,2105.1h0M1406.4,2114.8h0M1517.5,1959.0h0M1527.1,1981.0h0M1549.3,1983.3h0M1572.0,1975.8h0M1520.6,1990.0h0M1501.8,2003.9h0M1524.7,2014.3h0M1506.2,2067.5h0M1518.4,1940.8h0M1636.0,1891.6h0M1572.0,1915.0h0M1543.4,1764.1h0M1508.5,1791.2h0M1535.4,1805.7h0M1531.4,1841.4h0M1594.9,1869.4h0M1537.7,1877.8h0" stroke="#7f7f7f" stroke-width="8.4" stroke-linecap="round" fill="none"/>
<path d="M1187.8,1981.0h0M1408.2,1997.5h0M1372.2,2071.8h0M1552.9,2011.3h0M1515.7,2075.0h0M1576.0,2093.3h0M1673.9,1894.6h0M1519.9,1839.9h0M1613.0,1855.5h0M1673.7,1873.3h0M1687.8,1799.9h0M1696.0,1813.4h0M1689.9,1859.4h0M1718.9,1854.6h0" stroke="#17becf" stroke-width="8.4" stroke-linecap="round" fill="none"/>
<path d="M1344.9,2061.1h0M1348.2,2088.0h0M1344.2,2106.8h0M1234.3,2116.1h0M1360.8,1964.6h0M1429.5,1951.1h0M1488.2,1933.0h0M1466.8,1963.3h0M1485.4,1955.8h0M1484.5,1967.9h0M1425.4,1969.4h0M1460.5,1990.8h0M1483.9,1986.7h0M1477.1,2003.1h0M1384.2,2026.9h0M1420.2,2030.6h0M1456.2,2031.6h0M1482.1,2024.1h0M1398.1,2036.2h0M1411.9,2039.6h0M1487.6,2043.7h0M1475.6,2054.6h0M1459.9,2074.6h0M1440.0,2083.0h0M1255.0,2084.5h0M1272.5,2098.3h0M1418.4,2102.3h0M1424.8,2112.0h0M1495.2,1949.2h0M1499.4,1961.4h0M1596.0,1981.0h0M1612.0,1983.8h0M1630.5,1985.2h0M1518.8,1997.9h0M1540.6,1999.2h0M1551.7,1998.8h0M1541.9,2013.2h0M1535.8,2020.7h0M1613.0,1999.4h0M1613.3,2018.5h0M1588.9,2025.4h0M1607.4,2030.1h0M1520.3,2028.7h0M1558.5,2035.3h0M1568.6,2040.9h0M1560.3,2048.4h0M1603.3,2048.0h0M1494.8,2053.1h0M1542.4,2077.4h0M1560.9,2082.1h0M1582.9,2081.5h0M1546.1,2092.9h0M1536.9,2100.8h0M1548.0,2112.0h0M1530.2,2116.1h0M1548.0,1920.2h0M1543.7,1928.7h0M1548.0,1937.1h0M1559.8,1951.5h0M1569.6,1897.2h0M1619.4,1892.7h0M1542.4,1906.8h0M1557.9,1912.8h0M1605.9,1910.9h0M1657.3,1899.1h0M1652.6,1905.8h0M1668.0,1905.3h0M1675.7,1928.3h0M1581.2,1938.0h0M1595.4,1942.3h0M1618.5,1932.0h0M1584.7,1961.4h0M1479.1,1775.3h0M1477.6,1793.1h0M1494.4,1795.0h0M1493.2,1813.4h0M1524.7,1814.4h0M1558.3,1782.1h0M1566.3,1790.8h0M1580.2,1786.9h0M1587.3,1768.0h0M1614.5,1770.9h0M1597.4,1799.5h0M1580.6,1814.4h0M1509.6,1827.9h0M1564.9,1836.6h0M1575.8,1846.2h0M1473.8,1859.8h0M1486.2,1868.5h0M1519.2,1862.3h0M1542.0,1860.4h0M1566.3,1862.7h0M1611.1,1877.8h0M1638.8,1851.7h0M1637.4,1876.2h0M1660.7,1869.4h0M1670.2,1859.8h0M1655.9,1883.9h0M1640.3,1806.2h0M1655.4,1808.6h0M1674.4,1797.9h0M1671.6,1814.4h0M1667.4,1832.3h0M1549.5,1810.5h0M1574.5,1807.6h0" stroke="#bcbd22" stroke-width="8.4" stroke-linecap="round" fill="none"/>
</svg></body></html>
